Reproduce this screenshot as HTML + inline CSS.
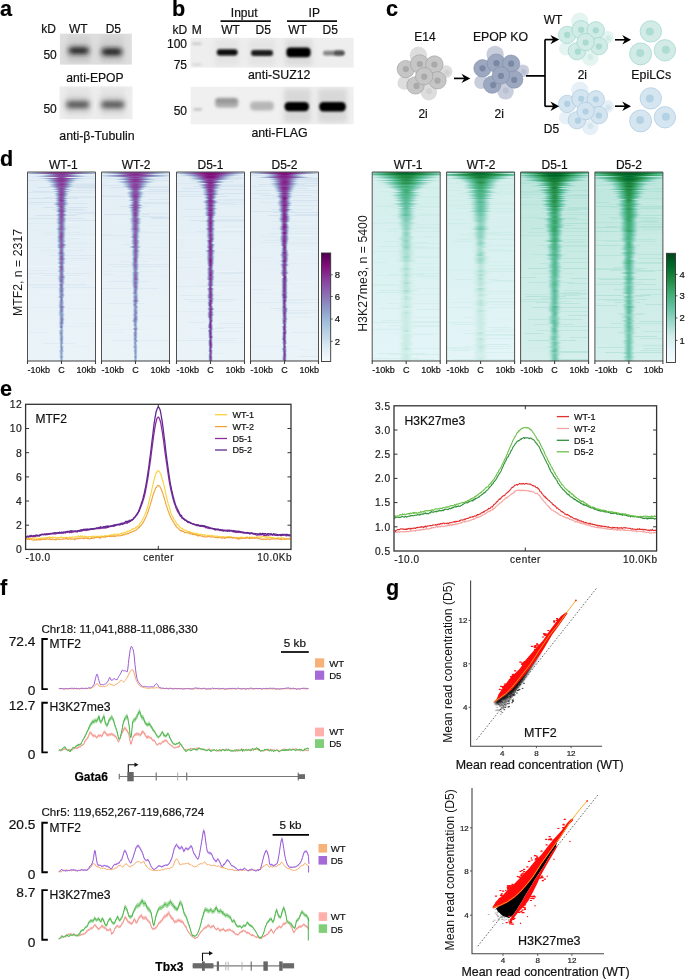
<!DOCTYPE html>
<html><head><meta charset="utf-8"><title>Figure</title><style>html,body{margin:0;padding:0;background:#fff}body{width:685px;height:979px;overflow:hidden;position:relative;font-family:"Liberation Sans",sans-serif}svg.main{position:absolute;left:0;top:0;font-family:"Liberation Sans",sans-serif;will-change:transform}</style></head><body><svg class="main" width="685" height="979" viewBox="0 0 685 979"><defs><linearGradient id="p0"><stop offset="0.000" stop-color="#e6f0f7" stop-opacity="0.00"/><stop offset="0.100" stop-color="#e6f0f6" stop-opacity="0.01"/><stop offset="0.200" stop-color="#e4eff6" stop-opacity="0.23"/><stop offset="0.275" stop-color="#dce9f2" stop-opacity="0.96"/><stop offset="0.350" stop-color="#c9daea"/><stop offset="0.410" stop-color="#bacfe4"/><stop offset="0.460" stop-color="#b3cbe2"/><stop offset="0.500" stop-color="#b2cae1"/><stop offset="0.540" stop-color="#b3cbe2"/><stop offset="0.590" stop-color="#bacfe4"/><stop offset="0.650" stop-color="#c9daea"/><stop offset="0.725" stop-color="#dce9f2" stop-opacity="0.96"/><stop offset="0.800" stop-color="#e4eff6" stop-opacity="0.23"/><stop offset="0.900" stop-color="#e6f0f6" stop-opacity="0.01"/><stop offset="1.000" stop-color="#e6f0f7" stop-opacity="0.00"/></linearGradient><linearGradient id="p1"><stop offset="0.000" stop-color="#e6f0f7" stop-opacity="0.00"/><stop offset="0.100" stop-color="#e6f0f6" stop-opacity="0.01"/><stop offset="0.200" stop-color="#e4eff6" stop-opacity="0.23"/><stop offset="0.275" stop-color="#dae7f1" stop-opacity="0.96"/><stop offset="0.350" stop-color="#c4d6e8"/><stop offset="0.410" stop-color="#b2cae1"/><stop offset="0.460" stop-color="#aac5de"/><stop offset="0.500" stop-color="#a9c4de"/><stop offset="0.540" stop-color="#aac5de"/><stop offset="0.590" stop-color="#b2cae1"/><stop offset="0.650" stop-color="#c4d6e8"/><stop offset="0.725" stop-color="#dae7f1" stop-opacity="0.96"/><stop offset="0.800" stop-color="#e4eff6" stop-opacity="0.23"/><stop offset="0.900" stop-color="#e6f0f6" stop-opacity="0.01"/><stop offset="1.000" stop-color="#e6f0f7" stop-opacity="0.00"/></linearGradient><linearGradient id="p2"><stop offset="0.000" stop-color="#e6f0f7" stop-opacity="0.00"/><stop offset="0.100" stop-color="#e6f0f6" stop-opacity="0.01"/><stop offset="0.200" stop-color="#e3eef5" stop-opacity="0.23"/><stop offset="0.275" stop-color="#d8e6f0" stop-opacity="0.96"/><stop offset="0.350" stop-color="#bed3e6"/><stop offset="0.410" stop-color="#aac5df"/><stop offset="0.460" stop-color="#a1bedb"/><stop offset="0.500" stop-color="#a0bddb"/><stop offset="0.540" stop-color="#a1bedb"/><stop offset="0.590" stop-color="#aac5df"/><stop offset="0.650" stop-color="#bed3e6"/><stop offset="0.725" stop-color="#d8e6f0" stop-opacity="0.96"/><stop offset="0.800" stop-color="#e3eef5" stop-opacity="0.23"/><stop offset="0.900" stop-color="#e6f0f6" stop-opacity="0.01"/><stop offset="1.000" stop-color="#e6f0f7" stop-opacity="0.00"/></linearGradient><linearGradient id="p3"><stop offset="0.000" stop-color="#e6f0f7" stop-opacity="0.00"/><stop offset="0.100" stop-color="#e6f0f6" stop-opacity="0.01"/><stop offset="0.200" stop-color="#e3eef5" stop-opacity="0.23"/><stop offset="0.275" stop-color="#d5e4f0" stop-opacity="0.96"/><stop offset="0.350" stop-color="#b9cfe4"/><stop offset="0.410" stop-color="#a3bfdc"/><stop offset="0.460" stop-color="#9bb6d7"/><stop offset="0.500" stop-color="#9ab4d6"/><stop offset="0.540" stop-color="#9bb6d7"/><stop offset="0.590" stop-color="#a3bfdc"/><stop offset="0.650" stop-color="#b9cfe4"/><stop offset="0.725" stop-color="#d5e4f0" stop-opacity="0.96"/><stop offset="0.800" stop-color="#e3eef5" stop-opacity="0.23"/><stop offset="0.900" stop-color="#e6f0f6" stop-opacity="0.01"/><stop offset="1.000" stop-color="#e6f0f7" stop-opacity="0.00"/></linearGradient><linearGradient id="p4"><stop offset="0.000" stop-color="#e6f0f7" stop-opacity="0.00"/><stop offset="0.100" stop-color="#e6f0f6" stop-opacity="0.01"/><stop offset="0.200" stop-color="#e3eef5" stop-opacity="0.23"/><stop offset="0.275" stop-color="#d3e2ef" stop-opacity="0.96"/><stop offset="0.350" stop-color="#b4cbe2"/><stop offset="0.410" stop-color="#9cb9d8"/><stop offset="0.460" stop-color="#96acd1"/><stop offset="0.500" stop-color="#95a9d0"/><stop offset="0.540" stop-color="#96acd1"/><stop offset="0.590" stop-color="#9cb9d8"/><stop offset="0.650" stop-color="#b4cbe2"/><stop offset="0.725" stop-color="#d3e2ef" stop-opacity="0.96"/><stop offset="0.800" stop-color="#e3eef5" stop-opacity="0.23"/><stop offset="0.900" stop-color="#e6f0f6" stop-opacity="0.01"/><stop offset="1.000" stop-color="#e6f0f7" stop-opacity="0.00"/></linearGradient><linearGradient id="p5"><stop offset="0.000" stop-color="#e6f0f7" stop-opacity="0.00"/><stop offset="0.100" stop-color="#e6f0f6" stop-opacity="0.01"/><stop offset="0.200" stop-color="#e2eef5" stop-opacity="0.23"/><stop offset="0.275" stop-color="#d1e1ee" stop-opacity="0.96"/><stop offset="0.350" stop-color="#afc8e0"/><stop offset="0.410" stop-color="#98b0d4"/><stop offset="0.460" stop-color="#91a1cc"/><stop offset="0.500" stop-color="#909fcb"/><stop offset="0.540" stop-color="#91a1cc"/><stop offset="0.590" stop-color="#98b0d4"/><stop offset="0.650" stop-color="#afc8e0"/><stop offset="0.725" stop-color="#d1e1ee" stop-opacity="0.96"/><stop offset="0.800" stop-color="#e2eef5" stop-opacity="0.23"/><stop offset="0.900" stop-color="#e6f0f6" stop-opacity="0.01"/><stop offset="1.000" stop-color="#e6f0f7" stop-opacity="0.00"/></linearGradient><linearGradient id="p6"><stop offset="0.000" stop-color="#e6f0f7" stop-opacity="0.00"/><stop offset="0.100" stop-color="#e6f0f6" stop-opacity="0.01"/><stop offset="0.200" stop-color="#e2edf5" stop-opacity="0.23"/><stop offset="0.275" stop-color="#cfdfed" stop-opacity="0.96"/><stop offset="0.350" stop-color="#a9c4de"/><stop offset="0.410" stop-color="#94a7cf"/><stop offset="0.460" stop-color="#8d97c7"/><stop offset="0.500" stop-color="#8c94c5"/><stop offset="0.540" stop-color="#8d97c7"/><stop offset="0.590" stop-color="#94a7cf"/><stop offset="0.650" stop-color="#a9c4de"/><stop offset="0.725" stop-color="#cfdfed" stop-opacity="0.96"/><stop offset="0.800" stop-color="#e2edf5" stop-opacity="0.23"/><stop offset="0.900" stop-color="#e6f0f6" stop-opacity="0.01"/><stop offset="1.000" stop-color="#e6f0f7" stop-opacity="0.00"/></linearGradient><linearGradient id="p7"><stop offset="0.000" stop-color="#e6f0f7" stop-opacity="0.00"/><stop offset="0.100" stop-color="#e6f0f6" stop-opacity="0.01"/><stop offset="0.200" stop-color="#e2edf5" stop-opacity="0.23"/><stop offset="0.275" stop-color="#cdddec" stop-opacity="0.96"/><stop offset="0.350" stop-color="#a4c0dc"/><stop offset="0.410" stop-color="#909eca"/><stop offset="0.460" stop-color="#8c8cc1"/><stop offset="0.500" stop-color="#8c88bf"/><stop offset="0.540" stop-color="#8c8cc1"/><stop offset="0.590" stop-color="#909eca"/><stop offset="0.650" stop-color="#a4c0dc"/><stop offset="0.725" stop-color="#cdddec" stop-opacity="0.96"/><stop offset="0.800" stop-color="#e2edf5" stop-opacity="0.23"/><stop offset="0.900" stop-color="#e6f0f6" stop-opacity="0.01"/><stop offset="1.000" stop-color="#e6f0f7" stop-opacity="0.00"/></linearGradient><linearGradient id="p8"><stop offset="0.000" stop-color="#e6f0f7" stop-opacity="0.00"/><stop offset="0.100" stop-color="#e6f0f6" stop-opacity="0.01"/><stop offset="0.200" stop-color="#e1edf4" stop-opacity="0.23"/><stop offset="0.275" stop-color="#cbdceb" stop-opacity="0.96"/><stop offset="0.350" stop-color="#9fbcda"/><stop offset="0.410" stop-color="#8c95c6"/><stop offset="0.460" stop-color="#8c80bb"/><stop offset="0.500" stop-color="#8c7dba"/><stop offset="0.540" stop-color="#8c80bb"/><stop offset="0.590" stop-color="#8c95c6"/><stop offset="0.650" stop-color="#9fbcda"/><stop offset="0.725" stop-color="#cbdceb" stop-opacity="0.96"/><stop offset="0.800" stop-color="#e1edf4" stop-opacity="0.23"/><stop offset="0.900" stop-color="#e6f0f6" stop-opacity="0.01"/><stop offset="1.000" stop-color="#e6f0f7" stop-opacity="0.00"/></linearGradient><linearGradient id="p9"><stop offset="0.000" stop-color="#e6f0f7" stop-opacity="0.00"/><stop offset="0.100" stop-color="#e6f0f6" stop-opacity="0.01"/><stop offset="0.200" stop-color="#e1edf4" stop-opacity="0.23"/><stop offset="0.275" stop-color="#c8daea" stop-opacity="0.96"/><stop offset="0.350" stop-color="#9cb7d7"/><stop offset="0.410" stop-color="#8c8bc1"/><stop offset="0.460" stop-color="#8c75b6"/><stop offset="0.500" stop-color="#8c71b4"/><stop offset="0.540" stop-color="#8c75b6"/><stop offset="0.590" stop-color="#8c8bc1"/><stop offset="0.650" stop-color="#9cb7d7"/><stop offset="0.725" stop-color="#c8daea" stop-opacity="0.96"/><stop offset="0.800" stop-color="#e1edf4" stop-opacity="0.23"/><stop offset="0.900" stop-color="#e6f0f6" stop-opacity="0.01"/><stop offset="1.000" stop-color="#e6f0f7" stop-opacity="0.00"/></linearGradient><linearGradient id="p10"><stop offset="0.000" stop-color="#e6f0f7" stop-opacity="0.00"/><stop offset="0.100" stop-color="#e6f0f6" stop-opacity="0.01"/><stop offset="0.200" stop-color="#e1ecf4" stop-opacity="0.23"/><stop offset="0.275" stop-color="#c6d8e9" stop-opacity="0.96"/><stop offset="0.350" stop-color="#99b1d4"/><stop offset="0.410" stop-color="#8c81bc"/><stop offset="0.460" stop-color="#8c69b0"/><stop offset="0.500" stop-color="#8b65ae"/><stop offset="0.540" stop-color="#8c69b0"/><stop offset="0.590" stop-color="#8c81bc"/><stop offset="0.650" stop-color="#99b1d4"/><stop offset="0.725" stop-color="#c6d8e9" stop-opacity="0.96"/><stop offset="0.800" stop-color="#e1ecf4" stop-opacity="0.23"/><stop offset="0.900" stop-color="#e6f0f6" stop-opacity="0.01"/><stop offset="1.000" stop-color="#e6f0f7" stop-opacity="0.00"/></linearGradient><linearGradient id="p11"><stop offset="0.000" stop-color="#e6f0f7" stop-opacity="0.00"/><stop offset="0.100" stop-color="#e6f0f6" stop-opacity="0.01"/><stop offset="0.200" stop-color="#e0ecf4" stop-opacity="0.23"/><stop offset="0.275" stop-color="#c4d7e8" stop-opacity="0.96"/><stop offset="0.350" stop-color="#96abd1"/><stop offset="0.410" stop-color="#8c77b7"/><stop offset="0.460" stop-color="#8b5eab"/><stop offset="0.500" stop-color="#8a5aa9"/><stop offset="0.540" stop-color="#8b5eab"/><stop offset="0.590" stop-color="#8c77b7"/><stop offset="0.650" stop-color="#96abd1"/><stop offset="0.725" stop-color="#c4d7e8" stop-opacity="0.96"/><stop offset="0.800" stop-color="#e0ecf4" stop-opacity="0.23"/><stop offset="0.900" stop-color="#e6f0f6" stop-opacity="0.01"/><stop offset="1.000" stop-color="#e6f0f7" stop-opacity="0.00"/></linearGradient><linearGradient id="p12"><stop offset="0.000" stop-color="#e6f0f7" stop-opacity="0.00"/><stop offset="0.100" stop-color="#e6f0f6" stop-opacity="0.01"/><stop offset="0.200" stop-color="#e0ecf4" stop-opacity="0.23"/><stop offset="0.275" stop-color="#c2d5e7" stop-opacity="0.96"/><stop offset="0.350" stop-color="#93a5ce"/><stop offset="0.410" stop-color="#8c6db2"/><stop offset="0.460" stop-color="#8a53a6"/><stop offset="0.500" stop-color="#894ea3"/><stop offset="0.540" stop-color="#8a53a6"/><stop offset="0.590" stop-color="#8c6db2"/><stop offset="0.650" stop-color="#93a5ce"/><stop offset="0.725" stop-color="#c2d5e7" stop-opacity="0.96"/><stop offset="0.800" stop-color="#e0ecf4" stop-opacity="0.23"/><stop offset="0.900" stop-color="#e6f0f6" stop-opacity="0.01"/><stop offset="1.000" stop-color="#e6f0f7" stop-opacity="0.00"/></linearGradient><linearGradient id="p13"><stop offset="0.000" stop-color="#e6f0f7" stop-opacity="0.00"/><stop offset="0.100" stop-color="#e6f0f6" stop-opacity="0.01"/><stop offset="0.200" stop-color="#dfebf4" stop-opacity="0.23"/><stop offset="0.275" stop-color="#c0d4e6" stop-opacity="0.96"/><stop offset="0.350" stop-color="#909eca"/><stop offset="0.410" stop-color="#8b63ad"/><stop offset="0.460" stop-color="#8948a0"/><stop offset="0.500" stop-color="#88439e"/><stop offset="0.540" stop-color="#8948a0"/><stop offset="0.590" stop-color="#8b63ad"/><stop offset="0.650" stop-color="#909eca"/><stop offset="0.725" stop-color="#c0d4e6" stop-opacity="0.96"/><stop offset="0.800" stop-color="#dfebf4" stop-opacity="0.23"/><stop offset="0.900" stop-color="#e6f0f6" stop-opacity="0.01"/><stop offset="1.000" stop-color="#e6f0f7" stop-opacity="0.00"/></linearGradient><linearGradient id="p14"><stop offset="0.000" stop-color="#e6f0f7" stop-opacity="0.00"/><stop offset="0.100" stop-color="#e6f0f6" stop-opacity="0.01"/><stop offset="0.200" stop-color="#dfebf3" stop-opacity="0.23"/><stop offset="0.275" stop-color="#bdd2e5" stop-opacity="0.96"/><stop offset="0.350" stop-color="#8d98c7"/><stop offset="0.410" stop-color="#8a59a8"/><stop offset="0.460" stop-color="#873c99"/><stop offset="0.500" stop-color="#863595"/><stop offset="0.540" stop-color="#873c99"/><stop offset="0.590" stop-color="#8a59a8"/><stop offset="0.650" stop-color="#8d98c7"/><stop offset="0.725" stop-color="#bdd2e5" stop-opacity="0.96"/><stop offset="0.800" stop-color="#dfebf3" stop-opacity="0.23"/><stop offset="0.900" stop-color="#e6f0f6" stop-opacity="0.01"/><stop offset="1.000" stop-color="#e6f0f7" stop-opacity="0.00"/></linearGradient><linearGradient id="p15"><stop offset="0.000" stop-color="#e6f0f7" stop-opacity="0.00"/><stop offset="0.100" stop-color="#e6f0f6" stop-opacity="0.01"/><stop offset="0.200" stop-color="#deebf3" stop-opacity="0.23"/><stop offset="0.275" stop-color="#bbd0e5" stop-opacity="0.96"/><stop offset="0.350" stop-color="#8c92c4"/><stop offset="0.410" stop-color="#894fa4"/><stop offset="0.460" stop-color="#852e91"/><stop offset="0.500" stop-color="#84288c"/><stop offset="0.540" stop-color="#852e91"/><stop offset="0.590" stop-color="#894fa4"/><stop offset="0.650" stop-color="#8c92c4"/><stop offset="0.725" stop-color="#bbd0e5" stop-opacity="0.96"/><stop offset="0.800" stop-color="#deebf3" stop-opacity="0.23"/><stop offset="0.900" stop-color="#e6f0f6" stop-opacity="0.01"/><stop offset="1.000" stop-color="#e6f0f7" stop-opacity="0.00"/></linearGradient><linearGradient id="p16"><stop offset="0.000" stop-color="#e6f0f7" stop-opacity="0.00"/><stop offset="0.100" stop-color="#e6f0f6" stop-opacity="0.01"/><stop offset="0.200" stop-color="#deeaf3" stop-opacity="0.23"/><stop offset="0.275" stop-color="#b9cfe4" stop-opacity="0.96"/><stop offset="0.350" stop-color="#8c8bc1"/><stop offset="0.410" stop-color="#88459f"/><stop offset="0.460" stop-color="#832188"/><stop offset="0.500" stop-color="#831a83"/><stop offset="0.540" stop-color="#832188"/><stop offset="0.590" stop-color="#88459f"/><stop offset="0.650" stop-color="#8c8bc1"/><stop offset="0.725" stop-color="#b9cfe4" stop-opacity="0.96"/><stop offset="0.800" stop-color="#deeaf3" stop-opacity="0.23"/><stop offset="0.900" stop-color="#e6f0f6" stop-opacity="0.01"/><stop offset="1.000" stop-color="#e6f0f7" stop-opacity="0.00"/></linearGradient><linearGradient id="p17"><stop offset="0.000" stop-color="#e6f0f7" stop-opacity="0.00"/><stop offset="0.100" stop-color="#e6f0f6" stop-opacity="0.01"/><stop offset="0.200" stop-color="#ddeaf3" stop-opacity="0.23"/><stop offset="0.275" stop-color="#b7cde3" stop-opacity="0.96"/><stop offset="0.350" stop-color="#8c84bd"/><stop offset="0.410" stop-color="#873b99"/><stop offset="0.460" stop-color="#82137f"/><stop offset="0.500" stop-color="#7e0e79"/><stop offset="0.540" stop-color="#82137f"/><stop offset="0.590" stop-color="#873b99"/><stop offset="0.650" stop-color="#8c84bd"/><stop offset="0.725" stop-color="#b7cde3" stop-opacity="0.96"/><stop offset="0.800" stop-color="#ddeaf3" stop-opacity="0.23"/><stop offset="0.900" stop-color="#e6f0f6" stop-opacity="0.01"/><stop offset="1.000" stop-color="#e6f0f7" stop-opacity="0.00"/></linearGradient><linearGradient id="p18"><stop offset="0.000" stop-color="#e6f0f7" stop-opacity="0.00"/><stop offset="0.100" stop-color="#e6f0f6" stop-opacity="0.01"/><stop offset="0.200" stop-color="#dde9f3" stop-opacity="0.23"/><stop offset="0.275" stop-color="#b5cce2" stop-opacity="0.96"/><stop offset="0.350" stop-color="#8c7dba"/><stop offset="0.410" stop-color="#852f91"/><stop offset="0.460" stop-color="#780c73"/><stop offset="0.500" stop-color="#700a6c"/><stop offset="0.540" stop-color="#780c73"/><stop offset="0.590" stop-color="#852f91"/><stop offset="0.650" stop-color="#8c7dba"/><stop offset="0.725" stop-color="#b5cce2" stop-opacity="0.96"/><stop offset="0.800" stop-color="#dde9f3" stop-opacity="0.23"/><stop offset="0.900" stop-color="#e6f0f6" stop-opacity="0.01"/><stop offset="1.000" stop-color="#e6f0f7" stop-opacity="0.00"/></linearGradient><linearGradient id="p19"><stop offset="0.000" stop-color="#e6f0f7" stop-opacity="0.00"/><stop offset="0.100" stop-color="#e6f0f6" stop-opacity="0.01"/><stop offset="0.200" stop-color="#dce9f2" stop-opacity="0.23"/><stop offset="0.275" stop-color="#b3cae1" stop-opacity="0.96"/><stop offset="0.350" stop-color="#8c76b7"/><stop offset="0.410" stop-color="#842389"/><stop offset="0.460" stop-color="#6a0866"/><stop offset="0.500" stop-color="#62065f"/><stop offset="0.540" stop-color="#6a0866"/><stop offset="0.590" stop-color="#842389"/><stop offset="0.650" stop-color="#8c76b7"/><stop offset="0.725" stop-color="#b3cae1" stop-opacity="0.96"/><stop offset="0.800" stop-color="#dce9f2" stop-opacity="0.23"/><stop offset="0.900" stop-color="#e6f0f6" stop-opacity="0.01"/><stop offset="1.000" stop-color="#e6f0f7" stop-opacity="0.00"/></linearGradient><linearGradient id="g0"><stop offset="0.000" stop-color="#ccece6" stop-opacity="0.00"/><stop offset="0.100" stop-color="#ccece6" stop-opacity="0.07"/><stop offset="0.200" stop-color="#cdece6" stop-opacity="0.42"/><stop offset="0.275" stop-color="#ceede7"/><stop offset="0.350" stop-color="#cfede9"/><stop offset="0.410" stop-color="#d1eeea"/><stop offset="0.460" stop-color="#d2eeea"/><stop offset="0.500" stop-color="#d2eeeb"/><stop offset="0.540" stop-color="#d2eeea"/><stop offset="0.590" stop-color="#d1eeea"/><stop offset="0.650" stop-color="#cfede9"/><stop offset="0.725" stop-color="#ceede7"/><stop offset="0.800" stop-color="#cdece6" stop-opacity="0.42"/><stop offset="0.900" stop-color="#ccece6" stop-opacity="0.07"/><stop offset="1.000" stop-color="#ccece6" stop-opacity="0.00"/></linearGradient><linearGradient id="g1"><stop offset="0.000" stop-color="#ccece6" stop-opacity="0.00"/><stop offset="0.100" stop-color="#ccece6" stop-opacity="0.07"/><stop offset="0.200" stop-color="#ccece6" stop-opacity="0.42"/><stop offset="0.275" stop-color="#cbece6"/><stop offset="0.350" stop-color="#caebe5"/><stop offset="0.410" stop-color="#caebe5"/><stop offset="0.460" stop-color="#c9ebe4"/><stop offset="0.500" stop-color="#c9ebe4"/><stop offset="0.540" stop-color="#c9ebe4"/><stop offset="0.590" stop-color="#caebe5"/><stop offset="0.650" stop-color="#caebe5"/><stop offset="0.725" stop-color="#cbece6"/><stop offset="0.800" stop-color="#ccece6" stop-opacity="0.42"/><stop offset="0.900" stop-color="#ccece6" stop-opacity="0.07"/><stop offset="1.000" stop-color="#ccece6" stop-opacity="0.00"/></linearGradient><linearGradient id="g2"><stop offset="0.000" stop-color="#ccece6" stop-opacity="0.00"/><stop offset="0.100" stop-color="#ccece6" stop-opacity="0.07"/><stop offset="0.200" stop-color="#caebe5" stop-opacity="0.42"/><stop offset="0.275" stop-color="#c7eae3"/><stop offset="0.350" stop-color="#c2e8e0"/><stop offset="0.410" stop-color="#bde6de"/><stop offset="0.460" stop-color="#bbe5dc"/><stop offset="0.500" stop-color="#bae5dc"/><stop offset="0.540" stop-color="#bbe5dc"/><stop offset="0.590" stop-color="#bde6de"/><stop offset="0.650" stop-color="#c2e8e0"/><stop offset="0.725" stop-color="#c7eae3"/><stop offset="0.800" stop-color="#caebe5" stop-opacity="0.42"/><stop offset="0.900" stop-color="#ccece6" stop-opacity="0.07"/><stop offset="1.000" stop-color="#ccece6" stop-opacity="0.00"/></linearGradient><linearGradient id="g3"><stop offset="0.000" stop-color="#ccece6" stop-opacity="0.00"/><stop offset="0.100" stop-color="#cbece6" stop-opacity="0.07"/><stop offset="0.200" stop-color="#c9ebe4" stop-opacity="0.42"/><stop offset="0.275" stop-color="#c3e8e1"/><stop offset="0.350" stop-color="#b9e5db"/><stop offset="0.410" stop-color="#b1e1d7"/><stop offset="0.460" stop-color="#ace0d4"/><stop offset="0.500" stop-color="#abdfd3"/><stop offset="0.540" stop-color="#ace0d4"/><stop offset="0.590" stop-color="#b1e1d7"/><stop offset="0.650" stop-color="#b9e5db"/><stop offset="0.725" stop-color="#c3e8e1"/><stop offset="0.800" stop-color="#c9ebe4" stop-opacity="0.42"/><stop offset="0.900" stop-color="#cbece6" stop-opacity="0.07"/><stop offset="1.000" stop-color="#ccece6" stop-opacity="0.00"/></linearGradient><linearGradient id="g4"><stop offset="0.000" stop-color="#ccece6" stop-opacity="0.00"/><stop offset="0.100" stop-color="#cbece6" stop-opacity="0.07"/><stop offset="0.200" stop-color="#c7eae3" stop-opacity="0.42"/><stop offset="0.275" stop-color="#bfe7de"/><stop offset="0.350" stop-color="#b1e1d6"/><stop offset="0.410" stop-color="#a5ddd0"/><stop offset="0.460" stop-color="#9edacc"/><stop offset="0.500" stop-color="#9cd9cb"/><stop offset="0.540" stop-color="#9edacc"/><stop offset="0.590" stop-color="#a5ddd0"/><stop offset="0.650" stop-color="#b1e1d6"/><stop offset="0.725" stop-color="#bfe7de"/><stop offset="0.800" stop-color="#c7eae3" stop-opacity="0.42"/><stop offset="0.900" stop-color="#cbece6" stop-opacity="0.07"/><stop offset="1.000" stop-color="#ccece6" stop-opacity="0.00"/></linearGradient><linearGradient id="g5"><stop offset="0.000" stop-color="#ccece6" stop-opacity="0.00"/><stop offset="0.100" stop-color="#cbece5" stop-opacity="0.07"/><stop offset="0.200" stop-color="#c5e9e2" stop-opacity="0.42"/><stop offset="0.275" stop-color="#bae5dc"/><stop offset="0.350" stop-color="#a8ded2"/><stop offset="0.410" stop-color="#99d8c9"/><stop offset="0.460" stop-color="#90d4c2"/><stop offset="0.500" stop-color="#8dd3c0"/><stop offset="0.540" stop-color="#90d4c2"/><stop offset="0.590" stop-color="#99d8c9"/><stop offset="0.650" stop-color="#a8ded2"/><stop offset="0.725" stop-color="#bae5dc"/><stop offset="0.800" stop-color="#c5e9e2" stop-opacity="0.42"/><stop offset="0.900" stop-color="#cbece5" stop-opacity="0.07"/><stop offset="1.000" stop-color="#ccece6" stop-opacity="0.00"/></linearGradient><linearGradient id="g6"><stop offset="0.000" stop-color="#ccece6" stop-opacity="0.00"/><stop offset="0.100" stop-color="#cbebe5" stop-opacity="0.07"/><stop offset="0.200" stop-color="#c4e9e1" stop-opacity="0.42"/><stop offset="0.275" stop-color="#b6e3da"/><stop offset="0.350" stop-color="#a0dbcd"/><stop offset="0.410" stop-color="#8cd3c0"/><stop offset="0.460" stop-color="#81ceb8"/><stop offset="0.500" stop-color="#7eccb5"/><stop offset="0.540" stop-color="#81ceb8"/><stop offset="0.590" stop-color="#8cd3c0"/><stop offset="0.650" stop-color="#a0dbcd"/><stop offset="0.725" stop-color="#b6e3da"/><stop offset="0.800" stop-color="#c4e9e1" stop-opacity="0.42"/><stop offset="0.900" stop-color="#cbebe5" stop-opacity="0.07"/><stop offset="1.000" stop-color="#ccece6" stop-opacity="0.00"/></linearGradient><linearGradient id="g7"><stop offset="0.000" stop-color="#ccece6" stop-opacity="0.00"/><stop offset="0.100" stop-color="#caebe5" stop-opacity="0.07"/><stop offset="0.200" stop-color="#c2e8e1" stop-opacity="0.42"/><stop offset="0.275" stop-color="#b2e2d7"/><stop offset="0.350" stop-color="#97d7c8"/><stop offset="0.410" stop-color="#80cdb7"/><stop offset="0.460" stop-color="#73c7ad"/><stop offset="0.500" stop-color="#6fc6ab"/><stop offset="0.540" stop-color="#73c7ad"/><stop offset="0.590" stop-color="#80cdb7"/><stop offset="0.650" stop-color="#97d7c8"/><stop offset="0.725" stop-color="#b2e2d7"/><stop offset="0.800" stop-color="#c2e8e1" stop-opacity="0.42"/><stop offset="0.900" stop-color="#caebe5" stop-opacity="0.07"/><stop offset="1.000" stop-color="#ccece6" stop-opacity="0.00"/></linearGradient><linearGradient id="g8"><stop offset="0.000" stop-color="#ccece6" stop-opacity="0.00"/><stop offset="0.100" stop-color="#caebe5" stop-opacity="0.07"/><stop offset="0.200" stop-color="#c1e8e0" stop-opacity="0.42"/><stop offset="0.275" stop-color="#aee0d5"/><stop offset="0.350" stop-color="#8ed3c1"/><stop offset="0.410" stop-color="#74c8ae"/><stop offset="0.460" stop-color="#65c1a2"/><stop offset="0.500" stop-color="#62c09f"/><stop offset="0.540" stop-color="#65c1a2"/><stop offset="0.590" stop-color="#74c8ae"/><stop offset="0.650" stop-color="#8ed3c1"/><stop offset="0.725" stop-color="#aee0d5"/><stop offset="0.800" stop-color="#c1e8e0" stop-opacity="0.42"/><stop offset="0.900" stop-color="#caebe5" stop-opacity="0.07"/><stop offset="1.000" stop-color="#ccece6" stop-opacity="0.00"/></linearGradient><linearGradient id="g9"><stop offset="0.000" stop-color="#ccece6" stop-opacity="0.00"/><stop offset="0.100" stop-color="#caebe5" stop-opacity="0.07"/><stop offset="0.200" stop-color="#bfe7df" stop-opacity="0.42"/><stop offset="0.275" stop-color="#a9ded2"/><stop offset="0.350" stop-color="#86d0bb"/><stop offset="0.410" stop-color="#68c3a5"/><stop offset="0.460" stop-color="#5abc95"/><stop offset="0.500" stop-color="#57ba91"/><stop offset="0.540" stop-color="#5abc95"/><stop offset="0.590" stop-color="#68c3a5"/><stop offset="0.650" stop-color="#86d0bb"/><stop offset="0.725" stop-color="#a9ded2"/><stop offset="0.800" stop-color="#bfe7df" stop-opacity="0.42"/><stop offset="0.900" stop-color="#caebe5" stop-opacity="0.07"/><stop offset="1.000" stop-color="#ccece6" stop-opacity="0.00"/></linearGradient><linearGradient id="g10"><stop offset="0.000" stop-color="#ccece6" stop-opacity="0.00"/><stop offset="0.100" stop-color="#caebe5" stop-opacity="0.07"/><stop offset="0.200" stop-color="#bee6de" stop-opacity="0.42"/><stop offset="0.275" stop-color="#a5ddd0"/><stop offset="0.350" stop-color="#7dccb5"/><stop offset="0.410" stop-color="#5ebe9a"/><stop offset="0.460" stop-color="#50b688"/><stop offset="0.500" stop-color="#4cb483"/><stop offset="0.540" stop-color="#50b688"/><stop offset="0.590" stop-color="#5ebe9a"/><stop offset="0.650" stop-color="#7dccb5"/><stop offset="0.725" stop-color="#a5ddd0"/><stop offset="0.800" stop-color="#bee6de" stop-opacity="0.42"/><stop offset="0.900" stop-color="#caebe5" stop-opacity="0.07"/><stop offset="1.000" stop-color="#ccece6" stop-opacity="0.00"/></linearGradient><linearGradient id="g11"><stop offset="0.000" stop-color="#ccece6" stop-opacity="0.00"/><stop offset="0.100" stop-color="#c9ebe5" stop-opacity="0.07"/><stop offset="0.200" stop-color="#bce6dd" stop-opacity="0.42"/><stop offset="0.275" stop-color="#a1dbcd"/><stop offset="0.350" stop-color="#75c8af"/><stop offset="0.410" stop-color="#55b98f"/><stop offset="0.460" stop-color="#45b07b"/><stop offset="0.500" stop-color="#41ae76"/><stop offset="0.540" stop-color="#45b07b"/><stop offset="0.590" stop-color="#55b98f"/><stop offset="0.650" stop-color="#75c8af"/><stop offset="0.725" stop-color="#a1dbcd"/><stop offset="0.800" stop-color="#bce6dd" stop-opacity="0.42"/><stop offset="0.900" stop-color="#c9ebe5" stop-opacity="0.07"/><stop offset="1.000" stop-color="#ccece6" stop-opacity="0.00"/></linearGradient><linearGradient id="g12"><stop offset="0.000" stop-color="#ccece6" stop-opacity="0.00"/><stop offset="0.100" stop-color="#c9ebe4" stop-opacity="0.07"/><stop offset="0.200" stop-color="#bae5dc" stop-opacity="0.42"/><stop offset="0.275" stop-color="#9dd9cb"/><stop offset="0.350" stop-color="#6cc5a9"/><stop offset="0.410" stop-color="#4cb484"/><stop offset="0.460" stop-color="#3ca86e"/><stop offset="0.500" stop-color="#38a467"/><stop offset="0.540" stop-color="#3ca86e"/><stop offset="0.590" stop-color="#4cb484"/><stop offset="0.650" stop-color="#6cc5a9"/><stop offset="0.725" stop-color="#9dd9cb"/><stop offset="0.800" stop-color="#bae5dc" stop-opacity="0.42"/><stop offset="0.900" stop-color="#c9ebe4" stop-opacity="0.07"/><stop offset="1.000" stop-color="#ccece6" stop-opacity="0.00"/></linearGradient><linearGradient id="g13"><stop offset="0.000" stop-color="#ccece6" stop-opacity="0.00"/><stop offset="0.100" stop-color="#c9ebe4" stop-opacity="0.07"/><stop offset="0.200" stop-color="#b9e5db" stop-opacity="0.42"/><stop offset="0.275" stop-color="#98d8c9"/><stop offset="0.350" stop-color="#64c1a2"/><stop offset="0.410" stop-color="#43af79"/><stop offset="0.460" stop-color="#339e60"/><stop offset="0.500" stop-color="#2f9959"/><stop offset="0.540" stop-color="#339e60"/><stop offset="0.590" stop-color="#43af79"/><stop offset="0.650" stop-color="#64c1a2"/><stop offset="0.725" stop-color="#98d8c9"/><stop offset="0.800" stop-color="#b9e5db" stop-opacity="0.42"/><stop offset="0.900" stop-color="#c9ebe4" stop-opacity="0.07"/><stop offset="1.000" stop-color="#ccece6" stop-opacity="0.00"/></linearGradient><linearGradient id="g14"><stop offset="0.000" stop-color="#ccece6" stop-opacity="0.00"/><stop offset="0.100" stop-color="#c9ebe4" stop-opacity="0.07"/><stop offset="0.200" stop-color="#b7e4da" stop-opacity="0.42"/><stop offset="0.275" stop-color="#94d6c6"/><stop offset="0.350" stop-color="#5ebe9a"/><stop offset="0.410" stop-color="#3ca86d"/><stop offset="0.460" stop-color="#2b9452"/><stop offset="0.500" stop-color="#268f4b"/><stop offset="0.540" stop-color="#2b9452"/><stop offset="0.590" stop-color="#3ca86d"/><stop offset="0.650" stop-color="#5ebe9a"/><stop offset="0.725" stop-color="#94d6c6"/><stop offset="0.800" stop-color="#b7e4da" stop-opacity="0.42"/><stop offset="0.900" stop-color="#c9ebe4" stop-opacity="0.07"/><stop offset="1.000" stop-color="#ccece6" stop-opacity="0.00"/></linearGradient><linearGradient id="g15"><stop offset="0.000" stop-color="#ccece6" stop-opacity="0.00"/><stop offset="0.100" stop-color="#c8ebe4" stop-opacity="0.07"/><stop offset="0.200" stop-color="#b6e3d9" stop-opacity="0.42"/><stop offset="0.275" stop-color="#90d4c2"/><stop offset="0.350" stop-color="#58ba92"/><stop offset="0.410" stop-color="#35a062"/><stop offset="0.460" stop-color="#228a45"/><stop offset="0.500" stop-color="#1d8640"/><stop offset="0.540" stop-color="#228a45"/><stop offset="0.590" stop-color="#35a062"/><stop offset="0.650" stop-color="#58ba92"/><stop offset="0.725" stop-color="#90d4c2"/><stop offset="0.800" stop-color="#b6e3d9" stop-opacity="0.42"/><stop offset="0.900" stop-color="#c8ebe4" stop-opacity="0.07"/><stop offset="1.000" stop-color="#ccece6" stop-opacity="0.00"/></linearGradient><linearGradient id="g16"><stop offset="0.000" stop-color="#ccece6" stop-opacity="0.00"/><stop offset="0.100" stop-color="#c8ebe4" stop-opacity="0.07"/><stop offset="0.200" stop-color="#b4e3d8" stop-opacity="0.42"/><stop offset="0.275" stop-color="#8cd2bf"/><stop offset="0.350" stop-color="#52b78b"/><stop offset="0.410" stop-color="#2d9756"/><stop offset="0.460" stop-color="#18823d"/><stop offset="0.500" stop-color="#127d39"/><stop offset="0.540" stop-color="#18823d"/><stop offset="0.590" stop-color="#2d9756"/><stop offset="0.650" stop-color="#52b78b"/><stop offset="0.725" stop-color="#8cd2bf"/><stop offset="0.800" stop-color="#b4e3d8" stop-opacity="0.42"/><stop offset="0.900" stop-color="#c8ebe4" stop-opacity="0.07"/><stop offset="1.000" stop-color="#ccece6" stop-opacity="0.00"/></linearGradient><linearGradient id="g17"><stop offset="0.000" stop-color="#ccece6" stop-opacity="0.00"/><stop offset="0.100" stop-color="#c8eae4" stop-opacity="0.07"/><stop offset="0.200" stop-color="#b3e2d8" stop-opacity="0.42"/><stop offset="0.275" stop-color="#88d0bc"/><stop offset="0.350" stop-color="#4bb483"/><stop offset="0.410" stop-color="#268f4a"/><stop offset="0.460" stop-color="#0f7a36"/><stop offset="0.500" stop-color="#087432"/><stop offset="0.540" stop-color="#0f7a36"/><stop offset="0.590" stop-color="#268f4a"/><stop offset="0.650" stop-color="#4bb483"/><stop offset="0.725" stop-color="#88d0bc"/><stop offset="0.800" stop-color="#b3e2d8" stop-opacity="0.42"/><stop offset="0.900" stop-color="#c8eae4" stop-opacity="0.07"/><stop offset="1.000" stop-color="#ccece6" stop-opacity="0.00"/></linearGradient><linearGradient id="g18"><stop offset="0.000" stop-color="#ccece6" stop-opacity="0.00"/><stop offset="0.100" stop-color="#c8eae4" stop-opacity="0.07"/><stop offset="0.200" stop-color="#b1e1d7" stop-opacity="0.42"/><stop offset="0.275" stop-color="#83cfb9"/><stop offset="0.350" stop-color="#45b07b"/><stop offset="0.410" stop-color="#1e8742"/><stop offset="0.460" stop-color="#05712f"/><stop offset="0.500" stop-color="#006a2b"/><stop offset="0.540" stop-color="#05712f"/><stop offset="0.590" stop-color="#1e8742"/><stop offset="0.650" stop-color="#45b07b"/><stop offset="0.725" stop-color="#83cfb9"/><stop offset="0.800" stop-color="#b1e1d7" stop-opacity="0.42"/><stop offset="0.900" stop-color="#c8eae4" stop-opacity="0.07"/><stop offset="1.000" stop-color="#ccece6" stop-opacity="0.00"/></linearGradient><linearGradient id="g19"><stop offset="0.000" stop-color="#ccece6" stop-opacity="0.00"/><stop offset="0.100" stop-color="#c7eae3" stop-opacity="0.07"/><stop offset="0.200" stop-color="#b0e1d6" stop-opacity="0.42"/><stop offset="0.275" stop-color="#7fcdb6"/><stop offset="0.350" stop-color="#3fac73"/><stop offset="0.410" stop-color="#16803c"/><stop offset="0.460" stop-color="#006729"/><stop offset="0.500" stop-color="#005e26"/><stop offset="0.540" stop-color="#006729"/><stop offset="0.590" stop-color="#16803c"/><stop offset="0.650" stop-color="#3fac73"/><stop offset="0.725" stop-color="#7fcdb6"/><stop offset="0.800" stop-color="#b0e1d6" stop-opacity="0.42"/><stop offset="0.900" stop-color="#c7eae3" stop-opacity="0.07"/><stop offset="1.000" stop-color="#ccece6" stop-opacity="0.00"/></linearGradient><linearGradient id="w0"><stop offset="0.000" stop-color="#d8f0ef" stop-opacity="0.00"/><stop offset="0.100" stop-color="#d8f0ef" stop-opacity="0.07"/><stop offset="0.200" stop-color="#d7f0ef" stop-opacity="0.42"/><stop offset="0.275" stop-color="#d6f0ee"/><stop offset="0.350" stop-color="#d5efed"/><stop offset="0.410" stop-color="#d3efeb"/><stop offset="0.460" stop-color="#d2eeeb"/><stop offset="0.500" stop-color="#d2eeeb"/><stop offset="0.540" stop-color="#d2eeeb"/><stop offset="0.590" stop-color="#d3efeb"/><stop offset="0.650" stop-color="#d5efed"/><stop offset="0.725" stop-color="#d6f0ee"/><stop offset="0.800" stop-color="#d7f0ef" stop-opacity="0.42"/><stop offset="0.900" stop-color="#d8f0ef" stop-opacity="0.07"/><stop offset="1.000" stop-color="#d8f0ef" stop-opacity="0.00"/></linearGradient><linearGradient id="w1"><stop offset="0.000" stop-color="#d8f0ef" stop-opacity="0.00"/><stop offset="0.100" stop-color="#d8f0ef" stop-opacity="0.07"/><stop offset="0.200" stop-color="#d7f0ee" stop-opacity="0.42"/><stop offset="0.275" stop-color="#d4efec"/><stop offset="0.350" stop-color="#d0eee9"/><stop offset="0.410" stop-color="#cdece7"/><stop offset="0.460" stop-color="#caebe5"/><stop offset="0.500" stop-color="#c9ebe4"/><stop offset="0.540" stop-color="#caebe5"/><stop offset="0.590" stop-color="#cdece7"/><stop offset="0.650" stop-color="#d0eee9"/><stop offset="0.725" stop-color="#d4efec"/><stop offset="0.800" stop-color="#d7f0ee" stop-opacity="0.42"/><stop offset="0.900" stop-color="#d8f0ef" stop-opacity="0.07"/><stop offset="1.000" stop-color="#d8f0ef" stop-opacity="0.00"/></linearGradient><linearGradient id="w2"><stop offset="0.000" stop-color="#d8f0ef" stop-opacity="0.00"/><stop offset="0.100" stop-color="#d8f0ef" stop-opacity="0.07"/><stop offset="0.200" stop-color="#d6f0ed" stop-opacity="0.42"/><stop offset="0.275" stop-color="#d2eeeb"/><stop offset="0.350" stop-color="#ccece6"/><stop offset="0.410" stop-color="#c2e8e0"/><stop offset="0.460" stop-color="#bce6dd"/><stop offset="0.500" stop-color="#bae5dc"/><stop offset="0.540" stop-color="#bce6dd"/><stop offset="0.590" stop-color="#c2e8e0"/><stop offset="0.650" stop-color="#ccece6"/><stop offset="0.725" stop-color="#d2eeeb"/><stop offset="0.800" stop-color="#d6f0ed" stop-opacity="0.42"/><stop offset="0.900" stop-color="#d8f0ef" stop-opacity="0.07"/><stop offset="1.000" stop-color="#d8f0ef" stop-opacity="0.00"/></linearGradient><linearGradient id="w3"><stop offset="0.000" stop-color="#d8f0ef" stop-opacity="0.00"/><stop offset="0.100" stop-color="#d8f0ef" stop-opacity="0.07"/><stop offset="0.200" stop-color="#d5efed" stop-opacity="0.42"/><stop offset="0.275" stop-color="#d0ede9"/><stop offset="0.350" stop-color="#c4e9e1"/><stop offset="0.410" stop-color="#b6e3d9"/><stop offset="0.460" stop-color="#ade0d5"/><stop offset="0.500" stop-color="#abdfd3"/><stop offset="0.540" stop-color="#ade0d5"/><stop offset="0.590" stop-color="#b6e3d9"/><stop offset="0.650" stop-color="#c4e9e1"/><stop offset="0.725" stop-color="#d0ede9"/><stop offset="0.800" stop-color="#d5efed" stop-opacity="0.42"/><stop offset="0.900" stop-color="#d8f0ef" stop-opacity="0.07"/><stop offset="1.000" stop-color="#d8f0ef" stop-opacity="0.00"/></linearGradient><linearGradient id="w4"><stop offset="0.000" stop-color="#d8f0ef" stop-opacity="0.00"/><stop offset="0.100" stop-color="#d7f0ef" stop-opacity="0.07"/><stop offset="0.200" stop-color="#d4efec" stop-opacity="0.42"/><stop offset="0.275" stop-color="#ceede8"/><stop offset="0.350" stop-color="#bbe5dc"/><stop offset="0.410" stop-color="#a9ded2"/><stop offset="0.460" stop-color="#9fdacc"/><stop offset="0.500" stop-color="#9cd9cb"/><stop offset="0.540" stop-color="#9fdacc"/><stop offset="0.590" stop-color="#a9ded2"/><stop offset="0.650" stop-color="#bbe5dc"/><stop offset="0.725" stop-color="#ceede8"/><stop offset="0.800" stop-color="#d4efec" stop-opacity="0.42"/><stop offset="0.900" stop-color="#d7f0ef" stop-opacity="0.07"/><stop offset="1.000" stop-color="#d8f0ef" stop-opacity="0.00"/></linearGradient><linearGradient id="w5"><stop offset="0.000" stop-color="#d8f0ef" stop-opacity="0.00"/><stop offset="0.100" stop-color="#d7f0ef" stop-opacity="0.07"/><stop offset="0.200" stop-color="#d4efec" stop-opacity="0.42"/><stop offset="0.275" stop-color="#ccece6"/><stop offset="0.350" stop-color="#b3e2d8"/><stop offset="0.410" stop-color="#9ddacb"/><stop offset="0.460" stop-color="#91d4c3"/><stop offset="0.500" stop-color="#8dd3c0"/><stop offset="0.540" stop-color="#91d4c3"/><stop offset="0.590" stop-color="#9ddacb"/><stop offset="0.650" stop-color="#b3e2d8"/><stop offset="0.725" stop-color="#ccece6"/><stop offset="0.800" stop-color="#d4efec" stop-opacity="0.42"/><stop offset="0.900" stop-color="#d7f0ef" stop-opacity="0.07"/><stop offset="1.000" stop-color="#d8f0ef" stop-opacity="0.00"/></linearGradient><linearGradient id="w6"><stop offset="0.000" stop-color="#d8f0ef" stop-opacity="0.00"/><stop offset="0.100" stop-color="#d7f0ee" stop-opacity="0.07"/><stop offset="0.200" stop-color="#d3eeeb" stop-opacity="0.42"/><stop offset="0.275" stop-color="#c8eae4"/><stop offset="0.350" stop-color="#aadfd3"/><stop offset="0.410" stop-color="#91d4c3"/><stop offset="0.460" stop-color="#82ceb8"/><stop offset="0.500" stop-color="#7eccb5"/><stop offset="0.540" stop-color="#82ceb8"/><stop offset="0.590" stop-color="#91d4c3"/><stop offset="0.650" stop-color="#aadfd3"/><stop offset="0.725" stop-color="#c8eae4"/><stop offset="0.800" stop-color="#d3eeeb" stop-opacity="0.42"/><stop offset="0.900" stop-color="#d7f0ee" stop-opacity="0.07"/><stop offset="1.000" stop-color="#d8f0ef" stop-opacity="0.00"/></linearGradient><linearGradient id="w7"><stop offset="0.000" stop-color="#d8f0ef" stop-opacity="0.00"/><stop offset="0.100" stop-color="#d7f0ee" stop-opacity="0.07"/><stop offset="0.200" stop-color="#d2eeeb" stop-opacity="0.42"/><stop offset="0.275" stop-color="#c3e9e1"/><stop offset="0.350" stop-color="#a2dbce"/><stop offset="0.410" stop-color="#85cfba"/><stop offset="0.460" stop-color="#74c8ae"/><stop offset="0.500" stop-color="#6fc6ab"/><stop offset="0.540" stop-color="#74c8ae"/><stop offset="0.590" stop-color="#85cfba"/><stop offset="0.650" stop-color="#a2dbce"/><stop offset="0.725" stop-color="#c3e9e1"/><stop offset="0.800" stop-color="#d2eeeb" stop-opacity="0.42"/><stop offset="0.900" stop-color="#d7f0ee" stop-opacity="0.07"/><stop offset="1.000" stop-color="#d8f0ef" stop-opacity="0.00"/></linearGradient><linearGradient id="w8"><stop offset="0.000" stop-color="#d8f0ef" stop-opacity="0.00"/><stop offset="0.100" stop-color="#d7f0ee" stop-opacity="0.07"/><stop offset="0.200" stop-color="#d1eeea" stop-opacity="0.42"/><stop offset="0.275" stop-color="#bfe7df"/><stop offset="0.350" stop-color="#99d8c9"/><stop offset="0.410" stop-color="#78cab1"/><stop offset="0.460" stop-color="#65c2a3"/><stop offset="0.500" stop-color="#62c09f"/><stop offset="0.540" stop-color="#65c2a3"/><stop offset="0.590" stop-color="#78cab1"/><stop offset="0.650" stop-color="#99d8c9"/><stop offset="0.725" stop-color="#bfe7df"/><stop offset="0.800" stop-color="#d1eeea" stop-opacity="0.42"/><stop offset="0.900" stop-color="#d7f0ee" stop-opacity="0.07"/><stop offset="1.000" stop-color="#d8f0ef" stop-opacity="0.00"/></linearGradient><linearGradient id="w9"><stop offset="0.000" stop-color="#d8f0ef" stop-opacity="0.00"/><stop offset="0.100" stop-color="#d7f0ee" stop-opacity="0.07"/><stop offset="0.200" stop-color="#d0eee9" stop-opacity="0.42"/><stop offset="0.275" stop-color="#bbe5dc"/><stop offset="0.350" stop-color="#90d4c3"/><stop offset="0.410" stop-color="#6cc5a8"/><stop offset="0.460" stop-color="#5bbc96"/><stop offset="0.500" stop-color="#57ba91"/><stop offset="0.540" stop-color="#5bbc96"/><stop offset="0.590" stop-color="#6cc5a8"/><stop offset="0.650" stop-color="#90d4c3"/><stop offset="0.725" stop-color="#bbe5dc"/><stop offset="0.800" stop-color="#d0eee9" stop-opacity="0.42"/><stop offset="0.900" stop-color="#d7f0ee" stop-opacity="0.07"/><stop offset="1.000" stop-color="#d8f0ef" stop-opacity="0.00"/></linearGradient><linearGradient id="w10"><stop offset="0.000" stop-color="#d8f0ef" stop-opacity="0.00"/><stop offset="0.100" stop-color="#d7f0ee" stop-opacity="0.07"/><stop offset="0.200" stop-color="#d0ede9" stop-opacity="0.42"/><stop offset="0.275" stop-color="#b7e4da"/><stop offset="0.350" stop-color="#88d1bd"/><stop offset="0.410" stop-color="#61c09e"/><stop offset="0.460" stop-color="#50b689"/><stop offset="0.500" stop-color="#4cb483"/><stop offset="0.540" stop-color="#50b689"/><stop offset="0.590" stop-color="#61c09e"/><stop offset="0.650" stop-color="#88d1bd"/><stop offset="0.725" stop-color="#b7e4da"/><stop offset="0.800" stop-color="#d0ede9" stop-opacity="0.42"/><stop offset="0.900" stop-color="#d7f0ee" stop-opacity="0.07"/><stop offset="1.000" stop-color="#d8f0ef" stop-opacity="0.00"/></linearGradient><linearGradient id="w11"><stop offset="0.000" stop-color="#d8f0ef" stop-opacity="0.00"/><stop offset="0.100" stop-color="#d7f0ee" stop-opacity="0.07"/><stop offset="0.200" stop-color="#cfede8" stop-opacity="0.42"/><stop offset="0.275" stop-color="#b3e2d8"/><stop offset="0.350" stop-color="#7fcdb6"/><stop offset="0.410" stop-color="#59bb93"/><stop offset="0.460" stop-color="#46b17c"/><stop offset="0.500" stop-color="#41ae76"/><stop offset="0.540" stop-color="#46b17c"/><stop offset="0.590" stop-color="#59bb93"/><stop offset="0.650" stop-color="#7fcdb6"/><stop offset="0.725" stop-color="#b3e2d8"/><stop offset="0.800" stop-color="#cfede8" stop-opacity="0.42"/><stop offset="0.900" stop-color="#d7f0ee" stop-opacity="0.07"/><stop offset="1.000" stop-color="#d8f0ef" stop-opacity="0.00"/></linearGradient><linearGradient id="w12"><stop offset="0.000" stop-color="#d8f0ef" stop-opacity="0.00"/><stop offset="0.100" stop-color="#d6f0ee" stop-opacity="0.07"/><stop offset="0.200" stop-color="#ceede8" stop-opacity="0.42"/><stop offset="0.275" stop-color="#aee0d5"/><stop offset="0.350" stop-color="#77c9b0"/><stop offset="0.410" stop-color="#50b688"/><stop offset="0.460" stop-color="#3da96f"/><stop offset="0.500" stop-color="#38a467"/><stop offset="0.540" stop-color="#3da96f"/><stop offset="0.590" stop-color="#50b688"/><stop offset="0.650" stop-color="#77c9b0"/><stop offset="0.725" stop-color="#aee0d5"/><stop offset="0.800" stop-color="#ceede8" stop-opacity="0.42"/><stop offset="0.900" stop-color="#d6f0ee" stop-opacity="0.07"/><stop offset="1.000" stop-color="#d8f0ef" stop-opacity="0.00"/></linearGradient><linearGradient id="w13"><stop offset="0.000" stop-color="#d8f0ef" stop-opacity="0.00"/><stop offset="0.100" stop-color="#d6f0ee" stop-opacity="0.07"/><stop offset="0.200" stop-color="#cdede7" stop-opacity="0.42"/><stop offset="0.275" stop-color="#aadfd3"/><stop offset="0.350" stop-color="#6ec6aa"/><stop offset="0.410" stop-color="#47b17d"/><stop offset="0.460" stop-color="#349f61"/><stop offset="0.500" stop-color="#2f9959"/><stop offset="0.540" stop-color="#349f61"/><stop offset="0.590" stop-color="#47b17d"/><stop offset="0.650" stop-color="#6ec6aa"/><stop offset="0.725" stop-color="#aadfd3"/><stop offset="0.800" stop-color="#cdede7" stop-opacity="0.42"/><stop offset="0.900" stop-color="#d6f0ee" stop-opacity="0.07"/><stop offset="1.000" stop-color="#d8f0ef" stop-opacity="0.00"/></linearGradient><linearGradient id="w14"><stop offset="0.000" stop-color="#d8f0ef" stop-opacity="0.00"/><stop offset="0.100" stop-color="#d6f0ee" stop-opacity="0.07"/><stop offset="0.200" stop-color="#cdece6" stop-opacity="0.42"/><stop offset="0.275" stop-color="#a6ddd0"/><stop offset="0.350" stop-color="#66c2a4"/><stop offset="0.410" stop-color="#3eab72"/><stop offset="0.460" stop-color="#2c9553"/><stop offset="0.500" stop-color="#268f4b"/><stop offset="0.540" stop-color="#2c9553"/><stop offset="0.590" stop-color="#3eab72"/><stop offset="0.650" stop-color="#66c2a4"/><stop offset="0.725" stop-color="#a6ddd0"/><stop offset="0.800" stop-color="#cdece6" stop-opacity="0.42"/><stop offset="0.900" stop-color="#d6f0ee" stop-opacity="0.07"/><stop offset="1.000" stop-color="#d8f0ef" stop-opacity="0.00"/></linearGradient><linearGradient id="w15"><stop offset="0.000" stop-color="#d8f0ef" stop-opacity="0.00"/><stop offset="0.100" stop-color="#d6f0ee" stop-opacity="0.07"/><stop offset="0.200" stop-color="#ccece6" stop-opacity="0.42"/><stop offset="0.275" stop-color="#a2dbce"/><stop offset="0.350" stop-color="#60bf9c"/><stop offset="0.410" stop-color="#37a366"/><stop offset="0.460" stop-color="#238b45"/><stop offset="0.500" stop-color="#1d8640"/><stop offset="0.540" stop-color="#238b45"/><stop offset="0.590" stop-color="#37a366"/><stop offset="0.650" stop-color="#60bf9c"/><stop offset="0.725" stop-color="#a2dbce"/><stop offset="0.800" stop-color="#ccece6" stop-opacity="0.42"/><stop offset="0.900" stop-color="#d6f0ee" stop-opacity="0.07"/><stop offset="1.000" stop-color="#d8f0ef" stop-opacity="0.00"/></linearGradient><linearGradient id="w16"><stop offset="0.000" stop-color="#d8f0ef" stop-opacity="0.00"/><stop offset="0.100" stop-color="#d6f0ee" stop-opacity="0.07"/><stop offset="0.200" stop-color="#caebe5" stop-opacity="0.42"/><stop offset="0.275" stop-color="#9ddacb"/><stop offset="0.350" stop-color="#59bb94"/><stop offset="0.410" stop-color="#309a5a"/><stop offset="0.460" stop-color="#19833e"/><stop offset="0.500" stop-color="#127d39"/><stop offset="0.540" stop-color="#19833e"/><stop offset="0.590" stop-color="#309a5a"/><stop offset="0.650" stop-color="#59bb94"/><stop offset="0.725" stop-color="#9ddacb"/><stop offset="0.800" stop-color="#caebe5" stop-opacity="0.42"/><stop offset="0.900" stop-color="#d6f0ee" stop-opacity="0.07"/><stop offset="1.000" stop-color="#d8f0ef" stop-opacity="0.00"/></linearGradient><linearGradient id="w17"><stop offset="0.000" stop-color="#d8f0ef" stop-opacity="0.00"/><stop offset="0.100" stop-color="#d6f0ed" stop-opacity="0.07"/><stop offset="0.200" stop-color="#c9ebe4" stop-opacity="0.42"/><stop offset="0.275" stop-color="#99d8c9"/><stop offset="0.350" stop-color="#53b88d"/><stop offset="0.410" stop-color="#29924e"/><stop offset="0.460" stop-color="#0f7a37"/><stop offset="0.500" stop-color="#087432"/><stop offset="0.540" stop-color="#0f7a37"/><stop offset="0.590" stop-color="#29924e"/><stop offset="0.650" stop-color="#53b88d"/><stop offset="0.725" stop-color="#99d8c9"/><stop offset="0.800" stop-color="#c9ebe4" stop-opacity="0.42"/><stop offset="0.900" stop-color="#d6f0ed" stop-opacity="0.07"/><stop offset="1.000" stop-color="#d8f0ef" stop-opacity="0.00"/></linearGradient><linearGradient id="w18"><stop offset="0.000" stop-color="#d8f0ef" stop-opacity="0.00"/><stop offset="0.100" stop-color="#d6efed" stop-opacity="0.07"/><stop offset="0.200" stop-color="#c7eae3" stop-opacity="0.42"/><stop offset="0.275" stop-color="#95d6c6"/><stop offset="0.350" stop-color="#4db485"/><stop offset="0.410" stop-color="#218a44"/><stop offset="0.460" stop-color="#057230"/><stop offset="0.500" stop-color="#006a2b"/><stop offset="0.540" stop-color="#057230"/><stop offset="0.590" stop-color="#218a44"/><stop offset="0.650" stop-color="#4db485"/><stop offset="0.725" stop-color="#95d6c6"/><stop offset="0.800" stop-color="#c7eae3" stop-opacity="0.42"/><stop offset="0.900" stop-color="#d6efed" stop-opacity="0.07"/><stop offset="1.000" stop-color="#d8f0ef" stop-opacity="0.00"/></linearGradient><linearGradient id="w19"><stop offset="0.000" stop-color="#d8f0ef" stop-opacity="0.00"/><stop offset="0.100" stop-color="#d6efed" stop-opacity="0.07"/><stop offset="0.200" stop-color="#c5e9e2" stop-opacity="0.42"/><stop offset="0.275" stop-color="#91d4c3"/><stop offset="0.350" stop-color="#47b17d"/><stop offset="0.410" stop-color="#19823e"/><stop offset="0.460" stop-color="#00682a"/><stop offset="0.500" stop-color="#005e26"/><stop offset="0.540" stop-color="#00682a"/><stop offset="0.590" stop-color="#19823e"/><stop offset="0.650" stop-color="#47b17d"/><stop offset="0.725" stop-color="#91d4c3"/><stop offset="0.800" stop-color="#c5e9e2" stop-opacity="0.42"/><stop offset="0.900" stop-color="#d6efed" stop-opacity="0.07"/><stop offset="1.000" stop-color="#d8f0ef" stop-opacity="0.00"/></linearGradient><linearGradient id="bgp" x1="0" y1="0" x2="0" y2="1"><stop offset="0.00" stop-color="#e2edf5"/><stop offset="0.25" stop-color="#e4eff6"/><stop offset="0.50" stop-color="#e6f0f6"/><stop offset="0.75" stop-color="#e8f2f7"/><stop offset="1.00" stop-color="#eaf3f8"/></linearGradient><linearGradient id="bgg" x1="0" y1="0" x2="0" y2="1"><stop offset="0.00" stop-color="#bce6dd"/><stop offset="0.25" stop-color="#c4e9e1"/><stop offset="0.50" stop-color="#ccece6"/><stop offset="0.75" stop-color="#d0ede9"/><stop offset="1.00" stop-color="#d4efec"/></linearGradient><linearGradient id="bgw" x1="0" y1="0" x2="0" y2="1"><stop offset="0.00" stop-color="#d3efeb"/><stop offset="0.25" stop-color="#d7f0ef"/><stop offset="0.50" stop-color="#dbf2f2"/><stop offset="0.75" stop-color="#e0f3f5"/><stop offset="1.00" stop-color="#e4f5f8"/></linearGradient><linearGradient id="cbp" x1="0" y1="0" x2="0" y2="1"><stop offset="0.000" stop-color="#4d004b"/><stop offset="0.062" stop-color="#670764"/><stop offset="0.125" stop-color="#810f7c"/><stop offset="0.188" stop-color="#84288d"/><stop offset="0.250" stop-color="#88419d"/><stop offset="0.312" stop-color="#8a56a7"/><stop offset="0.375" stop-color="#8c6bb1"/><stop offset="0.438" stop-color="#8c80bc"/><stop offset="0.500" stop-color="#8c96c6"/><stop offset="0.562" stop-color="#95a9d0"/><stop offset="0.625" stop-color="#9ebcda"/><stop offset="0.688" stop-color="#aec8e0"/><stop offset="0.750" stop-color="#bfd3e6"/><stop offset="0.812" stop-color="#cfe0ed"/><stop offset="0.875" stop-color="#e0ecf4"/><stop offset="0.938" stop-color="#ebf4f9"/><stop offset="1.000" stop-color="#f7fcfd"/></linearGradient><linearGradient id="cbg" x1="0" y1="0" x2="0" y2="1"><stop offset="0.000" stop-color="#00441b"/><stop offset="0.062" stop-color="#005923"/><stop offset="0.125" stop-color="#006d2c"/><stop offset="0.188" stop-color="#127c38"/><stop offset="0.250" stop-color="#238b45"/><stop offset="0.312" stop-color="#329d5d"/><stop offset="0.375" stop-color="#41ae76"/><stop offset="0.438" stop-color="#53b88d"/><stop offset="0.500" stop-color="#66c2a4"/><stop offset="0.562" stop-color="#80cdb6"/><stop offset="0.625" stop-color="#99d8c9"/><stop offset="0.688" stop-color="#b2e2d8"/><stop offset="0.750" stop-color="#ccece6"/><stop offset="0.812" stop-color="#d8f1f0"/><stop offset="0.875" stop-color="#e5f5f9"/><stop offset="0.938" stop-color="#eef8fb"/><stop offset="1.000" stop-color="#f7fcfd"/></linearGradient><clipPath id="cpE1"><rect x="25.6" y="404.3" width="265.4" height="145.1"/></clipPath><clipPath id="cpE2"><rect x="394.0" y="405.8" width="262.6" height="145.2"/></clipPath><filter id="bl08" x="-20%" y="-20%" width="140%" height="140%"><feGaussianBlur stdDeviation="0.9"/></filter><filter id="bl05" x="-20%" y="-20%" width="140%" height="140%"><feGaussianBlur stdDeviation="0.5"/></filter><filter id="bl1" x="-50%" y="-80%" width="200%" height="260%"><feGaussianBlur stdDeviation="1.1 0.9"/></filter><filter id="bl2" x="-50%" y="-80%" width="200%" height="260%"><feGaussianBlur stdDeviation="1.6 1.4"/></filter><filter id="bl25" x="-50%" y="-80%" width="200%" height="260%"><feGaussianBlur stdDeviation="2.0 1.7"/></filter><filter id="bl3b" x="-50%" y="-100%" width="200%" height="300%"><feGaussianBlur stdDeviation="2.4 2.0"/></filter><filter id="bl3" x="-50%" y="-20%" width="200%" height="140%"><feGaussianBlur stdDeviation="2.5"/></filter><clipPath id="cpA1"><rect x="59.7" y="33.4" width="72.2" height="31.4"/></clipPath><clipPath id="cpA2"><rect x="59.3" y="86.2" width="73.4" height="33.2"/></clipPath><clipPath id="cpB1"><rect x="190.2" y="37.6" width="163.6" height="30.2"/></clipPath><clipPath id="cpB2"><rect x="190.4" y="86.6" width="163.4" height="38.0"/></clipPath></defs><text x="0.0" y="15.8" font-size="21.60" font-weight="bold" fill="#000" stroke="#000" stroke-width="0.2">a</text>
<text x="172.0" y="15.8" font-size="21.60" font-weight="bold" fill="#000" stroke="#000" stroke-width="0.2">b</text>
<text x="386.0" y="15.8" font-size="21.60" font-weight="bold" fill="#000" stroke="#000" stroke-width="0.2">c</text>
<text x="0.0" y="166.3" font-size="21.60" font-weight="bold" fill="#000" stroke="#000" stroke-width="0.2">d</text>
<text x="0.0" y="395.8" font-size="21.60" font-weight="bold" fill="#000" stroke="#000" stroke-width="0.2">e</text>
<text x="0.0" y="595.0" font-size="21.60" font-weight="bold" fill="#000" stroke="#000" stroke-width="0.2">f</text>
<text x="386.0" y="594.5" font-size="21.60" font-weight="bold" fill="#000" stroke="#000" stroke-width="0.2">g</text>
<text x="41.3" y="32.8" font-size="12.00" fill="#111" stroke="#111" stroke-width="0.2">kD</text>
<text x="68.9" y="32.8" font-size="12.00" fill="#111" stroke="#111" stroke-width="0.2">WT</text>
<text x="105.7" y="32.8" font-size="12.00" fill="#111" stroke="#111" stroke-width="0.2">D5</text>
<text x="43.4" y="58.9" font-size="12.00" fill="#111" stroke="#111" stroke-width="0.2">50</text>
<text x="66.3" y="81.5" font-size="12.15" fill="#111" stroke="#111" stroke-width="0.2">anti-EPOP</text>
<text x="43.4" y="113.1" font-size="12.00" fill="#111" stroke="#111" stroke-width="0.2">50</text>
<text x="59.3" y="140.0" font-size="12.35" fill="#111" stroke="#111" stroke-width="0.2">anti-&#946;-Tubulin</text>
<g clip-path="url(#cpA1)">
<rect x="59.7" y="33.4" width="72.2" height="31.4" fill="#dedede"/>
<rect x="68.0" y="35.4" width="22.0" height="27.4" fill="#c4c4c4" opacity="0.50" filter="url(#bl3)"/>
<rect x="101.0" y="35.4" width="22.0" height="27.4" fill="#c4c4c4" opacity="0.50" filter="url(#bl3)"/>
<rect x="66.5" y="44.5" width="24.0" height="14.0" rx="4.0" fill="#a8a8a8" opacity="0.55" filter="url(#bl3)"/>
<rect x="99.5" y="45.5" width="24.0" height="14.0" rx="4.0" fill="#a8a8a8" opacity="0.55" filter="url(#bl3)"/>
<rect x="69.0" y="47.2" width="19.5" height="6.8" rx="3.5" fill="#222" opacity="0.95" filter="url(#bl3b)"/>
<rect x="102.0" y="48.4" width="19.5" height="6.8" rx="3.5" fill="#1c1c1c" opacity="0.97" filter="url(#bl3b)"/>
</g><g clip-path="url(#cpA2)">
<rect x="59.3" y="86.2" width="73.4" height="33.2" fill="#ededed"/>
<rect x="66.0" y="88.2" width="24.0" height="29.2" fill="#d6d6d6" opacity="0.45" filter="url(#bl3)"/>
<rect x="101.0" y="88.2" width="24.0" height="29.2" fill="#d6d6d6" opacity="0.45" filter="url(#bl3)"/>
<rect x="65.0" y="97.0" width="25.5" height="15.0" rx="4.0" fill="#bcbcbc" opacity="0.50" filter="url(#bl3)"/>
<rect x="100.0" y="97.0" width="25.5" height="15.0" rx="4.0" fill="#bcbcbc" opacity="0.50" filter="url(#bl3)"/>
<rect x="66.5" y="101.0" width="22.5" height="7.2" rx="3.5" fill="#555" opacity="0.92" filter="url(#bl3b)"/>
<rect x="101.5" y="101.0" width="22.5" height="7.2" rx="3.5" fill="#575757" opacity="0.92" filter="url(#bl3b)"/>
</g>
<text x="230.8" y="17.0" font-size="12.00" fill="#111" stroke="#111" stroke-width="0.2">Input</text>
<text x="308.6" y="17.0" font-size="12.00" fill="#111" stroke="#111" stroke-width="0.2">IP</text>
<path d="M220.5 21.1H270.8M287 21.1H337" stroke="#111" stroke-width="1.6"/>
<text x="172.4" y="34.4" font-size="12.00" fill="#111" stroke="#111" stroke-width="0.2">kD</text>
<text x="191.8" y="34.4" font-size="12.00" fill="#111" stroke="#111" stroke-width="0.2">M</text>
<text x="221.3" y="34.4" font-size="12.00" fill="#111" stroke="#111" stroke-width="0.2">WT</text>
<text x="255.6" y="34.4" font-size="12.00" fill="#111" stroke="#111" stroke-width="0.2">D5</text>
<text x="288.2" y="34.4" font-size="12.00" fill="#111" stroke="#111" stroke-width="0.2">WT</text>
<text x="322.6" y="34.4" font-size="12.00" fill="#111" stroke="#111" stroke-width="0.2">D5</text>
<text x="187.0" y="47.9" font-size="12.00" text-anchor="end" fill="#111" stroke="#111" stroke-width="0.2">100</text>
<text x="187.0" y="69.3" font-size="12.00" text-anchor="end" fill="#111" stroke="#111" stroke-width="0.2">75</text>
<text x="248.0" y="79.4" font-size="12.35" fill="#111" stroke="#111" stroke-width="0.2">anti-SUZ12</text>
<text x="187.0" y="115.4" font-size="12.00" text-anchor="end" fill="#111" stroke="#111" stroke-width="0.2">50</text>
<text x="251.4" y="137.2" font-size="12.35" fill="#111" stroke="#111" stroke-width="0.2">anti-FLAG</text>
<g clip-path="url(#cpB1)">
<rect x="190.2" y="37.6" width="163.6" height="30.2" fill="#eeeeee"/>
<rect x="285.0" y="39.6" width="27.0" height="26.2" fill="#cfcfcf" opacity="0.60" filter="url(#bl3)"/>
<rect x="215.0" y="39.6" width="24.0" height="26.2" fill="#dadada" opacity="0.50" filter="url(#bl3)"/>
<rect x="249.0" y="39.6" width="26.0" height="26.2" fill="#dadada" opacity="0.50" filter="url(#bl3)"/>
<rect x="192.0" y="42.6" width="9.5" height="2.4" rx="1.0" fill="#b4b4b4" opacity="0.60" filter="url(#bl1)"/>
<rect x="192.0" y="63.4" width="9.5" height="2.2" rx="1.0" fill="#bababa" opacity="0.50" filter="url(#bl1)"/>
<rect x="216.8" y="49.3" width="20.8" height="6.3" rx="3.0" fill="#0c0c0c" opacity="1.00" filter="url(#bl1)"/>
<rect x="251.0" y="49.9" width="22.0" height="6.2" rx="3.0" fill="#141414" opacity="0.97" filter="url(#bl1)"/>
<rect x="286.4" y="47.6" width="24.2" height="9.6" rx="4.0" fill="#030303" opacity="1.00" filter="url(#bl1)"/>
<rect x="323.0" y="50.8" width="21.5" height="4.8" rx="2.4" fill="#7a7a7a" opacity="0.90" filter="url(#bl1)"/>
<rect x="334.0" y="50.6" width="10.5" height="5.0" rx="2.4" fill="#3a3a3a" opacity="0.70" filter="url(#bl1)"/>
</g><g clip-path="url(#cpB2)">
<rect x="190.4" y="86.6" width="163.4" height="38.0" fill="#f0f0f0"/>
<rect x="284.0" y="88.6" width="27.0" height="34.0" fill="#c8c8c8" opacity="0.60" filter="url(#bl3)"/>
<rect x="318.0" y="88.6" width="29.0" height="34.0" fill="#c8c8c8" opacity="0.60" filter="url(#bl3)"/>
<rect x="193.5" y="108.0" width="8.5" height="2.8" rx="1.2" fill="#aaaaaa" opacity="0.60" filter="url(#bl1)"/>
<rect x="215.0" y="97.8" width="23.4" height="9.8" rx="4.0" fill="#a4a4a4" opacity="0.92" filter="url(#bl2)"/>
<rect x="216.0" y="99.0" width="21.0" height="3.5" rx="2.0" fill="#8a8a8a" opacity="0.60" filter="url(#bl1)"/>
<rect x="250.2" y="101.4" width="23.6" height="9.2" rx="4.0" fill="#b0b0b0" opacity="0.90" filter="url(#bl2)"/>
<rect x="284.5" y="102.0" width="24.5" height="9.2" rx="4.2" fill="#050505" opacity="1.00" filter="url(#bl1)"/>
<rect x="319.2" y="102.0" width="26.6" height="9.4" rx="4.2" fill="#050505" opacity="1.00" filter="url(#bl1)"/>
</g>
<text x="414.3" y="40.5" font-size="12.00" fill="#111" stroke="#111" stroke-width="0.2">E14</text>
<text x="472.9" y="40.8" font-size="12.30" fill="#111" stroke="#111" stroke-width="0.2">EPOP KO</text>
<text x="543.7" y="24.4" font-size="12.00" fill="#111" stroke="#111" stroke-width="0.2">WT</text>
<text x="543.8" y="133.4" font-size="12.00" fill="#111" stroke="#111" stroke-width="0.2">D5</text>
<text x="418.4" y="117.5" font-size="12.00" fill="#111" stroke="#111" stroke-width="0.2">2i</text>
<text x="494.6" y="117.5" font-size="12.00" fill="#111" stroke="#111" stroke-width="0.2">2i</text>
<text x="577.7" y="79.4" font-size="12.00" fill="#111" stroke="#111" stroke-width="0.2">2i</text>
<text x="631.3" y="79.4" font-size="12.35" fill="#111" stroke="#111" stroke-width="0.2">EpiLCs</text>
<g transform="translate(0.0 0.0)"><circle cx="418.4" cy="55.3" r="8.7" fill="#dddddd"/><circle cx="446.2" cy="71.6" r="6.3" fill="#dddddd"/><circle cx="404.3" cy="82.9" r="6.8" fill="#dddddd"/><circle cx="428.8" cy="92.1" r="8.3" fill="#dddddd"/><circle cx="447.0" cy="72.5" r="2.8" fill="#cccccc" opacity="0.6"/><circle cx="429.0" cy="91.2" r="3.0" fill="#cccccc" opacity="0.6"/><circle cx="405.8" cy="69.1" r="8.7" fill="#c6c6c6" stroke="#9c9c9c" stroke-width="0.6"/><circle cx="405.8" cy="69.1" r="3.1" fill="#a9a9a9"/><circle cx="419.6" cy="64.0" r="9.2" fill="#c6c6c6" stroke="#9c9c9c" stroke-width="0.6"/><circle cx="419.8" cy="64.0" r="3.1" fill="#a9a9a9"/><circle cx="434.4" cy="64.5" r="8.7" fill="#c6c6c6" stroke="#9c9c9c" stroke-width="0.6"/><circle cx="434.4" cy="64.5" r="3.1" fill="#a9a9a9"/><circle cx="415.5" cy="85.4" r="8.7" fill="#c6c6c6" stroke="#9c9c9c" stroke-width="0.6"/><circle cx="416.5" cy="85.9" r="3.1" fill="#a9a9a9"/><circle cx="437.5" cy="80.3" r="8.7" fill="#c6c6c6" stroke="#9c9c9c" stroke-width="0.6"/><circle cx="437.5" cy="80.7" r="3.1" fill="#a9a9a9"/><circle cx="424.2" cy="76.2" r="8.7" fill="#c6c6c6" stroke="#9c9c9c" stroke-width="0.6"/><circle cx="424.2" cy="76.7" r="3.1" fill="#a9a9a9"/></g>
<g transform="translate(76.7 -0.8)"><circle cx="418.4" cy="55.3" r="8.7" fill="#c8cedc"/><circle cx="446.2" cy="71.6" r="6.3" fill="#c8cedc"/><circle cx="404.3" cy="82.9" r="6.8" fill="#c8cedc"/><circle cx="428.8" cy="92.1" r="8.3" fill="#c8cedc"/><circle cx="447.0" cy="72.5" r="2.8" fill="#b0b8cc" opacity="0.6"/><circle cx="429.0" cy="91.2" r="3.0" fill="#b0b8cc" opacity="0.6"/><circle cx="405.8" cy="69.1" r="8.7" fill="#9ca7c0" stroke="#7f8ba7" stroke-width="0.6"/><circle cx="405.8" cy="69.1" r="3.1" fill="#7b88a4"/><circle cx="419.6" cy="64.0" r="9.2" fill="#9ca7c0" stroke="#7f8ba7" stroke-width="0.6"/><circle cx="419.8" cy="64.0" r="3.1" fill="#7b88a4"/><circle cx="434.4" cy="64.5" r="8.7" fill="#9ca7c0" stroke="#7f8ba7" stroke-width="0.6"/><circle cx="434.4" cy="64.5" r="3.1" fill="#7b88a4"/><circle cx="415.5" cy="85.4" r="8.7" fill="#9ca7c0" stroke="#7f8ba7" stroke-width="0.6"/><circle cx="416.5" cy="85.9" r="3.1" fill="#7b88a4"/><circle cx="437.5" cy="80.3" r="8.7" fill="#9ca7c0" stroke="#7f8ba7" stroke-width="0.6"/><circle cx="437.5" cy="80.7" r="3.1" fill="#7b88a4"/><circle cx="424.2" cy="76.2" r="8.7" fill="#9ca7c0" stroke="#7f8ba7" stroke-width="0.6"/><circle cx="424.2" cy="76.7" r="3.1" fill="#7b88a4"/></g>
<g transform="translate(161.4 -34.2)"><circle cx="418.4" cy="55.3" r="8.7" fill="#e4f4f1"/><circle cx="446.2" cy="71.6" r="6.3" fill="#e4f4f1"/><circle cx="404.3" cy="82.9" r="6.8" fill="#e4f4f1"/><circle cx="428.8" cy="92.1" r="8.3" fill="#e4f4f1"/><circle cx="447.0" cy="72.5" r="2.8" fill="#c8e6e0" opacity="0.6"/><circle cx="429.0" cy="91.2" r="3.0" fill="#c8e6e0" opacity="0.6"/><circle cx="405.8" cy="69.1" r="8.7" fill="#d1ebe6" stroke="#94d2c5" stroke-width="0.6"/><circle cx="405.8" cy="69.1" r="3.1" fill="#a9dbd2"/><circle cx="419.6" cy="64.0" r="9.2" fill="#d1ebe6" stroke="#94d2c5" stroke-width="0.6"/><circle cx="419.8" cy="64.0" r="3.1" fill="#a9dbd2"/><circle cx="434.4" cy="64.5" r="8.7" fill="#d1ebe6" stroke="#94d2c5" stroke-width="0.6"/><circle cx="434.4" cy="64.5" r="3.1" fill="#a9dbd2"/><circle cx="415.5" cy="85.4" r="8.7" fill="#d1ebe6" stroke="#94d2c5" stroke-width="0.6"/><circle cx="416.5" cy="85.9" r="3.1" fill="#a9dbd2"/><circle cx="437.5" cy="80.3" r="8.7" fill="#d1ebe6" stroke="#94d2c5" stroke-width="0.6"/><circle cx="437.5" cy="80.7" r="3.1" fill="#a9dbd2"/><circle cx="424.2" cy="76.2" r="8.7" fill="#d1ebe6" stroke="#94d2c5" stroke-width="0.6"/><circle cx="424.2" cy="76.7" r="3.1" fill="#a9dbd2"/></g>
<g transform="translate(161.4 34.8)"><circle cx="418.4" cy="55.3" r="8.7" fill="#e6f0f6"/><circle cx="446.2" cy="71.6" r="6.3" fill="#e6f0f6"/><circle cx="404.3" cy="82.9" r="6.8" fill="#e6f0f6"/><circle cx="428.8" cy="92.1" r="8.3" fill="#e6f0f6"/><circle cx="447.0" cy="72.5" r="2.8" fill="#cadde9" opacity="0.6"/><circle cx="429.0" cy="91.2" r="3.0" fill="#cadde9" opacity="0.6"/><circle cx="405.8" cy="69.1" r="8.7" fill="#d4e5f0" stroke="#9fc3dc" stroke-width="0.6"/><circle cx="405.8" cy="69.1" r="3.1" fill="#b1d0e3"/><circle cx="419.6" cy="64.0" r="9.2" fill="#d4e5f0" stroke="#9fc3dc" stroke-width="0.6"/><circle cx="419.8" cy="64.0" r="3.1" fill="#b1d0e3"/><circle cx="434.4" cy="64.5" r="8.7" fill="#d4e5f0" stroke="#9fc3dc" stroke-width="0.6"/><circle cx="434.4" cy="64.5" r="3.1" fill="#b1d0e3"/><circle cx="415.5" cy="85.4" r="8.7" fill="#d4e5f0" stroke="#9fc3dc" stroke-width="0.6"/><circle cx="416.5" cy="85.9" r="3.1" fill="#b1d0e3"/><circle cx="437.5" cy="80.3" r="8.7" fill="#d4e5f0" stroke="#9fc3dc" stroke-width="0.6"/><circle cx="437.5" cy="80.7" r="3.1" fill="#b1d0e3"/><circle cx="424.2" cy="76.2" r="8.7" fill="#d4e5f0" stroke="#9fc3dc" stroke-width="0.6"/><circle cx="424.2" cy="76.7" r="3.1" fill="#b1d0e3"/></g>
<circle cx="650.8" cy="31.4" r="10.7" fill="#d3ebe7" stroke="#94d2c5" stroke-width="0.6"/>
<circle cx="649.8" cy="31.6" r="4.0" fill="#aedcd4"/>
<circle cx="640.6" cy="53.9" r="11.0" fill="#d3ebe7" stroke="#94d2c5" stroke-width="0.6"/>
<circle cx="640.1" cy="52.9" r="4.0" fill="#aedcd4"/>
<circle cx="664.9" cy="50.3" r="10.7" fill="#d3ebe7" stroke="#94d2c5" stroke-width="0.6"/>
<circle cx="665.9" cy="49.8" r="4.0" fill="#aedcd4"/>
<circle cx="650.8" cy="98.4" r="10.7" fill="#d6e6f1" stroke="#9fc3dc" stroke-width="0.6"/>
<circle cx="649.8" cy="98.6" r="4.0" fill="#b4d2e4"/>
<circle cx="640.6" cy="120.9" r="11.0" fill="#d6e6f1" stroke="#9fc3dc" stroke-width="0.6"/>
<circle cx="640.1" cy="119.9" r="4.0" fill="#b4d2e4"/>
<circle cx="664.9" cy="117.3" r="10.7" fill="#d6e6f1" stroke="#9fc3dc" stroke-width="0.6"/>
<circle cx="665.9" cy="116.8" r="4.0" fill="#b4d2e4"/>
<path d="M454.0 78.4H467.3" stroke="#000" stroke-width="1.65"/>
<path d="M461.5 73.7L470.3 78.4L461.5 83.1L464.3 78.4Z" fill="#000"/>
<path d="M526 75.8H545M545 39.6V106.4" stroke="#000" stroke-width="1.65" fill="none"/>
<path d="M545.0 39.6H556.2" stroke="#000" stroke-width="1.65"/>
<path d="M550.4 34.9L559.2 39.6L550.4 44.3L553.2 39.6Z" fill="#000"/>
<path d="M545.0 106.3H556.2" stroke="#000" stroke-width="1.65"/>
<path d="M550.4 101.6L559.2 106.3L550.4 111.0L553.2 106.3Z" fill="#000"/>
<path d="M615.0 39.8H628.0" stroke="#000" stroke-width="1.65"/>
<path d="M622.2 35.1L631.0 39.8L622.2 44.5L625.0 39.8Z" fill="#000"/>
<path d="M615.0 106.2H628.0" stroke="#000" stroke-width="1.65"/>
<path d="M622.2 101.5L631.0 106.2L622.2 110.9L625.0 106.2Z" fill="#000"/>
<svg x="27.5" y="172.0" width="68.0" height="189.0"><rect width="68.0" height="189.0" fill="url(#bgp)"/><path d="M47 0h26v1h-26zM48 6h29v1h-29zM-0 8h57v1h-57zM38 12h75v1h-75zM36 18h48v1h-48zM42 31h18v1h-18zM41 40h70v1h-70zM-8 46h65v1h-65zM41 48h70v1h-70z" fill="#d7e5f0"/><path d="M16 1h67v1h-67zM50 16h41v1h-41zM-0 20h64v1h-64zM17 25h60v1h-60zM38 42h17v1h-17z" fill="#d9e7f1"/><path d="M34 2h32v1h-32zM26 9h25v1h-25zM43 17h57v1h-57zM37 22h73v1h-73zM14 27h61v1h-61zM-3 33h19v1h-19zM41 45h68v1h-68z" fill="#e6f0f7"/><path d="M10 3h35v1h-35zM48 4h24v1h-24zM40 11h74v1h-74zM29 24h64v1h-64zM-1 32h18v1h-18zM40 38h20v1h-20zM50 41h40v1h-40zM25 66h26v1h-26zM22 83h78v1h-78zM32 86h45v1h-45zM-0 101h63v1h-63zM16 103h38v1h-38zM1 112h58v1h-58zM4 115h77v1h-77z" fill="#dce9f2"/><path d="M23 13h78v1h-78zM36 14h48v1h-48zM10 15h59v1h-59zM5 19h19v1h-19zM-3 26h54v1h-54zM-8 30h44v1h-44zM16 35h44v1h-44zM25 37h31v1h-31zM8 43h41v1h-41z" fill="#d4e3ef"/><path d="M31 50h16v1h-16zM23 65h69v1h-69zM23 76h23v1h-23zM-1 94h54v1h-54z" fill="#eaf3f8"/><path d="M0 51h40v1h-40zM28 55h24v1h-24zM16 60h38v1h-38zM15 62h52v1h-52zM41 71h23v1h-23zM11 78h46v1h-46zM16 171h31v1h-31z" fill="#dfebf3"/><path d="M26 53h52v1h-52zM33 96h20v1h-20zM2 105h31v1h-31zM1 135h31v1h-31zM47 151h50v1h-50zM28 154h78v1h-78zM1 160h21v1h-21zM48 174h15v1h-15z" fill="#e3eef5"/><path d="M-2 58h22v1h-22zM4 75h74v1h-74zM43 88h23v1h-23zM-1 98h22v1h-22zM-3 113h66v1h-66zM40 136h29v1h-29zM43 188h65v1h-65z" fill="#e1edf4"/><path d="M16 104h40v1h-40zM11 120h75v1h-75z" fill="#ecf4f9"/><rect x="-29.6" y="0" width="127.0" height="1" fill="url(#p16)"/><rect x="-52.1" y="1" width="172.0" height="1" fill="url(#p14)"/><rect x="2.3" y="2" width="63.5" height="1" fill="url(#p14)"/><rect x="-7.2" y="3" width="83.0" height="1" fill="url(#p13)"/><rect x="-15.8" y="4" width="99.6" height="1" fill="url(#p13)"/><rect x="19.7" y="5" width="28.2" height="1" fill="url(#p13)"/><rect x="-6.8" y="6" width="81.8" height="1" fill="url(#p14)"/><rect x="6.0" y="7" width="56.2" height="1" fill="url(#p14)"/><rect x="2.4" y="8" width="63.0" height="1" fill="url(#p14)"/><rect x="7.7" y="9" width="52.1" height="1" fill="url(#p14)"/><rect x="8.2" y="10" width="51.3" height="1" fill="url(#p12)"/><rect x="13.7" y="11" width="40.9" height="1" fill="url(#p13)"/><rect x="11.1" y="12" width="45.9" height="1" fill="url(#p14)"/><rect x="12.6" y="13" width="42.7" height="1" fill="url(#p13)"/><rect x="9.8" y="14" width="48.2" height="1" fill="url(#p12)"/><rect x="15.8" y="15" width="36.5" height="1" fill="url(#p12)"/><rect x="20.6" y="16" width="26.6" height="1" fill="url(#p13)"/><rect x="16.0" y="17" width="36.2" height="1" fill="url(#p12)"/><rect x="23.5" y="18" width="20.9" height="1" fill="url(#p13)"/><rect x="17.4" y="19" width="33.3" height="1" fill="url(#p12)"/><rect x="22.9" y="20" width="22.6" height="1" fill="url(#p13)"/><rect x="19.9" y="21" width="28.4" height="1" fill="url(#p12)"/><rect x="21.4" y="22" width="25.4" height="1" fill="url(#p14)"/><rect x="20.9" y="23" width="26.0" height="1" fill="url(#p12)"/><rect x="22.3" y="24" width="23.4" height="1" fill="url(#p12)"/><rect x="23.6" y="25" width="20.4" height="1" fill="url(#p13)"/><rect x="19.6" y="26" width="28.7" height="1" fill="url(#p12)"/><rect x="23.7" y="27" width="20.0" height="1" fill="url(#p13)"/><rect x="22.2" y="28" width="23.6" height="1" fill="url(#p14)"/><rect x="23.8" y="29" width="20.5" height="1" fill="url(#p13)"/><rect x="20.7" y="30" width="26.5" height="1" fill="url(#p11)"/><rect x="20.2" y="31" width="27.3" height="1" fill="url(#p12)"/><rect x="19.0" y="32" width="29.1" height="1" fill="url(#p12)"/><rect x="23.7" y="33" width="20.5" height="1" fill="url(#p12)"/><rect x="22.9" y="34" width="21.9" height="1" fill="url(#p12)"/><rect x="26.1" y="35" width="16.1" height="1" fill="url(#p13)"/><rect x="23.8" y="36" width="20.8" height="1" fill="url(#p11)"/><rect x="24.2" y="37" width="19.6" height="1" fill="url(#p12)"/><rect x="23.7" y="38" width="20.4" height="1" fill="url(#p13)"/><rect x="23.2" y="39" width="21.8" height="1" fill="url(#p13)"/><rect x="26.3" y="40" width="15.6" height="2" fill="url(#p12)"/><rect x="23.5" y="42" width="21.3" height="2" fill="url(#p12)"/><rect x="25.9" y="44" width="16.1" height="2" fill="url(#p12)"/><rect x="24.1" y="46" width="19.8" height="2" fill="url(#p11)"/><rect x="24.8" y="48" width="18.4" height="2" fill="url(#p11)"/><rect x="25.0" y="50" width="17.3" height="2" fill="url(#p11)"/><rect x="26.0" y="52" width="16.0" height="2" fill="url(#p10)"/><rect x="25.8" y="54" width="16.4" height="2" fill="url(#p11)"/><rect x="24.0" y="56" width="19.6" height="2" fill="url(#p11)"/><rect x="25.5" y="58" width="16.7" height="2" fill="url(#p9)"/><rect x="25.9" y="60" width="16.0" height="2" fill="url(#p11)"/><rect x="26.3" y="62" width="15.3" height="2" fill="url(#p12)"/><rect x="25.7" y="64" width="16.0" height="2" fill="url(#p12)"/><rect x="26.1" y="66" width="15.3" height="2" fill="url(#p11)"/><rect x="25.4" y="68" width="16.9" height="2" fill="url(#p10)"/><rect x="26.9" y="70" width="14.1" height="2" fill="url(#p10)"/><rect x="25.3" y="72" width="18.0" height="2" fill="url(#p11)"/><rect x="25.8" y="74" width="16.1" height="2" fill="url(#p11)"/><rect x="27.7" y="76" width="12.5" height="2" fill="url(#p9)"/><rect x="28.0" y="78" width="11.8" height="2" fill="url(#p10)"/><rect x="26.7" y="80" width="14.3" height="2" fill="url(#p11)"/><rect x="26.8" y="82" width="14.7" height="2" fill="url(#p9)"/><rect x="27.8" y="84" width="12.5" height="2" fill="url(#p11)"/><rect x="26.7" y="86" width="14.9" height="2" fill="url(#p11)"/><rect x="27.8" y="88" width="12.7" height="2" fill="url(#p9)"/><rect x="26.7" y="90" width="14.4" height="2" fill="url(#p10)"/><rect x="28.9" y="92" width="10.4" height="2" fill="url(#p9)"/><rect x="27.6" y="94" width="12.5" height="2" fill="url(#p11)"/><rect x="28.4" y="96" width="11.4" height="2" fill="url(#p11)"/><rect x="26.9" y="98" width="13.9" height="2" fill="url(#p9)"/><rect x="28.8" y="100" width="10.4" height="2" fill="url(#p9)"/><rect x="28.2" y="102" width="11.8" height="2" fill="url(#p9)"/><rect x="27.0" y="104" width="14.4" height="2" fill="url(#p10)"/><rect x="27.3" y="106" width="13.3" height="2" fill="url(#p9)"/><rect x="27.9" y="108" width="12.1" height="2" fill="url(#p10)"/><rect x="28.5" y="110" width="11.6" height="2" fill="url(#p7)"/><rect x="28.7" y="112" width="10.2" height="2" fill="url(#p10)"/><rect x="29.2" y="114" width="9.5" height="2" fill="url(#p9)"/><rect x="28.0" y="116" width="12.0" height="2" fill="url(#p8)"/><rect x="28.4" y="118" width="11.1" height="2" fill="url(#p9)"/><rect x="28.5" y="120" width="10.9" height="2" fill="url(#p7)"/><rect x="28.5" y="122" width="11.5" height="2" fill="url(#p8)"/><rect x="28.0" y="124" width="11.5" height="2" fill="url(#p8)"/><rect x="30.2" y="126" width="7.6" height="2" fill="url(#p9)"/><rect x="29.2" y="128" width="9.5" height="2" fill="url(#p8)"/><rect x="28.6" y="130" width="10.6" height="2" fill="url(#p7)"/><rect x="28.5" y="132" width="10.5" height="2" fill="url(#p7)"/><rect x="28.0" y="134" width="12.4" height="2" fill="url(#p9)"/><rect x="29.1" y="136" width="9.9" height="2" fill="url(#p8)"/><rect x="28.8" y="138" width="10.3" height="2" fill="url(#p8)"/><rect x="28.2" y="140" width="11.2" height="2" fill="url(#p6)"/><rect x="28.3" y="142" width="11.5" height="2" fill="url(#p6)"/><rect x="29.5" y="144" width="9.2" height="2" fill="url(#p7)"/><rect x="29.0" y="146" width="10.6" height="2" fill="url(#p8)"/><rect x="29.4" y="148" width="9.6" height="2" fill="url(#p8)"/><rect x="28.9" y="150" width="10.3" height="2" fill="url(#p8)"/><rect x="29.4" y="152" width="9.0" height="2" fill="url(#p6)"/><rect x="29.9" y="154" width="7.9" height="2" fill="url(#p9)"/><rect x="30.7" y="156" width="6.9" height="2" fill="url(#p4)"/><rect x="29.0" y="158" width="9.7" height="2" fill="url(#p5)"/><rect x="29.4" y="160" width="8.7" height="2" fill="url(#p7)"/><rect x="29.9" y="162" width="8.0" height="2" fill="url(#p6)"/><rect x="29.9" y="164" width="8.4" height="2" fill="url(#p6)"/><rect x="29.7" y="166" width="8.5" height="2" fill="url(#p7)"/><rect x="30.0" y="168" width="8.0" height="2" fill="url(#p6)"/><rect x="30.1" y="170" width="8.0" height="2" fill="url(#p6)"/><rect x="30.6" y="172" width="6.4" height="2" fill="url(#p5)"/><rect x="30.0" y="174" width="8.2" height="2" fill="url(#p6)"/><rect x="30.6" y="176" width="7.1" height="2" fill="url(#p7)"/><rect x="29.2" y="178" width="9.6" height="2" fill="url(#p5)"/><rect x="30.1" y="180" width="7.6" height="2" fill="url(#p5)"/><rect x="30.1" y="182" width="7.6" height="2" fill="url(#p4)"/><rect x="30.0" y="184" width="8.0" height="2" fill="url(#p6)"/><rect x="30.9" y="186" width="6.3" height="2" fill="url(#p4)"/><rect x="30.4" y="188" width="6.8" height="2" fill="url(#p3)"/></svg>
<svg x="101.5" y="172.0" width="68.0" height="189.0"><rect width="68.0" height="189.0" fill="url(#bgp)"/><path d="M45 0h50v1h-50zM-3 6h69v1h-69zM45 21h28v1h-28zM-5 23h25v1h-25zM31 41h60v1h-60zM38 60h37v1h-37zM-4 63h30v1h-30zM22 72h16v1h-16zM6 92h64v1h-64zM12 94h66v1h-66zM7 109h41v1h-41zM-4 116h61v1h-61z" fill="#dce9f2"/><path d="M30 1h29v1h-29zM11 10h16v1h-16zM6 11h68v1h-68zM47 16h19v1h-19zM2 26h59v1h-59zM21 28h67v1h-67zM46 36h34v1h-34zM35 39h49v1h-49zM-1 40h23v1h-23zM6 47h61v1h-61z" fill="#e6f0f7"/><path d="M19 2h66v1h-66zM14 7h40v1h-40zM-6 13h25v1h-25zM44 14h52v1h-52zM46 27h31v1h-31zM29 30h73v1h-73zM18 34h28v1h-28zM34 44h31v1h-31z" fill="#d9e7f1"/><path d="M-6 3h28v1h-28zM15 5h19v1h-19zM35 8h42v1h-42zM-6 24h51v1h-51zM41 31h45v1h-45zM48 45h64v1h-64z" fill="#d7e5f0"/><path d="M12 4h46v1h-46zM9 15h72v1h-72zM47 17h72v1h-72zM36 19h68v1h-68zM3 42h45v1h-45zM50 46h63v1h-63z" fill="#d4e3ef"/><path d="M46 53h58v1h-58zM-3 62h15v1h-15zM44 75h22v1h-22zM19 89h28v1h-28zM-7 102h19v1h-19zM6 131h37v1h-37zM10 168h76v1h-76z" fill="#dfebf3"/><path d="M26 59h23v1h-23zM14 81h24v1h-24zM31 82h19v1h-19zM4 83h62v1h-62zM32 86h31v1h-31zM-5 99h58v1h-58z" fill="#e1edf4"/><path d="M0 64h75v1h-75zM-8 67h27v1h-27zM2 88h25v1h-25zM19 103h40v1h-40zM15 104h58v1h-58zM-8 160h32v1h-32z" fill="#e3eef5"/><path d="M35 90h27v1h-27z" fill="#eaf3f8"/><path d="M12 142h69v1h-69zM24 159h27v1h-27zM13 178h49v1h-49zM15 185h59v1h-59z" fill="#ecf4f9"/><path d="M5 143h62v1h-62zM-7 152h27v1h-27zM-0 157h43v1h-43zM27 188h48v1h-48z" fill="#e5eff6"/><rect x="-28.4" y="0" width="124.8" height="1" fill="url(#p15)"/><rect x="-32.6" y="1" width="133.2" height="1" fill="url(#p14)"/><rect x="-5.0" y="2" width="77.9" height="1" fill="url(#p15)"/><rect x="-34.8" y="3" width="137.7" height="1" fill="url(#p14)"/><rect x="-30.0" y="4" width="127.4" height="1" fill="url(#p12)"/><rect x="5.0" y="5" width="57.5" height="1" fill="url(#p14)"/><rect x="1.4" y="6" width="65.2" height="1" fill="url(#p12)"/><rect x="-4.5" y="7" width="77.0" height="1" fill="url(#p14)"/><rect x="10.4" y="8" width="47.0" height="1" fill="url(#p14)"/><rect x="0.5" y="9" width="67.3" height="1" fill="url(#p14)"/><rect x="0.9" y="10" width="66.2" height="1" fill="url(#p12)"/><rect x="9.3" y="11" width="49.4" height="1" fill="url(#p12)"/><rect x="9.5" y="12" width="49.1" height="1" fill="url(#p13)"/><rect x="12.0" y="13" width="43.8" height="1" fill="url(#p13)"/><rect x="8.6" y="14" width="51.0" height="1" fill="url(#p13)"/><rect x="14.2" y="15" width="39.6" height="1" fill="url(#p14)"/><rect x="16.8" y="16" width="34.5" height="1" fill="url(#p12)"/><rect x="17.8" y="17" width="32.1" height="1" fill="url(#p13)"/><rect x="22.2" y="18" width="23.4" height="1" fill="url(#p11)"/><rect x="20.6" y="19" width="26.7" height="1" fill="url(#p12)"/><rect x="17.7" y="20" width="32.4" height="1" fill="url(#p12)"/><rect x="17.4" y="21" width="33.1" height="1" fill="url(#p12)"/><rect x="19.3" y="22" width="29.7" height="1" fill="url(#p13)"/><rect x="19.8" y="23" width="27.9" height="1" fill="url(#p13)"/><rect x="19.1" y="24" width="29.7" height="1" fill="url(#p14)"/><rect x="21.4" y="25" width="25.4" height="1" fill="url(#p13)"/><rect x="22.8" y="26" width="22.4" height="1" fill="url(#p12)"/><rect x="22.8" y="27" width="22.2" height="1" fill="url(#p12)"/><rect x="20.7" y="28" width="26.0" height="1" fill="url(#p11)"/><rect x="25.8" y="29" width="16.9" height="1" fill="url(#p13)"/><rect x="23.1" y="30" width="22.1" height="1" fill="url(#p12)"/><rect x="25.3" y="31" width="17.4" height="1" fill="url(#p13)"/><rect x="22.2" y="32" width="23.6" height="1" fill="url(#p12)"/><rect x="20.4" y="33" width="27.4" height="1" fill="url(#p13)"/><rect x="24.2" y="34" width="19.6" height="1" fill="url(#p13)"/><rect x="20.4" y="35" width="26.9" height="1" fill="url(#p13)"/><rect x="22.9" y="36" width="22.2" height="1" fill="url(#p12)"/><rect x="24.6" y="37" width="18.2" height="1" fill="url(#p14)"/><rect x="23.0" y="38" width="21.8" height="1" fill="url(#p12)"/><rect x="23.5" y="39" width="21.0" height="1" fill="url(#p11)"/><rect x="24.7" y="40" width="18.3" height="2" fill="url(#p13)"/><rect x="24.9" y="42" width="17.9" height="2" fill="url(#p13)"/><rect x="25.4" y="44" width="16.7" height="2" fill="url(#p11)"/><rect x="23.1" y="46" width="21.8" height="2" fill="url(#p11)"/><rect x="23.8" y="48" width="20.4" height="2" fill="url(#p12)"/><rect x="24.2" y="50" width="20.0" height="2" fill="url(#p11)"/><rect x="25.3" y="52" width="17.3" height="2" fill="url(#p11)"/><rect x="25.1" y="54" width="17.7" height="2" fill="url(#p11)"/><rect x="24.1" y="56" width="19.6" height="2" fill="url(#p12)"/><rect x="24.9" y="58" width="18.6" height="2" fill="url(#p10)"/><rect x="26.0" y="60" width="16.0" height="2" fill="url(#p10)"/><rect x="26.1" y="62" width="15.5" height="2" fill="url(#p11)"/><rect x="25.1" y="64" width="17.2" height="2" fill="url(#p11)"/><rect x="27.0" y="66" width="13.7" height="2" fill="url(#p11)"/><rect x="25.8" y="68" width="16.4" height="2" fill="url(#p11)"/><rect x="25.8" y="70" width="16.4" height="2" fill="url(#p11)"/><rect x="27.3" y="72" width="13.6" height="2" fill="url(#p11)"/><rect x="23.7" y="74" width="20.2" height="2" fill="url(#p10)"/><rect x="27.6" y="76" width="13.1" height="2" fill="url(#p10)"/><rect x="26.5" y="78" width="15.4" height="2" fill="url(#p11)"/><rect x="26.7" y="80" width="14.6" height="2" fill="url(#p10)"/><rect x="26.8" y="82" width="14.5" height="2" fill="url(#p10)"/><rect x="27.5" y="84" width="13.3" height="2" fill="url(#p10)"/><rect x="27.3" y="86" width="13.0" height="2" fill="url(#p11)"/><rect x="27.9" y="88" width="12.0" height="2" fill="url(#p11)"/><rect x="26.8" y="90" width="13.8" height="2" fill="url(#p9)"/><rect x="26.5" y="92" width="14.6" height="2" fill="url(#p10)"/><rect x="27.4" y="94" width="13.1" height="2" fill="url(#p10)"/><rect x="27.4" y="96" width="13.1" height="2" fill="url(#p8)"/><rect x="28.5" y="98" width="10.8" height="2" fill="url(#p8)"/><rect x="26.9" y="100" width="14.4" height="2" fill="url(#p9)"/><rect x="27.3" y="102" width="13.4" height="2" fill="url(#p10)"/><rect x="27.7" y="104" width="12.7" height="2" fill="url(#p10)"/><rect x="27.3" y="106" width="13.6" height="2" fill="url(#p11)"/><rect x="26.7" y="108" width="14.4" height="2" fill="url(#p8)"/><rect x="27.4" y="110" width="13.1" height="2" fill="url(#p10)"/><rect x="27.5" y="112" width="12.7" height="2" fill="url(#p9)"/><rect x="28.3" y="114" width="11.5" height="2" fill="url(#p10)"/><rect x="28.5" y="116" width="11.3" height="2" fill="url(#p8)"/><rect x="29.3" y="118" width="9.3" height="2" fill="url(#p9)"/><rect x="28.1" y="120" width="11.2" height="2" fill="url(#p8)"/><rect x="28.8" y="122" width="10.7" height="2" fill="url(#p6)"/><rect x="28.6" y="124" width="10.9" height="2" fill="url(#p8)"/><rect x="28.6" y="126" width="11.1" height="2" fill="url(#p8)"/><rect x="27.8" y="128" width="12.7" height="2" fill="url(#p10)"/><rect x="28.7" y="130" width="10.5" height="2" fill="url(#p7)"/><rect x="28.9" y="132" width="9.4" height="2" fill="url(#p8)"/><rect x="29.2" y="134" width="10.1" height="2" fill="url(#p7)"/><rect x="29.1" y="136" width="9.6" height="2" fill="url(#p6)"/><rect x="28.9" y="138" width="10.2" height="2" fill="url(#p7)"/><rect x="29.3" y="140" width="9.7" height="2" fill="url(#p8)"/><rect x="28.7" y="142" width="10.1" height="2" fill="url(#p7)"/><rect x="29.3" y="144" width="9.6" height="2" fill="url(#p8)"/><rect x="28.7" y="146" width="10.5" height="2" fill="url(#p9)"/><rect x="27.9" y="148" width="11.4" height="2" fill="url(#p8)"/><rect x="29.6" y="150" width="8.5" height="2" fill="url(#p6)"/><rect x="29.8" y="152" width="8.0" height="2" fill="url(#p7)"/><rect x="30.0" y="154" width="8.2" height="2" fill="url(#p5)"/><rect x="28.8" y="156" width="10.3" height="2" fill="url(#p8)"/><rect x="30.5" y="158" width="7.1" height="2" fill="url(#p7)"/><rect x="29.4" y="160" width="8.9" height="2" fill="url(#p7)"/><rect x="29.7" y="162" width="8.3" height="2" fill="url(#p8)"/><rect x="29.6" y="164" width="8.6" height="2" fill="url(#p6)"/><rect x="29.9" y="166" width="7.7" height="2" fill="url(#p7)"/><rect x="29.5" y="168" width="9.4" height="2" fill="url(#p6)"/><rect x="30.3" y="170" width="6.7" height="2" fill="url(#p6)"/><rect x="30.0" y="172" width="7.7" height="2" fill="url(#p5)"/><rect x="29.2" y="174" width="9.1" height="2" fill="url(#p6)"/><rect x="30.2" y="176" width="7.6" height="2" fill="url(#p5)"/><rect x="30.1" y="178" width="7.7" height="2" fill="url(#p6)"/><rect x="30.6" y="180" width="6.9" height="2" fill="url(#p6)"/><rect x="30.9" y="182" width="6.4" height="2" fill="url(#p5)"/><rect x="30.5" y="184" width="7.1" height="2" fill="url(#p7)"/><rect x="30.7" y="186" width="6.6" height="2" fill="url(#p4)"/><rect x="30.4" y="188" width="7.0" height="2" fill="url(#p5)"/></svg>
<svg x="176.5" y="172.0" width="68.0" height="189.0"><rect width="68.0" height="189.0" fill="url(#bgp)"/><path d="M11 0h51v1h-51zM17 5h48v1h-48zM22 6h47v1h-47zM16 9h41v1h-41zM17 14h56v1h-56zM27 17h50v1h-50zM43 21h40v1h-40z" fill="#d4e3ef"/><path d="M13 1h55v1h-55zM34 3h40v1h-40zM-5 4h18v1h-18zM-6 11h30v1h-30zM23 12h44v1h-44zM3 22h44v1h-44zM31 28h69v1h-69zM38 30h69v1h-69zM29 31h30v1h-30zM44 32h61v1h-61zM6 44h66v1h-66zM30 47h75v1h-75zM23 49h45v1h-45zM19 59h53v1h-53zM41 100h73v1h-73zM46 101h28v1h-28zM32 109h62v1h-62zM7 127h54v1h-54z" fill="#dce9f2"/><path d="M33 2h50v1h-50zM-5 25h40v1h-40zM37 26h15v1h-15z" fill="#e6f0f7"/><path d="M30 7h31v1h-31zM5 16h28v1h-28zM-3 19h46v1h-46zM-2 24h54v1h-54zM14 48h63v1h-63z" fill="#d7e5f0"/><path d="M13 8h28v1h-28zM40 13h57v1h-57zM34 27h42v1h-42zM7 37h29v1h-29z" fill="#d9e7f1"/><path d="M44 54h25v1h-25zM6 60h74v1h-74zM48 76h31v1h-31zM1 95h33v1h-33zM20 113h76v1h-76zM-2 139h76v1h-76zM40 155h49v1h-49z" fill="#e1edf4"/><path d="M35 57h64v1h-64zM-3 65h68v1h-68zM-8 78h58v1h-58zM-7 87h46v1h-46z" fill="#eaf3f8"/><path d="M-8 85h22v1h-22zM-4 114h41v1h-41zM4 123h40v1h-40zM13 129h42v1h-42zM12 150h17v1h-17zM42 151h66v1h-66zM23 156h24v1h-24zM35 159h28v1h-28zM-6 168h64v1h-64z" fill="#dfebf3"/><path d="M28 99h33v1h-33zM20 116h30v1h-30zM8 118h36v1h-36zM34 130h38v1h-38z" fill="#ecf4f9"/><path d="M23 102h30v1h-30zM48 106h44v1h-44zM12 166h64v1h-64zM31 170h52v1h-52zM27 181h21v1h-21z" fill="#e3eef5"/><path d="M15 142h38v1h-38z" fill="#e5eff6"/><rect x="-29.7" y="0" width="127.1" height="1" fill="url(#p17)"/><rect x="-42.3" y="1" width="152.7" height="1" fill="url(#p17)"/><rect x="-18.3" y="2" width="104.9" height="1" fill="url(#p17)"/><rect x="-20.3" y="3" width="108.0" height="1" fill="url(#p16)"/><rect x="-7.6" y="4" width="83.4" height="1" fill="url(#p17)"/><rect x="-3.5" y="5" width="75.3" height="1" fill="url(#p17)"/><rect x="-5.4" y="6" width="78.3" height="1" fill="url(#p15)"/><rect x="-1.0" y="7" width="70.5" height="1" fill="url(#p14)"/><rect x="12.2" y="8" width="43.0" height="1" fill="url(#p15)"/><rect x="6.0" y="9" width="55.6" height="1" fill="url(#p14)"/><rect x="7.5" y="10" width="52.8" height="1" fill="url(#p16)"/><rect x="21.0" y="11" width="26.2" height="1" fill="url(#p15)"/><rect x="12.1" y="12" width="43.7" height="1" fill="url(#p14)"/><rect x="12.3" y="13" width="43.5" height="1" fill="url(#p15)"/><rect x="15.8" y="14" width="36.1" height="1" fill="url(#p14)"/><rect x="14.2" y="15" width="39.1" height="1" fill="url(#p15)"/><rect x="16.5" y="16" width="35.0" height="1" fill="url(#p13)"/><rect x="21.3" y="17" width="25.0" height="1" fill="url(#p15)"/><rect x="18.6" y="18" width="30.9" height="1" fill="url(#p14)"/><rect x="20.0" y="19" width="28.4" height="1" fill="url(#p15)"/><rect x="19.3" y="20" width="29.3" height="1" fill="url(#p13)"/><rect x="19.7" y="21" width="29.4" height="1" fill="url(#p13)"/><rect x="17.7" y="22" width="32.8" height="1" fill="url(#p15)"/><rect x="22.9" y="23" width="22.1" height="1" fill="url(#p14)"/><rect x="22.6" y="24" width="23.4" height="1" fill="url(#p14)"/><rect x="21.6" y="25" width="24.9" height="1" fill="url(#p14)"/><rect x="23.0" y="26" width="21.8" height="1" fill="url(#p14)"/><rect x="25.8" y="27" width="16.4" height="1" fill="url(#p14)"/><rect x="21.9" y="28" width="24.0" height="1" fill="url(#p15)"/><rect x="20.1" y="29" width="27.9" height="1" fill="url(#p15)"/><rect x="19.3" y="30" width="29.6" height="1" fill="url(#p14)"/><rect x="22.6" y="31" width="22.8" height="1" fill="url(#p14)"/><rect x="23.7" y="32" width="20.5" height="1" fill="url(#p14)"/><rect x="22.2" y="33" width="23.5" height="1" fill="url(#p15)"/><rect x="24.4" y="34" width="19.5" height="1" fill="url(#p14)"/><rect x="23.2" y="35" width="21.0" height="1" fill="url(#p13)"/><rect x="21.4" y="36" width="25.2" height="1" fill="url(#p14)"/><rect x="23.1" y="37" width="21.9" height="1" fill="url(#p14)"/><rect x="24.6" y="38" width="18.9" height="1" fill="url(#p16)"/><rect x="24.2" y="39" width="19.9" height="1" fill="url(#p13)"/><rect x="23.0" y="40" width="22.1" height="2" fill="url(#p14)"/><rect x="23.7" y="42" width="20.4" height="2" fill="url(#p15)"/><rect x="26.9" y="44" width="14.5" height="2" fill="url(#p14)"/><rect x="26.8" y="46" width="14.1" height="2" fill="url(#p14)"/><rect x="24.3" y="48" width="19.3" height="2" fill="url(#p14)"/><rect x="26.4" y="50" width="15.2" height="2" fill="url(#p15)"/><rect x="26.0" y="52" width="15.9" height="2" fill="url(#p14)"/><rect x="26.8" y="54" width="14.4" height="2" fill="url(#p14)"/><rect x="24.7" y="56" width="18.3" height="2" fill="url(#p14)"/><rect x="26.7" y="58" width="14.6" height="2" fill="url(#p14)"/><rect x="26.5" y="60" width="15.0" height="2" fill="url(#p12)"/><rect x="26.4" y="62" width="15.3" height="2" fill="url(#p14)"/><rect x="26.6" y="64" width="15.0" height="2" fill="url(#p13)"/><rect x="27.5" y="66" width="13.9" height="2" fill="url(#p14)"/><rect x="26.6" y="68" width="14.4" height="2" fill="url(#p15)"/><rect x="27.9" y="70" width="11.5" height="2" fill="url(#p14)"/><rect x="26.8" y="72" width="15.0" height="2" fill="url(#p14)"/><rect x="26.6" y="74" width="14.6" height="2" fill="url(#p15)"/><rect x="28.0" y="76" width="12.1" height="2" fill="url(#p15)"/><rect x="24.9" y="78" width="18.1" height="2" fill="url(#p14)"/><rect x="26.8" y="80" width="14.6" height="2" fill="url(#p14)"/><rect x="27.0" y="82" width="13.9" height="2" fill="url(#p14)"/><rect x="26.5" y="84" width="15.0" height="2" fill="url(#p13)"/><rect x="26.7" y="86" width="14.5" height="2" fill="url(#p15)"/><rect x="27.3" y="88" width="13.4" height="2" fill="url(#p16)"/><rect x="27.3" y="90" width="13.5" height="2" fill="url(#p15)"/><rect x="28.0" y="92" width="12.0" height="2" fill="url(#p15)"/><rect x="28.7" y="94" width="10.8" height="2" fill="url(#p13)"/><rect x="27.6" y="96" width="12.2" height="2" fill="url(#p13)"/><rect x="27.2" y="98" width="14.0" height="2" fill="url(#p13)"/><rect x="27.2" y="100" width="13.9" height="2" fill="url(#p14)"/><rect x="27.9" y="102" width="12.4" height="2" fill="url(#p15)"/><rect x="27.0" y="104" width="14.3" height="2" fill="url(#p13)"/><rect x="27.1" y="106" width="13.8" height="2" fill="url(#p14)"/><rect x="28.7" y="108" width="11.0" height="2" fill="url(#p13)"/><rect x="28.2" y="110" width="11.7" height="2" fill="url(#p13)"/><rect x="27.6" y="112" width="12.8" height="2" fill="url(#p13)"/><rect x="29.7" y="114" width="8.4" height="2" fill="url(#p13)"/><rect x="27.4" y="116" width="13.1" height="2" fill="url(#p14)"/><rect x="28.4" y="118" width="11.2" height="2" fill="url(#p13)"/><rect x="28.9" y="120" width="10.4" height="2" fill="url(#p14)"/><rect x="27.6" y="122" width="12.9" height="2" fill="url(#p14)"/><rect x="27.9" y="124" width="12.0" height="2" fill="url(#p14)"/><rect x="28.2" y="126" width="12.2" height="2" fill="url(#p12)"/><rect x="28.9" y="128" width="10.6" height="2" fill="url(#p15)"/><rect x="28.3" y="130" width="11.1" height="2" fill="url(#p14)"/><rect x="29.1" y="132" width="9.2" height="2" fill="url(#p15)"/><rect x="29.4" y="134" width="9.4" height="2" fill="url(#p13)"/><rect x="27.9" y="136" width="12.7" height="2" fill="url(#p14)"/><rect x="29.2" y="138" width="9.8" height="2" fill="url(#p14)"/><rect x="28.3" y="140" width="11.5" height="2" fill="url(#p14)"/><rect x="27.9" y="142" width="12.2" height="2" fill="url(#p14)"/><rect x="28.7" y="144" width="10.3" height="2" fill="url(#p14)"/><rect x="29.7" y="146" width="8.9" height="2" fill="url(#p13)"/><rect x="30.0" y="148" width="8.7" height="2" fill="url(#p14)"/><rect x="30.2" y="150" width="7.5" height="2" fill="url(#p15)"/><rect x="29.3" y="152" width="9.1" height="2" fill="url(#p15)"/><rect x="28.8" y="154" width="10.1" height="2" fill="url(#p15)"/><rect x="29.8" y="156" width="8.8" height="2" fill="url(#p13)"/><rect x="29.1" y="158" width="9.3" height="2" fill="url(#p14)"/><rect x="29.8" y="160" width="8.3" height="2" fill="url(#p15)"/><rect x="29.7" y="162" width="8.5" height="2" fill="url(#p14)"/><rect x="29.6" y="164" width="9.2" height="2" fill="url(#p15)"/><rect x="30.6" y="166" width="7.2" height="2" fill="url(#p13)"/><rect x="29.7" y="168" width="8.4" height="2" fill="url(#p14)"/><rect x="29.7" y="170" width="8.6" height="2" fill="url(#p15)"/><rect x="29.7" y="172" width="8.8" height="2" fill="url(#p15)"/><rect x="30.3" y="174" width="7.8" height="2" fill="url(#p14)"/><rect x="30.3" y="176" width="7.2" height="2" fill="url(#p13)"/><rect x="29.9" y="178" width="8.3" height="2" fill="url(#p14)"/><rect x="30.5" y="180" width="7.4" height="2" fill="url(#p13)"/><rect x="30.1" y="182" width="7.7" height="2" fill="url(#p13)"/><rect x="29.9" y="184" width="8.2" height="2" fill="url(#p14)"/><rect x="30.0" y="186" width="8.1" height="2" fill="url(#p13)"/><rect x="30.6" y="188" width="7.2" height="2" fill="url(#p13)"/></svg>
<svg x="250.5" y="172.0" width="68.0" height="189.0"><rect width="68.0" height="189.0" fill="url(#bgp)"/><path d="M31 1h74v1h-74zM25 8h76v1h-76zM24 20h55v1h-55zM22 25h79v1h-79zM1 26h39v1h-39zM10 30h56v1h-56zM21 56h62v1h-62zM14 68h22v1h-22zM20 136h17v1h-17z" fill="#dce9f2"/><path d="M18 2h37v1h-37zM-5 3h29v1h-29zM40 9h61v1h-61zM21 13h75v1h-75zM6 18h73v1h-73zM-1 21h20v1h-20zM10 23h51v1h-51zM-2 39h45v1h-45zM45 42h69v1h-69z" fill="#d7e5f0"/><path d="M-7 4h78v1h-78zM8 15h58v1h-58zM23 17h54v1h-54zM9 19h34v1h-34zM27 31h40v1h-40zM29 45h54v1h-54z" fill="#e6f0f7"/><path d="M21 5h27v1h-27zM33 6h42v1h-42zM36 7h55v1h-55zM43 11h73v1h-73zM8 12h46v1h-46zM36 16h21v1h-21zM28 28h58v1h-58zM23 40h72v1h-72zM18 43h59v1h-59z" fill="#d4e3ef"/><path d="M-4 14h68v1h-68zM36 33h68v1h-68zM21 37h41v1h-41z" fill="#d9e7f1"/><path d="M22 49h71v1h-71zM18 61h65v1h-65zM10 64h23v1h-23zM10 70h63v1h-63zM32 71h57v1h-57zM-9 117h30v1h-30zM29 127h52v1h-52zM29 128h23v1h-23zM6 130h62v1h-62zM26 138h66v1h-66zM33 141h27v1h-27zM42 160h59v1h-59zM48 184h48v1h-48z" fill="#dfebf3"/><path d="M5 53h79v1h-79zM19 72h25v1h-25zM2 89h35v1h-35zM8 97h30v1h-30zM-4 121h61v1h-61zM32 131h22v1h-22zM44 145h17v1h-17zM-6 174h54v1h-54z" fill="#e3eef5"/><path d="M35 54h53v1h-53zM30 59h80v1h-80zM19 62h24v1h-24zM36 65h69v1h-69zM43 67h62v1h-62zM28 73h69v1h-69zM-9 85h32v1h-32zM25 91h64v1h-64zM35 140h76v1h-76z" fill="#e1edf4"/><path d="M26 63h36v1h-36zM33 79h60v1h-60z" fill="#eaf3f8"/><path d="M28 109h55v1h-55zM-9 114h50v1h-50z" fill="#ecf4f9"/><path d="M35 144h41v1h-41zM47 177h75v1h-75zM26 188h26v1h-26z" fill="#e5eff6"/><rect x="-26.9" y="0" width="121.7" height="1" fill="url(#p17)"/><rect x="-34.7" y="1" width="137.4" height="1" fill="url(#p17)"/><rect x="-0.4" y="2" width="69.3" height="1" fill="url(#p17)"/><rect x="-1.2" y="3" width="70.2" height="1" fill="url(#p15)"/><rect x="-5.0" y="4" width="77.6" height="1" fill="url(#p16)"/><rect x="-17.0" y="5" width="102.0" height="1" fill="url(#p15)"/><rect x="6.8" y="6" width="54.5" height="1" fill="url(#p15)"/><rect x="5.0" y="7" width="57.6" height="1" fill="url(#p14)"/><rect x="11.7" y="8" width="45.0" height="1" fill="url(#p15)"/><rect x="8.0" y="9" width="52.3" height="1" fill="url(#p15)"/><rect x="13.7" y="10" width="41.2" height="1" fill="url(#p16)"/><rect x="7.4" y="11" width="53.2" height="1" fill="url(#p15)"/><rect x="9.0" y="12" width="50.0" height="1" fill="url(#p15)"/><rect x="11.4" y="13" width="44.9" height="1" fill="url(#p14)"/><rect x="12.0" y="14" width="44.2" height="1" fill="url(#p13)"/><rect x="14.0" y="15" width="39.7" height="1" fill="url(#p16)"/><rect x="15.2" y="16" width="37.8" height="1" fill="url(#p15)"/><rect x="15.9" y="17" width="36.5" height="1" fill="url(#p15)"/><rect x="17.1" y="18" width="33.5" height="1" fill="url(#p14)"/><rect x="16.9" y="19" width="34.0" height="1" fill="url(#p14)"/><rect x="21.5" y="20" width="25.3" height="1" fill="url(#p13)"/><rect x="19.0" y="21" width="30.4" height="1" fill="url(#p15)"/><rect x="20.8" y="22" width="26.6" height="1" fill="url(#p13)"/><rect x="19.4" y="23" width="29.1" height="1" fill="url(#p14)"/><rect x="18.1" y="24" width="31.6" height="1" fill="url(#p14)"/><rect x="20.9" y="25" width="26.1" height="1" fill="url(#p16)"/><rect x="22.2" y="26" width="23.9" height="1" fill="url(#p16)"/><rect x="23.0" y="27" width="22.0" height="1" fill="url(#p15)"/><rect x="22.3" y="28" width="23.2" height="1" fill="url(#p14)"/><rect x="21.6" y="29" width="24.5" height="1" fill="url(#p15)"/><rect x="20.5" y="30" width="26.7" height="1" fill="url(#p14)"/><rect x="20.2" y="31" width="27.9" height="1" fill="url(#p14)"/><rect x="22.0" y="32" width="24.2" height="1" fill="url(#p14)"/><rect x="21.2" y="33" width="25.8" height="1" fill="url(#p16)"/><rect x="23.8" y="34" width="20.4" height="1" fill="url(#p14)"/><rect x="23.2" y="35" width="21.7" height="1" fill="url(#p14)"/><rect x="23.8" y="36" width="20.0" height="1" fill="url(#p14)"/><rect x="20.8" y="37" width="26.9" height="1" fill="url(#p14)"/><rect x="22.9" y="38" width="22.3" height="1" fill="url(#p15)"/><rect x="23.3" y="39" width="20.9" height="1" fill="url(#p14)"/><rect x="25.5" y="40" width="17.0" height="2" fill="url(#p14)"/><rect x="24.6" y="42" width="18.8" height="2" fill="url(#p15)"/><rect x="24.3" y="44" width="20.0" height="2" fill="url(#p15)"/><rect x="23.3" y="46" width="21.4" height="2" fill="url(#p15)"/><rect x="24.0" y="48" width="20.3" height="2" fill="url(#p14)"/><rect x="26.6" y="50" width="14.6" height="2" fill="url(#p13)"/><rect x="26.2" y="52" width="15.8" height="2" fill="url(#p15)"/><rect x="24.9" y="54" width="18.3" height="2" fill="url(#p16)"/><rect x="24.4" y="56" width="18.8" height="2" fill="url(#p14)"/><rect x="26.1" y="58" width="16.4" height="2" fill="url(#p13)"/><rect x="26.0" y="60" width="16.1" height="2" fill="url(#p16)"/><rect x="26.6" y="62" width="14.9" height="2" fill="url(#p13)"/><rect x="25.6" y="64" width="16.7" height="2" fill="url(#p14)"/><rect x="25.2" y="66" width="17.5" height="2" fill="url(#p14)"/><rect x="26.0" y="68" width="15.8" height="2" fill="url(#p15)"/><rect x="26.7" y="70" width="14.4" height="2" fill="url(#p14)"/><rect x="26.9" y="72" width="13.6" height="2" fill="url(#p14)"/><rect x="28.6" y="74" width="11.0" height="2" fill="url(#p15)"/><rect x="28.0" y="76" width="12.0" height="2" fill="url(#p14)"/><rect x="27.5" y="78" width="13.3" height="2" fill="url(#p13)"/><rect x="26.9" y="80" width="14.4" height="2" fill="url(#p15)"/><rect x="25.7" y="82" width="16.7" height="2" fill="url(#p13)"/><rect x="27.1" y="84" width="14.1" height="2" fill="url(#p14)"/><rect x="27.5" y="86" width="13.7" height="2" fill="url(#p14)"/><rect x="26.8" y="88" width="14.4" height="2" fill="url(#p15)"/><rect x="28.0" y="90" width="12.1" height="2" fill="url(#p13)"/><rect x="26.2" y="92" width="15.6" height="2" fill="url(#p14)"/><rect x="27.7" y="94" width="12.2" height="2" fill="url(#p14)"/><rect x="28.3" y="96" width="11.3" height="2" fill="url(#p14)"/><rect x="27.4" y="98" width="13.0" height="2" fill="url(#p13)"/><rect x="26.4" y="100" width="15.1" height="2" fill="url(#p14)"/><rect x="28.1" y="102" width="11.4" height="2" fill="url(#p14)"/><rect x="29.6" y="104" width="9.4" height="2" fill="url(#p16)"/><rect x="28.1" y="106" width="12.0" height="2" fill="url(#p15)"/><rect x="27.8" y="108" width="12.6" height="2" fill="url(#p14)"/><rect x="28.3" y="110" width="11.4" height="2" fill="url(#p14)"/><rect x="28.2" y="112" width="11.6" height="2" fill="url(#p14)"/><rect x="28.2" y="114" width="11.6" height="2" fill="url(#p14)"/><rect x="28.3" y="116" width="11.4" height="2" fill="url(#p14)"/><rect x="28.1" y="118" width="11.7" height="2" fill="url(#p14)"/><rect x="27.9" y="120" width="12.3" height="2" fill="url(#p13)"/><rect x="27.9" y="122" width="11.9" height="2" fill="url(#p15)"/><rect x="28.1" y="124" width="12.0" height="2" fill="url(#p15)"/><rect x="28.7" y="126" width="10.7" height="2" fill="url(#p13)"/><rect x="29.0" y="128" width="10.1" height="2" fill="url(#p15)"/><rect x="29.4" y="130" width="8.8" height="2" fill="url(#p14)"/><rect x="29.3" y="132" width="9.2" height="2" fill="url(#p13)"/><rect x="28.9" y="134" width="9.9" height="2" fill="url(#p14)"/><rect x="28.3" y="136" width="11.9" height="2" fill="url(#p13)"/><rect x="28.5" y="138" width="11.4" height="2" fill="url(#p13)"/><rect x="29.1" y="140" width="9.9" height="2" fill="url(#p14)"/><rect x="29.3" y="142" width="9.5" height="2" fill="url(#p13)"/><rect x="29.5" y="144" width="9.3" height="2" fill="url(#p13)"/><rect x="28.7" y="146" width="11.1" height="2" fill="url(#p12)"/><rect x="29.2" y="148" width="9.6" height="2" fill="url(#p14)"/><rect x="29.2" y="150" width="9.5" height="2" fill="url(#p12)"/><rect x="30.6" y="152" width="7.1" height="2" fill="url(#p14)"/><rect x="29.2" y="154" width="9.4" height="2" fill="url(#p14)"/><rect x="29.8" y="156" width="8.2" height="2" fill="url(#p15)"/><rect x="29.7" y="158" width="8.9" height="2" fill="url(#p13)"/><rect x="29.4" y="160" width="9.3" height="2" fill="url(#p15)"/><rect x="29.8" y="162" width="8.1" height="2" fill="url(#p14)"/><rect x="29.6" y="164" width="8.5" height="2" fill="url(#p14)"/><rect x="29.1" y="166" width="9.1" height="2" fill="url(#p14)"/><rect x="29.9" y="168" width="8.2" height="2" fill="url(#p14)"/><rect x="29.6" y="170" width="8.9" height="2" fill="url(#p13)"/><rect x="30.5" y="172" width="6.8" height="2" fill="url(#p13)"/><rect x="30.4" y="174" width="7.4" height="2" fill="url(#p14)"/><rect x="29.1" y="176" width="9.4" height="2" fill="url(#p12)"/><rect x="29.8" y="178" width="8.5" height="2" fill="url(#p13)"/><rect x="30.5" y="180" width="7.2" height="2" fill="url(#p14)"/><rect x="30.1" y="182" width="8.1" height="2" fill="url(#p14)"/><rect x="29.7" y="184" width="8.6" height="2" fill="url(#p13)"/><rect x="29.6" y="186" width="8.6" height="2" fill="url(#p13)"/><rect x="31.0" y="188" width="6.5" height="2" fill="url(#p16)"/></svg>
<svg x="372.2" y="172.0" width="68.0" height="189.0"><rect width="68.0" height="189.0" fill="url(#bgw)"/><path d="M34 0h17v1h-17zM42 7h40v1h-40zM23 9h57v1h-57zM27 30h18v1h-18zM17 31h75v1h-75zM15 57h30v1h-30zM47 64h73v1h-73zM26 76h43v1h-43zM-6 79h48v1h-48zM36 85h35v1h-35zM-2 90h17v1h-17zM17 102h36v1h-36zM45 104h57v1h-57zM-3 113h47v1h-47zM44 137h44v1h-44zM1 150h72v1h-72z" fill="#d2eeeb"/><path d="M45 1h60v1h-60zM7 14h29v1h-29zM44 15h51v1h-51zM33 16h37v1h-37zM9 19h35v1h-35zM29 21h39v1h-39zM48 24h30v1h-30zM6 33h45v1h-45zM17 35h62v1h-62zM28 42h48v1h-48zM11 50h21v1h-21zM-3 51h49v1h-49zM32 54h25v1h-25zM40 55h49v1h-49zM19 56h66v1h-66zM12 69h16v1h-16zM38 70h18v1h-18zM39 71h58v1h-58zM6 74h48v1h-48zM42 75h56v1h-56zM34 101h51v1h-51zM7 118h40v1h-40zM4 120h31v1h-31z" fill="#d0ede9"/><path d="M16 2h44v1h-44zM8 3h61v1h-61zM18 4h30v1h-30zM34 6h71v1h-71zM-1 10h50v1h-50zM25 11h60v1h-60zM-2 17h28v1h-28zM21 22h73v1h-73zM40 36h61v1h-61zM28 39h79v1h-79zM4 45h24v1h-24zM-9 62h33v1h-33z" fill="#daf1f1"/><path d="M44 25h71v1h-71zM3 34h76v1h-76zM30 37h22v1h-22zM17 43h67v1h-67zM32 52h40v1h-40zM14 59h54v1h-54z" fill="#ceede8"/><path d="M33 40h27v1h-27zM34 41h63v1h-63zM13 47h67v1h-67zM38 65h33v1h-33zM43 84h54v1h-54zM35 91h30v1h-30zM44 95h55v1h-55zM43 98h31v1h-31zM3 103h62v1h-62zM42 116h53v1h-53zM15 131h71v1h-71zM7 136h33v1h-33zM10 148h19v1h-19zM39 149h45v1h-45zM17 153h71v1h-71zM41 162h20v1h-20zM6 181h47v1h-47zM17 182h67v1h-67zM-9 186h55v1h-55z" fill="#d4efec"/><path d="M35 88h58v1h-58zM40 94h71v1h-71z" fill="#dcf2f2"/><path d="M50 106h35v1h-35zM2 112h27v1h-27zM26 122h54v1h-54zM32 145h76v1h-76zM29 154h74v1h-74zM-2 157h40v1h-40zM41 187h21v1h-21z" fill="#d6f0ee"/><path d="M44 129h59v1h-59zM33 155h22v1h-22zM7 156h37v1h-37zM10 161h63v1h-63z" fill="#def2f4"/><path d="M34 176h78v1h-78z" fill="#d8f0ef"/><rect x="-46.3" y="0" width="161.2" height="1" fill="url(#w19)"/><rect x="-45.8" y="1" width="160.3" height="1" fill="url(#w18)"/><rect x="-65.0" y="2" width="198.1" height="1" fill="url(#w17)"/><rect x="-34.6" y="3" width="137.4" height="1" fill="url(#w15)"/><rect x="-21.6" y="4" width="111.1" height="1" fill="url(#w15)"/><rect x="-27.0" y="5" width="121.7" height="1" fill="url(#w15)"/><rect x="-16.6" y="6" width="101.3" height="1" fill="url(#w14)"/><rect x="-3.1" y="7" width="74.4" height="1" fill="url(#w14)"/><rect x="-22.3" y="8" width="112.7" height="1" fill="url(#w14)"/><rect x="-0.1" y="9" width="68.6" height="1" fill="url(#w13)"/><rect x="-14.0" y="10" width="95.9" height="1" fill="url(#w13)"/><rect x="-6.5" y="11" width="81.5" height="1" fill="url(#w14)"/><rect x="-6.0" y="12" width="79.9" height="1" fill="url(#w12)"/><rect x="-1.2" y="13" width="70.6" height="1" fill="url(#w10)"/><rect x="0.3" y="14" width="66.7" height="1" fill="url(#w12)"/><rect x="-1.9" y="15" width="71.3" height="1" fill="url(#w11)"/><rect x="4.2" y="16" width="60.7" height="1" fill="url(#w10)"/><rect x="9.7" y="17" width="48.6" height="1" fill="url(#w11)"/><rect x="11.1" y="18" width="46.0" height="1" fill="url(#w11)"/><rect x="17.2" y="19" width="33.8" height="1" fill="url(#w11)"/><rect x="6.9" y="20" width="54.2" height="1" fill="url(#w11)"/><rect x="13.2" y="21" width="41.8" height="1" fill="url(#w10)"/><rect x="9.1" y="22" width="49.5" height="1" fill="url(#w10)"/><rect x="5.7" y="23" width="56.3" height="1" fill="url(#w10)"/><rect x="9.8" y="24" width="47.9" height="1" fill="url(#w9)"/><rect x="13.3" y="25" width="41.2" height="1" fill="url(#w10)"/><rect x="9.9" y="26" width="47.6" height="1" fill="url(#w9)"/><rect x="16.2" y="27" width="35.6" height="1" fill="url(#w9)"/><rect x="10.6" y="28" width="46.4" height="1" fill="url(#w9)"/><rect x="14.8" y="29" width="38.2" height="1" fill="url(#w8)"/><rect x="20.3" y="30" width="27.4" height="1" fill="url(#w9)"/><rect x="10.7" y="31" width="46.2" height="1" fill="url(#w9)"/><rect x="10.1" y="32" width="47.8" height="1" fill="url(#w8)"/><rect x="15.9" y="33" width="35.7" height="1" fill="url(#w8)"/><rect x="15.0" y="34" width="37.7" height="1" fill="url(#w8)"/><rect x="22.2" y="35" width="23.8" height="1" fill="url(#w8)"/><rect x="15.3" y="36" width="37.6" height="1" fill="url(#w8)"/><rect x="20.2" y="37" width="27.1" height="1" fill="url(#w8)"/><rect x="16.7" y="38" width="34.4" height="1" fill="url(#w7)"/><rect x="17.9" y="39" width="32.5" height="1" fill="url(#w7)"/><rect x="17.7" y="40" width="32.4" height="2" fill="url(#w7)"/><rect x="16.7" y="42" width="34.2" height="2" fill="url(#w8)"/><rect x="15.0" y="44" width="38.0" height="2" fill="url(#w6)"/><rect x="17.9" y="46" width="32.9" height="2" fill="url(#w6)"/><rect x="20.5" y="48" width="27.0" height="2" fill="url(#w6)"/><rect x="15.4" y="50" width="37.7" height="2" fill="url(#w5)"/><rect x="18.7" y="52" width="30.5" height="2" fill="url(#w5)"/><rect x="20.6" y="54" width="26.8" height="2" fill="url(#w5)"/><rect x="20.0" y="56" width="28.5" height="2" fill="url(#w5)"/><rect x="22.7" y="58" width="22.4" height="2" fill="url(#w4)"/><rect x="22.2" y="60" width="23.7" height="2" fill="url(#w5)"/><rect x="22.6" y="62" width="22.7" height="2" fill="url(#w5)"/><rect x="19.5" y="64" width="29.5" height="2" fill="url(#w4)"/><rect x="18.4" y="66" width="30.3" height="2" fill="url(#w4)"/><rect x="22.0" y="68" width="23.7" height="2" fill="url(#w5)"/><rect x="21.0" y="70" width="26.4" height="2" fill="url(#w4)"/><rect x="19.6" y="72" width="29.0" height="2" fill="url(#w4)"/><rect x="21.6" y="74" width="25.1" height="2" fill="url(#w5)"/><rect x="21.5" y="76" width="25.4" height="2" fill="url(#w4)"/><rect x="18.5" y="78" width="30.6" height="2" fill="url(#w3)"/><rect x="19.6" y="80" width="28.7" height="2" fill="url(#w3)"/><rect x="19.7" y="82" width="29.2" height="2" fill="url(#w3)"/><rect x="20.9" y="84" width="25.9" height="2" fill="url(#w4)"/><rect x="20.1" y="86" width="28.0" height="2" fill="url(#w3)"/><rect x="18.5" y="88" width="31.4" height="2" fill="url(#w3)"/><rect x="24.8" y="90" width="18.7" height="2" fill="url(#w2)"/><rect x="24.5" y="92" width="19.5" height="2" fill="url(#w2)"/><rect x="23.1" y="94" width="21.5" height="2" fill="url(#w2)"/><rect x="21.0" y="96" width="26.3" height="2" fill="url(#w3)"/><rect x="21.1" y="98" width="25.4" height="2" fill="url(#w2)"/><rect x="23.2" y="100" width="21.7" height="2" fill="url(#w2)"/><rect x="22.8" y="102" width="22.5" height="2" fill="url(#w3)"/><rect x="22.4" y="104" width="23.5" height="2" fill="url(#w2)"/><rect x="24.0" y="106" width="19.4" height="2" fill="url(#w2)"/><rect x="21.8" y="108" width="24.0" height="2" fill="url(#w2)"/><rect x="23.0" y="110" width="22.8" height="2" fill="url(#w3)"/><rect x="22.7" y="112" width="22.2" height="2" fill="url(#w2)"/><rect x="22.4" y="114" width="22.8" height="2" fill="url(#w2)"/><rect x="22.5" y="116" width="23.6" height="2" fill="url(#w2)"/><rect x="21.7" y="118" width="24.7" height="2" fill="url(#w3)"/><rect x="22.3" y="120" width="23.2" height="2" fill="url(#w2)"/><rect x="24.5" y="122" width="18.8" height="2" fill="url(#w1)"/><rect x="24.8" y="124" width="18.8" height="2" fill="url(#w2)"/><rect x="22.6" y="126" width="23.2" height="2" fill="url(#w2)"/><rect x="25.0" y="128" width="17.8" height="2" fill="url(#w1)"/><rect x="23.3" y="130" width="21.7" height="2" fill="url(#w1)"/><rect x="22.9" y="132" width="22.2" height="2" fill="url(#w1)"/><rect x="23.0" y="134" width="22.2" height="2" fill="url(#w2)"/><rect x="25.5" y="136" width="17.2" height="2" fill="url(#w0)"/><rect x="24.3" y="138" width="19.6" height="2" fill="url(#w1)"/><rect x="24.2" y="140" width="19.6" height="2" fill="url(#w2)"/><rect x="22.8" y="142" width="21.9" height="2" fill="url(#w1)"/><rect x="23.8" y="144" width="20.4" height="2" fill="url(#w1)"/><rect x="23.9" y="146" width="19.7" height="2" fill="url(#w1)"/><rect x="24.6" y="148" width="18.6" height="2" fill="url(#w1)"/><rect x="25.0" y="150" width="17.8" height="2" fill="url(#w1)"/><rect x="25.8" y="152" width="17.0" height="2" fill="url(#w1)"/><rect x="23.6" y="154" width="20.2" height="2" fill="url(#w1)"/><rect x="24.2" y="156" width="18.9" height="2" fill="url(#w1)"/><rect x="24.5" y="158" width="19.2" height="2" fill="url(#w2)"/><rect x="24.5" y="160" width="19.0" height="2" fill="url(#w0)"/><rect x="24.5" y="162" width="19.7" height="2" fill="url(#w1)"/><rect x="23.9" y="164" width="20.2" height="2" fill="url(#w1)"/><rect x="24.1" y="166" width="19.3" height="2" fill="url(#w1)"/><rect x="26.4" y="168" width="15.7" height="2" fill="url(#w1)"/><rect x="22.9" y="170" width="22.3" height="2" fill="url(#w1)"/><rect x="24.1" y="172" width="19.8" height="2" fill="url(#w1)"/><rect x="25.3" y="174" width="17.2" height="2" fill="url(#w1)"/><rect x="24.8" y="176" width="19.0" height="2" fill="url(#w2)"/><rect x="23.3" y="178" width="20.7" height="2" fill="url(#w0)"/><rect x="25.7" y="180" width="16.2" height="2" fill="url(#w0)"/><rect x="24.8" y="182" width="18.4" height="2" fill="url(#w1)"/><rect x="24.6" y="184" width="18.4" height="2" fill="url(#w1)"/><rect x="24.5" y="186" width="19.5" height="2" fill="url(#w1)"/><rect x="22.8" y="188" width="21.8" height="2" fill="url(#w0)"/></svg>
<svg x="446.6" y="172.0" width="68.0" height="189.0"><rect width="68.0" height="189.0" fill="url(#bgw)"/><path d="M15 0h66v1h-66zM30 14h56v1h-56zM11 15h27v1h-27zM-10 24h38v1h-38zM49 31h58v1h-58zM9 67h71v1h-71zM7 69h23v1h-23zM32 73h40v1h-40zM26 99h56v1h-56zM46 108h65v1h-65z" fill="#d0ede9"/><path d="M27 1h33v1h-33zM27 2h24v1h-24zM-6 3h30v1h-30zM30 7h17v1h-17zM31 9h34v1h-34zM9 10h38v1h-38zM1 11h42v1h-42zM43 12h33v1h-33zM40 17h20v1h-20zM1 18h20v1h-20zM34 19h47v1h-47zM11 21h66v1h-66zM-6 33h24v1h-24zM9 36h67v1h-67zM50 39h58v1h-58zM1 51h32v1h-32zM23 60h42v1h-42zM26 61h25v1h-25zM12 62h79v1h-79z" fill="#ceede8"/><path d="M4 6h32v1h-32zM36 8h62v1h-62zM2 38h34v1h-34zM32 43h75v1h-75zM6 45h46v1h-46zM28 48h71v1h-71zM36 53h60v1h-60zM-6 59h37v1h-37z" fill="#daf1f1"/><path d="M41 13h77v1h-77zM19 16h54v1h-54zM34 20h65v1h-65zM49 22h26v1h-26zM2 28h48v1h-48zM39 30h41v1h-41zM4 32h77v1h-77zM-8 47h30v1h-30zM24 54h65v1h-65zM34 77h24v1h-24zM25 78h75v1h-75zM26 93h71v1h-71zM8 107h43v1h-43zM29 129h78v1h-78zM29 162h60v1h-60zM35 172h28v1h-28z" fill="#d2eeeb"/><path d="M46 40h16v1h-16zM45 63h16v1h-16zM8 66h77v1h-77zM41 79h49v1h-49zM35 89h65v1h-65zM27 96h65v1h-65zM-9 97h80v1h-80zM40 109h27v1h-27zM32 119h41v1h-41zM3 135h68v1h-68zM-2 150h39v1h-39zM6 152h34v1h-34zM40 155h24v1h-24zM31 163h64v1h-64zM5 178h19v1h-19zM6 187h80v1h-80z" fill="#d4efec"/><path d="M12 83h61v1h-61zM-1 85h57v1h-57zM21 88h71v1h-71zM41 95h77v1h-77zM-3 104h71v1h-71zM-6 106h40v1h-40z" fill="#dcf2f2"/><path d="M31 121h47v1h-47zM36 126h33v1h-33zM4 130h76v1h-76zM45 132h52v1h-52zM16 145h21v1h-21zM45 157h27v1h-27zM29 159h42v1h-42zM17 161h20v1h-20zM37 166h59v1h-59z" fill="#d6f0ee"/><path d="M45 147h74v1h-74zM10 158h47v1h-47zM-3 177h37v1h-37z" fill="#def2f4"/><path d="M18 174h49v1h-49zM-10 175h32v1h-32zM0 176h64v1h-64zM28 180h46v1h-46z" fill="#d8f0ef"/><rect x="-70.1" y="0" width="208.5" height="1" fill="url(#w18)"/><rect x="-18.0" y="1" width="103.9" height="1" fill="url(#w18)"/><rect x="-63.0" y="2" width="193.9" height="1" fill="url(#w17)"/><rect x="-56.7" y="3" width="181.6" height="1" fill="url(#w16)"/><rect x="-18.4" y="4" width="105.6" height="1" fill="url(#w16)"/><rect x="-15.7" y="5" width="99.8" height="1" fill="url(#w16)"/><rect x="-25.3" y="6" width="118.3" height="1" fill="url(#w14)"/><rect x="-5.2" y="7" width="78.0" height="1" fill="url(#w13)"/><rect x="-2.0" y="8" width="72.1" height="1" fill="url(#w13)"/><rect x="-1.0" y="9" width="70.5" height="1" fill="url(#w13)"/><rect x="3.7" y="10" width="60.8" height="1" fill="url(#w14)"/><rect x="6.6" y="11" width="55.5" height="1" fill="url(#w13)"/><rect x="4.6" y="12" width="59.4" height="1" fill="url(#w12)"/><rect x="2.3" y="13" width="63.6" height="1" fill="url(#w12)"/><rect x="6.3" y="14" width="55.0" height="1" fill="url(#w11)"/><rect x="5.0" y="15" width="58.0" height="1" fill="url(#w12)"/><rect x="4.4" y="16" width="58.9" height="1" fill="url(#w11)"/><rect x="16.2" y="17" width="35.9" height="1" fill="url(#w10)"/><rect x="9.1" y="18" width="49.6" height="1" fill="url(#w11)"/><rect x="9.1" y="19" width="50.2" height="1" fill="url(#w11)"/><rect x="3.7" y="20" width="61.0" height="1" fill="url(#w10)"/><rect x="15.0" y="21" width="37.8" height="1" fill="url(#w10)"/><rect x="10.0" y="22" width="47.6" height="1" fill="url(#w10)"/><rect x="10.3" y="23" width="47.2" height="1" fill="url(#w10)"/><rect x="11.5" y="24" width="44.8" height="1" fill="url(#w10)"/><rect x="15.9" y="25" width="36.1" height="1" fill="url(#w9)"/><rect x="8.4" y="26" width="51.5" height="1" fill="url(#w10)"/><rect x="17.6" y="27" width="32.6" height="1" fill="url(#w8)"/><rect x="14.7" y="28" width="38.3" height="1" fill="url(#w8)"/><rect x="17.8" y="29" width="32.3" height="1" fill="url(#w9)"/><rect x="13.2" y="30" width="41.4" height="1" fill="url(#w9)"/><rect x="16.3" y="31" width="35.5" height="1" fill="url(#w8)"/><rect x="11.3" y="32" width="45.2" height="1" fill="url(#w8)"/><rect x="17.0" y="33" width="34.5" height="1" fill="url(#w8)"/><rect x="15.2" y="34" width="37.8" height="1" fill="url(#w8)"/><rect x="15.9" y="35" width="35.9" height="1" fill="url(#w8)"/><rect x="13.9" y="36" width="40.5" height="1" fill="url(#w8)"/><rect x="17.0" y="37" width="34.1" height="1" fill="url(#w8)"/><rect x="16.0" y="38" width="35.7" height="1" fill="url(#w8)"/><rect x="12.3" y="39" width="43.5" height="1" fill="url(#w8)"/><rect x="18.2" y="40" width="31.3" height="2" fill="url(#w7)"/><rect x="17.1" y="42" width="33.8" height="2" fill="url(#w7)"/><rect x="17.5" y="44" width="33.0" height="2" fill="url(#w6)"/><rect x="17.0" y="46" width="34.1" height="2" fill="url(#w6)"/><rect x="18.2" y="48" width="31.2" height="2" fill="url(#w6)"/><rect x="20.2" y="50" width="28.4" height="2" fill="url(#w5)"/><rect x="20.5" y="52" width="27.6" height="2" fill="url(#w5)"/><rect x="18.8" y="54" width="30.9" height="2" fill="url(#w6)"/><rect x="17.5" y="56" width="33.1" height="2" fill="url(#w7)"/><rect x="20.8" y="58" width="26.6" height="2" fill="url(#w5)"/><rect x="18.6" y="60" width="30.5" height="2" fill="url(#w5)"/><rect x="19.3" y="62" width="28.8" height="2" fill="url(#w5)"/><rect x="20.9" y="64" width="25.9" height="2" fill="url(#w5)"/><rect x="20.0" y="66" width="27.5" height="2" fill="url(#w4)"/><rect x="23.3" y="68" width="20.9" height="2" fill="url(#w4)"/><rect x="21.7" y="70" width="24.9" height="2" fill="url(#w5)"/><rect x="22.1" y="72" width="23.2" height="2" fill="url(#w4)"/><rect x="22.0" y="74" width="24.8" height="2" fill="url(#w3)"/><rect x="23.8" y="76" width="19.3" height="2" fill="url(#w3)"/><rect x="21.2" y="78" width="24.7" height="2" fill="url(#w3)"/><rect x="22.2" y="80" width="23.9" height="2" fill="url(#w4)"/><rect x="22.6" y="82" width="22.1" height="2" fill="url(#w5)"/><rect x="20.0" y="84" width="28.6" height="2" fill="url(#w3)"/><rect x="20.3" y="86" width="27.6" height="2" fill="url(#w4)"/><rect x="21.5" y="88" width="24.9" height="2" fill="url(#w4)"/><rect x="21.0" y="90" width="26.0" height="2" fill="url(#w3)"/><rect x="23.8" y="92" width="21.0" height="2" fill="url(#w2)"/><rect x="24.1" y="94" width="20.1" height="2" fill="url(#w2)"/><rect x="23.9" y="96" width="20.8" height="2" fill="url(#w2)"/><rect x="21.0" y="98" width="26.5" height="2" fill="url(#w3)"/><rect x="19.8" y="100" width="28.8" height="2" fill="url(#w2)"/><rect x="22.6" y="102" width="23.0" height="2" fill="url(#w3)"/><rect x="21.4" y="104" width="24.9" height="2" fill="url(#w2)"/><rect x="24.3" y="106" width="19.4" height="2" fill="url(#w3)"/><rect x="22.6" y="108" width="22.3" height="2" fill="url(#w2)"/><rect x="20.9" y="110" width="26.5" height="2" fill="url(#w2)"/><rect x="23.7" y="112" width="20.6" height="2" fill="url(#w2)"/><rect x="24.4" y="114" width="19.2" height="2" fill="url(#w1)"/><rect x="22.4" y="116" width="23.0" height="2" fill="url(#w3)"/><rect x="22.4" y="118" width="22.6" height="2" fill="url(#w2)"/><rect x="23.9" y="120" width="19.4" height="2" fill="url(#w1)"/><rect x="22.7" y="122" width="23.7" height="2" fill="url(#w2)"/><rect x="23.6" y="124" width="20.4" height="2" fill="url(#w1)"/><rect x="25.5" y="126" width="16.7" height="2" fill="url(#w1)"/><rect x="24.5" y="128" width="19.0" height="2" fill="url(#w2)"/><rect x="22.6" y="130" width="22.9" height="2" fill="url(#w2)"/><rect x="22.4" y="132" width="23.1" height="2" fill="url(#w2)"/><rect x="26.6" y="134" width="15.0" height="2" fill="url(#w1)"/><rect x="24.8" y="136" width="17.5" height="2" fill="url(#w1)"/><rect x="22.9" y="138" width="22.3" height="2" fill="url(#w2)"/><rect x="25.4" y="140" width="16.5" height="2" fill="url(#w1)"/><rect x="23.8" y="142" width="20.8" height="2" fill="url(#w1)"/><rect x="24.7" y="144" width="18.6" height="2" fill="url(#w1)"/><rect x="24.3" y="146" width="19.9" height="2" fill="url(#w1)"/><rect x="24.7" y="148" width="18.1" height="2" fill="url(#w1)"/><rect x="24.7" y="150" width="19.4" height="2" fill="url(#w1)"/><rect x="24.8" y="152" width="18.8" height="2" fill="url(#w1)"/><rect x="25.5" y="154" width="17.1" height="2" fill="url(#w1)"/><rect x="25.4" y="156" width="17.2" height="2" fill="url(#w1)"/><rect x="25.8" y="158" width="17.1" height="2" fill="url(#w0)"/><rect x="24.1" y="160" width="19.1" height="2" fill="url(#w2)"/><rect x="23.2" y="162" width="21.9" height="2" fill="url(#w1)"/><rect x="24.4" y="164" width="19.5" height="2" fill="url(#w0)"/><rect x="24.2" y="166" width="19.5" height="2" fill="url(#w2)"/><rect x="23.9" y="168" width="19.7" height="2" fill="url(#w1)"/><rect x="25.5" y="170" width="16.8" height="2" fill="url(#w1)"/><rect x="22.7" y="172" width="22.7" height="2" fill="url(#w1)"/><rect x="25.5" y="174" width="17.9" height="2" fill="url(#w2)"/><rect x="25.1" y="176" width="18.2" height="2" fill="url(#w1)"/><rect x="25.2" y="178" width="17.7" height="2" fill="url(#w1)"/><rect x="24.0" y="180" width="19.0" height="2" fill="url(#w0)"/><rect x="25.1" y="182" width="17.9" height="2" fill="url(#w0)"/><rect x="23.9" y="184" width="20.3" height="2" fill="url(#w0)"/><rect x="24.3" y="186" width="19.3" height="2" fill="url(#w1)"/><rect x="24.7" y="188" width="18.9" height="2" fill="url(#w0)"/></svg>
<svg x="520.6" y="172.0" width="68.0" height="189.0"><rect width="68.0" height="189.0" fill="url(#bgg)"/><path d="M15 0h28v1h-28zM10 2h30v1h-30zM2 3h41v1h-41zM18 4h61v1h-61zM6 6h18v1h-18zM31 23h77v1h-77zM17 46h40v1h-40zM32 51h72v1h-72z" fill="#afe1d6"/><path d="M16 1h70v1h-70zM21 5h64v1h-64zM47 21h78v1h-78zM1 27h67v1h-67zM-7 39h78v1h-78zM32 62h68v1h-68z" fill="#c8eae4"/><path d="M-9 10h29v1h-29zM-2 11h29v1h-29zM10 14h45v1h-45zM13 18h65v1h-65zM-1 19h51v1h-51zM-3 20h28v1h-28zM-4 22h75v1h-75zM-7 25h16v1h-16zM18 26h54v1h-54zM-10 32h28v1h-28zM48 35h75v1h-75zM20 36h66v1h-66zM46 37h26v1h-26zM27 38h30v1h-30zM44 42h41v1h-41zM27 53h25v1h-25zM10 56h79v1h-79zM7 96h73v1h-73zM50 106h30v1h-30zM5 124h40v1h-40z" fill="#b4e2d8"/><path d="M8 13h57v1h-57zM24 24h58v1h-58zM20 40h72v1h-72zM39 47h31v1h-31zM31 59h56v1h-56zM17 73h56v1h-56zM25 86h50v1h-50zM-9 105h25v1h-25zM30 121h77v1h-77zM21 126h80v1h-80zM28 131h31v1h-31zM11 135h79v1h-79zM47 143h63v1h-63zM8 168h48v1h-48zM31 179h40v1h-40zM35 187h44v1h-44z" fill="#b8e4da"/><path d="M1 45h54v1h-54zM8 60h25v1h-25zM-2 63h76v1h-76zM25 67h40v1h-40zM47 69h32v1h-32zM32 70h32v1h-32zM41 74h56v1h-56zM46 79h49v1h-49zM12 82h34v1h-34zM32 90h64v1h-64zM19 91h15v1h-15zM8 110h46v1h-46zM47 111h73v1h-73zM42 120h18v1h-18zM42 123h17v1h-17zM-10 127h51v1h-51zM15 130h26v1h-26zM8 147h54v1h-54zM4 161h19v1h-19zM49 165h57v1h-57zM40 180h60v1h-60z" fill="#bce6dd"/><path d="M8 66h65v1h-65zM12 87h62v1h-62zM20 93h67v1h-67zM17 113h77v1h-77z" fill="#ccece6"/><path d="M11 101h43v1h-43zM43 118h23v1h-23zM4 122h62v1h-62zM-5 129h54v1h-54zM39 139h76v1h-76zM13 152h40v1h-40zM36 154h62v1h-62zM16 158h53v1h-53z" fill="#c0e7df"/><path d="M-2 134h32v1h-32zM-8 145h55v1h-55zM45 151h76v1h-76zM5 176h46v1h-46zM29 188h22v1h-22z" fill="#ceede8"/><rect x="-63.1" y="0" width="194.9" height="1" fill="url(#g19)"/><rect x="-46.8" y="1" width="162.1" height="1" fill="url(#g19)"/><rect x="-22.6" y="2" width="113.2" height="1" fill="url(#g18)"/><rect x="-39.0" y="3" width="146.3" height="1" fill="url(#g19)"/><rect x="-24.8" y="4" width="116.9" height="1" fill="url(#g18)"/><rect x="-27.6" y="5" width="123.6" height="1" fill="url(#g16)"/><rect x="-13.2" y="6" width="94.6" height="1" fill="url(#g17)"/><rect x="-16.3" y="7" width="100.5" height="1" fill="url(#g16)"/><rect x="-21.9" y="8" width="111.6" height="1" fill="url(#g16)"/><rect x="-6.4" y="9" width="80.5" height="1" fill="url(#g16)"/><rect x="8.2" y="10" width="51.6" height="1" fill="url(#g15)"/><rect x="1.6" y="11" width="65.3" height="1" fill="url(#g15)"/><rect x="4.1" y="12" width="60.0" height="1" fill="url(#g15)"/><rect x="-3.5" y="13" width="74.8" height="1" fill="url(#g14)"/><rect x="17.5" y="14" width="32.6" height="1" fill="url(#g15)"/><rect x="6.2" y="15" width="55.7" height="1" fill="url(#g15)"/><rect x="19.1" y="16" width="29.2" height="1" fill="url(#g16)"/><rect x="6.2" y="17" width="55.5" height="1" fill="url(#g14)"/><rect x="4.3" y="18" width="59.3" height="1" fill="url(#g14)"/><rect x="12.9" y="19" width="42.3" height="1" fill="url(#g14)"/><rect x="7.5" y="20" width="53.2" height="1" fill="url(#g15)"/><rect x="13.5" y="21" width="40.4" height="1" fill="url(#g13)"/><rect x="13.2" y="22" width="41.6" height="1" fill="url(#g14)"/><rect x="18.1" y="23" width="31.6" height="1" fill="url(#g14)"/><rect x="12.5" y="24" width="43.6" height="1" fill="url(#g14)"/><rect x="15.8" y="25" width="36.1" height="1" fill="url(#g14)"/><rect x="10.4" y="26" width="47.1" height="1" fill="url(#g14)"/><rect x="18.2" y="27" width="31.8" height="1" fill="url(#g13)"/><rect x="10.3" y="28" width="47.5" height="1" fill="url(#g14)"/><rect x="12.4" y="29" width="42.6" height="1" fill="url(#g14)"/><rect x="17.9" y="30" width="32.3" height="1" fill="url(#g14)"/><rect x="13.8" y="31" width="40.2" height="1" fill="url(#g13)"/><rect x="9.2" y="32" width="49.1" height="1" fill="url(#g13)"/><rect x="15.0" y="33" width="38.2" height="1" fill="url(#g13)"/><rect x="14.0" y="34" width="40.7" height="1" fill="url(#g14)"/><rect x="20.3" y="35" width="27.4" height="1" fill="url(#g12)"/><rect x="14.8" y="36" width="38.3" height="1" fill="url(#g12)"/><rect x="17.0" y="37" width="33.9" height="1" fill="url(#g13)"/><rect x="16.4" y="38" width="35.4" height="1" fill="url(#g12)"/><rect x="21.8" y="39" width="25.2" height="1" fill="url(#g12)"/><rect x="18.6" y="40" width="30.0" height="2" fill="url(#g12)"/><rect x="18.1" y="42" width="31.8" height="2" fill="url(#g11)"/><rect x="21.0" y="44" width="26.4" height="2" fill="url(#g12)"/><rect x="14.3" y="46" width="39.3" height="2" fill="url(#g11)"/><rect x="17.9" y="48" width="32.3" height="2" fill="url(#g12)"/><rect x="19.4" y="50" width="29.6" height="2" fill="url(#g12)"/><rect x="16.1" y="52" width="35.7" height="2" fill="url(#g11)"/><rect x="17.3" y="54" width="33.6" height="2" fill="url(#g12)"/><rect x="20.4" y="56" width="26.7" height="2" fill="url(#g12)"/><rect x="18.7" y="58" width="30.3" height="2" fill="url(#g12)"/><rect x="20.9" y="60" width="26.8" height="2" fill="url(#g11)"/><rect x="20.9" y="62" width="26.5" height="2" fill="url(#g11)"/><rect x="22.1" y="64" width="24.1" height="2" fill="url(#g10)"/><rect x="22.0" y="66" width="24.5" height="2" fill="url(#g11)"/><rect x="17.6" y="68" width="32.5" height="2" fill="url(#g11)"/><rect x="24.4" y="70" width="19.5" height="2" fill="url(#g10)"/><rect x="20.9" y="72" width="26.2" height="2" fill="url(#g10)"/><rect x="19.5" y="74" width="28.9" height="2" fill="url(#g10)"/><rect x="21.6" y="76" width="24.7" height="2" fill="url(#g10)"/><rect x="21.3" y="78" width="26.0" height="2" fill="url(#g9)"/><rect x="22.1" y="80" width="23.9" height="2" fill="url(#g9)"/><rect x="18.3" y="82" width="31.0" height="2" fill="url(#g10)"/><rect x="21.7" y="84" width="25.5" height="2" fill="url(#g9)"/><rect x="21.3" y="86" width="25.4" height="2" fill="url(#g9)"/><rect x="24.8" y="88" width="18.4" height="2" fill="url(#g9)"/><rect x="23.4" y="90" width="21.7" height="2" fill="url(#g9)"/><rect x="22.6" y="92" width="22.6" height="2" fill="url(#g9)"/><rect x="22.0" y="94" width="24.3" height="2" fill="url(#g9)"/><rect x="24.1" y="96" width="20.5" height="2" fill="url(#g9)"/><rect x="21.8" y="98" width="24.5" height="2" fill="url(#g9)"/><rect x="23.2" y="100" width="21.8" height="2" fill="url(#g9)"/><rect x="24.1" y="102" width="20.2" height="2" fill="url(#g9)"/><rect x="21.9" y="104" width="24.2" height="2" fill="url(#g8)"/><rect x="24.1" y="106" width="19.4" height="2" fill="url(#g8)"/><rect x="22.5" y="108" width="23.3" height="2" fill="url(#g8)"/><rect x="23.7" y="110" width="20.5" height="2" fill="url(#g9)"/><rect x="22.8" y="112" width="22.1" height="2" fill="url(#g9)"/><rect x="23.1" y="114" width="21.5" height="2" fill="url(#g8)"/><rect x="24.5" y="116" width="18.8" height="2" fill="url(#g8)"/><rect x="24.7" y="118" width="18.9" height="2" fill="url(#g9)"/><rect x="24.1" y="120" width="19.8" height="2" fill="url(#g8)"/><rect x="24.4" y="122" width="19.6" height="2" fill="url(#g8)"/><rect x="23.5" y="124" width="21.2" height="2" fill="url(#g8)"/><rect x="23.8" y="126" width="20.3" height="2" fill="url(#g8)"/><rect x="25.1" y="128" width="17.8" height="2" fill="url(#g8)"/><rect x="23.9" y="130" width="20.2" height="2" fill="url(#g8)"/><rect x="23.4" y="132" width="20.6" height="2" fill="url(#g7)"/><rect x="23.1" y="134" width="22.0" height="2" fill="url(#g9)"/><rect x="22.6" y="136" width="22.3" height="2" fill="url(#g8)"/><rect x="23.5" y="138" width="20.2" height="2" fill="url(#g8)"/><rect x="25.1" y="140" width="18.2" height="2" fill="url(#g8)"/><rect x="25.6" y="142" width="16.7" height="2" fill="url(#g8)"/><rect x="23.2" y="144" width="20.9" height="2" fill="url(#g7)"/><rect x="22.6" y="146" width="22.7" height="2" fill="url(#g7)"/><rect x="23.7" y="148" width="20.0" height="2" fill="url(#g8)"/><rect x="23.1" y="150" width="21.6" height="2" fill="url(#g8)"/><rect x="26.5" y="152" width="16.1" height="2" fill="url(#g8)"/><rect x="25.1" y="154" width="18.1" height="2" fill="url(#g7)"/><rect x="25.8" y="156" width="16.0" height="2" fill="url(#g8)"/><rect x="24.8" y="158" width="18.4" height="2" fill="url(#g8)"/><rect x="25.9" y="160" width="16.2" height="2" fill="url(#g7)"/><rect x="24.7" y="162" width="18.8" height="2" fill="url(#g6)"/><rect x="23.9" y="164" width="20.0" height="2" fill="url(#g7)"/><rect x="24.7" y="166" width="17.8" height="2" fill="url(#g7)"/><rect x="25.1" y="168" width="17.8" height="2" fill="url(#g6)"/><rect x="24.2" y="170" width="20.3" height="2" fill="url(#g7)"/><rect x="25.6" y="172" width="17.1" height="2" fill="url(#g7)"/><rect x="23.2" y="174" width="21.4" height="2" fill="url(#g6)"/><rect x="25.8" y="176" width="17.2" height="2" fill="url(#g7)"/><rect x="24.7" y="178" width="18.5" height="2" fill="url(#g8)"/><rect x="24.2" y="180" width="20.0" height="2" fill="url(#g6)"/><rect x="25.0" y="182" width="18.3" height="2" fill="url(#g7)"/><rect x="25.9" y="184" width="16.3" height="2" fill="url(#g7)"/><rect x="25.7" y="186" width="17.4" height="2" fill="url(#g7)"/><rect x="25.4" y="188" width="16.8" height="2" fill="url(#g8)"/></svg>
<svg x="594.9" y="172.0" width="68.0" height="189.0"><rect width="68.0" height="189.0" fill="url(#bgg)"/><path d="M26 0h29v1h-29zM49 1h32v1h-32zM42 11h19v1h-19zM7 12h43v1h-43zM38 19h77v1h-77zM1 34h72v1h-72zM37 36h71v1h-71zM28 43h57v1h-57zM31 49h32v1h-32zM-0 55h71v1h-71zM-7 59h47v1h-47z" fill="#afe1d6"/><path d="M37 2h37v1h-37zM8 6h20v1h-20zM28 14h23v1h-23zM-6 15h29v1h-29zM28 29h67v1h-67zM30 31h51v1h-51zM-5 41h68v1h-68zM35 44h56v1h-56zM6 62h33v1h-33z" fill="#c8eae4"/><path d="M-3 3h51v1h-51zM44 17h58v1h-58zM16 27h16v1h-16zM13 32h20v1h-20zM21 33h20v1h-20zM16 35h65v1h-65zM13 45h47v1h-47zM48 48h61v1h-61zM-4 50h77v1h-77zM46 52h44v1h-44zM47 57h48v1h-48zM26 67h34v1h-34zM26 82h60v1h-60zM-8 83h44v1h-44zM44 86h69v1h-69zM39 90h42v1h-42zM-5 97h52v1h-52zM15 98h64v1h-64zM33 99h27v1h-27zM-5 112h66v1h-66zM19 117h72v1h-72zM3 127h49v1h-49zM20 130h25v1h-25zM50 132h24v1h-24zM-6 133h29v1h-29zM44 149h77v1h-77zM23 160h18v1h-18zM33 164h29v1h-29zM10 180h65v1h-65z" fill="#b8e4da"/><path d="M25 5h44v1h-44zM27 7h23v1h-23zM-7 13h68v1h-68zM19 16h63v1h-63zM33 26h74v1h-74zM-6 30h20v1h-20zM16 46h53v1h-53zM11 54h72v1h-72zM-1 73h46v1h-46zM4 107h57v1h-57zM-3 123h59v1h-59z" fill="#b4e2d8"/><path d="M1 42h35v1h-35zM-2 68h29v1h-29zM11 69h50v1h-50zM34 91h46v1h-46zM19 95h22v1h-22zM-1 96h53v1h-53zM-7 106h39v1h-39zM46 122h42v1h-42zM30 124h19v1h-19zM25 142h23v1h-23zM16 151h66v1h-66zM3 175h37v1h-37z" fill="#bce6dd"/><path d="M38 63h40v1h-40zM19 65h53v1h-53zM-2 70h73v1h-73zM46 75h28v1h-28zM46 78h74v1h-74zM4 87h62v1h-62zM-5 93h21v1h-21zM49 101h57v1h-57zM40 111h80v1h-80zM19 113h60v1h-60zM17 125h61v1h-61z" fill="#ccece6"/><path d="M4 110h43v1h-43zM11 128h27v1h-27zM23 141h28v1h-28zM26 146h17v1h-17zM-2 155h47v1h-47zM48 159h39v1h-39zM46 166h68v1h-68zM49 176h43v1h-43zM46 178h25v1h-25z" fill="#c0e7df"/><path d="M33 153h50v1h-50zM15 172h52v1h-52zM16 174h76v1h-76z" fill="#ceede8"/><path d="M49 173h68v1h-68z" fill="#c4e9e1"/><rect x="-64.6" y="0" width="197.1" height="1" fill="url(#g19)"/><rect x="-71.5" y="1" width="211.7" height="1" fill="url(#g19)"/><rect x="-43.3" y="2" width="155.3" height="1" fill="url(#g19)"/><rect x="-62.3" y="3" width="193.1" height="1" fill="url(#g17)"/><rect x="-4.8" y="4" width="77.5" height="1" fill="url(#g18)"/><rect x="-33.7" y="5" width="134.9" height="1" fill="url(#g17)"/><rect x="-33.4" y="6" width="134.9" height="1" fill="url(#g17)"/><rect x="-15.4" y="7" width="99.0" height="1" fill="url(#g18)"/><rect x="-13.4" y="8" width="94.2" height="1" fill="url(#g17)"/><rect x="-12.9" y="9" width="94.0" height="1" fill="url(#g16)"/><rect x="4.8" y="10" width="57.6" height="1" fill="url(#g15)"/><rect x="0.5" y="11" width="67.3" height="1" fill="url(#g16)"/><rect x="-2.0" y="12" width="72.9" height="1" fill="url(#g15)"/><rect x="3.0" y="13" width="62.0" height="1" fill="url(#g15)"/><rect x="4.9" y="14" width="58.4" height="1" fill="url(#g16)"/><rect x="4.9" y="15" width="58.1" height="1" fill="url(#g14)"/><rect x="5.5" y="16" width="56.8" height="1" fill="url(#g14)"/><rect x="-1.1" y="17" width="70.2" height="1" fill="url(#g15)"/><rect x="15.1" y="18" width="38.0" height="1" fill="url(#g15)"/><rect x="4.4" y="19" width="58.9" height="1" fill="url(#g14)"/><rect x="10.2" y="20" width="48.2" height="1" fill="url(#g14)"/><rect x="6.2" y="21" width="56.4" height="1" fill="url(#g14)"/><rect x="13.1" y="22" width="42.2" height="1" fill="url(#g14)"/><rect x="11.0" y="23" width="45.8" height="1" fill="url(#g14)"/><rect x="8.8" y="24" width="50.6" height="1" fill="url(#g13)"/><rect x="11.6" y="25" width="44.9" height="1" fill="url(#g14)"/><rect x="12.2" y="26" width="43.1" height="1" fill="url(#g13)"/><rect x="21.9" y="27" width="24.2" height="1" fill="url(#g14)"/><rect x="15.6" y="28" width="36.9" height="1" fill="url(#g14)"/><rect x="15.7" y="29" width="36.6" height="1" fill="url(#g13)"/><rect x="17.1" y="30" width="32.9" height="1" fill="url(#g13)"/><rect x="14.2" y="31" width="39.8" height="1" fill="url(#g12)"/><rect x="11.1" y="32" width="46.3" height="1" fill="url(#g12)"/><rect x="15.5" y="33" width="36.2" height="1" fill="url(#g13)"/><rect x="14.1" y="34" width="39.8" height="1" fill="url(#g12)"/><rect x="18.4" y="35" width="30.7" height="1" fill="url(#g12)"/><rect x="16.3" y="36" width="35.0" height="1" fill="url(#g13)"/><rect x="14.3" y="37" width="39.4" height="1" fill="url(#g13)"/><rect x="18.1" y="38" width="31.8" height="1" fill="url(#g12)"/><rect x="16.0" y="39" width="36.0" height="1" fill="url(#g12)"/><rect x="15.5" y="40" width="36.5" height="2" fill="url(#g12)"/><rect x="15.1" y="42" width="38.5" height="2" fill="url(#g12)"/><rect x="17.2" y="44" width="34.0" height="2" fill="url(#g12)"/><rect x="18.2" y="46" width="31.1" height="2" fill="url(#g12)"/><rect x="20.1" y="48" width="28.0" height="2" fill="url(#g12)"/><rect x="17.5" y="50" width="32.9" height="2" fill="url(#g11)"/><rect x="18.5" y="52" width="31.3" height="2" fill="url(#g11)"/><rect x="17.8" y="54" width="32.3" height="2" fill="url(#g11)"/><rect x="17.8" y="56" width="32.0" height="2" fill="url(#g11)"/><rect x="18.3" y="58" width="31.7" height="2" fill="url(#g12)"/><rect x="20.1" y="60" width="28.2" height="2" fill="url(#g10)"/><rect x="19.4" y="62" width="29.6" height="2" fill="url(#g10)"/><rect x="20.8" y="64" width="26.1" height="2" fill="url(#g10)"/><rect x="19.4" y="66" width="28.6" height="2" fill="url(#g10)"/><rect x="19.6" y="68" width="28.5" height="2" fill="url(#g9)"/><rect x="24.1" y="70" width="19.6" height="2" fill="url(#g10)"/><rect x="22.3" y="72" width="23.3" height="2" fill="url(#g10)"/><rect x="21.4" y="74" width="25.4" height="2" fill="url(#g10)"/><rect x="20.4" y="76" width="26.8" height="2" fill="url(#g9)"/><rect x="23.2" y="78" width="22.2" height="2" fill="url(#g9)"/><rect x="20.2" y="80" width="27.6" height="2" fill="url(#g10)"/><rect x="21.8" y="82" width="23.9" height="2" fill="url(#g9)"/><rect x="23.8" y="84" width="20.7" height="2" fill="url(#g9)"/><rect x="23.8" y="86" width="19.5" height="2" fill="url(#g9)"/><rect x="22.1" y="88" width="23.9" height="2" fill="url(#g10)"/><rect x="21.1" y="90" width="25.0" height="2" fill="url(#g10)"/><rect x="22.7" y="92" width="22.3" height="2" fill="url(#g9)"/><rect x="22.3" y="94" width="23.0" height="2" fill="url(#g9)"/><rect x="22.6" y="96" width="22.6" height="2" fill="url(#g9)"/><rect x="24.3" y="98" width="19.9" height="2" fill="url(#g8)"/><rect x="20.8" y="100" width="26.1" height="2" fill="url(#g9)"/><rect x="25.8" y="102" width="16.7" height="2" fill="url(#g8)"/><rect x="22.5" y="104" width="23.0" height="2" fill="url(#g8)"/><rect x="22.0" y="106" width="24.3" height="2" fill="url(#g9)"/><rect x="25.0" y="108" width="18.4" height="2" fill="url(#g8)"/><rect x="22.0" y="110" width="23.6" height="2" fill="url(#g8)"/><rect x="23.0" y="112" width="22.3" height="2" fill="url(#g7)"/><rect x="23.3" y="114" width="21.5" height="2" fill="url(#g8)"/><rect x="22.5" y="116" width="22.7" height="2" fill="url(#g8)"/><rect x="23.5" y="118" width="20.9" height="2" fill="url(#g8)"/><rect x="22.1" y="120" width="23.1" height="2" fill="url(#g8)"/><rect x="26.5" y="122" width="15.7" height="2" fill="url(#g7)"/><rect x="23.2" y="124" width="21.1" height="2" fill="url(#g8)"/><rect x="24.4" y="126" width="19.1" height="2" fill="url(#g7)"/><rect x="23.4" y="128" width="21.2" height="2" fill="url(#g8)"/><rect x="25.3" y="130" width="17.6" height="2" fill="url(#g8)"/><rect x="22.7" y="132" width="22.2" height="2" fill="url(#g7)"/><rect x="23.2" y="134" width="22.2" height="2" fill="url(#g9)"/><rect x="24.4" y="136" width="19.2" height="2" fill="url(#g8)"/><rect x="24.7" y="138" width="19.1" height="2" fill="url(#g8)"/><rect x="25.3" y="140" width="17.5" height="2" fill="url(#g8)"/><rect x="23.1" y="142" width="21.9" height="2" fill="url(#g6)"/><rect x="23.1" y="144" width="21.0" height="2" fill="url(#g7)"/><rect x="25.7" y="146" width="17.0" height="2" fill="url(#g8)"/><rect x="22.1" y="148" width="23.2" height="2" fill="url(#g7)"/><rect x="25.3" y="150" width="17.7" height="2" fill="url(#g8)"/><rect x="23.6" y="152" width="20.5" height="2" fill="url(#g7)"/><rect x="24.2" y="154" width="19.7" height="2" fill="url(#g8)"/><rect x="23.8" y="156" width="21.0" height="2" fill="url(#g7)"/><rect x="24.0" y="158" width="20.0" height="2" fill="url(#g7)"/><rect x="23.1" y="160" width="22.0" height="2" fill="url(#g6)"/><rect x="25.2" y="162" width="17.6" height="2" fill="url(#g7)"/><rect x="25.2" y="164" width="17.5" height="2" fill="url(#g7)"/><rect x="26.0" y="166" width="16.3" height="2" fill="url(#g7)"/><rect x="23.6" y="168" width="20.3" height="2" fill="url(#g7)"/><rect x="24.2" y="170" width="19.4" height="2" fill="url(#g7)"/><rect x="25.6" y="172" width="16.5" height="2" fill="url(#g7)"/><rect x="24.7" y="174" width="18.3" height="2" fill="url(#g7)"/><rect x="25.0" y="176" width="17.8" height="2" fill="url(#g7)"/><rect x="25.6" y="178" width="16.4" height="2" fill="url(#g7)"/><rect x="22.8" y="180" width="21.5" height="2" fill="url(#g7)"/><rect x="26.4" y="182" width="15.4" height="2" fill="url(#g7)"/><rect x="24.0" y="184" width="19.8" height="2" fill="url(#g7)"/><rect x="25.1" y="186" width="17.7" height="2" fill="url(#g6)"/><rect x="25.6" y="188" width="16.6" height="2" fill="url(#g7)"/></svg>
<path d="M27.5 361.0V172.0H95.5V361.0" fill="none" stroke="#505050" stroke-width="1"/>
<path d="M27.0 361H96.0M27.5 361v3M61.5 361v3M95.5 361v3" stroke="#404040" stroke-width="1.1"/>
<text x="27.5" y="372.8" font-size="9.00" fill="#111" stroke="#111" stroke-width="0.2">-10kb</text>
<text x="61.5" y="372.8" font-size="9.00" text-anchor="middle" fill="#111" stroke="#111" stroke-width="0.2">C</text>
<text x="96.0" y="372.8" font-size="9.00" text-anchor="end" fill="#111" stroke="#111" stroke-width="0.2">10kb</text>
<path d="M101.5 361.0V172.0H169.5V361.0" fill="none" stroke="#505050" stroke-width="1"/>
<path d="M101.0 361H170.0M101.5 361v3M135.5 361v3M169.5 361v3" stroke="#404040" stroke-width="1.1"/>
<text x="101.5" y="372.8" font-size="9.00" fill="#111" stroke="#111" stroke-width="0.2">-10kb</text>
<text x="135.5" y="372.8" font-size="9.00" text-anchor="middle" fill="#111" stroke="#111" stroke-width="0.2">C</text>
<text x="170.0" y="372.8" font-size="9.00" text-anchor="end" fill="#111" stroke="#111" stroke-width="0.2">10kb</text>
<path d="M176.5 361.0V172.0H244.5V361.0" fill="none" stroke="#505050" stroke-width="1"/>
<path d="M176.0 361H245.0M176.5 361v3M210.5 361v3M244.5 361v3" stroke="#404040" stroke-width="1.1"/>
<text x="176.5" y="372.8" font-size="9.00" fill="#111" stroke="#111" stroke-width="0.2">-10kb</text>
<text x="210.5" y="372.8" font-size="9.00" text-anchor="middle" fill="#111" stroke="#111" stroke-width="0.2">C</text>
<text x="245.0" y="372.8" font-size="9.00" text-anchor="end" fill="#111" stroke="#111" stroke-width="0.2">10kb</text>
<path d="M250.5 361.0V172.0H318.5V361.0" fill="none" stroke="#505050" stroke-width="1"/>
<path d="M250.0 361H319.0M250.5 361v3M284.5 361v3M318.5 361v3" stroke="#404040" stroke-width="1.1"/>
<text x="250.5" y="372.8" font-size="9.00" fill="#111" stroke="#111" stroke-width="0.2">-10kb</text>
<text x="284.5" y="372.8" font-size="9.00" text-anchor="middle" fill="#111" stroke="#111" stroke-width="0.2">C</text>
<text x="319.0" y="372.8" font-size="9.00" text-anchor="end" fill="#111" stroke="#111" stroke-width="0.2">10kb</text>
<path d="M372.2 361.0V172.0H440.2V361.0" fill="none" stroke="#505050" stroke-width="1"/>
<path d="M371.7 361H440.7M372.2 361v3M406.2 361v3M440.2 361v3" stroke="#404040" stroke-width="1.1"/>
<text x="372.2" y="372.8" font-size="9.00" fill="#111" stroke="#111" stroke-width="0.2">-10kb</text>
<text x="406.2" y="372.8" font-size="9.00" text-anchor="middle" fill="#111" stroke="#111" stroke-width="0.2">C</text>
<text x="440.7" y="372.8" font-size="9.00" text-anchor="end" fill="#111" stroke="#111" stroke-width="0.2">10kb</text>
<path d="M446.6 361.0V172.0H514.6V361.0" fill="none" stroke="#505050" stroke-width="1"/>
<path d="M446.1 361H515.1M446.6 361v3M480.6 361v3M514.6 361v3" stroke="#404040" stroke-width="1.1"/>
<text x="446.6" y="372.8" font-size="9.00" fill="#111" stroke="#111" stroke-width="0.2">-10kb</text>
<text x="480.6" y="372.8" font-size="9.00" text-anchor="middle" fill="#111" stroke="#111" stroke-width="0.2">C</text>
<text x="515.1" y="372.8" font-size="9.00" text-anchor="end" fill="#111" stroke="#111" stroke-width="0.2">10kb</text>
<path d="M520.6 361.0V172.0H588.6V361.0" fill="none" stroke="#505050" stroke-width="1"/>
<path d="M520.1 361H589.1M520.6 361v3M554.6 361v3M588.6 361v3" stroke="#404040" stroke-width="1.1"/>
<text x="520.6" y="372.8" font-size="9.00" fill="#111" stroke="#111" stroke-width="0.2">-10kb</text>
<text x="554.6" y="372.8" font-size="9.00" text-anchor="middle" fill="#111" stroke="#111" stroke-width="0.2">C</text>
<text x="589.1" y="372.8" font-size="9.00" text-anchor="end" fill="#111" stroke="#111" stroke-width="0.2">10kb</text>
<path d="M594.9 361.0V172.0H662.9V361.0" fill="none" stroke="#505050" stroke-width="1"/>
<path d="M594.4 361H663.4M594.9 361v3M628.9 361v3M662.9 361v3" stroke="#404040" stroke-width="1.1"/>
<text x="594.9" y="372.8" font-size="9.00" fill="#111" stroke="#111" stroke-width="0.2">-10kb</text>
<text x="628.9" y="372.8" font-size="9.00" text-anchor="middle" fill="#111" stroke="#111" stroke-width="0.2">C</text>
<text x="663.4" y="372.8" font-size="9.00" text-anchor="end" fill="#111" stroke="#111" stroke-width="0.2">10kb</text>
<text x="14.0" y="170.0" font-size="12.00" fill="#111" stroke="#111" stroke-width="0.2"></text>
<text x="63.3" y="169.2" font-size="12.00" text-anchor="middle" fill="#111" stroke="#111" stroke-width="0.2">WT-1</text>
<text x="136.0" y="169.2" font-size="12.00" text-anchor="middle" fill="#111" stroke="#111" stroke-width="0.2">WT-2</text>
<text x="210.5" y="169.2" font-size="12.00" text-anchor="middle" fill="#111" stroke="#111" stroke-width="0.2">D5-1</text>
<text x="284.5" y="169.2" font-size="12.00" text-anchor="middle" fill="#111" stroke="#111" stroke-width="0.2">D5-2</text>
<text x="408.0" y="169.2" font-size="12.00" text-anchor="middle" fill="#111" stroke="#111" stroke-width="0.2">WT-1</text>
<text x="481.1" y="169.2" font-size="12.00" text-anchor="middle" fill="#111" stroke="#111" stroke-width="0.2">WT-2</text>
<text x="554.6" y="169.2" font-size="12.00" text-anchor="middle" fill="#111" stroke="#111" stroke-width="0.2">D5-1</text>
<text x="628.9" y="169.2" font-size="12.00" text-anchor="middle" fill="#111" stroke="#111" stroke-width="0.2">D5-2</text>
<text transform="translate(21.9 272.5) rotate(-90)" text-anchor="middle" font-size="12.3" fill="#1a1a1a">MTF2, n = 2317</text>
<text transform="translate(366.6 273.5) rotate(-90)" text-anchor="middle" font-size="12.3" fill="#1a1a1a">H3K27me3, n = 5400</text>
<rect x="321.5" y="253.0" width="9.2" height="108.5" fill="url(#cbp)" stroke="#333" stroke-width="0.9"/>
<path d="M330.7 274.8h2" stroke="#333" stroke-width="0.8"/>
<text x="334.7" y="278.1" font-size="9.50" fill="#111" stroke="#111" stroke-width="0.2">8</text>
<path d="M330.7 296.5h2" stroke="#333" stroke-width="0.8"/>
<text x="334.7" y="299.8" font-size="9.50" fill="#111" stroke="#111" stroke-width="0.2">6</text>
<path d="M330.7 319.0h2" stroke="#333" stroke-width="0.8"/>
<text x="334.7" y="322.3" font-size="9.50" fill="#111" stroke="#111" stroke-width="0.2">4</text>
<path d="M330.7 341.3h2" stroke="#333" stroke-width="0.8"/>
<text x="334.7" y="344.6" font-size="9.50" fill="#111" stroke="#111" stroke-width="0.2">2</text>
<rect x="666.5" y="253.3" width="9.0" height="109.2" fill="url(#cbg)" stroke="#333" stroke-width="0.9"/>
<path d="M675.5 274.4h2" stroke="#333" stroke-width="0.8"/>
<text x="679.5" y="277.7" font-size="9.50" fill="#111" stroke="#111" stroke-width="0.2">4</text>
<path d="M675.5 295.8h2" stroke="#333" stroke-width="0.8"/>
<text x="679.5" y="299.1" font-size="9.50" fill="#111" stroke="#111" stroke-width="0.2">3</text>
<path d="M675.5 317.9h2" stroke="#333" stroke-width="0.8"/>
<text x="679.5" y="321.2" font-size="9.50" fill="#111" stroke="#111" stroke-width="0.2">2</text>
<path d="M675.5 340.4h2" stroke="#333" stroke-width="0.8"/>
<text x="679.5" y="343.7" font-size="9.50" fill="#111" stroke="#111" stroke-width="0.2">1</text>
<g clip-path="url(#cpE1)">
<path d="M26.10 538.06L26.60 538.55L27.10 538.79L27.60 538.33L28.10 538.08L28.60 538.50L29.10 538.61L29.60 538.67L30.10 537.98L30.60 537.93L31.10 538.64L31.60 538.58L32.10 538.61L32.60 538.36L33.10 538.12L33.60 537.98L34.10 538.74L34.60 537.84L35.10 537.74L35.60 537.72L36.10 538.09L36.60 537.99L37.10 538.05L37.60 538.14L38.10 538.24L38.60 538.49L39.10 538.63L39.60 538.61L40.10 538.14L40.60 538.62L41.10 538.06L41.60 538.44L42.10 538.05L42.60 538.25L43.10 537.91L43.60 538.05L44.10 538.95L44.60 538.03L45.10 538.25L45.60 537.63L46.10 537.69L46.60 537.89L47.10 537.45L47.60 537.50L48.10 537.52L48.60 537.12L49.10 537.48L49.60 536.98L50.10 537.94L50.60 537.23L51.10 537.59L51.60 537.40L52.10 537.46L52.60 537.05L53.10 537.42L53.60 537.32L54.10 537.75L54.60 537.61L55.10 537.40L55.60 537.23L56.10 537.80L56.60 537.74L57.10 538.05L57.60 537.39L58.10 537.75L58.60 537.66L59.10 537.57L59.60 537.48L60.10 537.38L60.60 537.24L61.10 536.86L61.60 537.03L62.10 537.52L62.60 537.96L63.10 537.59L63.60 537.51L64.10 537.40L64.60 537.47L65.10 537.43L65.60 537.51L66.10 537.79L66.60 537.25L67.10 537.22L67.60 538.11L68.10 537.68L68.60 537.82L69.10 537.74L69.60 536.87L70.10 537.78L70.60 537.69L71.10 537.27L71.60 537.41L72.10 537.08L72.60 536.73L73.10 536.98L73.60 537.17L74.10 537.29L74.60 537.18L75.10 536.82L75.60 537.06L76.10 536.59L76.60 537.07L77.10 537.14L77.60 536.53L78.10 535.88L78.60 536.00L79.10 536.40L79.60 536.62L80.10 536.67L80.60 535.86L81.10 536.12L81.60 536.52L82.10 536.37L82.60 535.82L83.10 536.76L83.60 537.06L84.10 536.61L84.60 536.10L85.10 536.31L85.60 536.67L86.10 537.30L86.60 536.70L87.10 536.66L87.60 537.29L88.10 536.92L88.60 537.39L89.10 536.40L89.60 536.34L90.10 536.67L90.60 536.76L91.10 536.71L91.60 536.60L92.10 536.04L92.60 536.37L93.10 536.27L93.60 536.47L94.10 536.64L94.60 536.32L95.10 536.51L95.60 536.28L96.10 536.09L96.60 536.28L97.10 536.43L97.60 536.64L98.10 536.25L98.60 536.20L99.10 535.96L99.60 536.68L100.10 536.69L100.60 536.25L101.10 536.02L101.60 535.90L102.10 536.29L102.60 536.35L103.10 536.75L103.60 536.29L104.10 535.92L104.60 535.40L105.10 536.41L105.60 536.15L106.10 535.57L106.60 536.04L107.10 535.56L107.60 536.79L108.10 536.11L108.60 535.97L109.10 535.65L109.60 534.96L110.10 535.41L110.60 534.91L111.10 535.35L111.60 534.64L112.10 534.87L112.60 535.26L113.10 535.09L113.60 534.37L114.10 534.16L114.60 534.83L115.10 534.94L115.60 534.34L116.10 534.18L116.60 534.14L117.10 534.04L117.60 533.98L118.10 534.55L118.60 534.28L119.10 534.58L119.60 533.99L120.10 533.86L120.60 533.59L121.10 533.63L121.60 533.11L122.10 532.67L122.60 533.21L123.10 533.30L123.60 533.11L124.10 533.00L124.60 532.52L125.10 532.14L125.60 532.33L126.10 531.97L126.60 531.68L127.10 531.21L127.60 531.00L128.10 531.32L128.60 531.21L129.10 530.78L129.60 531.20L130.10 530.59L130.60 530.51L131.10 530.16L131.60 529.42L132.10 528.79L132.60 529.42L133.10 528.74L133.60 529.09L134.10 528.60L134.60 528.56L135.10 528.29L135.60 527.24L136.10 527.68L136.60 526.97L137.10 526.51L137.60 526.20L138.10 526.10L138.60 525.71L139.10 525.14L139.60 523.80L140.10 523.45L140.60 522.21L141.10 522.23L141.60 521.45L142.10 520.29L142.60 519.61L143.10 518.52L143.60 517.67L144.10 516.11L144.60 515.05L145.10 513.86L145.60 513.16L146.10 511.81L146.60 510.10L147.10 508.49L147.60 506.77L148.10 505.18L148.60 503.24L149.10 501.24L149.60 498.67L150.10 496.78L150.60 495.28L151.10 492.80L151.60 490.62L152.10 488.36L152.60 486.17L153.10 484.09L153.60 481.57L154.10 479.78L154.60 478.00L155.10 476.29L155.60 474.57L156.10 473.10L156.60 472.14L157.10 472.08L157.60 470.59L158.10 471.08L158.60 470.98L159.10 471.00L159.60 471.76L160.10 472.93L160.60 473.79L161.10 475.22L161.60 476.72L162.10 478.54L162.60 480.30L163.10 481.76L163.60 483.66L164.10 485.77L164.60 488.06L165.10 490.38L165.60 493.29L166.10 495.25L166.60 497.38L167.10 499.75L167.60 501.15L168.10 503.50L168.60 505.28L169.10 506.26L169.60 507.89L170.10 509.80L170.60 512.09L171.10 513.58L171.60 514.13L172.10 515.86L172.60 516.53L173.10 517.38L173.60 518.37L174.10 519.28L174.60 519.89L175.10 520.84L175.60 521.42L176.10 522.61L176.60 523.84L177.10 524.87L177.60 524.55L178.10 524.67L178.60 525.64L179.10 525.96L179.60 527.16L180.10 527.20L180.60 527.24L181.10 528.15L181.60 528.48L182.10 528.24L182.60 528.72L183.10 529.25L183.60 529.70L184.10 529.82L184.60 529.90L185.10 530.33L185.60 530.28L186.10 530.30L186.60 531.08L187.10 531.06L187.60 531.50L188.10 531.21L188.60 531.72L189.10 532.05L189.60 531.52L190.10 532.51L190.60 532.12L191.10 532.50L191.60 532.56L192.10 532.78L192.60 533.09L193.10 532.85L193.60 533.57L194.10 533.17L194.60 533.26L195.10 533.51L195.60 533.20L196.10 533.45L196.60 533.95L197.10 534.11L197.60 533.44L198.10 534.21L198.60 534.64L199.10 534.59L199.60 534.15L200.10 534.11L200.60 534.24L201.10 534.16L201.60 534.49L202.10 534.51L202.60 534.72L203.10 535.10L203.60 534.83L204.10 534.60L204.60 535.42L205.10 534.89L205.60 535.24L206.10 535.32L206.60 535.18L207.10 535.10L207.60 535.50L208.10 536.05L208.60 535.20L209.10 535.37L209.60 535.85L210.10 535.75L210.60 535.66L211.10 535.78L211.60 535.14L212.10 535.49L212.60 535.73L213.10 535.70L213.60 536.07L214.10 536.00L214.60 535.78L215.10 535.98L215.60 536.15L216.10 536.41L216.60 536.37L217.10 536.12L217.60 536.06L218.10 536.09L218.60 536.66L219.10 536.72L219.60 536.77L220.10 536.76L220.60 536.81L221.10 536.61L221.60 536.89L222.10 536.60L222.60 536.86L223.10 536.67L223.60 537.03L224.10 536.68L224.60 536.90L225.10 537.20L225.60 537.55L226.10 536.86L226.60 536.78L227.10 537.24L227.60 536.68L228.10 537.13L228.60 536.71L229.10 536.94L229.60 536.32L230.10 537.03L230.60 536.87L231.10 536.96L231.60 538.08L232.10 537.78L232.60 538.30L233.10 537.46L233.60 537.25L234.10 537.32L234.60 537.94L235.10 537.47L235.60 537.73L236.10 537.75L236.60 537.31L237.10 537.78L237.60 537.51L238.10 537.33L238.60 537.80L239.10 537.75L239.60 537.49L240.10 537.29L240.60 536.99L241.10 537.75L241.60 537.68L242.10 537.05L242.60 537.84L243.10 537.39L243.60 537.88L244.10 537.78L244.60 537.69L245.10 537.59L245.60 537.35L246.10 537.06L246.60 537.19L247.10 537.13L247.60 537.29L248.10 537.56L248.60 537.73L249.10 538.04L249.60 536.82L250.10 537.46L250.60 537.25L251.10 537.99L251.60 537.62L252.10 536.94L252.60 537.63L253.10 537.45L253.60 537.79L254.10 537.18L254.60 537.58L255.10 537.53L255.60 537.39L256.10 537.23L256.60 536.74L257.10 537.35L257.60 537.55L258.10 537.19L258.60 536.68L259.10 537.13L259.60 537.35L260.10 537.04L260.60 537.04L261.10 537.52L261.60 536.70L262.10 536.69L262.60 536.26L263.10 536.67L263.60 536.50L264.10 536.61L264.60 536.77L265.10 537.49L265.60 537.05L266.10 537.17L266.60 537.80L267.10 536.99L267.60 536.66L268.10 537.27L268.60 536.84L269.10 537.71L269.60 537.05L270.10 537.40L270.60 537.06L271.10 537.70L271.60 537.44L272.10 537.77L272.60 537.61L273.10 537.57L273.60 538.16L274.10 538.25L274.60 538.13L275.10 537.90L275.60 538.10L276.10 538.40L276.60 538.94L277.10 537.95L277.60 537.68L278.10 537.86L278.60 537.78L279.10 537.84L279.60 537.86L280.10 538.32L280.60 538.05L281.10 538.02L281.60 537.72L282.10 538.30L282.60 538.22L283.10 537.71L283.60 537.87L284.10 538.32L284.60 538.74L285.10 538.79L285.60 538.73L286.10 538.48L286.60 538.47L287.10 538.59L287.60 539.28L288.10 538.24L288.60 538.38L289.10 538.77L289.60 538.28L290.10 538.75L290.60 538.35" fill="none" stroke="#f9d23c" stroke-width="1.10" stroke-linejoin="round"/>
<path d="M26.10 538.92L26.60 539.40L27.10 539.24L27.60 539.10L28.10 539.66L28.60 539.33L29.10 539.12L29.60 539.70L30.10 539.18L30.60 539.02L31.10 539.21L31.60 539.52L32.10 539.86L32.60 539.99L33.10 539.90L33.60 540.28L34.10 540.21L34.60 539.75L35.10 540.08L35.60 539.70L36.10 539.44L36.60 540.08L37.10 539.81L37.60 539.63L38.10 540.14L38.60 539.80L39.10 539.45L39.60 539.51L40.10 540.15L40.60 539.35L41.10 539.50L41.60 539.54L42.10 539.62L42.60 539.52L43.10 539.14L43.60 539.13L44.10 538.92L44.60 539.04L45.10 539.40L45.60 539.62L46.10 538.81L46.60 539.19L47.10 538.79L47.60 538.80L48.10 539.10L48.60 539.19L49.10 539.01L49.60 538.48L50.10 539.74L50.60 539.22L51.10 539.29L51.60 539.74L52.10 539.12L52.60 538.81L53.10 539.42L53.60 539.55L54.10 539.33L54.60 539.81L55.10 539.65L55.60 539.17L56.10 539.91L56.60 539.35L57.10 538.88L57.60 539.16L58.10 539.26L58.60 539.31L59.10 538.73L59.60 539.47L60.10 539.41L60.60 539.32L61.10 539.19L61.60 539.34L62.10 539.16L62.60 538.94L63.10 538.60L63.60 539.13L64.10 539.11L64.60 539.01L65.10 538.99L65.60 539.08L66.10 538.09L66.60 538.81L67.10 538.11L67.60 538.96L68.10 539.30L68.60 539.55L69.10 538.74L69.60 538.91L70.10 538.91L70.60 538.51L71.10 539.32L71.60 539.07L72.10 538.91L72.60 538.77L73.10 539.01L73.60 539.09L74.10 539.47L74.60 538.93L75.10 539.88L75.60 538.61L76.10 538.67L76.60 538.69L77.10 538.42L77.60 539.00L78.10 538.54L78.60 538.02L79.10 538.48L79.60 538.67L80.10 537.85L80.60 538.29L81.10 538.04L81.60 538.76L82.10 538.37L82.60 538.01L83.10 538.08L83.60 538.74L84.10 538.04L84.60 538.70L85.10 537.77L85.60 538.21L86.10 538.22L86.60 538.00L87.10 538.45L87.60 538.61L88.10 538.28L88.60 538.21L89.10 539.02L89.60 539.06L90.10 538.56L90.60 538.68L91.10 537.66L91.60 538.46L92.10 537.95L92.60 537.81L93.10 538.65L93.60 537.88L94.10 538.09L94.60 537.64L95.10 537.44L95.60 537.43L96.10 537.57L96.60 537.01L97.10 537.27L97.60 537.51L98.10 537.25L98.60 537.06L99.10 538.05L99.60 537.57L100.10 538.25L100.60 537.34L101.10 537.70L101.60 537.02L102.10 536.79L102.60 537.05L103.10 536.98L103.60 537.27L104.10 536.98L104.60 537.18L105.10 537.32L105.60 536.61L106.10 536.40L106.60 536.62L107.10 536.75L107.60 536.50L108.10 536.26L108.60 536.17L109.10 536.30L109.60 536.62L110.10 536.08L110.60 536.65L111.10 536.35L111.60 536.33L112.10 535.93L112.60 536.48L113.10 536.18L113.60 535.72L114.10 536.40L114.60 536.14L115.10 536.52L115.60 536.05L116.10 535.78L116.60 535.93L117.10 535.68L117.60 535.63L118.10 535.89L118.60 536.00L119.10 535.74L119.60 535.78L120.10 535.68L120.60 535.84L121.10 535.36L121.60 535.43L122.10 535.04L122.60 535.45L123.10 534.41L123.60 534.83L124.10 534.91L124.60 534.83L125.10 533.91L125.60 533.86L126.10 533.97L126.60 534.17L127.10 533.95L127.60 533.03L128.10 533.37L128.60 533.75L129.10 533.22L129.60 532.87L130.10 532.69L130.60 532.24L131.10 532.64L131.60 532.07L132.10 531.90L132.60 531.54L133.10 531.51L133.60 531.18L134.10 530.92L134.60 530.91L135.10 530.48L135.60 530.36L136.10 529.93L136.60 529.86L137.10 529.03L137.60 528.76L138.10 528.21L138.60 527.54L139.10 527.69L139.60 526.61L140.10 525.88L140.60 526.13L141.10 525.31L141.60 524.39L142.10 524.12L142.60 523.42L143.10 522.61L143.60 521.42L144.10 520.82L144.60 519.70L145.10 518.78L145.60 517.87L146.10 516.56L146.60 515.74L147.10 514.07L147.60 513.06L148.10 511.50L148.60 509.77L149.10 508.28L149.60 506.99L150.10 505.42L150.60 503.30L151.10 502.11L151.60 500.20L152.10 498.74L152.60 496.27L153.10 494.71L153.60 493.84L154.10 491.84L154.60 490.71L155.10 489.77L155.60 487.90L156.10 487.58L156.60 487.30L157.10 486.15L157.60 485.59L158.10 485.69L158.60 485.37L159.10 485.87L159.60 486.45L160.10 486.94L160.60 487.93L161.10 489.07L161.60 490.27L162.10 491.61L162.60 492.65L163.10 494.70L163.60 496.34L164.10 497.44L164.60 499.59L165.10 501.08L165.60 503.04L166.10 504.92L166.60 506.09L167.10 507.66L167.60 508.98L168.10 510.70L168.60 511.81L169.10 513.26L169.60 515.02L170.10 515.83L170.60 516.85L171.10 518.19L171.60 518.83L172.10 519.99L172.60 520.15L173.10 521.73L173.60 522.12L174.10 522.92L174.60 524.26L175.10 524.60L175.60 525.31L176.10 526.42L176.60 526.71L177.10 527.45L177.60 527.72L178.10 528.31L178.60 528.75L179.10 529.27L179.60 529.69L180.10 530.46L180.60 530.85L181.10 530.36L181.60 530.52L182.10 531.53L182.60 531.06L183.10 531.40L183.60 531.52L184.10 531.94L184.60 532.78L185.10 532.28L185.60 532.58L186.10 532.80L186.60 532.68L187.10 532.59L187.60 532.87L188.10 532.90L188.60 533.07L189.10 532.60L189.60 532.83L190.10 533.95L190.60 533.61L191.10 533.92L191.60 533.69L192.10 533.73L192.60 534.70L193.10 533.87L193.60 534.05L194.10 534.55L194.60 534.63L195.10 534.31L195.60 534.97L196.10 535.27L196.60 534.80L197.10 535.21L197.60 535.78L198.10 536.17L198.60 535.03L199.10 535.51L199.60 535.75L200.10 535.49L200.60 535.80L201.10 535.97L201.60 536.23L202.10 535.84L202.60 536.37L203.10 536.51L203.60 536.78L204.10 536.98L204.60 536.55L205.10 536.63L205.60 536.90L206.10 537.09L206.60 537.04L207.10 536.65L207.60 536.72L208.10 536.33L208.60 536.56L209.10 536.53L209.60 536.76L210.10 536.75L210.60 537.15L211.10 537.12L211.60 536.81L212.10 536.54L212.60 537.01L213.10 537.04L213.60 537.31L214.10 537.22L214.60 537.39L215.10 537.15L215.60 537.45L216.10 537.71L216.60 537.51L217.10 537.28L217.60 537.96L218.10 537.17L218.60 537.59L219.10 537.46L219.60 537.49L220.10 537.58L220.60 537.71L221.10 537.81L221.60 538.25L222.10 538.01L222.60 537.52L223.10 537.94L223.60 538.00L224.10 537.76L224.60 538.49L225.10 537.86L225.60 538.13L226.10 537.63L226.60 537.58L227.10 537.50L227.60 537.33L228.10 537.77L228.60 537.36L229.10 537.85L229.60 537.68L230.10 537.36L230.60 537.56L231.10 537.48L231.60 537.10L232.10 537.52L232.60 538.04L233.10 537.81L233.60 537.63L234.10 537.66L234.60 537.63L235.10 538.05L235.60 537.93L236.10 538.34L236.60 538.34L237.10 538.77L237.60 538.29L238.10 538.23L238.60 539.22L239.10 538.75L239.60 538.61L240.10 538.76L240.60 538.26L241.10 538.36L241.60 538.63L242.10 538.25L242.60 538.32L243.10 538.45L243.60 538.29L244.10 538.26L244.60 538.46L245.10 538.52L245.60 538.38L246.10 537.66L246.60 538.23L247.10 537.37L247.60 537.53L248.10 538.20L248.60 538.29L249.10 538.58L249.60 537.77L250.10 538.60L250.60 538.10L251.10 538.03L251.60 538.18L252.10 538.46L252.60 537.98L253.10 537.71L253.60 538.07L254.10 538.11L254.60 538.56L255.10 538.40L255.60 538.04L256.10 537.89L256.60 537.94L257.10 538.44L257.60 537.88L258.10 538.31L258.60 538.32L259.10 538.89L259.60 538.71L260.10 538.59L260.60 539.02L261.10 539.39L261.60 539.30L262.10 538.76L262.60 539.10L263.10 539.71L263.60 538.95L264.10 539.12L264.60 539.25L265.10 539.46L265.60 539.03L266.10 539.40L266.60 539.46L267.10 539.44L267.60 538.91L268.10 538.67L268.60 538.87L269.10 539.53L269.60 539.67L270.10 539.55L270.60 538.71L271.10 538.73L271.60 539.22L272.10 539.12L272.60 538.76L273.10 539.04L273.60 538.85L274.10 538.96L274.60 539.23L275.10 539.06L275.60 538.92L276.10 538.86L276.60 538.66L277.10 538.69L277.60 538.59L278.10 539.18L278.60 538.75L279.10 539.12L279.60 539.35L280.10 539.58L280.60 538.51L281.10 539.38L281.60 539.73L282.10 539.19L282.60 539.07L283.10 539.12L283.60 539.26L284.10 539.33L284.60 538.78L285.10 539.40L285.60 539.14L286.10 539.21L286.60 538.79L287.10 539.15L287.60 539.08L288.10 538.91L288.60 538.75L289.10 539.12L289.60 539.13L290.10 538.87L290.60 539.14" fill="none" stroke="#f2a23a" stroke-width="1.10" stroke-linejoin="round"/>
<path d="M26.10 537.03L26.60 537.39L27.10 536.77L27.60 536.45L28.10 536.85L28.60 537.02L29.10 536.88L29.60 536.78L30.10 536.54L30.60 536.32L31.10 536.36L31.60 536.54L32.10 536.38L32.60 536.65L33.10 536.68L33.60 536.04L34.10 536.54L34.60 536.20L35.10 536.39L35.60 536.46L36.10 536.07L36.60 535.25L37.10 535.79L37.60 535.19L38.10 536.09L38.60 535.38L39.10 535.40L39.60 535.94L40.10 534.67L40.60 534.94L41.10 534.40L41.60 534.41L42.10 534.34L42.60 534.63L43.10 534.50L43.60 534.55L44.10 534.50L44.60 533.99L45.10 534.69L45.60 534.11L46.10 533.57L46.60 533.83L47.10 534.21L47.60 534.17L48.10 533.62L48.60 533.95L49.10 534.14L49.60 534.15L50.10 533.88L50.60 534.04L51.10 533.54L51.60 533.67L52.10 533.95L52.60 533.92L53.10 533.80L53.60 533.83L54.10 533.71L54.60 533.80L55.10 533.98L55.60 533.76L56.10 533.79L56.60 533.32L57.10 533.35L57.60 532.75L58.10 533.44L58.60 533.19L59.10 533.29L59.60 532.57L60.10 533.05L60.60 532.81L61.10 532.39L61.60 533.08L62.10 533.06L62.60 532.31L63.10 532.77L63.60 533.14L64.10 532.15L64.60 532.72L65.10 532.95L65.60 533.00L66.10 531.88L66.60 531.92L67.10 532.34L67.60 532.45L68.10 531.65L68.60 532.05L69.10 532.03L69.60 532.74L70.10 532.19L70.60 532.37L71.10 532.44L71.60 532.60L72.10 532.12L72.60 531.92L73.10 532.07L73.60 531.93L74.10 531.31L74.60 531.50L75.10 531.84L75.60 531.68L76.10 531.33L76.60 531.31L77.10 532.11L77.60 531.13L78.10 531.26L78.60 531.03L79.10 530.79L79.60 531.36L80.10 531.24L80.60 530.97L81.10 530.28L81.60 531.14L82.10 530.86L82.60 530.66L83.10 529.77L83.60 530.39L84.10 530.04L84.60 530.32L85.10 530.19L85.60 530.06L86.10 530.59L86.60 530.13L87.10 530.32L87.60 529.51L88.10 529.58L88.60 530.02L89.10 529.56L89.60 529.02L90.10 528.92L90.60 528.87L91.10 529.01L91.60 529.10L92.10 528.91L92.60 528.93L93.10 528.95L93.60 528.74L94.10 529.18L94.60 528.88L95.10 528.76L95.60 528.81L96.10 528.80L96.60 528.46L97.10 528.37L97.60 528.57L98.10 528.45L98.60 528.71L99.10 528.33L99.60 528.39L100.10 528.55L100.60 528.42L101.10 528.38L101.60 527.95L102.10 528.03L102.60 528.19L103.10 528.04L103.60 527.98L104.10 527.68L104.60 527.85L105.10 528.23L105.60 526.93L106.10 527.84L106.60 527.58L107.10 527.64L107.60 527.32L108.10 526.50L108.60 527.28L109.10 526.55L109.60 526.69L110.10 526.67L110.60 526.36L111.10 526.36L111.60 526.02L112.10 526.00L112.60 526.19L113.10 525.79L113.60 526.28L114.10 525.84L114.60 526.17L115.10 525.42L115.60 524.95L116.10 524.62L116.60 525.01L117.10 524.61L117.60 525.14L118.10 524.56L118.60 524.53L119.10 525.04L119.60 524.54L120.10 524.76L120.60 524.62L121.10 524.39L121.60 523.79L122.10 523.78L122.60 524.50L123.10 523.79L123.60 523.95L124.10 523.75L124.60 523.44L125.10 523.28L125.60 523.05L126.10 522.92L126.60 522.45L127.10 523.33L127.60 522.55L128.10 522.08L128.60 522.34L129.10 522.16L129.60 521.14L130.10 521.18L130.60 521.32L131.10 520.82L131.60 520.40L132.10 520.28L132.60 519.64L133.10 519.09L133.60 519.06L134.10 518.06L134.60 517.54L135.10 517.28L135.60 516.30L136.10 515.39L136.60 515.61L137.10 514.35L137.60 513.99L138.10 513.03L138.60 511.72L139.10 511.46L139.60 510.01L140.10 508.58L140.60 507.66L141.10 505.84L141.60 505.05L142.10 503.44L142.60 502.10L143.10 500.37L143.60 499.05L144.10 497.09L144.60 495.22L145.10 493.36L145.60 490.62L146.10 487.94L146.60 485.44L147.10 482.36L147.60 479.64L148.10 476.96L148.60 473.21L149.10 469.51L149.60 466.31L150.10 462.78L150.60 459.62L151.10 455.03L151.60 451.09L152.10 447.59L152.60 443.74L153.10 439.88L153.60 436.20L154.10 432.98L154.60 429.35L155.10 426.71L155.60 423.87L156.10 421.81L156.60 419.67L157.10 418.15L157.60 417.68L158.10 417.04L158.60 417.54L159.10 418.06L159.60 419.03L160.10 420.54L160.60 422.46L161.10 424.99L161.60 427.74L162.10 430.74L162.60 433.88L163.10 437.96L163.60 440.75L164.10 445.28L164.60 448.96L165.10 452.88L165.60 456.16L166.10 460.24L166.60 463.24L167.10 467.02L167.60 470.14L168.10 473.58L168.60 476.93L169.10 480.46L169.60 483.30L170.10 485.58L170.60 488.29L171.10 490.66L171.60 492.92L172.10 494.81L172.60 497.15L173.10 499.06L173.60 500.52L174.10 502.67L174.60 503.69L175.10 505.06L175.60 506.63L176.10 508.27L176.60 509.16L177.10 510.67L177.60 511.47L178.10 512.38L178.60 512.85L179.10 513.89L179.60 514.46L180.10 515.78L180.60 516.48L181.10 516.58L181.60 517.77L182.10 518.16L182.60 517.74L183.10 518.67L183.60 519.37L184.10 518.98L184.60 519.62L185.10 520.26L185.60 520.36L186.10 520.88L186.60 521.30L187.10 521.19L187.60 522.33L188.10 521.96L188.60 522.55L189.10 522.20L189.60 522.70L190.10 522.84L190.60 522.94L191.10 523.39L191.60 523.42L192.10 523.76L192.60 523.84L193.10 523.89L193.60 524.15L194.10 524.60L194.60 524.28L195.10 524.86L195.60 524.86L196.10 524.50L196.60 524.79L197.10 524.96L197.60 524.75L198.10 525.08L198.60 524.77L199.10 525.71L199.60 525.59L200.10 526.29L200.60 526.21L201.10 525.81L201.60 526.21L202.10 526.57L202.60 526.39L203.10 526.42L203.60 526.20L204.10 526.45L204.60 526.87L205.10 527.05L205.60 527.71L206.10 527.00L206.60 527.60L207.10 527.74L207.60 528.19L208.10 528.06L208.60 528.09L209.10 528.35L209.60 528.57L210.10 528.42L210.60 528.44L211.10 528.67L211.60 528.60L212.10 528.68L212.60 528.95L213.10 528.70L213.60 528.79L214.10 528.64L214.60 528.54L215.10 528.74L215.60 529.52L216.10 529.43L216.60 529.67L217.10 529.47L217.60 529.32L218.10 529.56L218.60 529.62L219.10 530.07L219.60 530.15L220.10 529.89L220.60 529.49L221.10 529.75L221.60 529.99L222.10 530.36L222.60 530.11L223.10 530.12L223.60 530.32L224.10 530.18L224.60 530.17L225.10 530.11L225.60 530.68L226.10 530.31L226.60 530.21L227.10 530.32L227.60 530.08L228.10 530.14L228.60 530.20L229.10 530.72L229.60 530.17L230.10 530.48L230.60 530.41L231.10 530.26L231.60 530.96L232.10 531.06L232.60 531.17L233.10 532.05L233.60 531.47L234.10 531.40L234.60 532.00L235.10 531.80L235.60 532.32L236.10 531.62L236.60 532.49L237.10 532.05L237.60 532.24L238.10 532.43L238.60 532.19L239.10 531.85L239.60 531.92L240.10 531.91L240.60 531.60L241.10 532.59L241.60 532.12L242.10 532.25L242.60 532.35L243.10 532.35L243.60 532.83L244.10 532.19L244.60 532.66L245.10 532.89L245.60 532.75L246.10 532.81L246.60 532.47L247.10 533.13L247.60 532.98L248.10 533.22L248.60 532.84L249.10 533.08L249.60 533.10L250.10 532.89L250.60 533.69L251.10 533.31L251.60 533.04L252.10 533.58L252.60 533.79L253.10 533.81L253.60 533.73L254.10 534.21L254.60 534.14L255.10 534.07L255.60 534.65L256.10 534.89L256.60 535.02L257.10 535.19L257.60 534.95L258.10 534.34L258.60 534.61L259.10 535.01L259.60 534.62L260.10 534.78L260.60 534.91L261.10 534.90L261.60 534.44L262.10 534.71L262.60 534.68L263.10 534.31L263.60 535.29L264.10 535.30L264.60 534.81L265.10 535.58L265.60 535.13L266.10 535.22L266.60 535.62L267.10 534.42L267.60 534.88L268.10 535.09L268.60 535.28L269.10 534.78L269.60 534.79L270.10 534.80L270.60 534.86L271.10 534.75L271.60 534.18L272.10 534.87L272.60 534.77L273.10 534.96L273.60 534.77L274.10 534.59L274.60 534.97L275.10 535.34L275.60 535.34L276.10 535.23L276.60 535.47L277.10 535.34L277.60 535.36L278.10 535.59L278.60 535.21L279.10 535.06L279.60 534.64L280.10 534.81L280.60 534.37L281.10 535.49L281.60 535.64L282.10 535.04L282.60 534.85L283.10 535.17L283.60 535.13L284.10 534.45L284.60 534.96L285.10 535.11L285.60 535.02L286.10 535.77L286.60 535.73L287.10 535.37L287.60 535.51L288.10 535.44L288.60 535.50L289.10 535.56L289.60 535.98L290.10 535.71L290.60 535.50" fill="none" stroke="#8d2c9e" stroke-width="1.30" stroke-linejoin="round"/>
<path d="M26.10 537.12L26.60 536.93L27.10 536.35L27.60 536.09L28.10 536.42L28.60 536.50L29.10 536.10L29.60 535.88L30.10 535.95L30.60 536.20L31.10 535.30L31.60 535.89L32.10 535.81L32.60 535.91L33.10 535.95L33.60 535.53L34.10 535.74L34.60 536.00L35.10 535.39L35.60 535.45L36.10 535.19L36.60 535.41L37.10 535.42L37.60 535.68L38.10 535.59L38.60 535.67L39.10 535.64L39.60 535.19L40.10 535.26L40.60 534.94L41.10 535.15L41.60 534.63L42.10 534.29L42.60 534.33L43.10 534.62L43.60 534.54L44.10 534.19L44.60 534.30L45.10 534.55L45.60 534.67L46.10 534.71L46.60 534.12L47.10 534.53L47.60 534.51L48.10 534.13L48.60 534.38L49.10 533.80L49.60 533.76L50.10 533.64L50.60 533.33L51.10 533.43L51.60 533.52L52.10 533.39L52.60 533.14L53.10 533.11L53.60 533.15L54.10 532.65L54.60 533.03L55.10 532.64L55.60 532.95L56.10 532.76L56.60 532.98L57.10 532.78L57.60 532.72L58.10 532.52L58.60 532.65L59.10 533.10L59.60 532.16L60.10 532.78L60.60 532.66L61.10 532.42L61.60 532.22L62.10 532.83L62.60 532.54L63.10 532.69L63.60 532.20L64.10 531.95L64.60 532.41L65.10 532.26L65.60 531.94L66.10 531.76L66.60 531.96L67.10 531.45L67.60 531.33L68.10 531.33L68.60 531.53L69.10 531.32L69.60 531.17L70.10 531.41L70.60 530.91L71.10 530.64L71.60 531.40L72.10 530.76L72.60 531.18L73.10 531.13L73.60 531.06L74.10 530.97L74.60 531.09L75.10 531.17L75.60 530.97L76.10 531.09L76.60 531.33L77.10 531.08L77.60 530.69L78.10 530.78L78.60 530.56L79.10 530.43L79.60 530.43L80.10 530.91L80.60 530.18L81.10 529.63L81.60 530.03L82.10 529.72L82.60 529.79L83.10 529.75L83.60 529.35L84.10 529.52L84.60 529.23L85.10 529.64L85.60 529.11L86.10 529.24L86.60 529.87L87.10 528.99L87.60 529.22L88.10 529.23L88.60 529.39L89.10 529.39L89.60 529.60L90.10 529.41L90.60 529.49L91.10 528.76L91.60 529.11L92.10 528.64L92.60 529.36L93.10 529.00L93.60 528.99L94.10 528.47L94.60 528.53L95.10 528.43L95.60 528.33L96.10 528.17L96.60 527.96L97.10 528.03L97.60 527.81L98.10 527.55L98.60 527.53L99.10 527.35L99.60 527.90L100.10 527.17L100.60 526.74L101.10 527.47L101.60 527.25L102.10 527.06L102.60 527.22L103.10 527.48L103.60 526.58L104.10 527.08L104.60 526.74L105.10 526.77L105.60 526.37L106.10 526.78L106.60 526.66L107.10 525.79L107.60 526.71L108.10 526.83L108.60 525.95L109.10 526.32L109.60 526.07L110.10 526.18L110.60 525.82L111.10 526.15L111.60 526.10L112.10 525.83L112.60 525.79L113.10 525.14L113.60 525.75L114.10 524.97L114.60 525.26L115.10 524.88L115.60 525.58L116.10 524.68L116.60 524.88L117.10 524.42L117.60 524.39L118.10 524.42L118.60 524.11L119.10 524.57L119.60 523.90L120.10 524.41L120.60 523.51L121.10 523.35L121.60 523.81L122.10 523.06L122.60 523.77L123.10 523.27L123.60 523.02L124.10 523.39L124.60 522.55L125.10 522.14L125.60 521.48L126.10 521.49L126.60 521.90L127.10 521.15L127.60 521.76L128.10 521.64L128.60 521.28L129.10 520.43L129.60 520.64L130.10 520.21L130.60 520.56L131.10 520.48L131.60 519.83L132.10 519.53L132.60 519.39L133.10 519.12L133.60 518.19L134.10 517.65L134.60 517.50L135.10 516.72L135.60 516.06L136.10 515.29L136.60 514.79L137.10 513.75L137.60 512.70L138.10 512.40L138.60 511.26L139.10 509.70L139.60 508.58L140.10 507.17L140.60 505.67L141.10 504.30L141.60 502.60L142.10 501.37L142.60 499.95L143.10 497.98L143.60 495.69L144.10 493.92L144.60 491.58L145.10 489.02L145.60 487.14L146.10 483.77L146.60 481.63L147.10 477.98L147.60 475.09L148.10 471.41L148.60 468.44L149.10 464.69L149.60 460.37L150.10 456.77L150.60 452.97L151.10 448.79L151.60 444.67L152.10 439.98L152.60 436.55L153.10 431.75L153.60 427.84L154.10 423.73L154.60 420.48L155.10 417.13L155.60 414.76L156.10 411.65L156.60 410.64L157.10 408.83L157.60 407.97L158.10 407.24L158.60 407.08L159.10 407.74L159.60 408.76L160.10 409.87L160.60 412.15L161.10 415.00L161.60 418.16L162.10 420.84L162.60 424.52L163.10 428.06L163.60 432.50L164.10 436.56L164.60 440.17L165.10 444.38L165.60 449.37L166.10 453.32L166.60 457.05L167.10 461.15L167.60 464.65L168.10 468.45L168.60 471.73L169.10 475.55L169.60 478.90L170.10 482.02L170.60 484.79L171.10 487.12L171.60 489.90L172.10 491.83L172.60 494.15L173.10 496.27L173.60 497.92L174.10 500.20L174.60 501.33L175.10 503.88L175.60 505.00L176.10 506.27L176.60 506.99L177.10 508.28L177.60 509.46L178.10 510.18L178.60 511.63L179.10 512.35L179.60 513.87L180.10 514.73L180.60 515.39L181.10 515.22L181.60 515.67L182.10 517.18L182.60 517.61L183.10 518.29L183.60 518.52L184.10 518.96L184.60 519.84L185.10 519.93L185.60 520.28L186.10 520.01L186.60 520.77L187.10 521.28L187.60 521.28L188.10 521.80L188.60 521.66L189.10 522.38L189.60 522.22L190.10 522.44L190.60 523.05L191.10 523.43L191.60 523.16L192.10 523.58L192.60 523.84L193.10 523.83L193.60 524.06L194.10 524.43L194.60 524.47L195.10 524.59L195.60 525.01L196.10 524.74L196.60 525.20L197.10 525.82L197.60 525.16L198.10 525.25L198.60 525.64L199.10 525.92L199.60 525.50L200.10 525.34L200.60 526.25L201.10 525.36L201.60 525.70L202.10 525.77L202.60 525.42L203.10 526.42L203.60 526.64L204.10 525.57L204.60 526.07L205.10 526.14L205.60 526.62L206.10 526.47L206.60 526.71L207.10 526.85L207.60 526.83L208.10 527.02L208.60 527.51L209.10 527.38L209.60 527.63L210.10 527.64L210.60 528.06L211.10 528.34L211.60 528.25L212.10 528.09L212.60 528.26L213.10 528.78L213.60 528.54L214.10 529.08L214.60 529.80L215.10 529.28L215.60 529.83L216.10 529.15L216.60 529.32L217.10 529.75L217.60 529.33L218.10 528.91L218.60 529.75L219.10 529.51L219.60 529.83L220.10 530.51L220.60 530.34L221.10 529.84L221.60 530.58L222.10 530.00L222.60 529.93L223.10 531.24L223.60 530.72L224.10 530.35L224.60 530.84L225.10 530.89L225.60 530.90L226.10 530.78L226.60 530.92L227.10 531.34L227.60 531.03L228.10 530.89L228.60 531.15L229.10 530.74L229.60 531.23L230.10 530.92L230.60 530.85L231.10 530.75L231.60 530.97L232.10 531.19L232.60 530.80L233.10 530.46L233.60 531.24L234.10 530.71L234.60 531.22L235.10 530.93L235.60 531.23L236.10 531.14L236.60 531.11L237.10 531.05L237.60 531.56L238.10 531.72L238.60 531.24L239.10 531.16L239.60 531.92L240.10 532.50L240.60 531.76L241.10 532.03L241.60 531.99L242.10 531.97L242.60 532.93L243.10 532.22L243.60 532.83L244.10 532.50L244.60 532.82L245.10 533.04L245.60 532.67L246.10 532.69L246.60 533.13L247.10 532.87L247.60 532.47L248.10 533.43L248.60 532.95L249.10 533.31L249.60 533.98L250.10 533.36L250.60 533.10L251.10 533.53L251.60 533.02L252.10 533.03L252.60 533.19L253.10 533.54L253.60 533.62L254.10 533.30L254.60 534.15L255.10 533.87L255.60 533.75L256.10 533.66L256.60 533.80L257.10 533.84L257.60 533.78L258.10 534.76L258.60 534.14L259.10 533.84L259.60 533.61L260.10 533.26L260.60 534.28L261.10 533.58L261.60 534.10L262.10 533.88L262.60 533.30L263.10 533.64L263.60 533.64L264.10 533.56L264.60 533.61L265.10 533.70L265.60 533.70L266.10 534.15L266.60 534.08L267.10 533.91L267.60 533.86L268.10 533.53L268.60 533.71L269.10 533.91L269.60 533.95L270.10 534.14L270.60 533.73L271.10 534.08L271.60 533.95L272.10 534.27L272.60 535.04L273.10 534.48L273.60 533.69L274.10 533.85L274.60 534.63L275.10 534.22L275.60 534.08L276.10 534.09L276.60 534.59L277.10 534.62L277.60 534.79L278.10 534.77L278.60 534.99L279.10 534.80L279.60 534.55L280.10 535.07L280.60 535.50L281.10 534.66L281.60 534.71L282.10 535.30L282.60 534.25L283.10 534.37L283.60 534.88L284.10 534.93L284.60 534.50L285.10 534.79L285.60 534.39L286.10 534.34L286.60 534.29L287.10 534.65L287.60 534.51L288.10 534.87L288.60 534.79L289.10 535.25L289.60 534.85L290.10 534.80L290.60 534.84" fill="none" stroke="#5f2a8f" stroke-width="1.30" stroke-linejoin="round"/>
</g>
<rect x="25.6" y="404.3" width="265.4" height="145.1" fill="none" stroke="#333" stroke-width="1.3"/>
<path d="M25.6 525.2h3.5M291.0 525.2h-3.5M25.6 501.0h3.5M291.0 501.0h-3.5M25.6 476.9h3.5M291.0 476.9h-3.5M25.6 452.7h3.5M291.0 452.7h-3.5M25.6 428.5h3.5M291.0 428.5h-3.5M158.3 549.4v-3.5M158.3 404.3v3.5" stroke="#333" stroke-width="1"/>
<text x="22.0" y="553.2" font-size="10.40" text-anchor="end" fill="#222" stroke="#222" stroke-width="0.2" letter-spacing="0.3">0</text>
<text x="22.0" y="529.0" font-size="10.40" text-anchor="end" fill="#222" stroke="#222" stroke-width="0.2" letter-spacing="0.3">2</text>
<text x="22.0" y="504.8" font-size="10.40" text-anchor="end" fill="#222" stroke="#222" stroke-width="0.2" letter-spacing="0.3">4</text>
<text x="22.0" y="480.7" font-size="10.40" text-anchor="end" fill="#222" stroke="#222" stroke-width="0.2" letter-spacing="0.3">6</text>
<text x="22.0" y="456.5" font-size="10.40" text-anchor="end" fill="#222" stroke="#222" stroke-width="0.2" letter-spacing="0.3">8</text>
<text x="22.0" y="432.3" font-size="10.40" text-anchor="end" fill="#222" stroke="#222" stroke-width="0.2" letter-spacing="0.3">10</text>
<text x="22.0" y="408.1" font-size="10.40" text-anchor="end" fill="#222" stroke="#222" stroke-width="0.2" letter-spacing="0.3">12</text>
<text x="25.4" y="561.4" font-size="10.00" fill="#222" stroke="#222" stroke-width="0.2" letter-spacing="0.5">-10.0</text>
<text x="158.6" y="561.4" font-size="10.00" text-anchor="middle" fill="#222" stroke="#222" stroke-width="0.2" letter-spacing="0.5">center</text>
<text x="292.0" y="561.4" font-size="10.00" text-anchor="end" fill="#222" stroke="#222" stroke-width="0.2" letter-spacing="0.5">10.0Kb</text>
<text x="35.5" y="423.1" font-size="12.00" fill="#111" stroke="#111" stroke-width="0.2">MTF2</text>
<path d="M215 414.7H227" stroke="#f9d23c" stroke-width="1.3"/>
<text x="232.6" y="418.0" font-size="9.00" fill="#111" stroke="#111" stroke-width="0.2">WT-1</text>
<path d="M215 426.6H227" stroke="#f2a23a" stroke-width="1.3"/>
<text x="232.6" y="429.9" font-size="9.00" fill="#111" stroke="#111" stroke-width="0.2">WT-2</text>
<path d="M215 438.5H227" stroke="#8d2c9e" stroke-width="1.3"/>
<text x="232.6" y="441.8" font-size="9.00" fill="#111" stroke="#111" stroke-width="0.2">D5-1</text>
<path d="M215 450.0H227" stroke="#5f2a8f" stroke-width="1.3"/>
<text x="232.6" y="453.3" font-size="9.00" fill="#111" stroke="#111" stroke-width="0.2">D5-2</text>
<g clip-path="url(#cpE2)">
<path d="M394.50 532.36L395.00 532.51L395.50 531.96L396.00 531.95L396.50 532.32L397.00 532.60L397.50 532.13L398.00 531.54L398.50 531.65L399.00 531.90L399.50 532.26L400.00 531.83L400.50 531.80L401.00 531.64L401.50 531.84L402.00 531.62L402.50 531.82L403.00 531.86L403.50 532.12L404.00 531.52L404.50 531.87L405.00 531.33L405.50 531.93L406.00 531.81L406.50 531.48L407.00 531.57L407.50 531.78L408.00 531.27L408.50 531.75L409.00 531.70L409.50 531.53L410.00 531.37L410.50 530.46L411.00 531.00L411.50 530.71L412.00 531.21L412.50 530.90L413.00 530.94L413.50 530.73L414.00 530.43L414.50 530.64L415.00 530.49L415.50 531.29L416.00 530.39L416.50 530.54L417.00 529.94L417.50 530.16L418.00 530.11L418.50 530.53L419.00 530.39L419.50 530.08L420.00 529.65L420.50 530.27L421.00 529.49L421.50 529.51L422.00 529.77L422.50 529.25L423.00 529.55L423.50 529.87L424.00 529.44L424.50 529.62L425.00 529.39L425.50 529.21L426.00 528.40L426.50 528.91L427.00 529.23L427.50 528.69L428.00 528.91L428.50 528.98L429.00 529.16L429.50 528.22L430.00 528.30L430.50 528.43L431.00 528.20L431.50 527.53L432.00 528.36L432.50 527.38L433.00 527.78L433.50 527.41L434.00 527.57L434.50 527.86L435.00 527.49L435.50 527.18L436.00 526.74L436.50 526.62L437.00 526.42L437.50 527.36L438.00 526.25L438.50 525.96L439.00 527.07L439.50 527.03L440.00 526.56L440.50 526.96L441.00 526.22L441.50 526.15L442.00 526.40L442.50 526.45L443.00 526.13L443.50 526.67L444.00 526.51L444.50 526.08L445.00 525.73L445.50 525.90L446.00 525.76L446.50 525.87L447.00 525.89L447.50 525.28L448.00 525.48L448.50 525.57L449.00 525.30L449.50 525.84L450.00 524.43L450.50 524.96L451.00 524.58L451.50 524.81L452.00 525.65L452.50 524.23L453.00 524.51L453.50 524.65L454.00 524.49L454.50 524.69L455.00 523.99L455.50 524.60L456.00 523.92L456.50 523.89L457.00 524.26L457.50 524.07L458.00 523.48L458.50 523.44L459.00 523.53L459.50 523.48L460.00 523.28L460.50 522.89L461.00 522.40L461.50 523.26L462.00 522.73L462.50 522.07L463.00 521.76L463.50 521.78L464.00 521.70L464.50 521.12L465.00 522.16L465.50 521.78L466.00 521.27L466.50 521.19L467.00 520.94L467.50 521.20L468.00 520.96L468.50 521.08L469.00 521.05L469.50 520.44L470.00 520.28L470.50 520.04L471.00 520.21L471.50 519.82L472.00 519.75L472.50 519.57L473.00 519.56L473.50 518.85L474.00 519.39L474.50 518.78L475.00 518.54L475.50 518.13L476.00 517.53L476.50 517.95L477.00 517.08L477.50 517.77L478.00 517.12L478.50 517.42L479.00 517.03L479.50 516.80L480.00 516.81L480.50 516.02L481.00 516.33L481.50 515.67L482.00 515.45L482.50 514.97L483.00 515.14L483.50 514.87L484.00 514.42L484.50 513.90L485.00 513.85L485.50 513.84L486.00 513.32L486.50 512.69L487.00 512.43L487.50 512.16L488.00 511.32L488.50 511.56L489.00 511.91L489.50 510.97L490.00 510.79L490.50 511.03L491.00 510.46L491.50 510.11L492.00 509.56L492.50 509.02L493.00 509.86L493.50 508.67L494.00 508.27L494.50 508.45L495.00 507.84L495.50 507.01L496.00 506.48L496.50 506.30L497.00 505.89L497.50 505.42L498.00 504.86L498.50 504.32L499.00 504.04L499.50 503.35L500.00 503.06L500.50 502.87L501.00 502.29L501.50 501.84L502.00 501.85L502.50 501.17L503.00 500.31L503.50 500.02L504.00 499.83L504.50 499.07L505.00 499.14L505.50 498.07L506.00 497.59L506.50 498.17L507.00 497.75L507.50 496.87L508.00 496.98L508.50 496.98L509.00 495.85L509.50 495.53L510.00 495.21L510.50 494.84L511.00 494.25L511.50 494.15L512.00 493.33L512.50 493.46L513.00 493.69L513.50 492.38L514.00 492.50L514.50 492.15L515.00 490.69L515.50 491.13L516.00 490.78L516.50 490.40L517.00 490.57L517.50 490.26L518.00 490.48L518.50 490.15L519.00 490.28L519.50 490.14L520.00 490.98L520.50 490.22L521.00 489.92L521.50 490.82L522.00 490.70L522.50 490.24L523.00 490.10L523.50 490.30L524.00 490.93L524.50 490.39L525.00 490.21L525.50 490.63L526.00 490.37L526.50 490.43L527.00 490.99L527.50 490.71L528.00 490.86L528.50 490.68L529.00 491.22L529.50 490.91L530.00 491.38L530.50 491.61L531.00 491.08L531.50 491.07L532.00 491.82L532.50 491.69L533.00 492.02L533.50 491.72L534.00 492.31L534.50 492.73L535.00 493.34L535.50 493.49L536.00 493.18L536.50 493.41L537.00 493.15L537.50 493.98L538.00 494.06L538.50 494.94L539.00 495.02L539.50 495.41L540.00 496.01L540.50 497.31L541.00 497.67L541.50 498.54L542.00 499.14L542.50 499.10L543.00 500.43L543.50 500.70L544.00 501.68L544.50 502.17L545.00 501.97L545.50 502.97L546.00 503.62L546.50 504.48L547.00 505.24L547.50 505.26L548.00 505.82L548.50 506.49L549.00 506.32L549.50 507.98L550.00 507.62L550.50 508.75L551.00 509.03L551.50 509.90L552.00 510.05L552.50 510.24L553.00 510.07L553.50 510.91L554.00 511.26L554.50 511.65L555.00 511.42L555.50 511.99L556.00 512.40L556.50 512.85L557.00 512.61L557.50 513.21L558.00 513.85L558.50 513.78L559.00 514.71L559.50 514.74L560.00 514.82L560.50 515.51L561.00 515.65L561.50 515.68L562.00 515.77L562.50 516.22L563.00 516.40L563.50 516.89L564.00 516.89L564.50 517.01L565.00 516.92L565.50 517.61L566.00 517.79L566.50 518.03L567.00 517.63L567.50 517.60L568.00 518.37L568.50 518.36L569.00 518.22L569.50 519.38L570.00 519.21L570.50 519.34L571.00 519.69L571.50 519.50L572.00 520.30L572.50 520.00L573.00 520.17L573.50 520.45L574.00 520.68L574.50 521.59L575.00 521.96L575.50 521.86L576.00 521.08L576.50 521.80L577.00 521.86L577.50 522.34L578.00 521.73L578.50 521.69L579.00 522.47L579.50 522.91L580.00 522.70L580.50 523.79L581.00 523.01L581.50 523.29L582.00 523.27L582.50 523.31L583.00 524.08L583.50 523.50L584.00 523.55L584.50 523.93L585.00 524.15L585.50 524.76L586.00 524.48L586.50 524.79L587.00 524.77L587.50 525.48L588.00 525.14L588.50 525.15L589.00 524.71L589.50 525.66L590.00 525.28L590.50 525.98L591.00 526.10L591.50 526.46L592.00 526.73L592.50 526.56L593.00 526.22L593.50 526.66L594.00 526.98L594.50 526.60L595.00 527.12L595.50 527.45L596.00 527.36L596.50 527.41L597.00 527.59L597.50 527.82L598.00 527.48L598.50 527.93L599.00 527.38L599.50 527.80L600.00 527.91L600.50 527.56L601.00 528.29L601.50 528.19L602.00 527.72L602.50 528.27L603.00 528.20L603.50 528.14L604.00 528.62L604.50 528.22L605.00 528.64L605.50 528.17L606.00 528.58L606.50 529.38L607.00 528.99L607.50 528.65L608.00 528.92L608.50 529.16L609.00 528.75L609.50 529.54L610.00 529.24L610.50 529.36L611.00 529.46L611.50 529.35L612.00 529.25L612.50 528.68L613.00 529.27L613.50 529.81L614.00 530.06L614.50 530.00L615.00 529.27L615.50 529.64L616.00 529.80L616.50 529.52L617.00 530.36L617.50 529.58L618.00 529.91L618.50 529.64L619.00 530.20L619.50 529.68L620.00 529.81L620.50 530.32L621.00 529.63L621.50 529.73L622.00 529.93L622.50 529.98L623.00 529.47L623.50 530.27L624.00 529.99L624.50 530.46L625.00 529.65L625.50 530.46L626.00 530.47L626.50 530.28L627.00 530.29L627.50 530.46L628.00 530.25L628.50 530.34L629.00 530.18L629.50 530.54L630.00 530.76L630.50 530.15L631.00 530.57L631.50 530.56L632.00 531.01L632.50 530.59L633.00 531.25L633.50 530.77L634.00 531.00L634.50 531.01L635.00 531.07L635.50 530.78L636.00 530.73L636.50 531.68L637.00 531.64L637.50 531.22L638.00 531.19L638.50 531.28L639.00 531.08L639.50 531.19L640.00 531.52L640.50 531.63L641.00 531.30L641.50 531.37L642.00 531.32L642.50 531.56L643.00 532.23L643.50 531.98L644.00 531.45L644.50 531.74L645.00 532.25L645.50 532.28L646.00 532.62L646.50 532.64L647.00 532.26L647.50 532.16L648.00 532.56L648.50 532.29L649.00 532.35L649.50 533.03L650.00 532.93L650.50 533.00L651.00 533.30L651.50 532.76L652.00 532.93L652.50 532.69L653.00 532.74L653.50 532.89L654.00 532.92L654.50 532.40L655.00 532.36L655.50 532.79L656.00 532.81" fill="none" stroke="#f5a3a0" stroke-width="1.10" stroke-linejoin="round"/>
<path d="M394.50 530.58L395.00 530.44L395.50 531.45L396.00 530.38L396.50 530.20L397.00 530.03L397.50 529.63L398.00 529.43L398.50 529.79L399.00 529.36L399.50 529.74L400.00 529.39L400.50 528.82L401.00 528.93L401.50 529.05L402.00 528.73L402.50 529.13L403.00 528.99L403.50 529.39L404.00 528.88L404.50 529.22L405.00 529.46L405.50 529.41L406.00 528.85L406.50 529.62L407.00 528.82L407.50 529.27L408.00 528.70L408.50 528.59L409.00 528.27L409.50 528.49L410.00 529.29L410.50 528.34L411.00 528.99L411.50 528.81L412.00 528.17L412.50 528.57L413.00 528.72L413.50 528.13L414.00 527.99L414.50 528.29L415.00 528.03L415.50 528.54L416.00 527.93L416.50 527.50L417.00 527.75L417.50 527.30L418.00 527.69L418.50 527.58L419.00 527.06L419.50 526.98L420.00 527.38L420.50 527.03L421.00 527.43L421.50 526.55L422.00 526.99L422.50 526.82L423.00 526.69L423.50 527.79L424.00 527.20L424.50 526.35L425.00 526.71L425.50 526.03L426.00 526.92L426.50 526.88L427.00 526.11L427.50 526.15L428.00 526.05L428.50 526.03L429.00 525.84L429.50 525.55L430.00 525.62L430.50 525.50L431.00 525.71L431.50 525.56L432.00 525.53L432.50 524.95L433.00 525.12L433.50 524.99L434.00 524.92L434.50 525.04L435.00 524.92L435.50 524.57L436.00 525.19L436.50 525.09L437.00 524.48L437.50 524.80L438.00 524.12L438.50 523.98L439.00 524.21L439.50 524.65L440.00 523.97L440.50 523.54L441.00 523.98L441.50 523.56L442.00 523.56L442.50 523.83L443.00 522.98L443.50 522.95L444.00 523.01L444.50 523.79L445.00 523.47L445.50 523.28L446.00 523.22L446.50 523.51L447.00 523.81L447.50 523.09L448.00 523.25L448.50 523.90L449.00 523.15L449.50 522.66L450.00 522.71L450.50 522.65L451.00 522.87L451.50 522.62L452.00 522.18L452.50 522.19L453.00 522.31L453.50 521.87L454.00 522.07L454.50 521.46L455.00 522.01L455.50 521.97L456.00 521.08L456.50 521.72L457.00 521.55L457.50 521.41L458.00 521.20L458.50 521.26L459.00 521.37L459.50 520.50L460.00 521.00L460.50 520.27L461.00 519.87L461.50 520.06L462.00 520.20L462.50 519.88L463.00 520.01L463.50 519.73L464.00 519.36L464.50 519.65L465.00 518.89L465.50 519.33L466.00 518.85L466.50 518.59L467.00 518.44L467.50 518.33L468.00 518.38L468.50 518.25L469.00 518.02L469.50 517.27L470.00 517.10L470.50 517.55L471.00 517.13L471.50 517.06L472.00 516.95L472.50 516.53L473.00 517.14L473.50 516.46L474.00 516.27L474.50 515.85L475.00 516.26L475.50 516.02L476.00 515.94L476.50 515.56L477.00 514.89L477.50 514.46L478.00 515.28L478.50 514.44L479.00 514.37L479.50 514.22L480.00 514.02L480.50 513.93L481.00 513.17L481.50 512.91L482.00 512.45L482.50 512.79L483.00 512.27L483.50 511.59L484.00 512.07L484.50 511.44L485.00 510.91L485.50 510.67L486.00 510.36L486.50 510.23L487.00 509.98L487.50 509.60L488.00 509.48L488.50 508.28L489.00 508.66L489.50 508.62L490.00 508.39L490.50 508.04L491.00 507.12L491.50 506.70L492.00 506.77L492.50 507.06L493.00 505.96L493.50 505.13L494.00 504.43L494.50 504.51L495.00 503.70L495.50 503.51L496.00 502.97L496.50 501.74L497.00 501.76L497.50 501.64L498.00 500.79L498.50 500.03L499.00 499.47L499.50 498.83L500.00 499.42L500.50 498.67L501.00 497.77L501.50 497.89L502.00 496.66L502.50 496.55L503.00 495.96L503.50 495.65L504.00 495.57L504.50 495.70L505.00 494.88L505.50 494.01L506.00 493.61L506.50 493.07L507.00 492.94L507.50 492.11L508.00 492.14L508.50 491.61L509.00 491.38L509.50 490.30L510.00 490.11L510.50 489.68L511.00 488.78L511.50 487.83L512.00 487.65L512.50 487.50L513.00 486.71L513.50 487.04L514.00 486.20L514.50 485.29L515.00 485.29L515.50 485.20L516.00 485.00L516.50 484.46L517.00 484.51L517.50 485.18L518.00 484.46L518.50 484.18L519.00 483.86L519.50 483.36L520.00 483.89L520.50 483.70L521.00 483.87L521.50 483.61L522.00 484.11L522.50 484.01L523.00 483.50L523.50 483.35L524.00 483.95L524.50 484.21L525.00 483.99L525.50 483.80L526.00 483.26L526.50 483.46L527.00 483.91L527.50 483.84L528.00 483.86L528.50 484.07L529.00 484.20L529.50 484.03L530.00 484.14L530.50 484.13L531.00 484.69L531.50 484.75L532.00 485.09L532.50 485.62L533.00 485.39L533.50 485.80L534.00 486.29L534.50 486.06L535.00 486.12L535.50 486.80L536.00 487.50L536.50 487.44L537.00 487.78L537.50 487.58L538.00 488.85L538.50 488.51L539.00 489.44L539.50 490.09L540.00 491.45L540.50 491.67L541.00 491.88L541.50 492.60L542.00 493.64L542.50 493.89L543.00 494.80L543.50 495.43L544.00 496.22L544.50 496.12L545.00 497.34L545.50 496.77L546.00 498.38L546.50 498.16L547.00 498.74L547.50 499.17L548.00 499.83L548.50 500.30L549.00 500.53L549.50 500.82L550.00 501.38L550.50 501.96L551.00 502.39L551.50 502.88L552.00 503.11L552.50 504.06L553.00 504.74L553.50 504.62L554.00 505.60L554.50 505.61L555.00 506.08L555.50 505.92L556.00 507.04L556.50 507.59L557.00 508.34L557.50 507.97L558.00 508.49L558.50 509.05L559.00 509.51L559.50 509.50L560.00 510.06L560.50 510.79L561.00 511.20L561.50 511.20L562.00 511.99L562.50 511.62L563.00 512.52L563.50 512.48L564.00 513.00L564.50 513.64L565.00 514.18L565.50 514.06L566.00 514.33L566.50 514.93L567.00 514.88L567.50 514.26L568.00 514.98L568.50 515.08L569.00 515.56L569.50 515.60L570.00 516.45L570.50 516.62L571.00 517.33L571.50 516.80L572.00 517.18L572.50 517.20L573.00 518.03L573.50 518.42L574.00 518.71L574.50 518.81L575.00 518.58L575.50 519.22L576.00 518.83L576.50 519.06L577.00 519.37L577.50 520.29L578.00 519.65L578.50 519.90L579.00 520.52L579.50 520.93L580.00 520.92L580.50 521.05L581.00 520.71L581.50 521.18L582.00 521.95L582.50 521.77L583.00 521.60L583.50 521.83L584.00 522.44L584.50 522.80L585.00 522.55L585.50 522.26L586.00 523.12L586.50 522.63L587.00 522.99L587.50 523.23L588.00 523.21L588.50 523.27L589.00 523.86L589.50 523.45L590.00 523.09L590.50 523.63L591.00 524.36L591.50 524.13L592.00 523.85L592.50 524.47L593.00 524.42L593.50 524.41L594.00 524.68L594.50 524.51L595.00 524.79L595.50 525.12L596.00 524.92L596.50 525.47L597.00 525.07L597.50 526.09L598.00 525.66L598.50 525.85L599.00 525.34L599.50 526.01L600.00 525.67L600.50 526.19L601.00 526.07L601.50 525.86L602.00 526.62L602.50 526.33L603.00 526.10L603.50 526.18L604.00 526.49L604.50 526.38L605.00 526.76L605.50 526.36L606.00 526.73L606.50 526.67L607.00 526.82L607.50 527.30L608.00 526.92L608.50 526.68L609.00 527.52L609.50 527.37L610.00 527.60L610.50 527.66L611.00 527.79L611.50 527.71L612.00 528.18L612.50 527.32L613.00 527.94L613.50 527.64L614.00 527.76L614.50 527.39L615.00 527.90L615.50 527.76L616.00 527.66L616.50 527.77L617.00 527.84L617.50 527.62L618.00 528.47L618.50 527.93L619.00 527.73L619.50 528.16L620.00 527.97L620.50 527.84L621.00 527.87L621.50 527.59L622.00 528.32L622.50 528.44L623.00 528.02L623.50 527.74L624.00 527.38L624.50 527.60L625.00 528.00L625.50 527.75L626.00 527.94L626.50 527.76L627.00 528.09L627.50 528.23L628.00 528.28L628.50 528.29L629.00 528.27L629.50 528.18L630.00 528.49L630.50 528.36L631.00 528.73L631.50 528.93L632.00 529.16L632.50 528.67L633.00 528.96L633.50 529.15L634.00 529.03L634.50 529.33L635.00 529.26L635.50 529.24L636.00 529.87L636.50 529.29L637.00 529.49L637.50 528.86L638.00 529.51L638.50 529.26L639.00 529.25L639.50 528.62L640.00 529.41L640.50 529.20L641.00 529.47L641.50 529.36L642.00 529.13L642.50 529.26L643.00 529.89L643.50 529.83L644.00 529.20L644.50 529.54L645.00 529.87L645.50 529.57L646.00 529.83L646.50 529.77L647.00 530.31L647.50 530.20L648.00 529.97L648.50 530.48L649.00 530.29L649.50 530.71L650.00 530.13L650.50 529.83L651.00 530.67L651.50 530.43L652.00 529.84L652.50 529.28L653.00 530.56L653.50 530.61L654.00 530.39L654.50 530.53L655.00 530.57L655.50 530.17L656.00 531.00" fill="none" stroke="#e2302f" stroke-width="1.10" stroke-linejoin="round"/>
<path d="M394.50 518.54L395.00 517.42L395.50 517.76L396.00 517.57L396.50 517.29L397.00 517.31L397.50 517.28L398.00 517.31L398.50 517.29L399.00 517.51L399.50 517.18L400.00 517.40L400.50 517.16L401.00 517.13L401.50 516.83L402.00 516.55L402.50 516.38L403.00 516.89L403.50 516.91L404.00 517.05L404.50 517.09L405.00 516.53L405.50 516.65L406.00 516.52L406.50 517.11L407.00 516.77L407.50 516.80L408.00 516.38L408.50 516.13L409.00 516.22L409.50 516.16L410.00 516.29L410.50 515.58L411.00 515.87L411.50 515.52L412.00 515.57L412.50 515.60L413.00 515.51L413.50 515.76L414.00 515.76L414.50 515.49L415.00 515.15L415.50 515.30L416.00 515.23L416.50 515.30L417.00 515.10L417.50 514.49L418.00 514.71L418.50 514.84L419.00 515.09L419.50 514.65L420.00 514.91L420.50 514.62L421.00 513.95L421.50 514.25L422.00 514.35L422.50 514.16L423.00 513.65L423.50 514.16L424.00 513.88L424.50 513.31L425.00 513.57L425.50 512.93L426.00 513.09L426.50 513.79L427.00 513.94L427.50 513.47L428.00 513.37L428.50 513.82L429.00 513.34L429.50 512.83L430.00 512.26L430.50 512.96L431.00 511.97L431.50 511.52L432.00 512.05L432.50 512.26L433.00 512.02L433.50 512.30L434.00 511.85L434.50 511.82L435.00 511.81L435.50 511.28L436.00 511.35L436.50 511.91L437.00 510.87L437.50 511.21L438.00 511.34L438.50 510.84L439.00 511.03L439.50 510.41L440.00 510.59L440.50 510.54L441.00 510.92L441.50 510.75L442.00 510.31L442.50 509.99L443.00 510.78L443.50 510.50L444.00 509.46L444.50 509.83L445.00 509.47L445.50 509.41L446.00 508.97L446.50 509.25L447.00 509.25L447.50 509.37L448.00 509.69L448.50 509.27L449.00 508.75L449.50 508.36L450.00 508.54L450.50 508.87L451.00 508.60L451.50 507.83L452.00 508.20L452.50 507.90L453.00 507.39L453.50 507.67L454.00 507.32L454.50 506.72L455.00 506.80L455.50 506.75L456.00 507.13L456.50 506.21L457.00 506.53L457.50 506.40L458.00 506.29L458.50 505.79L459.00 506.48L459.50 506.31L460.00 506.21L460.50 505.84L461.00 505.71L461.50 505.29L462.00 505.21L462.50 504.51L463.00 504.55L463.50 503.99L464.00 503.67L464.50 503.50L465.00 503.05L465.50 502.75L466.00 502.74L466.50 502.52L467.00 503.05L467.50 502.77L468.00 502.43L468.50 502.24L469.00 501.44L469.50 501.74L470.00 501.16L470.50 501.06L471.00 500.91L471.50 500.63L472.00 500.88L472.50 500.11L473.00 500.82L473.50 499.68L474.00 499.90L474.50 498.92L475.00 499.38L475.50 498.34L476.00 498.63L476.50 498.34L477.00 498.19L477.50 497.64L478.00 497.38L478.50 496.99L479.00 497.36L479.50 496.34L480.00 496.09L480.50 495.69L481.00 495.51L481.50 494.67L482.00 494.46L482.50 494.40L483.00 493.66L483.50 493.43L484.00 492.65L484.50 492.86L485.00 491.98L485.50 492.16L486.00 491.26L486.50 490.54L487.00 490.31L487.50 489.87L488.00 489.38L488.50 488.83L489.00 488.20L489.50 487.09L490.00 487.10L490.50 486.19L491.00 485.84L491.50 485.46L492.00 484.05L492.50 484.18L493.00 483.78L493.50 482.54L494.00 481.69L494.50 481.56L495.00 480.62L495.50 480.26L496.00 479.62L496.50 478.06L497.00 477.83L497.50 476.50L498.00 475.73L498.50 475.38L499.00 474.07L499.50 473.47L500.00 472.67L500.50 471.97L501.00 471.08L501.50 470.02L502.00 468.60L502.50 467.48L503.00 466.73L503.50 465.13L504.00 464.09L504.50 463.52L505.00 461.97L505.50 461.13L506.00 460.64L506.50 459.30L507.00 457.70L507.50 457.09L508.00 457.06L508.50 456.35L509.00 454.51L509.50 453.98L510.00 453.26L510.50 452.18L511.00 450.75L511.50 450.55L512.00 449.39L512.50 448.37L513.00 447.05L513.50 446.48L514.00 445.86L514.50 445.03L515.00 444.36L515.50 443.38L516.00 443.18L516.50 442.51L517.00 441.52L517.50 441.12L518.00 441.14L518.50 440.61L519.00 440.86L519.50 439.94L520.00 439.92L520.50 439.64L521.00 438.66L521.50 439.14L522.00 438.50L522.50 438.21L523.00 438.13L523.50 437.61L524.00 437.56L524.50 438.44L525.00 437.88L525.50 437.72L526.00 437.75L526.50 438.12L527.00 437.69L527.50 437.78L528.00 437.95L528.50 438.38L529.00 438.13L529.50 438.59L530.00 438.09L530.50 438.10L531.00 437.99L531.50 438.66L532.00 439.10L532.50 439.15L533.00 439.66L533.50 439.71L534.00 440.09L534.50 440.72L535.00 441.42L535.50 442.50L536.00 442.77L536.50 443.47L537.00 444.14L537.50 444.35L538.00 445.63L538.50 446.06L539.00 446.52L539.50 447.63L540.00 448.86L540.50 449.36L541.00 451.67L541.50 452.04L542.00 453.28L542.50 453.78L543.00 455.14L543.50 456.25L544.00 456.95L544.50 458.27L545.00 459.18L545.50 460.32L546.00 460.85L546.50 462.47L547.00 463.19L547.50 463.96L548.00 464.63L548.50 466.33L549.00 467.32L549.50 469.23L550.00 468.97L550.50 470.77L551.00 471.72L551.50 472.36L552.00 473.06L552.50 474.06L553.00 474.28L553.50 475.99L554.00 476.34L554.50 477.05L555.00 478.12L555.50 477.98L556.00 479.18L556.50 480.04L557.00 480.67L557.50 482.14L558.00 483.22L558.50 483.47L559.00 484.19L559.50 485.19L560.00 485.49L560.50 486.47L561.00 487.18L561.50 487.50L562.00 488.12L562.50 488.89L563.00 489.58L563.50 490.28L564.00 490.12L564.50 490.72L565.00 491.45L565.50 492.21L566.00 492.09L566.50 493.23L567.00 493.86L567.50 493.76L568.00 494.68L568.50 494.27L569.00 495.24L569.50 495.14L570.00 496.40L570.50 496.75L571.00 497.04L571.50 497.09L572.00 497.25L572.50 498.02L573.00 498.09L573.50 498.95L574.00 498.60L574.50 499.53L575.00 499.87L575.50 499.39L576.00 499.99L576.50 500.73L577.00 501.10L577.50 500.86L578.00 501.69L578.50 501.59L579.00 502.24L579.50 502.00L580.00 502.60L580.50 503.39L581.00 502.87L581.50 503.61L582.00 504.21L582.50 504.31L583.00 503.93L583.50 505.08L584.00 504.33L584.50 505.05L585.00 505.35L585.50 505.15L586.00 505.67L586.50 504.85L587.00 505.94L587.50 506.17L588.00 506.35L588.50 506.61L589.00 507.12L589.50 507.26L590.00 506.92L590.50 507.56L591.00 507.99L591.50 507.82L592.00 508.01L592.50 507.47L593.00 507.96L593.50 508.72L594.00 508.32L594.50 509.32L595.00 509.58L595.50 509.04L596.00 509.18L596.50 509.55L597.00 509.97L597.50 510.44L598.00 510.36L598.50 510.60L599.00 510.47L599.50 510.89L600.00 510.61L600.50 511.15L601.00 511.12L601.50 510.48L602.00 511.03L602.50 510.62L603.00 511.38L603.50 510.87L604.00 511.73L604.50 511.69L605.00 512.10L605.50 511.63L606.00 511.60L606.50 512.06L607.00 511.67L607.50 512.08L608.00 512.21L608.50 512.51L609.00 512.13L609.50 512.27L610.00 512.39L610.50 513.46L611.00 513.15L611.50 513.53L612.00 513.32L612.50 513.22L613.00 513.73L613.50 512.74L614.00 513.42L614.50 513.17L615.00 513.26L615.50 513.14L616.00 513.31L616.50 513.59L617.00 514.42L617.50 513.93L618.00 513.98L618.50 514.02L619.00 514.37L619.50 514.59L620.00 514.33L620.50 514.50L621.00 514.76L621.50 514.42L622.00 514.89L622.50 515.35L623.00 514.66L623.50 514.62L624.00 514.52L624.50 515.08L625.00 515.30L625.50 515.13L626.00 515.23L626.50 515.68L627.00 515.54L627.50 515.95L628.00 515.61L628.50 516.24L629.00 516.07L629.50 515.85L630.00 515.94L630.50 516.97L631.00 515.95L631.50 516.13L632.00 515.79L632.50 516.73L633.00 516.56L633.50 516.64L634.00 516.34L634.50 516.89L635.00 516.63L635.50 516.38L636.00 516.70L636.50 517.04L637.00 517.01L637.50 516.91L638.00 517.36L638.50 517.30L639.00 517.01L639.50 517.24L640.00 517.29L640.50 517.68L641.00 517.71L641.50 517.82L642.00 517.44L642.50 518.20L643.00 518.38L643.50 518.04L644.00 518.69L644.50 518.35L645.00 518.05L645.50 518.25L646.00 517.79L646.50 518.74L647.00 518.12L647.50 518.98L648.00 518.14L648.50 518.35L649.00 518.73L649.50 518.53L650.00 517.94L650.50 518.42L651.00 517.81L651.50 518.55L652.00 518.09L652.50 518.39L653.00 518.55L653.50 518.24L654.00 518.74L654.50 519.17L655.00 518.50L655.50 518.72L656.00 519.12" fill="none" stroke="#2f8f3a" stroke-width="1.10" stroke-linejoin="round"/>
<path d="M394.50 515.99L395.00 515.58L395.50 516.45L396.00 516.86L396.50 516.03L397.00 516.23L397.50 516.11L398.00 515.83L398.50 515.66L399.00 515.53L399.50 515.15L400.00 514.61L400.50 514.55L401.00 515.07L401.50 514.95L402.00 514.72L402.50 513.91L403.00 514.52L403.50 514.53L404.00 514.06L404.50 513.99L405.00 514.93L405.50 514.70L406.00 514.42L406.50 514.17L407.00 513.75L407.50 513.83L408.00 514.01L408.50 513.48L409.00 513.60L409.50 514.06L410.00 512.95L410.50 513.09L411.00 513.80L411.50 513.34L412.00 513.25L412.50 512.87L413.00 512.63L413.50 513.48L414.00 512.20L414.50 513.33L415.00 512.90L415.50 513.00L416.00 512.32L416.50 513.23L417.00 513.15L417.50 513.06L418.00 513.11L418.50 512.51L419.00 512.91L419.50 512.91L420.00 512.63L420.50 511.54L421.00 512.31L421.50 512.23L422.00 511.61L422.50 511.83L423.00 512.09L423.50 511.57L424.00 511.93L424.50 511.11L425.00 510.86L425.50 510.96L426.00 510.61L426.50 510.41L427.00 511.02L427.50 510.82L428.00 510.89L428.50 510.48L429.00 510.61L429.50 510.76L430.00 510.37L430.50 510.46L431.00 510.36L431.50 509.89L432.00 510.17L432.50 509.67L433.00 510.25L433.50 510.71L434.00 509.85L434.50 509.38L435.00 508.85L435.50 508.95L436.00 509.02L436.50 508.73L437.00 509.19L437.50 508.99L438.00 509.06L438.50 508.67L439.00 509.00L439.50 509.07L440.00 508.14L440.50 508.40L441.00 508.42L441.50 508.24L442.00 508.57L442.50 508.03L443.00 507.75L443.50 507.51L444.00 507.44L444.50 507.68L445.00 507.83L445.50 507.34L446.00 506.99L446.50 507.11L447.00 506.72L447.50 507.25L448.00 506.72L448.50 506.98L449.00 506.73L449.50 506.50L450.00 505.72L450.50 506.01L451.00 505.69L451.50 505.48L452.00 505.64L452.50 505.92L453.00 505.50L453.50 505.85L454.00 505.28L454.50 504.51L455.00 504.74L455.50 505.43L456.00 504.73L456.50 504.27L457.00 503.97L457.50 504.24L458.00 504.22L458.50 503.78L459.00 503.78L459.50 503.69L460.00 503.25L460.50 503.30L461.00 503.08L461.50 502.95L462.00 502.86L462.50 502.49L463.00 502.24L463.50 503.03L464.00 502.32L464.50 502.31L465.00 501.75L465.50 501.82L466.00 501.63L466.50 501.68L467.00 501.49L467.50 500.48L468.00 501.05L468.50 500.19L469.00 500.37L469.50 499.68L470.00 499.72L470.50 499.37L471.00 498.61L471.50 498.98L472.00 498.50L472.50 498.13L473.00 498.03L473.50 497.80L474.00 498.19L474.50 496.71L475.00 496.65L475.50 496.12L476.00 496.47L476.50 495.62L477.00 495.14L477.50 495.26L478.00 494.70L478.50 494.65L479.00 493.58L479.50 493.53L480.00 493.36L480.50 492.45L481.00 492.71L481.50 491.91L482.00 491.35L482.50 490.95L483.00 490.75L483.50 490.52L484.00 489.61L484.50 489.48L485.00 488.77L485.50 488.12L486.00 487.50L486.50 487.59L487.00 486.89L487.50 486.70L488.00 486.71L488.50 486.02L489.00 484.90L489.50 484.40L490.00 484.18L490.50 482.88L491.00 483.15L491.50 482.09L492.00 481.94L492.50 480.76L493.00 480.19L493.50 479.90L494.00 479.13L494.50 478.69L495.00 477.10L495.50 476.21L496.00 476.04L496.50 475.14L497.00 473.71L497.50 472.99L498.00 472.47L498.50 471.35L499.00 470.11L499.50 469.73L500.00 468.82L500.50 468.26L501.00 467.32L501.50 466.36L502.00 464.91L502.50 463.82L503.00 462.97L503.50 462.32L504.00 461.14L504.50 459.30L505.00 458.95L505.50 458.03L506.00 457.11L506.50 455.66L507.00 454.59L507.50 453.33L508.00 451.92L508.50 450.65L509.00 449.48L509.50 447.97L510.00 447.30L510.50 446.40L511.00 444.97L511.50 444.40L512.00 442.57L512.50 441.79L513.00 440.17L513.50 439.55L514.00 438.51L514.50 437.52L515.00 436.63L515.50 435.87L516.00 435.24L516.50 434.25L517.00 432.75L517.50 432.73L518.00 432.28L518.50 430.70L519.00 431.24L519.50 430.24L520.00 430.15L520.50 429.37L521.00 429.24L521.50 428.56L522.00 428.55L522.50 427.98L523.00 428.13L523.50 427.91L524.00 427.69L524.50 427.53L525.00 427.39L525.50 427.63L526.00 427.76L526.50 427.67L527.00 428.15L527.50 427.60L528.00 428.02L528.50 427.87L529.00 428.49L529.50 428.93L530.00 428.70L530.50 429.94L531.00 429.51L531.50 430.50L532.00 431.06L532.50 431.36L533.00 432.83L533.50 433.06L534.00 433.42L534.50 434.79L535.00 435.42L535.50 436.00L536.00 436.81L536.50 438.19L537.00 439.13L537.50 439.22L538.00 440.56L538.50 440.34L539.00 441.09L539.50 442.59L540.00 443.33L540.50 444.51L541.00 445.91L541.50 445.99L542.00 447.65L542.50 448.70L543.00 449.20L543.50 450.54L544.00 451.27L544.50 452.70L545.00 454.18L545.50 455.14L546.00 456.12L546.50 457.00L547.00 457.79L547.50 459.68L548.00 460.10L548.50 461.31L549.00 462.45L549.50 463.03L550.00 464.12L550.50 464.89L551.00 466.12L551.50 467.26L552.00 467.55L552.50 468.94L553.00 469.59L553.50 470.62L554.00 471.60L554.50 472.96L555.00 472.70L555.50 474.78L556.00 474.93L556.50 475.81L557.00 476.62L557.50 477.73L558.00 478.62L558.50 478.72L559.00 479.59L559.50 481.24L560.00 481.79L560.50 481.92L561.00 483.10L561.50 483.85L562.00 484.95L562.50 484.69L563.00 485.29L563.50 486.02L564.00 486.69L564.50 487.28L565.00 487.97L565.50 488.78L566.00 488.69L566.50 489.76L567.00 489.67L567.50 490.33L568.00 490.78L568.50 491.59L569.00 490.97L569.50 492.61L570.00 491.90L570.50 492.97L571.00 493.25L571.50 493.67L572.00 494.42L572.50 493.85L573.00 494.45L573.50 495.70L574.00 496.32L574.50 495.80L575.00 496.44L575.50 497.33L576.00 497.65L576.50 497.53L577.00 498.34L577.50 498.53L578.00 498.67L578.50 499.31L579.00 499.50L579.50 499.77L580.00 501.02L580.50 500.51L581.00 500.51L581.50 501.80L582.00 501.31L582.50 501.58L583.00 501.17L583.50 501.82L584.00 502.99L584.50 502.35L585.00 502.68L585.50 503.24L586.00 503.75L586.50 504.65L587.00 503.90L587.50 504.20L588.00 505.35L588.50 505.28L589.00 505.55L589.50 506.07L590.00 505.88L590.50 506.49L591.00 506.82L591.50 507.21L592.00 507.18L592.50 506.99L593.00 507.07L593.50 507.40L594.00 507.55L594.50 508.16L595.00 507.65L595.50 508.54L596.00 508.41L596.50 508.75L597.00 509.41L597.50 509.29L598.00 508.70L598.50 509.09L599.00 509.44L599.50 509.28L600.00 509.72L600.50 510.02L601.00 509.69L601.50 510.16L602.00 510.68L602.50 510.32L603.00 509.94L603.50 510.79L604.00 510.36L604.50 510.28L605.00 510.56L605.50 510.94L606.00 510.61L606.50 511.07L607.00 511.30L607.50 511.64L608.00 511.44L608.50 511.23L609.00 511.65L609.50 511.74L610.00 511.79L610.50 512.20L611.00 512.01L611.50 511.58L612.00 512.27L612.50 512.48L613.00 511.69L613.50 512.50L614.00 512.67L614.50 512.49L615.00 512.44L615.50 512.27L616.00 512.71L616.50 512.64L617.00 512.46L617.50 513.19L618.00 513.21L618.50 512.92L619.00 513.78L619.50 513.40L620.00 513.45L620.50 513.67L621.00 513.74L621.50 513.72L622.00 513.81L622.50 513.46L623.00 513.57L623.50 514.21L624.00 514.84L624.50 514.25L625.00 513.54L625.50 514.55L626.00 514.18L626.50 514.33L627.00 514.78L627.50 514.84L628.00 514.93L628.50 514.67L629.00 514.80L629.50 515.10L630.00 515.46L630.50 515.57L631.00 515.71L631.50 515.73L632.00 515.53L632.50 515.99L633.00 516.03L633.50 515.73L634.00 516.55L634.50 516.40L635.00 515.93L635.50 516.09L636.00 516.42L636.50 516.45L637.00 516.44L637.50 516.40L638.00 517.00L638.50 516.55L639.00 516.30L639.50 516.82L640.00 516.41L640.50 516.39L641.00 516.35L641.50 516.64L642.00 516.52L642.50 516.62L643.00 516.49L643.50 516.52L644.00 515.95L644.50 516.18L645.00 516.29L645.50 516.28L646.00 516.10L646.50 516.31L647.00 516.53L647.50 516.34L648.00 516.40L648.50 517.05L649.00 516.52L649.50 516.45L650.00 516.86L650.50 516.83L651.00 516.37L651.50 517.04L652.00 515.70L652.50 516.69L653.00 516.70L653.50 516.83L654.00 516.63L654.50 515.78L655.00 516.07L655.50 516.63L656.00 516.00" fill="none" stroke="#6cc04a" stroke-width="1.10" stroke-linejoin="round"/>
</g>
<rect x="394.0" y="405.8" width="262.6" height="145.2" fill="none" stroke="#333" stroke-width="1.3"/>
<path d="M394.0 526.8h3.5M656.6 526.8h-3.5M394.0 502.6h3.5M656.6 502.6h-3.5M394.0 478.4h3.5M656.6 478.4h-3.5M394.0 454.2h3.5M656.6 454.2h-3.5M394.0 430.0h3.5M656.6 430.0h-3.5M525.3 551.0v-3.5M525.3 405.8v3.5" stroke="#333" stroke-width="1"/>
<text x="390.6" y="554.8" font-size="10.20" text-anchor="end" fill="#222" stroke="#222" stroke-width="0.2" letter-spacing="0.5">0.5</text>
<text x="390.6" y="530.6" font-size="10.20" text-anchor="end" fill="#222" stroke="#222" stroke-width="0.2" letter-spacing="0.5">1.0</text>
<text x="390.6" y="506.4" font-size="10.20" text-anchor="end" fill="#222" stroke="#222" stroke-width="0.2" letter-spacing="0.5">1.5</text>
<text x="390.6" y="482.2" font-size="10.20" text-anchor="end" fill="#222" stroke="#222" stroke-width="0.2" letter-spacing="0.5">2.0</text>
<text x="390.6" y="458.0" font-size="10.20" text-anchor="end" fill="#222" stroke="#222" stroke-width="0.2" letter-spacing="0.5">2.5</text>
<text x="390.6" y="433.8" font-size="10.20" text-anchor="end" fill="#222" stroke="#222" stroke-width="0.2" letter-spacing="0.5">3.0</text>
<text x="390.6" y="409.6" font-size="10.20" text-anchor="end" fill="#222" stroke="#222" stroke-width="0.2" letter-spacing="0.5">3.5</text>
<text x="394.2" y="563.0" font-size="10.00" fill="#222" stroke="#222" stroke-width="0.2" letter-spacing="0.5">-10.0</text>
<text x="525.5" y="563.0" font-size="10.00" text-anchor="middle" fill="#222" stroke="#222" stroke-width="0.2" letter-spacing="0.5">center</text>
<text x="657.6" y="563.0" font-size="10.00" text-anchor="end" fill="#222" stroke="#222" stroke-width="0.2" letter-spacing="0.5">10.0Kb</text>
<text x="404.4" y="425.4" font-size="12.15" fill="#111" stroke="#111" stroke-width="0.2">H3K27me3</text>
<path d="M556.8 416.6H569" stroke="#e2302f" stroke-width="1.3"/>
<text x="574.1" y="419.9" font-size="9.00" fill="#111" stroke="#111" stroke-width="0.2">WT-1</text>
<path d="M556.8 428.5H569" stroke="#f5a3a0" stroke-width="1.3"/>
<text x="574.1" y="431.8" font-size="9.00" fill="#111" stroke="#111" stroke-width="0.2">WT-2</text>
<path d="M556.8 440.3H569" stroke="#2f8f3a" stroke-width="1.3"/>
<text x="574.1" y="443.6" font-size="9.00" fill="#111" stroke="#111" stroke-width="0.2">D5-1</text>
<path d="M556.8 451.8H569" stroke="#6cc04a" stroke-width="1.3"/>
<text x="574.1" y="455.1" font-size="9.00" fill="#111" stroke="#111" stroke-width="0.2">D5-2</text>
<text x="41.5" y="633.2" font-size="11.60" fill="#111" stroke="#111" stroke-width="0.2">Chr18: 11,041,888-11,086,330</text>
<text x="35.3" y="646.2" font-size="13.70" text-anchor="end" fill="#111" stroke="#111" stroke-width="0.2">72.4</text>
<text x="35.3" y="695.4" font-size="13.70" text-anchor="end" fill="#111" stroke="#111" stroke-width="0.2">0</text>
<path d="M47.8 639.0H42.3V689.1H47.8" fill="none" stroke="#000" stroke-width="1.9"/>
<text x="49.6" y="647.9" font-size="12.00" fill="#111" stroke="#111" stroke-width="0.2">MTF2</text>
<text x="283.8" y="646.6" font-size="11.70" fill="#111" stroke="#111" stroke-width="0.2">5 kb</text>
<path d="M281 652.0H308.8" stroke="#000" stroke-width="1.7"/>
<path d="M58.80 688.84L59.40 688.48L60.00 688.61L60.60 688.74L61.20 688.57L61.80 688.58L62.40 688.79L63.00 689.01L63.60 688.98L64.20 688.77L64.80 688.42L65.40 688.80L66.00 688.54L66.60 688.55L67.20 688.54L67.80 688.56L68.40 688.69L69.00 688.77L69.60 688.67L70.20 688.62L70.80 688.47L71.40 688.81L72.00 688.95L72.60 688.69L73.20 688.70L73.80 689.15L74.40 688.74L75.00 688.69L75.60 688.48L76.20 688.98L76.80 688.98L77.40 688.64L78.00 688.75L78.60 688.61L79.20 688.69L79.80 688.87L80.40 688.74L81.00 688.60L81.60 688.56L82.20 688.80L82.80 688.70L83.40 688.49L84.00 688.84L84.60 688.47L85.20 688.53L85.80 688.66L86.40 688.63L87.00 688.54L87.60 688.48L88.20 688.52L88.80 688.34L89.40 688.59L90.00 688.81L90.60 688.34L91.20 688.47L91.80 687.86L92.40 687.41L93.00 687.31L93.60 686.79L94.20 686.30L94.80 685.89L95.40 685.36L96.00 684.69L96.60 683.84L97.20 683.39L97.80 684.23L98.40 685.32L99.00 686.01L99.60 686.04L100.20 686.35L100.80 686.57L101.40 686.57L102.00 686.01L102.60 686.65L103.20 686.51L103.80 686.21L104.40 686.76L105.00 686.18L105.60 686.27L106.20 686.01L106.80 685.87L107.40 685.27L108.00 684.68L108.60 684.02L109.20 683.89L109.80 683.90L110.40 684.02L111.00 685.02L111.60 684.70L112.20 685.17L112.80 685.10L113.40 685.24L114.00 685.32L114.60 685.24L115.20 684.69L115.80 684.34L116.40 684.05L117.00 683.91L117.60 683.37L118.20 682.96L118.80 682.51L119.40 681.97L120.00 681.70L120.60 680.85L121.20 680.04L121.80 680.33L122.40 680.96L123.00 681.57L123.60 681.86L124.20 681.50L124.80 680.83L125.40 680.29L126.00 679.11L126.60 678.49L127.20 677.66L127.80 676.25L128.40 674.93L129.00 673.83L129.60 672.89L130.20 671.57L130.80 670.70L131.40 669.81L132.00 669.42L132.60 669.85L133.20 670.75L133.80 672.07L134.40 674.11L135.00 676.08L135.60 678.27L136.20 680.34L136.80 681.65L137.40 682.56L138.00 683.65L138.60 684.47L139.20 685.52L139.80 685.82L140.40 686.36L141.00 686.75L141.60 686.74L142.20 687.30L142.80 687.07L143.40 687.35L144.00 687.28L144.60 687.81L145.20 687.78L145.80 687.76L146.40 688.09L147.00 687.88L147.60 688.37L148.20 688.13L148.80 688.63L149.40 688.02L150.00 688.36L150.60 688.07L151.20 687.88L151.80 688.00L152.40 688.00L153.00 687.74L153.60 688.07L154.20 688.12L154.80 687.98L155.40 687.80L156.00 688.15L156.60 687.59L157.20 688.03L157.80 687.64L158.40 687.63L159.00 687.95L159.60 688.18L160.20 688.68L160.80 688.70L161.40 688.57L162.00 688.80L162.60 688.56L163.20 688.44L163.80 688.37L164.40 688.41L165.00 688.57L165.60 688.60L166.20 688.81L166.80 688.38L167.40 688.66L168.00 688.55L168.60 688.48L169.20 688.48L169.80 687.92L170.40 688.19L171.00 688.44L171.60 688.68L172.20 688.94L172.80 689.17L173.40 688.51L174.00 688.51L174.60 688.62L175.20 688.29L175.80 688.72L176.40 688.53L177.00 688.51L177.60 688.73L178.20 688.84L178.80 688.62L179.40 688.46L180.00 688.79L180.60 688.71L181.20 688.61L181.80 688.74L182.40 688.95L183.00 688.86L183.60 688.70L184.20 688.82L184.80 688.85L185.40 689.02L186.00 688.91L186.60 688.41L187.20 688.41L187.80 688.37L188.40 688.70L189.00 688.55L189.60 688.73L190.20 688.55L190.80 688.72L191.40 688.68L192.00 688.70L192.60 689.17L193.20 689.03L193.80 688.81L194.40 688.72L195.00 688.77L195.60 688.63L196.20 688.82L196.80 688.57L197.40 688.89L198.00 688.81L198.60 688.78L199.20 688.79L199.80 688.82L200.40 688.66L201.00 688.87L201.60 688.67L202.20 688.84L202.80 688.61L203.40 688.59L204.00 688.94L204.60 688.68L205.20 688.68L205.80 688.80L206.40 688.74L207.00 688.42L207.60 688.94L208.20 688.83L208.80 688.49L209.40 689.03L210.00 688.46L210.60 688.75L211.20 689.20L211.80 688.81L212.40 688.58L213.00 688.72L213.60 688.78L214.20 688.14L214.80 688.62L215.40 688.67L216.00 688.87L216.60 688.72L217.20 688.59L217.80 688.62L218.40 689.16L219.00 688.82L219.60 689.12L220.20 689.04L220.80 688.71L221.40 688.97L222.00 688.82L222.60 688.89L223.20 688.82L223.80 688.68L224.40 689.13L225.00 689.03L225.60 689.01L226.20 689.15L226.80 689.01L227.40 689.02L228.00 689.02L228.60 688.72L229.20 689.15L229.80 689.02L230.40 688.90L231.00 688.64L231.60 689.08L232.20 688.79L232.80 688.88L233.40 688.77L234.00 688.92L234.60 688.73L235.20 688.71L235.80 689.00L236.40 689.04L237.00 688.77L237.60 688.55L238.20 688.74L238.80 688.73L239.40 688.59L240.00 688.53L240.60 689.00L241.20 688.70L241.80 688.52L242.40 688.74L243.00 688.41L243.60 688.38L244.20 688.46L244.80 688.71L245.40 688.93L246.00 688.72L246.60 689.01L247.20 688.58L247.80 688.49L248.40 689.02L249.00 688.97L249.60 688.80L250.20 688.80L250.80 688.63L251.40 688.99L252.00 688.60L252.60 688.89L253.20 688.75L253.80 688.63L254.40 688.54L255.00 688.79L255.60 688.75L256.20 688.58L256.80 688.55L257.40 688.57L258.00 688.51L258.60 688.98L259.20 688.64L259.80 688.56L260.40 688.89L261.00 688.91L261.60 688.93L262.20 688.96L262.80 688.65L263.40 688.30L264.00 688.67L264.60 688.71L265.20 688.66L265.80 688.71L266.40 689.05L267.00 688.88L267.60 689.16L268.20 688.59L268.80 688.57L269.40 688.91L270.00 688.85L270.60 688.68L271.20 688.92L271.80 688.75L272.40 689.07L273.00 688.88L273.60 688.94L274.20 688.89L274.80 688.72L275.40 689.10L276.00 688.85L276.60 689.08L277.20 688.68L277.80 688.45L278.40 688.80L279.00 688.66L279.60 689.20L280.20 688.78L280.80 688.82L281.40 689.12L282.00 688.90L282.60 688.63L283.20 689.19L283.80 689.04L284.40 688.57L285.00 688.65L285.60 688.66L286.20 688.80L286.80 688.65L287.40 688.82L288.00 688.54L288.60 688.79L289.20 688.71L289.80 689.00L290.40 689.06L291.00 688.72L291.60 689.12L292.20 688.68L292.80 688.47L293.40 688.77L294.00 688.76L294.60 688.87L295.20 688.89L295.80 688.55L296.40 688.71L297.00 688.97L297.60 688.91L298.20 688.63L298.80 688.48L299.40 688.94L300.00 688.75L300.60 688.72L301.20 688.67L301.80 688.45L302.40 688.60L303.00 688.49L303.60 688.69L304.20 688.72L304.80 688.65L305.40 688.17L306.00 688.73L306.60 689.00L307.20 688.80L307.80 689.07L308.40 688.59" fill="none" stroke="#f5a35a" stroke-width="1.00" stroke-linejoin="round"/>
<path d="M58.80 688.28L59.40 688.56L60.00 688.60L60.60 688.51L61.20 688.26L61.80 689.05L62.40 688.41L63.00 688.94L63.60 688.90L64.20 689.02L64.80 689.06L65.40 688.64L66.00 688.58L66.60 688.72L67.20 688.84L67.80 688.74L68.40 688.69L69.00 688.99L69.60 688.47L70.20 688.88L70.80 688.20L71.40 688.23L72.00 688.46L72.60 688.28L73.20 688.56L73.80 688.27L74.40 688.29L75.00 688.32L75.60 688.61L76.20 688.38L76.80 688.39L77.40 688.58L78.00 688.38L78.60 688.42L79.20 688.75L79.80 688.91L80.40 688.42L81.00 688.39L81.60 688.32L82.20 688.18L82.80 688.31L83.40 688.31L84.00 688.64L84.60 687.96L85.20 688.62L85.80 687.93L86.40 688.23L87.00 688.28L87.60 688.46L88.20 688.06L88.80 687.45L89.40 687.88L90.00 687.46L90.60 687.79L91.20 687.62L91.80 687.18L92.40 686.53L93.00 686.02L93.60 685.01L94.20 684.34L94.80 681.29L95.40 678.67L96.00 676.49L96.60 674.48L97.20 674.18L97.80 675.83L98.40 678.78L99.00 680.62L99.60 682.82L100.20 684.07L100.80 684.93L101.40 684.68L102.00 684.63L102.60 684.55L103.20 684.78L103.80 684.57L104.40 684.24L105.00 684.01L105.60 683.79L106.20 683.32L106.80 682.86L107.40 681.97L108.00 681.10L108.60 679.80L109.20 678.16L109.80 677.29L110.40 678.38L111.00 680.00L111.60 680.26L112.20 680.33L112.80 679.84L113.40 678.92L114.00 678.57L114.60 678.57L115.20 679.48L115.80 680.00L116.40 679.38L117.00 679.92L117.60 678.56L118.20 677.69L118.80 676.44L119.40 675.60L120.00 674.31L120.60 673.89L121.20 672.18L121.80 670.55L122.40 670.29L123.00 670.49L123.60 670.90L124.20 670.61L124.80 670.88L125.40 670.90L126.00 671.08L126.60 671.64L127.20 671.89L127.80 669.13L128.40 663.52L129.00 658.08L129.60 653.86L130.20 649.72L130.80 647.43L131.40 646.19L132.00 647.01L132.60 648.37L133.20 649.95L133.80 652.81L134.40 657.97L135.00 664.64L135.60 669.83L136.20 674.27L136.80 677.61L137.40 679.66L138.00 681.41L138.60 682.18L139.20 683.13L139.80 684.12L140.40 684.27L141.00 685.16L141.60 686.04L142.20 686.25L142.80 686.33L143.40 686.61L144.00 686.66L144.60 686.34L145.20 686.39L145.80 686.51L146.40 686.64L147.00 686.79L147.60 686.83L148.20 686.71L148.80 686.91L149.40 686.96L150.00 687.31L150.60 686.75L151.20 686.58L151.80 686.59L152.40 686.73L153.00 686.80L153.60 686.68L154.20 686.37L154.80 685.03L155.40 684.58L156.00 684.17L156.60 683.68L157.20 684.17L157.80 684.85L158.40 686.35L159.00 687.08L159.60 687.78L160.20 687.80L160.80 687.53L161.40 688.23L162.00 687.97L162.60 688.15L163.20 688.34L163.80 688.19L164.40 688.51L165.00 688.21L165.60 688.64L166.20 688.15L166.80 688.28L167.40 688.41L168.00 688.76L168.60 688.87L169.20 688.77L169.80 688.70L170.40 688.38L171.00 688.75L171.60 688.20L172.20 688.90L172.80 688.63L173.40 688.88L174.00 688.94L174.60 688.37L175.20 688.62L175.80 688.69L176.40 688.68L177.00 688.85L177.60 688.73L178.20 688.47L178.80 688.51L179.40 688.64L180.00 688.43L180.60 688.82L181.20 688.34L181.80 688.91L182.40 689.05L183.00 689.06L183.60 688.82L184.20 688.71L184.80 688.73L185.40 688.64L186.00 688.92L186.60 688.53L187.20 688.54L187.80 688.78L188.40 688.67L189.00 688.69L189.60 688.81L190.20 688.74L190.80 689.01L191.40 688.98L192.00 688.91L192.60 688.82L193.20 688.87L193.80 688.53L194.40 688.13L195.00 688.28L195.60 687.67L196.20 688.23L196.80 688.13L197.40 688.14L198.00 688.18L198.60 688.43L199.20 688.32L199.80 688.26L200.40 688.48L201.00 688.54L201.60 688.83L202.20 688.51L202.80 688.36L203.40 688.35L204.00 688.45L204.60 688.31L205.20 688.84L205.80 688.98L206.40 689.07L207.00 688.61L207.60 688.99L208.20 688.91L208.80 688.94L209.40 688.69L210.00 689.19L210.60 688.95L211.20 688.63L211.80 688.02L212.40 687.81L213.00 688.46L213.60 688.60L214.20 688.18L214.80 688.70L215.40 688.74L216.00 688.40L216.60 688.49L217.20 688.49L217.80 688.38L218.40 688.88L219.00 688.36L219.60 688.33L220.20 688.47L220.80 688.63L221.40 688.50L222.00 688.34L222.60 688.74L223.20 688.60L223.80 688.42L224.40 688.91L225.00 688.91L225.60 688.88L226.20 688.76L226.80 689.12L227.40 688.75L228.00 688.57L228.60 688.43L229.20 688.58L229.80 688.26L230.40 688.50L231.00 688.48L231.60 688.45L232.20 688.44L232.80 688.27L233.40 688.52L234.00 688.37L234.60 688.38L235.20 688.37L235.80 688.79L236.40 688.97L237.00 688.46L237.60 688.19L238.20 688.32L238.80 688.21L239.40 688.59L240.00 688.64L240.60 688.64L241.20 688.92L241.80 688.72L242.40 688.96L243.00 688.77L243.60 688.66L244.20 688.94L244.80 688.85L245.40 689.01L246.00 688.64L246.60 688.81L247.20 688.84L247.80 688.55L248.40 688.81L249.00 688.40L249.60 688.36L250.20 688.42L250.80 688.04L251.40 688.14L252.00 688.39L252.60 688.63L253.20 688.73L253.80 688.68L254.40 688.93L255.00 688.59L255.60 688.44L256.20 688.51L256.80 688.40L257.40 688.63L258.00 688.51L258.60 688.46L259.20 688.48L259.80 688.41L260.40 688.52L261.00 688.82L261.60 688.81L262.20 688.91L262.80 689.04L263.40 688.55L264.00 688.79L264.60 688.50L265.20 688.69L265.80 688.60L266.40 688.34L267.00 688.29L267.60 688.52L268.20 688.44L268.80 688.42L269.40 688.34L270.00 688.26L270.60 688.19L271.20 688.49L271.80 688.29L272.40 688.32L273.00 688.37L273.60 688.19L274.20 688.32L274.80 688.55L275.40 688.86L276.00 688.81L276.60 688.90L277.20 689.10L277.80 689.20L278.40 688.82L279.00 689.20L279.60 688.96L280.20 689.03L280.80 688.92L281.40 688.69L282.00 689.04L282.60 688.50L283.20 688.50L283.80 688.46L284.40 688.66L285.00 688.27L285.60 688.18L286.20 688.11L286.80 688.18L287.40 687.93L288.00 688.05L288.60 687.73L289.20 688.59L289.80 688.18L290.40 688.25L291.00 688.19L291.60 688.50L292.20 688.13L292.80 688.63L293.40 688.32L294.00 688.36L294.60 688.58L295.20 688.38L295.80 688.86L296.40 689.20L297.00 689.20L297.60 688.95L298.20 689.06L298.80 688.66L299.40 689.20L300.00 688.93L300.60 688.67L301.20 688.63L301.80 688.44L302.40 688.18L303.00 688.62L303.60 688.27L304.20 688.52L304.80 688.26L305.40 688.68L306.00 688.40L306.60 688.41L307.20 688.63L307.80 688.37L308.40 688.49" fill="none" stroke="#9a5ad8" stroke-width="1.00" stroke-linejoin="round"/>
<rect x="315" y="658.3" width="9.2" height="9.2" fill="#f7b27a"/><rect x="315" y="670.6" width="9.2" height="9.2" fill="#a66ad6"/>
<text x="329.2" y="666.6" font-size="9.60" fill="#111" stroke="#111" stroke-width="0.2">WT</text>
<text x="329.2" y="679.0" font-size="9.60" fill="#111" stroke="#111" stroke-width="0.2">D5</text>
<text x="35.3" y="709.5" font-size="13.70" text-anchor="end" fill="#111" stroke="#111" stroke-width="0.2">12.7</text>
<text x="35.3" y="758.7" font-size="13.70" text-anchor="end" fill="#111" stroke="#111" stroke-width="0.2">0</text>
<path d="M47.8 702.7H42.3V752.4H47.8" fill="none" stroke="#000" stroke-width="1.9"/>
<text x="49.6" y="711.4" font-size="12.20" fill="#111" stroke="#111" stroke-width="0.2">H3K27me3</text>
<path d="M58.8 750.2L59.4 750.1L60.0 749.4L60.6 750.4L61.2 750.1L61.8 749.5L62.4 749.0L63.0 748.8L63.6 748.9L64.2 748.1L64.8 748.3L65.4 748.7L66.0 748.5L66.6 749.3L67.2 748.8L67.8 749.4L68.4 748.5L69.0 748.8L69.6 749.1L70.2 749.0L70.8 749.3L71.4 749.5L72.0 748.8L72.6 749.3L73.2 748.4L73.8 747.4L74.4 748.0L75.0 747.2L75.6 746.9L76.2 747.0L76.8 748.4L77.4 747.2L78.0 746.0L78.6 746.0L79.2 746.1L79.8 745.4L80.4 745.5L81.0 745.6L81.6 744.2L82.2 744.2L82.8 743.8L83.4 743.8L84.0 742.9L84.6 740.3L85.2 740.3L85.8 738.8L86.4 738.1L87.0 737.3L87.6 736.6L88.2 735.3L88.8 734.4L89.4 731.4L90.0 731.1L90.6 731.2L91.2 731.7L91.8 732.0L92.4 733.5L93.0 734.2L93.6 734.1L94.2 733.9L94.8 734.5L95.4 734.3L96.0 735.4L96.6 736.4L97.2 735.8L97.8 734.5L98.4 734.1L99.0 734.2L99.6 734.3L100.2 734.1L100.8 733.7L101.4 734.8L102.0 734.7L102.6 733.1L103.2 731.9L103.8 730.4L104.4 730.7L105.0 730.1L105.6 731.3L106.2 732.0L106.8 733.5L107.4 732.9L108.0 733.9L108.6 733.3L109.2 732.9L109.8 732.7L110.4 733.2L111.0 732.5L111.6 732.5L112.2 733.1L112.8 733.1L113.4 733.6L114.0 733.6L114.6 733.8L115.2 735.2L115.8 735.2L116.4 736.1L117.0 737.6L117.6 739.2L118.2 740.4L118.8 740.3L119.4 738.9L120.0 737.2L120.6 735.2L121.2 733.3L121.8 731.6L122.4 730.5L123.0 729.7L123.6 727.7L124.2 726.1L124.8 726.6L125.4 726.9L126.0 727.0L126.6 728.1L127.2 729.7L127.8 730.0L128.4 731.2L129.0 733.8L129.6 737.4L130.2 740.2L130.8 742.5L131.4 742.0L132.0 740.1L132.6 736.6L133.2 735.0L133.8 735.5L134.4 733.1L135.0 733.8L135.6 732.6L136.2 732.2L136.8 732.1L137.4 732.4L138.0 732.3L138.6 732.4L139.2 733.4L139.8 733.1L140.4 733.1L141.0 733.5L141.6 731.5L142.2 729.6L142.8 731.0L143.4 730.2L144.0 730.6L144.6 732.3L145.2 733.0L145.8 733.5L146.4 735.7L147.0 736.7L147.6 734.8L148.2 735.2L148.8 735.2L149.4 736.1L150.0 736.3L150.6 736.7L151.2 736.4L151.8 738.0L152.4 738.7L153.0 739.7L153.6 739.3L154.2 739.0L154.8 739.8L155.4 741.2L156.0 742.1L156.6 743.2L157.2 744.5L157.8 743.8L158.4 743.0L159.0 742.5L159.6 742.5L160.2 742.5L160.8 742.7L161.4 742.0L162.0 741.1L162.6 740.2L163.2 740.9L163.8 740.1L164.4 739.8L165.0 739.0L165.6 739.4L166.2 739.2L166.8 739.8L167.4 740.4L168.0 742.2L168.6 742.7L169.2 743.2L169.8 743.5L170.4 743.8L171.0 744.5L171.6 745.1L172.2 744.9L172.8 745.5L173.4 746.7L174.0 746.9L174.6 747.5L175.2 747.1L175.8 746.3L176.4 746.9L177.0 746.0L177.6 746.2L178.2 746.5L178.8 745.3L179.4 746.2L180.0 742.9L180.6 742.8L181.2 743.7L181.8 744.3L182.4 746.3L183.0 747.0L183.6 747.8L184.2 748.0L184.8 748.9L185.4 749.2L186.0 748.7L186.6 749.0L187.2 748.9L187.8 749.1L188.4 748.9L189.0 748.2L189.6 748.8L190.2 747.6L190.8 748.3L191.4 747.9L192.0 748.3L192.6 747.7L193.2 748.4L193.8 748.3L194.4 747.7L195.0 748.3L195.6 748.3L196.2 748.0L196.8 746.9L197.4 747.6L198.0 747.1L198.6 747.0L199.2 747.9L199.8 747.3L200.4 748.0L201.0 747.8L201.6 748.8L202.2 748.0L202.8 748.5L203.4 749.1L204.0 749.2L204.6 749.2L205.2 749.9L205.8 748.8L206.4 749.2L207.0 749.6L207.6 749.1L208.2 748.1L208.8 748.8L209.4 748.1L210.0 748.7L210.6 750.0L211.2 749.7L211.8 749.6L212.4 749.8L213.0 750.0L213.6 749.4L214.2 749.6L214.8 750.2L215.4 750.0L216.0 749.6L216.6 750.8L217.2 749.6L217.8 750.4L218.4 750.2L219.0 751.0L219.6 749.4L220.2 749.7L220.8 749.1L221.4 749.6L222.0 748.2L222.6 748.9L223.2 749.1L223.8 749.0L224.4 749.0L225.0 749.7L225.6 748.5L226.2 748.5L226.8 748.7L227.4 748.8L228.0 749.5L228.6 749.3L229.2 750.3L229.8 749.2L230.4 750.4L231.0 749.6L231.6 749.9L232.2 750.8L232.8 750.3L233.4 750.0L234.0 750.4L234.6 750.2L235.2 750.0L235.8 751.1L236.4 749.9L237.0 748.5L237.6 749.7L238.2 749.0L238.8 748.8L239.4 749.9L240.0 749.5L240.6 749.9L241.2 748.1L241.8 748.2L242.4 749.0L243.0 749.1L243.6 749.7L244.2 750.2L244.8 749.7L245.4 750.1L246.0 749.5L246.6 748.4L247.2 749.2L247.8 749.7L248.4 749.2L249.0 749.5L249.6 749.3L250.2 749.7L250.8 748.3L251.4 748.4L252.0 748.9L252.6 749.2L253.2 749.6L253.8 749.4L254.4 747.8L255.0 748.3L255.6 748.7L256.2 748.5L256.8 747.8L257.4 748.8L258.0 747.3L258.6 748.7L259.2 749.1L259.8 749.3L260.4 750.7L261.0 749.9L261.6 750.2L262.2 750.1L262.8 750.0L263.4 750.4L264.0 749.3L264.6 750.2L265.2 749.3L265.8 749.7L266.4 749.3L267.0 749.6L267.6 750.2L268.2 748.3L268.8 749.3L269.4 749.5L270.0 749.2L270.6 748.4L271.2 748.6L271.8 749.5L272.4 749.2L273.0 749.8L273.6 749.4L274.2 748.9L274.8 750.3L275.4 750.2L276.0 749.9L276.6 749.6L277.2 749.9L277.8 749.6L278.4 750.1L279.0 750.9L279.6 750.4L280.2 749.5L280.8 750.2L281.4 749.3L282.0 748.9L282.6 749.4L283.2 749.0L283.8 748.3L284.4 748.0L285.0 749.1L285.6 748.8L286.2 748.5L286.8 749.4L287.4 749.0L288.0 748.7L288.6 749.7L289.2 749.7L289.8 748.8L290.4 748.8L291.0 749.0L291.6 748.8L292.2 748.3L292.8 748.4L293.4 748.5L294.0 749.4L294.6 748.5L295.2 747.9L295.8 748.1L296.4 748.1L297.0 748.6L297.6 749.3L298.2 749.7L298.8 749.3L299.4 749.6L300.0 750.3L300.6 750.6L301.2 749.5L301.8 749.3L302.4 750.1L303.0 749.8L303.6 749.8L304.2 749.8L304.8 749.8L305.4 749.1L306.0 749.3L306.6 750.0L307.2 749.3L307.8 749.9L308.4 749.8L309.0 749.5L309.0 750.6L308.4 751.3L307.8 751.3L307.2 751.1L306.6 751.0L306.0 750.7L305.4 750.5L304.8 751.3L304.2 750.9L303.6 751.2L303.0 751.0L302.4 751.0L301.8 751.2L301.2 751.1L300.6 751.4L300.0 751.5L299.4 750.5L298.8 751.1L298.2 750.7L297.6 750.3L297.0 750.1L296.4 749.7L295.8 750.1L295.2 750.1L294.6 749.7L294.0 750.3L293.4 749.5L292.8 750.0L292.2 749.5L291.6 750.0L291.0 750.9L290.4 749.8L289.8 750.3L289.2 751.1L288.6 750.7L288.0 750.5L287.4 750.0L286.8 750.6L286.2 749.6L285.6 750.5L285.0 750.5L284.4 750.0L283.8 749.5L283.2 750.0L282.6 750.5L282.0 749.8L281.4 750.6L280.8 751.7L280.2 751.1L279.6 751.7L279.0 751.8L278.4 751.4L277.8 751.1L277.2 751.5L276.6 750.5L276.0 750.9L275.4 751.1L274.8 751.3L274.2 750.0L273.6 750.7L273.0 750.8L272.4 750.6L271.8 750.8L271.2 749.8L270.6 750.7L270.0 750.3L269.4 750.8L268.8 750.3L268.2 750.2L267.6 751.2L267.0 750.7L266.4 750.3L265.8 750.8L265.2 750.3L264.6 751.3L264.0 751.1L263.4 751.8L262.8 750.9L262.2 751.6L261.6 751.2L261.0 751.8L260.4 751.7L259.8 750.3L259.2 750.6L258.6 750.1L258.0 748.9L257.4 750.3L256.8 750.3L256.2 750.1L255.6 749.8L255.0 749.4L254.4 749.6L253.8 750.9L253.2 751.2L252.6 750.3L252.0 750.0L251.4 750.1L250.8 750.1L250.2 750.7L249.6 750.4L249.0 750.8L248.4 751.3L247.8 750.6L247.2 750.1L246.6 749.8L246.0 750.5L245.4 751.1L244.8 750.7L244.2 752.0L243.6 750.8L243.0 750.2L242.4 750.4L241.8 749.6L241.2 749.6L240.6 751.1L240.0 751.5L239.4 750.7L238.8 750.0L238.2 750.5L237.6 750.7L237.0 750.1L236.4 751.1L235.8 752.0L235.2 751.0L234.6 751.6L234.0 751.6L233.4 750.8L232.8 752.0L232.2 751.8L231.6 751.1L231.0 751.3L230.4 751.2L229.8 750.1L229.2 751.5L228.6 750.7L228.0 750.5L227.4 749.8L226.8 750.2L226.2 749.5L225.6 749.9L225.0 751.0L224.4 750.9L223.8 750.3L223.2 750.4L222.6 749.9L222.0 750.8L221.4 751.1L220.8 750.0L220.2 751.1L219.6 751.3L219.0 751.8L218.4 751.1L217.8 751.4L217.2 751.5L216.6 751.7L216.0 751.2L215.4 750.8L214.8 751.0L214.2 750.8L213.6 750.5L213.0 751.0L212.4 751.3L211.8 750.7L211.2 750.8L210.6 750.9L210.0 750.2L209.4 749.5L208.8 750.3L208.2 749.9L207.6 750.1L207.0 750.6L206.4 751.0L205.8 750.7L205.2 750.9L204.6 750.1L204.0 750.7L203.4 750.3L202.8 750.1L202.2 750.1L201.6 750.3L201.0 748.8L200.4 749.2L199.8 748.9L199.2 749.1L198.6 749.0L198.0 748.4L197.4 749.6L196.8 749.2L196.2 749.7L195.6 749.9L195.0 749.8L194.4 749.1L193.8 750.2L193.2 749.7L192.6 749.5L192.0 749.4L191.4 749.2L190.8 749.5L190.2 749.6L189.6 749.9L189.0 749.5L188.4 749.9L187.8 750.2L187.2 750.3L186.6 750.8L186.0 749.9L185.4 750.3L184.8 750.3L184.2 749.8L183.6 748.8L183.0 748.4L182.4 747.6L181.8 746.2L181.2 745.4L180.6 744.7L180.0 744.7L179.4 747.9L178.8 747.0L178.2 748.0L177.6 748.0L177.0 747.5L176.4 748.1L175.8 748.2L175.2 748.5L174.6 748.6L174.0 748.5L173.4 747.9L172.8 747.4L172.2 746.4L171.6 746.8L171.0 746.0L170.4 745.5L169.8 745.6L169.2 744.9L168.6 744.3L168.0 743.9L167.4 742.5L166.8 741.9L166.2 742.0L165.6 741.9L165.0 741.6L164.4 742.5L163.8 742.2L163.2 743.3L162.6 743.2L162.0 743.4L161.4 744.2L160.8 744.9L160.2 745.2L159.6 744.3L159.0 744.9L158.4 744.7L157.8 745.5L157.2 746.1L156.6 745.1L156.0 744.8L155.4 743.5L154.8 741.9L154.2 741.5L153.6 741.4L153.0 742.0L152.4 740.9L151.8 740.2L151.2 739.1L150.6 739.1L150.0 738.6L149.4 738.7L148.8 738.4L148.2 738.5L147.6 737.7L147.0 739.9L146.4 738.2L145.8 737.3L145.2 736.8L144.6 736.2L144.0 734.5L143.4 733.6L142.8 734.5L142.2 732.9L141.6 734.5L141.0 736.5L140.4 736.8L139.8 736.2L139.2 736.4L138.6 735.6L138.0 736.1L137.4 735.2L136.8 736.0L136.2 735.7L135.6 735.8L135.0 736.4L134.4 736.1L133.8 738.1L133.2 738.0L132.6 740.2L132.0 742.0L131.4 745.2L130.8 745.6L130.2 743.1L129.6 740.1L129.0 736.7L128.4 734.1L127.8 733.4L127.2 733.3L126.6 731.6L126.0 730.6L125.4 730.8L124.8 730.4L124.2 730.3L123.6 731.1L123.0 733.0L122.4 733.6L121.8 735.0L121.2 736.6L120.6 737.8L120.0 739.7L119.4 741.0L118.8 742.8L118.2 742.8L117.6 741.3L117.0 740.3L116.4 739.0L115.8 737.9L115.2 738.1L114.6 737.4L114.0 736.7L113.4 736.5L112.8 736.1L112.2 736.1L111.6 735.6L111.0 735.5L110.4 736.2L109.8 736.0L109.2 735.8L108.6 736.5L108.0 737.1L107.4 736.1L106.8 736.9L106.2 735.2L105.6 734.4L105.0 733.6L104.4 733.7L103.8 733.9L103.2 735.4L102.6 736.4L102.0 737.9L101.4 737.4L100.8 736.6L100.2 736.7L99.6 737.6L99.0 737.3L98.4 736.8L97.8 738.1L97.2 738.6L96.6 738.9L96.0 738.1L95.4 737.6L94.8 737.5L94.2 737.1L93.6 737.5L93.0 736.9L92.4 737.0L91.8 736.0L91.2 734.6L90.6 734.2L90.0 734.7L89.4 734.8L88.8 737.1L88.2 738.4L87.6 739.5L87.0 740.0L86.4 740.6L85.8 741.2L85.2 742.4L84.6 742.6L84.0 745.3L83.4 745.3L82.8 746.1L82.2 745.8L81.6 746.2L81.0 746.9L80.4 747.7L79.8 747.8L79.2 747.7L78.6 748.5L78.0 747.8L77.4 748.8L76.8 749.7L76.2 748.3L75.6 749.0L75.0 748.7L74.4 749.2L73.8 748.6L73.2 749.5L72.6 750.5L72.0 750.0L71.4 750.6L70.8 750.9L70.2 750.6L69.6 750.4L69.0 750.7L68.4 750.6L67.8 750.5L67.2 750.5L66.6 750.3L66.0 749.9L65.4 750.0L64.8 750.2L64.2 749.7L63.6 750.1L63.0 750.6L62.4 750.9L61.8 750.5L61.2 751.0L60.6 751.2L60.0 751.2L59.4 751.1L58.8 751.6Z" fill="#f8c6c2"/>
<path d="M58.80 750.89L59.40 750.56L60.00 750.32L60.60 750.76L61.20 750.53L61.80 749.99L62.40 749.96L63.00 749.68L63.60 749.51L64.20 748.93L64.80 749.23L65.40 749.35L66.00 749.19L66.60 749.83L67.20 749.64L67.80 749.95L68.40 749.54L69.00 749.77L69.60 749.77L70.20 749.80L70.80 750.13L71.40 750.04L72.00 749.39L72.60 749.93L73.20 748.91L73.80 748.02L74.40 748.58L75.00 747.94L75.60 747.95L76.20 747.64L76.80 749.03L77.40 748.04L78.00 746.90L78.60 747.25L79.20 746.94L79.80 746.57L80.40 746.57L81.00 746.25L81.60 745.20L82.20 744.98L82.80 744.99L83.40 744.54L84.00 744.10L84.60 741.47L85.20 741.32L85.80 740.00L86.40 739.37L87.00 738.64L87.60 738.05L88.20 736.88L88.80 735.76L89.40 733.12L90.00 732.87L90.60 732.71L91.20 733.16L91.80 734.00L92.40 735.25L93.00 735.55L93.60 735.78L94.20 735.46L94.80 735.99L95.40 735.95L96.00 736.77L96.60 737.66L97.20 737.19L97.80 736.30L98.40 735.48L99.00 735.71L99.60 735.95L100.20 735.38L100.80 735.15L101.40 736.11L102.00 736.31L102.60 734.73L103.20 733.61L103.80 732.16L104.40 732.21L105.00 731.83L105.60 732.86L106.20 733.62L106.80 735.21L107.40 734.49L108.00 735.51L108.60 734.87L109.20 734.37L109.80 734.38L110.40 734.69L111.00 734.01L111.60 734.05L112.20 734.58L112.80 734.57L113.40 735.07L114.00 735.15L114.60 735.61L115.20 736.65L115.80 736.56L116.40 737.52L117.00 738.96L117.60 740.27L118.20 741.60L118.80 741.56L119.40 739.95L120.00 738.45L120.60 736.49L121.20 734.94L121.80 733.30L122.40 732.05L123.00 731.33L123.60 729.41L124.20 728.16L124.80 728.48L125.40 728.83L126.00 728.81L126.60 729.80L127.20 731.49L127.80 731.69L128.40 732.67L129.00 735.23L129.60 738.77L130.20 741.62L130.80 744.06L131.40 743.56L132.00 741.03L132.60 738.38L133.20 736.51L133.80 736.82L134.40 734.64L135.00 735.12L135.60 734.18L136.20 733.95L136.80 734.05L137.40 733.80L138.00 734.18L138.60 734.01L139.20 734.91L139.80 734.66L140.40 734.96L141.00 734.97L141.60 732.98L142.20 731.27L142.80 732.76L143.40 731.90L144.00 732.58L144.60 734.21L145.20 734.91L145.80 735.38L146.40 736.96L147.00 738.28L147.60 736.24L148.20 736.88L148.80 736.80L149.40 737.38L150.00 737.44L150.60 737.91L151.20 737.76L151.80 739.12L152.40 739.80L153.00 740.88L153.60 740.37L154.20 740.23L154.80 740.85L155.40 742.35L156.00 743.44L156.60 744.15L157.20 745.31L157.80 744.69L158.40 743.85L159.00 743.66L159.60 743.42L160.20 743.83L160.80 743.80L161.40 743.10L162.00 742.29L162.60 741.71L163.20 742.13L163.80 741.16L164.40 741.13L165.00 740.25L165.60 740.67L166.20 740.61L166.80 740.89L167.40 741.42L168.00 743.08L168.60 743.52L169.20 744.04L169.80 744.57L170.40 744.68L171.00 745.27L171.60 745.94L172.20 745.69L172.80 746.42L173.40 747.29L174.00 747.71L174.60 748.05L175.20 747.79L175.80 747.27L176.40 747.51L177.00 746.76L177.60 747.12L178.20 747.23L178.80 746.18L179.40 747.03L180.00 743.81L180.60 743.74L181.20 744.58L181.80 745.23L182.40 746.97L183.00 747.72L183.60 748.32L184.20 748.88L184.80 749.59L185.40 749.75L186.00 749.26L186.60 749.93L187.20 749.63L187.80 749.64L188.40 749.38L189.00 748.85L189.60 749.35L190.20 748.63L190.80 748.90L191.40 748.55L192.00 748.81L192.60 748.56L193.20 749.00L193.80 749.24L194.40 748.38L195.00 749.01L195.60 749.07L196.20 748.85L196.80 748.02L197.40 748.62L198.00 747.74L198.60 747.98L199.20 748.46L199.80 748.07L200.40 748.61L201.00 748.30L201.60 749.53L202.20 749.01L202.80 749.30L203.40 749.72L204.00 749.94L204.60 749.68L205.20 750.42L205.80 749.73L206.40 750.09L207.00 750.08L207.60 749.63L208.20 748.97L208.80 749.55L209.40 748.82L210.00 749.43L210.60 750.43L211.20 750.24L211.80 750.13L212.40 750.52L213.00 750.50L213.60 749.96L214.20 750.21L214.80 750.62L215.40 750.42L216.00 750.39L216.60 751.27L217.20 750.59L217.80 750.93L218.40 750.65L219.00 751.40L219.60 750.39L220.20 750.40L220.80 749.54L221.40 750.38L222.00 749.46L222.60 749.41L223.20 749.78L223.80 749.67L224.40 749.97L225.00 750.36L225.60 749.19L226.20 749.00L226.80 749.42L227.40 749.30L228.00 749.98L228.60 749.98L229.20 750.91L229.80 749.62L230.40 750.81L231.00 750.45L231.60 750.47L232.20 751.29L232.80 751.20L233.40 750.42L234.00 751.00L234.60 750.91L235.20 750.48L235.80 751.65L236.40 750.49L237.00 749.29L237.60 750.22L238.20 749.79L238.80 749.36L239.40 750.29L240.00 750.48L240.60 750.53L241.20 748.83L241.80 748.92L242.40 749.74L243.00 749.61L243.60 750.22L244.20 751.20L244.80 750.22L245.40 750.58L246.00 750.01L246.60 749.10L247.20 749.65L247.80 750.17L248.40 750.26L249.00 750.15L249.60 749.86L250.20 750.19L250.80 749.20L251.40 749.24L252.00 749.46L252.60 749.73L253.20 750.40L253.80 750.16L254.40 748.73L255.00 748.83L255.60 749.25L256.20 749.28L256.80 749.08L257.40 749.53L258.00 748.13L258.60 749.41L259.20 749.89L259.80 749.81L260.40 751.19L261.00 750.84L261.60 750.71L262.20 750.84L262.80 750.44L263.40 751.09L264.00 750.22L264.60 750.76L265.20 749.85L265.80 750.25L266.40 749.82L267.00 750.14L267.60 750.73L268.20 749.25L268.80 749.81L269.40 750.11L270.00 749.77L270.60 749.56L271.20 749.20L271.80 750.11L272.40 749.88L273.00 750.31L273.60 750.05L274.20 749.48L274.80 750.83L275.40 750.66L276.00 750.40L276.60 750.03L277.20 750.69L277.80 750.37L278.40 750.74L279.00 751.34L279.60 751.05L280.20 750.32L280.80 750.94L281.40 749.96L282.00 749.34L282.60 749.95L283.20 749.48L283.80 748.91L284.40 749.04L285.00 749.81L285.60 749.67L286.20 749.06L286.80 750.02L287.40 749.48L288.00 749.58L288.60 750.16L289.20 750.44L289.80 749.55L290.40 749.29L291.00 749.97L291.60 749.41L292.20 748.92L292.80 749.19L293.40 749.01L294.00 749.87L294.60 749.12L295.20 749.00L295.80 749.09L296.40 748.90L297.00 749.32L297.60 749.81L298.20 750.24L298.80 750.18L299.40 750.03L300.00 750.90L300.60 751.00L301.20 750.29L301.80 750.24L302.40 750.53L303.00 750.44L303.60 750.50L304.20 750.31L304.80 750.51L305.40 749.78L306.00 750.01L306.60 750.50L307.20 750.19L307.80 750.63L308.40 750.56L309.00 750.01" fill="none" stroke="#f08c84" stroke-width="0.90" stroke-linejoin="round"/>
<path d="M58.8 749.9L59.4 749.4L60.0 748.7L60.6 749.7L61.2 748.5L61.8 749.7L62.4 748.1L63.0 747.2L63.6 746.8L64.2 746.1L64.8 746.7L65.4 746.1L66.0 748.4L66.6 748.5L67.2 749.2L67.8 749.9L68.4 749.5L69.0 749.9L69.6 750.3L70.2 751.5L70.8 749.3L71.4 749.5L72.0 748.2L72.6 747.1L73.2 746.7L73.8 746.9L74.4 747.3L75.0 746.2L75.6 745.3L76.2 745.2L76.8 745.5L77.4 744.1L78.0 744.6L78.6 743.4L79.2 743.4L79.8 744.0L80.4 743.2L81.0 743.3L81.6 741.7L82.2 740.0L82.8 739.2L83.4 737.6L84.0 737.1L84.6 735.6L85.2 734.3L85.8 733.3L86.4 731.6L87.0 730.3L87.6 729.1L88.2 727.9L88.8 726.1L89.4 724.2L90.0 723.1L90.6 722.9L91.2 721.2L91.8 721.0L92.4 719.1L93.0 720.3L93.6 719.0L94.2 718.8L94.8 719.1L95.4 717.7L96.0 718.4L96.6 718.8L97.2 717.4L97.8 716.8L98.4 715.1L99.0 713.9L99.6 716.0L100.2 719.8L100.8 719.4L101.4 718.9L102.0 718.0L102.6 716.8L103.2 714.5L103.8 713.4L104.4 714.5L105.0 719.7L105.6 721.2L106.2 722.4L106.8 723.1L107.4 723.0L108.0 721.4L108.6 718.7L109.2 717.2L109.8 717.4L110.4 716.4L111.0 715.0L111.6 714.8L112.2 715.1L112.8 716.2L113.4 717.6L114.0 719.5L114.6 722.5L115.2 724.1L115.8 725.7L116.4 728.3L117.0 729.0L117.6 732.5L118.2 735.4L118.8 737.8L119.4 738.0L120.0 737.7L120.6 734.7L121.2 732.0L121.8 728.9L122.4 725.9L123.0 721.4L123.6 719.9L124.2 717.5L124.8 716.3L125.4 715.1L126.0 714.8L126.6 714.0L127.2 713.4L127.8 715.2L128.4 719.4L129.0 722.7L129.6 728.4L130.2 734.0L130.8 736.2L131.4 733.8L132.0 726.9L132.6 719.3L133.2 718.7L133.8 717.8L134.4 717.4L135.0 717.4L135.6 716.5L136.2 714.8L136.8 714.1L137.4 713.0L138.0 711.6L138.6 709.9L139.2 708.7L139.8 708.5L140.4 710.8L141.0 712.7L141.6 715.0L142.2 715.2L142.8 714.3L143.4 714.9L144.0 717.3L144.6 719.6L145.2 720.5L145.8 721.6L146.4 722.4L147.0 721.7L147.6 723.2L148.2 723.1L148.8 721.0L149.4 721.5L150.0 723.0L150.6 723.5L151.2 725.2L151.8 725.0L152.4 727.1L153.0 728.6L153.6 728.3L154.2 729.9L154.8 730.0L155.4 731.6L156.0 732.4L156.6 733.8L157.2 734.2L157.8 735.4L158.4 735.8L159.0 735.4L159.6 734.6L160.2 734.6L160.8 733.0L161.4 731.6L162.0 730.5L162.6 730.2L163.2 731.7L163.8 733.8L164.4 733.7L165.0 734.4L165.6 734.7L166.2 734.1L166.8 734.1L167.4 732.1L168.0 732.0L168.6 732.7L169.2 734.1L169.8 736.7L170.4 737.1L171.0 738.3L171.6 739.7L172.2 741.0L172.8 742.2L173.4 742.6L174.0 742.8L174.6 743.3L175.2 743.5L175.8 743.6L176.4 742.7L177.0 742.9L177.6 742.7L178.2 741.9L178.8 741.9L179.4 741.0L180.0 742.6L180.6 743.2L181.2 744.6L181.8 745.6L182.4 745.5L183.0 746.7L183.6 748.3L184.2 749.3L184.8 749.1L185.4 750.6L186.0 750.7L186.6 750.3L187.2 750.0L187.8 749.5L188.4 749.4L189.0 749.1L189.6 749.1L190.2 749.3L190.8 749.5L191.4 749.4L192.0 749.6L192.6 749.1L193.2 748.7L193.8 748.1L194.4 748.6L195.0 748.0L195.6 749.3L196.2 749.1L196.8 749.3L197.4 749.3L198.0 748.4L198.6 747.2L199.2 747.8L199.8 747.8L200.4 748.2L201.0 747.9L201.6 748.9L202.2 748.2L202.8 749.0L203.4 748.4L204.0 748.2L204.6 748.6L205.2 749.3L205.8 749.6L206.4 750.3L207.0 749.6L207.6 749.5L208.2 749.0L208.8 749.3L209.4 749.7L210.0 749.0L210.6 750.8L211.2 750.5L211.8 749.8L212.4 749.4L213.0 749.2L213.6 749.2L214.2 748.9L214.8 750.0L215.4 750.0L216.0 749.4L216.6 749.6L217.2 749.9L217.8 749.7L218.4 750.0L219.0 749.0L219.6 749.0L220.2 750.0L220.8 750.2L221.4 750.7L222.0 749.4L222.6 749.0L223.2 748.7L223.8 749.0L224.4 750.0L225.0 749.2L225.6 749.3L226.2 749.1L226.8 749.1L227.4 750.1L228.0 749.0L228.6 748.5L229.2 749.5L229.8 749.8L230.4 749.5L231.0 750.0L231.6 749.8L232.2 749.7L232.8 750.0L233.4 750.8L234.0 749.7L234.6 749.2L235.2 750.0L235.8 749.4L236.4 749.5L237.0 750.0L237.6 750.5L238.2 750.3L238.8 749.9L239.4 750.1L240.0 750.1L240.6 749.8L241.2 749.6L241.8 748.6L242.4 750.8L243.0 749.1L243.6 749.0L244.2 749.3L244.8 749.5L245.4 749.0L246.0 749.0L246.6 749.4L247.2 749.5L247.8 749.1L248.4 748.8L249.0 749.2L249.6 749.9L250.2 750.4L250.8 749.6L251.4 749.8L252.0 748.2L252.6 747.8L253.2 748.6L253.8 748.6L254.4 748.4L255.0 749.3L255.6 747.8L256.2 747.3L256.8 747.1L257.4 747.8L258.0 747.8L258.6 749.4L259.2 748.0L259.8 749.5L260.4 750.9L261.0 750.0L261.6 750.2L262.2 750.3L262.8 750.0L263.4 750.2L264.0 749.6L264.6 748.5L265.2 749.4L265.8 748.9L266.4 748.6L267.0 749.1L267.6 748.3L268.2 749.6L268.8 750.0L269.4 750.4L270.0 749.5L270.6 749.6L271.2 750.2L271.8 750.4L272.4 749.8L273.0 750.1L273.6 750.8L274.2 750.4L274.8 750.1L275.4 749.5L276.0 749.9L276.6 749.4L277.2 749.8L277.8 749.6L278.4 750.5L279.0 751.7L279.6 751.4L280.2 750.8L280.8 750.0L281.4 749.8L282.0 749.9L282.6 749.6L283.2 750.5L283.8 749.1L284.4 749.5L285.0 750.2L285.6 749.0L286.2 750.4L286.8 748.6L287.4 749.4L288.0 749.3L288.6 749.7L289.2 748.3L289.8 748.7L290.4 749.4L291.0 750.0L291.6 749.2L292.2 749.7L292.8 748.7L293.4 748.6L294.0 748.9L294.6 749.4L295.2 749.6L295.8 749.7L296.4 748.6L297.0 748.9L297.6 749.0L298.2 749.3L298.8 749.4L299.4 748.1L300.0 749.6L300.6 748.8L301.2 748.6L301.8 749.3L302.4 750.0L303.0 749.0L303.6 749.7L304.2 749.1L304.8 748.3L305.4 748.2L306.0 748.9L306.6 747.7L307.2 747.6L307.8 747.7L308.4 747.7L309.0 748.3L309.0 749.5L308.4 749.5L307.8 749.0L307.2 748.7L306.6 749.0L306.0 750.0L305.4 749.7L304.8 749.3L304.2 750.9L303.6 751.3L303.0 751.2L302.4 751.6L301.8 750.2L301.2 750.5L300.6 750.5L300.0 750.5L299.4 750.2L298.8 750.4L298.2 750.4L297.6 750.6L297.0 750.6L296.4 750.9L295.8 751.4L295.2 751.0L294.6 750.6L294.0 750.2L293.4 750.3L292.8 750.2L292.2 750.6L291.6 750.4L291.0 750.9L290.4 750.4L289.8 750.2L289.2 749.3L288.6 750.9L288.0 750.7L287.4 751.1L286.8 750.5L286.2 751.2L285.6 750.1L285.0 751.4L284.4 750.8L283.8 750.2L283.2 751.4L282.6 750.5L282.0 751.2L281.4 750.8L280.8 750.9L280.2 751.6L279.6 752.0L279.0 752.0L278.4 751.5L277.8 750.9L277.2 751.1L276.6 750.3L276.0 751.2L275.4 751.6L274.8 751.0L274.2 751.1L273.6 752.0L273.0 751.2L272.4 751.0L271.8 751.5L271.2 751.3L270.6 750.7L270.0 750.8L269.4 751.5L268.8 751.5L268.2 750.6L267.6 750.0L267.0 750.5L266.4 749.7L265.8 750.6L265.2 750.6L264.6 749.8L264.0 750.7L263.4 751.3L262.8 751.2L262.2 751.5L261.6 751.2L261.0 751.3L260.4 751.7L259.8 750.9L259.2 750.3L258.6 751.2L258.0 749.0L257.4 749.2L256.8 748.8L256.2 749.0L255.6 749.4L255.0 750.3L254.4 749.6L253.8 750.3L253.2 749.7L252.6 749.3L252.0 749.9L251.4 751.2L250.8 750.8L250.2 751.6L249.6 751.1L249.0 750.4L248.4 750.1L247.8 750.4L247.2 751.0L246.6 751.3L246.0 750.2L245.4 750.8L244.8 751.2L244.2 750.2L243.6 750.2L243.0 750.1L242.4 752.0L241.8 749.6L241.2 750.6L240.6 750.7L240.0 751.3L239.4 751.1L238.8 751.0L238.2 751.4L237.6 751.7L237.0 750.8L236.4 750.4L235.8 750.5L235.2 751.1L234.6 750.5L234.0 751.4L233.4 751.6L232.8 752.0L232.2 751.3L231.6 751.8L231.0 752.0L230.4 751.8L229.8 750.8L229.2 751.0L228.6 750.0L228.0 750.4L227.4 751.2L226.8 750.8L226.2 750.6L225.6 751.2L225.0 751.0L224.4 751.8L223.8 750.0L223.2 750.8L222.6 750.2L222.0 750.5L221.4 751.5L220.8 751.4L220.2 750.8L219.6 750.8L219.0 750.8L218.4 750.8L217.8 750.9L217.2 751.0L216.6 750.4L216.0 750.6L215.4 751.3L214.8 750.8L214.2 750.2L213.6 751.5L213.0 750.2L212.4 751.1L211.8 751.6L211.2 751.9L210.6 752.0L210.0 750.8L209.4 751.1L208.8 750.3L208.2 750.7L207.6 751.2L207.0 750.6L206.4 751.2L205.8 751.2L205.2 751.1L204.6 750.6L204.0 750.0L203.4 750.2L202.8 750.1L202.2 750.3L201.6 750.2L201.0 749.3L200.4 749.9L199.8 749.0L199.2 749.4L198.6 749.5L198.0 749.5L197.4 750.7L196.8 750.7L196.2 750.5L195.6 750.6L195.0 749.4L194.4 749.9L193.8 749.4L193.2 749.8L192.6 750.0L192.0 751.3L191.4 751.1L190.8 751.0L190.2 751.6L189.6 750.5L189.0 750.2L188.4 750.3L187.8 751.0L187.2 750.9L186.6 752.0L186.0 752.0L185.4 751.9L184.8 750.6L184.2 750.2L183.6 749.3L183.0 748.3L182.4 747.3L181.8 747.1L181.2 746.1L180.6 745.4L180.0 744.4L179.4 743.4L178.8 743.8L178.2 744.3L177.6 744.4L177.0 745.3L176.4 744.5L175.8 745.3L175.2 745.2L174.6 745.0L174.0 745.4L173.4 744.7L172.8 744.3L172.2 743.4L171.6 741.9L171.0 741.4L170.4 740.6L169.8 739.3L169.2 737.0L168.6 735.9L168.0 735.2L167.4 735.3L166.8 737.3L166.2 737.3L165.6 737.4L165.0 738.3L164.4 736.4L163.8 737.3L163.2 735.1L162.6 733.8L162.0 734.3L161.4 734.7L160.8 736.0L160.2 737.2L159.6 737.2L159.0 738.2L158.4 739.1L157.8 737.9L157.2 737.4L156.6 737.4L156.0 735.6L155.4 735.1L154.8 733.3L154.2 733.0L153.6 731.7L153.0 732.1L152.4 730.5L151.8 728.9L151.2 728.9L150.6 727.9L150.0 727.1L149.4 725.7L148.8 726.3L148.2 727.0L147.6 727.1L147.0 726.0L146.4 726.5L145.8 725.8L145.2 724.9L144.6 724.3L144.0 721.9L143.4 720.4L142.8 720.4L142.2 720.0L141.6 720.2L141.0 717.8L140.4 716.9L139.8 714.4L139.2 714.6L138.6 715.6L138.0 717.0L137.4 718.5L136.8 719.5L136.2 720.2L135.6 721.4L135.0 722.3L134.4 721.9L133.8 723.0L133.2 723.4L132.6 724.1L132.0 731.1L131.4 736.6L130.8 738.9L130.2 737.1L129.6 732.0L129.0 726.9L128.4 724.0L127.8 720.7L127.2 718.4L126.6 719.7L126.0 719.7L125.4 720.6L124.8 721.1L124.2 722.4L123.6 724.3L123.0 726.1L122.4 729.8L121.8 733.2L121.2 735.4L120.6 737.9L120.0 739.9L119.4 740.2L118.8 740.1L118.2 738.0L117.6 735.8L117.0 733.4L116.4 731.6L115.8 729.5L115.2 728.1L114.6 726.6L114.0 724.3L113.4 722.0L112.8 721.1L112.2 720.2L111.6 719.7L111.0 719.9L110.4 721.1L109.8 721.9L109.2 722.4L108.6 724.4L108.0 725.6L107.4 727.4L106.8 727.3L106.2 727.1L105.6 725.7L105.0 724.2L104.4 719.7L103.8 718.7L103.2 719.4L102.6 721.7L102.0 722.6L101.4 724.1L100.8 724.1L100.2 724.0L99.6 722.0L99.0 719.1L98.4 720.6L97.8 721.7L97.2 722.3L96.6 723.4L96.0 723.3L95.4 722.7L94.8 723.6L94.2 723.4L93.6 723.6L93.0 724.6L92.4 724.0L91.8 725.4L91.2 725.5L90.6 727.1L90.0 728.2L89.4 729.2L88.8 729.9L88.2 731.8L87.6 732.3L87.0 733.5L86.4 734.8L85.8 736.7L85.2 737.1L84.6 738.4L84.0 739.4L83.4 740.0L82.8 741.2L82.2 742.0L81.6 743.5L81.0 745.1L80.4 745.0L79.8 745.7L79.2 745.4L78.6 745.2L78.0 746.8L77.4 745.6L76.8 746.9L76.2 746.8L75.6 747.9L75.0 747.5L74.4 748.7L73.8 748.1L73.2 748.5L72.6 748.3L72.0 749.3L71.4 750.7L70.8 750.2L70.2 752.0L69.6 751.7L69.0 751.4L68.4 750.8L67.8 751.4L67.2 750.7L66.6 750.6L66.0 749.6L65.4 748.5L64.8 748.0L64.2 748.0L63.6 748.4L63.0 749.0L62.4 749.1L61.8 750.6L61.2 751.4L60.6 751.0L60.0 750.7L59.4 750.8L58.8 750.7Z" fill="#a9dca6"/>
<path d="M58.80 750.33L59.40 750.07L60.00 749.73L60.60 750.37L61.20 749.91L61.80 750.14L62.40 748.58L63.00 748.12L63.60 747.60L64.20 747.08L64.80 747.35L65.40 747.26L66.00 748.98L66.60 749.50L67.20 749.93L67.80 750.66L68.40 750.16L69.00 750.68L69.60 751.03L70.20 751.92L70.80 749.80L71.40 750.11L72.00 748.75L72.60 747.69L73.20 747.59L73.80 747.50L74.40 748.01L75.00 746.82L75.60 746.59L76.20 745.98L76.80 746.22L77.40 744.83L78.00 745.70L78.60 744.31L79.20 744.43L79.80 744.82L80.40 744.07L81.00 744.20L81.60 742.60L82.20 740.99L82.80 740.21L83.40 738.78L84.00 738.27L84.60 737.01L85.20 735.71L85.80 734.99L86.40 733.18L87.00 731.93L87.60 730.69L88.20 729.85L88.80 728.00L89.40 726.74L90.00 725.64L90.60 725.03L91.20 723.34L91.80 723.19L92.40 721.58L93.00 722.47L93.60 721.28L94.20 721.10L94.80 721.35L95.40 720.23L96.00 720.86L96.60 721.10L97.20 719.89L97.80 719.24L98.40 717.85L99.00 716.47L99.60 718.97L100.20 721.91L100.80 721.75L101.40 721.51L102.00 720.34L102.60 719.26L103.20 716.95L103.80 716.07L104.40 717.07L105.00 721.93L105.60 723.45L106.20 724.72L106.80 725.20L107.40 725.21L108.00 723.49L108.60 721.55L109.20 719.76L109.80 719.63L110.40 718.75L111.00 717.44L111.60 717.25L112.20 717.66L112.80 718.65L113.40 719.81L114.00 721.89L114.60 724.54L115.20 726.08L115.80 727.61L116.40 729.92L117.00 731.21L117.60 734.15L118.20 736.71L118.80 738.94L119.40 739.06L120.00 738.76L120.60 736.28L121.20 733.67L121.80 731.04L122.40 727.81L123.00 723.74L123.60 722.10L124.20 719.97L124.80 718.71L125.40 717.82L126.00 717.27L126.60 716.85L127.20 715.91L127.80 717.94L128.40 721.69L129.00 724.76L129.60 730.23L130.20 735.52L130.80 737.54L131.40 735.21L132.00 729.00L132.60 721.70L133.20 721.03L133.80 720.41L134.40 719.66L135.00 719.85L135.60 718.93L136.20 717.50L136.80 716.82L137.40 715.72L138.00 714.34L138.60 712.73L139.20 711.65L139.80 711.49L140.40 713.82L141.00 715.27L141.60 717.57L142.20 717.65L142.80 717.33L143.40 717.62L144.00 719.56L144.60 721.96L145.20 722.72L145.80 723.70L146.40 724.44L147.00 723.85L147.60 725.14L148.20 725.02L148.80 723.64L149.40 723.62L150.00 725.01L150.60 725.73L151.20 727.01L151.80 726.97L152.40 728.81L153.00 730.33L153.60 729.99L154.20 731.44L154.80 731.65L155.40 733.32L156.00 734.01L156.60 735.55L157.20 735.82L157.80 736.66L158.40 737.47L159.00 736.77L159.60 735.90L160.20 735.93L160.80 734.51L161.40 733.17L162.00 732.38L162.60 732.02L163.20 733.42L163.80 735.53L164.40 735.04L165.00 736.39L165.60 736.06L166.20 735.68L166.80 735.66L167.40 733.70L168.00 733.57L168.60 734.30L169.20 735.53L169.80 737.99L170.40 738.85L171.00 739.86L171.60 740.81L172.20 742.23L172.80 743.23L173.40 743.66L174.00 744.10L174.60 744.13L175.20 744.35L175.80 744.47L176.40 743.62L177.00 744.10L177.60 743.53L178.20 743.10L178.80 742.87L179.40 742.20L180.00 743.53L180.60 744.31L181.20 745.31L181.80 746.31L182.40 746.43L183.00 747.51L183.60 748.82L184.20 749.71L184.80 749.84L185.40 751.26L186.00 751.45L186.60 751.19L187.20 750.46L187.80 750.27L188.40 749.87L189.00 749.64L189.60 749.79L190.20 750.44L190.80 750.27L191.40 750.25L192.00 750.48L192.60 749.53L193.20 749.25L193.80 748.74L194.40 749.24L195.00 748.74L195.60 749.93L196.20 749.82L196.80 749.98L197.40 749.99L198.00 748.95L198.60 748.38L199.20 748.59L199.80 748.41L200.40 749.04L201.00 748.59L201.60 749.54L202.20 749.26L202.80 749.55L203.40 749.32L204.00 749.09L204.60 749.62L205.20 750.17L205.80 750.41L206.40 750.74L207.00 750.05L207.60 750.34L208.20 749.88L208.80 749.81L209.40 750.38L210.00 749.86L210.60 751.47L211.20 751.22L211.80 750.74L212.40 750.28L213.00 749.69L213.60 750.35L214.20 749.57L214.80 750.37L215.40 750.62L216.00 750.04L216.60 749.99L217.20 750.42L217.80 750.34L218.40 750.39L219.00 749.92L219.60 749.89L220.20 750.40L220.80 750.80L221.40 751.10L222.00 749.97L222.60 749.58L223.20 749.75L223.80 749.53L224.40 750.88L225.00 750.08L225.60 750.27L226.20 749.81L226.80 749.97L227.40 750.67L228.00 749.69L228.60 749.28L229.20 750.27L229.80 750.26L230.40 750.66L231.00 751.05L231.60 750.78L232.20 750.48L232.80 750.97L233.40 751.19L234.00 750.53L234.60 749.83L235.20 750.56L235.80 749.93L236.40 749.97L237.00 750.38L237.60 751.07L238.20 750.87L238.80 750.43L239.40 750.57L240.00 750.75L240.60 750.26L241.20 750.10L241.80 749.11L242.40 751.54L243.00 749.61L243.60 749.60L244.20 749.74L244.80 750.37L245.40 749.88L246.00 749.61L246.60 750.35L247.20 750.27L247.80 749.78L248.40 749.48L249.00 749.79L249.60 750.47L250.20 751.02L250.80 750.21L251.40 750.48L252.00 749.03L252.60 748.52L253.20 749.13L253.80 749.44L254.40 749.03L255.00 749.80L255.60 748.56L256.20 748.12L256.80 747.93L257.40 748.49L258.00 748.41L258.60 750.27L259.20 749.11L259.80 750.21L260.40 751.31L261.00 750.66L261.60 750.71L262.20 750.91L262.80 750.57L263.40 750.75L264.00 750.14L264.60 749.16L265.20 750.00L265.80 749.73L266.40 749.12L267.00 749.81L267.60 749.17L268.20 750.12L268.80 750.74L269.40 750.96L270.00 750.16L270.60 750.18L271.20 750.70L271.80 750.95L272.40 750.42L273.00 750.63L273.60 751.75L274.20 750.74L274.80 750.54L275.40 750.55L276.00 750.56L276.60 749.82L277.20 750.44L277.80 750.24L278.40 750.98L279.00 752.00L279.60 751.76L280.20 751.16L280.80 750.47L281.40 750.30L282.00 750.56L282.60 750.06L283.20 750.92L283.80 749.67L284.40 750.16L285.00 750.83L285.60 749.51L286.20 750.79L286.80 749.52L287.40 750.23L288.00 750.01L288.60 750.26L289.20 748.82L289.80 749.43L290.40 749.89L291.00 750.41L291.60 749.83L292.20 750.12L292.80 749.46L293.40 749.47L294.00 749.57L294.60 749.98L295.20 750.30L295.80 750.58L296.40 749.73L297.00 749.72L297.60 749.81L298.20 749.83L298.80 749.93L299.40 749.12L300.00 750.09L300.60 749.69L301.20 749.51L301.80 749.72L302.40 750.80L303.00 750.09L303.60 750.51L304.20 750.02L304.80 748.79L305.40 748.97L306.00 749.45L306.60 748.36L307.20 748.14L307.80 748.31L308.40 748.65L309.00 748.91" fill="none" stroke="#46b446" stroke-width="1.00" stroke-linejoin="round"/>
<rect x="315" y="727.6" width="9" height="8.8" fill="#ffb0aa"/><rect x="315" y="739.2" width="9" height="8.8" fill="#80cf78"/>
<text x="329.2" y="735.0" font-size="9.60" fill="#111" stroke="#111" stroke-width="0.2">WT</text>
<text x="329.2" y="746.9" font-size="9.60" fill="#111" stroke="#111" stroke-width="0.2">D5</text>
<text x="74.5" y="781.4" font-size="12.00" font-weight="bold" fill="#000" stroke="#000" stroke-width="0.2">Gata6</text>
<path d="M119.3 776.5H298M119.3 773.8v5.4M156.2 772.5v8M186.7 772.5v8" stroke="#777" stroke-width="1.2"/>
<path d="M177.7 772.5v8" stroke="#aaa" stroke-width="1"/>
<rect x="127.3" y="772" width="6.4" height="9.3" fill="#666"/><rect x="298" y="774.2" width="7" height="4.8" fill="#6a6a6a"/><path d="M298.2 772.5v8" stroke="#666" stroke-width="1"/>
<path d="M128.3 772V764.8H135" fill="none" stroke="#111" stroke-width="1.1"/><path d="M134.5 762.6L138.5 764.8L134.5 767Z" fill="#111"/>
<text x="41.5" y="816.0" font-size="11.60" fill="#111" stroke="#111" stroke-width="0.2">Chr5: 119,652,267-119,686,724</text>
<text x="35.3" y="829.0" font-size="13.70" text-anchor="end" fill="#111" stroke="#111" stroke-width="0.2">20.5</text>
<text x="35.3" y="879.2" font-size="13.70" text-anchor="end" fill="#111" stroke="#111" stroke-width="0.2">0</text>
<path d="M47.8 822.7H42.3V872.3H47.8" fill="none" stroke="#000" stroke-width="1.9"/>
<text x="49.6" y="831.7" font-size="12.00" fill="#111" stroke="#111" stroke-width="0.2">MTF2</text>
<text x="279.4" y="829.4" font-size="11.70" fill="#111" stroke="#111" stroke-width="0.2">5 kb</text>
<path d="M272.6 834.9H309" stroke="#000" stroke-width="1.7"/>
<path d="M58.80 872.10L59.40 871.83L60.00 871.99L60.60 871.60L61.20 872.20L61.80 871.25L62.40 870.65L63.00 871.09L63.60 870.80L64.20 870.36L64.80 870.15L65.40 869.89L66.00 869.92L66.60 869.86L67.20 870.04L67.80 870.39L68.40 871.01L69.00 870.19L69.60 870.99L70.20 870.22L70.80 870.36L71.40 870.88L72.00 870.78L72.60 870.13L73.20 870.22L73.80 870.08L74.40 870.40L75.00 870.86L75.60 871.02L76.20 870.02L76.80 870.28L77.40 870.66L78.00 869.94L78.60 870.36L79.20 870.74L79.80 870.46L80.40 870.39L81.00 869.99L81.60 870.22L82.20 870.13L82.80 870.29L83.40 870.36L84.00 870.38L84.60 870.44L85.20 869.96L85.80 870.14L86.40 870.19L87.00 870.19L87.60 869.98L88.20 869.48L88.80 868.95L89.40 868.32L90.00 868.07L90.60 867.27L91.20 866.49L91.80 865.99L92.40 864.62L93.00 864.12L93.60 863.58L94.20 863.59L94.80 864.44L95.40 864.62L96.00 866.12L96.60 866.20L97.20 866.27L97.80 867.32L98.40 867.05L99.00 867.48L99.60 867.47L100.20 868.09L100.80 868.36L101.40 867.90L102.00 868.41L102.60 868.32L103.20 868.21L103.80 867.96L104.40 868.05L105.00 868.94L105.60 868.90L106.20 869.08L106.80 869.79L107.40 869.65L108.00 868.89L108.60 869.53L109.20 869.25L109.80 869.79L110.40 869.82L111.00 868.99L111.60 869.47L112.20 869.35L112.80 869.31L113.40 869.05L114.00 869.30L114.60 868.76L115.20 867.81L115.80 867.97L116.40 867.83L117.00 867.77L117.60 866.82L118.20 866.01L118.80 865.36L119.40 866.05L120.00 864.93L120.60 865.37L121.20 865.88L121.80 866.64L122.40 867.12L123.00 866.55L123.60 866.64L124.20 865.46L124.80 864.64L125.40 864.21L126.00 863.84L126.60 863.77L127.20 864.75L127.80 865.55L128.40 866.00L129.00 866.20L129.60 866.33L130.20 867.18L130.80 866.72L131.40 865.58L132.00 865.87L132.60 865.51L133.20 865.00L133.80 864.69L134.40 864.40L135.00 863.69L135.60 862.87L136.20 862.16L136.80 862.04L137.40 861.68L138.00 861.25L138.60 861.69L139.20 861.81L139.80 862.22L140.40 862.66L141.00 863.00L141.60 862.81L142.20 862.47L142.80 862.27L143.40 861.37L144.00 861.26L144.60 863.70L145.20 864.31L145.80 865.09L146.40 866.65L147.00 866.56L147.60 867.65L148.20 868.06L148.80 868.52L149.40 868.89L150.00 868.92L150.60 869.08L151.20 869.98L151.80 870.30L152.40 870.36L153.00 870.66L153.60 870.62L154.20 870.49L154.80 871.13L155.40 870.16L156.00 870.70L156.60 870.46L157.20 870.62L157.80 870.78L158.40 869.96L159.00 870.15L159.60 870.53L160.20 870.41L160.80 870.42L161.40 869.96L162.00 869.32L162.60 869.70L163.20 869.78L163.80 869.84L164.40 869.28L165.00 869.15L165.60 868.64L166.20 869.23L166.80 868.91L167.40 868.25L168.00 868.67L168.60 868.41L169.20 868.87L169.80 868.40L170.40 867.95L171.00 867.76L171.60 867.06L172.20 867.15L172.80 866.47L173.40 865.55L174.00 863.55L174.60 862.08L175.20 860.52L175.80 859.41L176.40 858.94L177.00 859.18L177.60 859.89L178.20 861.18L178.80 861.78L179.40 864.21L180.00 864.60L180.60 864.85L181.20 864.60L181.80 863.80L182.40 864.06L183.00 864.34L183.60 863.87L184.20 863.84L184.80 863.96L185.40 863.65L186.00 863.31L186.60 863.68L187.20 863.30L187.80 862.93L188.40 862.95L189.00 864.51L189.60 864.30L190.20 864.58L190.80 864.84L191.40 864.90L192.00 865.52L192.60 865.86L193.20 866.33L193.80 866.31L194.40 866.97L195.00 866.92L195.60 866.58L196.20 866.62L196.80 866.60L197.40 865.43L198.00 865.24L198.60 864.43L199.20 864.48L199.80 863.88L200.40 863.81L201.00 863.39L201.60 864.04L202.20 863.95L202.80 863.58L203.40 862.70L204.00 862.34L204.60 861.99L205.20 862.23L205.80 863.45L206.40 864.20L207.00 864.46L207.60 864.82L208.20 865.21L208.80 864.56L209.40 864.70L210.00 864.89L210.60 865.46L211.20 865.48L211.80 865.51L212.40 865.62L213.00 865.54L213.60 865.17L214.20 865.61L214.80 865.43L215.40 865.81L216.00 865.68L216.60 866.43L217.20 865.91L217.80 866.27L218.40 865.91L219.00 865.86L219.60 866.48L220.20 866.74L220.80 867.23L221.40 867.96L222.00 867.43L222.60 868.16L223.20 866.88L223.80 868.12L224.40 868.00L225.00 868.31L225.60 868.55L226.20 868.41L226.80 869.04L227.40 869.19L228.00 869.30L228.60 869.79L229.20 869.58L229.80 869.88L230.40 869.12L231.00 869.55L231.60 869.49L232.20 868.88L232.80 869.90L233.40 870.40L234.00 869.80L234.60 870.89L235.20 870.28L235.80 870.30L236.40 870.70L237.00 869.94L237.60 870.51L238.20 870.66L238.80 870.56L239.40 870.85L240.00 870.22L240.60 870.48L241.20 870.08L241.80 870.43L242.40 870.53L243.00 870.44L243.60 870.15L244.20 870.75L244.80 870.36L245.40 870.10L246.00 870.59L246.60 870.30L247.20 870.83L247.80 870.52L248.40 870.70L249.00 869.78L249.60 869.55L250.20 870.41L250.80 870.86L251.40 870.09L252.00 870.09L252.60 869.92L253.20 870.37L253.80 870.27L254.40 870.17L255.00 870.04L255.60 870.13L256.20 869.86L256.80 870.05L257.40 870.19L258.00 870.27L258.60 870.19L259.20 870.03L259.80 869.37L260.40 869.10L261.00 869.03L261.60 867.82L262.20 867.16L262.80 867.31L263.40 865.94L264.00 866.40L264.60 865.68L265.20 865.19L265.80 864.93L266.40 864.27L267.00 865.03L267.60 864.98L268.20 865.54L268.80 866.78L269.40 867.24L270.00 866.91L270.60 866.61L271.20 866.41L271.80 866.64L272.40 867.06L273.00 866.68L273.60 866.48L274.20 866.55L274.80 866.53L275.40 866.27L276.00 866.40L276.60 866.42L277.20 866.00L277.80 865.22L278.40 864.73L279.00 865.31L279.60 864.93L280.20 863.86L280.80 863.05L281.40 862.17L282.00 862.45L282.60 863.07L283.20 864.25L283.80 864.72L284.40 865.63L285.00 866.50L285.60 866.43L286.20 867.74L286.80 867.75L287.40 868.40L288.00 867.87L288.60 868.88L289.20 868.48L289.80 868.91L290.40 869.12L291.00 869.56L291.60 869.78L292.20 869.85L292.80 870.33L293.40 870.36L294.00 870.46L294.60 870.45L295.20 870.17L295.80 870.20L296.40 869.82L297.00 869.64L297.60 868.88L298.20 868.48L298.80 868.54L299.40 867.89L300.00 866.60L300.60 866.00L301.20 865.89L301.80 865.70L302.40 865.57L303.00 865.20L303.60 865.03L304.20 863.95L304.80 863.27L305.40 863.62L306.00 864.10L306.60 864.38L307.20 865.30L307.80 865.16L308.40 865.84L309.00 866.38" fill="none" stroke="#f5a35a" stroke-width="1.00" stroke-linejoin="round"/>
<path d="M58.8 871.4L59.4 870.9L60.0 870.3L60.6 870.0L61.2 869.0L61.8 869.0L62.4 869.7L63.0 869.4L63.6 869.7L64.2 869.9L64.8 870.2L65.4 870.3L66.0 870.2L66.6 870.3L67.2 870.3L67.8 869.7L68.4 870.0L69.0 869.8L69.6 870.2L70.2 869.5L70.8 869.4L71.4 869.1L72.0 869.6L72.6 869.5L73.2 869.5L73.8 868.9L74.4 869.6L75.0 869.2L75.6 869.7L76.2 870.0L76.8 870.4L77.4 870.3L78.0 870.2L78.6 869.8L79.2 870.1L79.8 869.7L80.4 869.5L81.0 869.0L81.6 868.9L82.2 868.9L82.8 870.0L83.4 869.5L84.0 869.8L84.6 869.2L85.2 869.3L85.8 869.6L86.4 869.7L87.0 870.1L87.6 868.7L88.2 868.5L88.8 867.8L89.4 866.5L90.0 865.4L90.6 865.2L91.2 864.4L91.8 863.5L92.4 862.1L93.0 859.6L93.6 855.8L94.2 851.9L94.8 849.2L95.4 850.4L96.0 855.2L96.6 859.0L97.2 862.4L97.8 863.6L98.4 864.4L99.0 864.1L99.6 864.8L100.2 864.7L100.8 864.8L101.4 865.6L102.0 865.2L102.6 865.6L103.2 865.4L103.8 864.6L104.4 864.9L105.0 864.4L105.6 865.3L106.2 865.3L106.8 865.5L107.4 865.3L108.0 865.9L108.6 865.7L109.2 866.3L109.8 867.3L110.4 868.1L111.0 867.6L111.6 868.2L112.2 867.1L112.8 865.5L113.4 865.1L114.0 863.9L114.6 863.6L115.2 863.6L115.8 863.8L116.4 863.9L117.0 862.4L117.6 863.1L118.2 862.6L118.8 861.9L119.4 861.9L120.0 860.2L120.6 859.5L121.2 859.1L121.8 858.5L122.4 856.0L123.0 854.1L123.6 852.2L124.2 849.9L124.8 849.3L125.4 849.6L126.0 850.6L126.6 852.6L127.2 854.1L127.8 856.7L128.4 858.3L129.0 859.3L129.6 860.9L130.2 861.9L130.8 862.0L131.4 861.3L132.0 858.7L132.6 857.7L133.2 855.7L133.8 853.8L134.4 851.5L135.0 849.9L135.6 847.6L136.2 846.0L136.8 845.2L137.4 845.1L138.0 843.5L138.6 844.8L139.2 845.5L139.8 846.2L140.4 847.3L141.0 848.8L141.6 849.5L142.2 850.9L142.8 852.3L143.4 854.6L144.0 856.8L144.6 858.2L145.2 858.8L145.8 859.5L146.4 859.6L147.0 858.9L147.6 859.0L148.2 858.7L148.8 860.1L149.4 861.2L150.0 862.9L150.6 864.6L151.2 865.4L151.8 866.8L152.4 867.6L153.0 868.2L153.6 868.4L154.2 869.0L154.8 868.4L155.4 868.1L156.0 867.6L156.6 867.3L157.2 866.4L157.8 865.7L158.4 865.7L159.0 864.7L159.6 865.4L160.2 865.8L160.8 865.2L161.4 866.4L162.0 866.2L162.6 865.4L163.2 865.8L163.8 864.3L164.4 865.0L165.0 864.7L165.6 864.5L166.2 864.5L166.8 864.3L167.4 864.6L168.0 864.1L168.6 863.3L169.2 862.4L169.8 861.7L170.4 860.1L171.0 858.7L171.6 857.7L172.2 856.0L172.8 853.1L173.4 851.0L174.0 847.8L174.6 846.0L175.2 845.6L175.8 843.7L176.4 843.1L177.0 843.7L177.6 844.4L178.2 845.4L178.8 846.5L179.4 846.5L180.0 846.6L180.6 846.9L181.2 845.7L181.8 845.1L182.4 845.9L183.0 847.9L183.6 850.1L184.2 849.9L184.8 848.1L185.4 847.0L186.0 846.8L186.6 847.2L187.2 847.8L187.8 847.8L188.4 848.0L189.0 846.8L189.6 846.3L190.2 845.7L190.8 844.5L191.4 844.7L192.0 845.8L192.6 848.0L193.2 850.4L193.8 852.1L194.4 853.0L195.0 853.5L195.6 855.1L196.2 856.0L196.8 856.8L197.4 857.8L198.0 858.2L198.6 856.8L199.2 854.3L199.8 851.2L200.4 847.7L201.0 844.2L201.6 839.9L202.2 836.3L202.8 832.3L203.4 828.8L204.0 828.6L204.6 830.7L205.2 835.8L205.8 840.3L206.4 844.8L207.0 848.8L207.6 850.8L208.2 851.2L208.8 851.4L209.4 851.5L210.0 851.9L210.6 851.7L211.2 852.8L211.8 852.8L212.4 854.7L213.0 856.5L213.6 857.4L214.2 858.0L214.8 859.4L215.4 859.6L216.0 861.1L216.6 859.2L217.2 859.0L217.8 857.7L218.4 858.7L219.0 859.7L219.6 861.2L220.2 861.8L220.8 863.8L221.4 865.5L222.0 865.6L222.6 865.5L223.2 864.7L223.8 863.2L224.4 863.9L225.0 862.1L225.6 861.8L226.2 860.6L226.8 859.2L227.4 858.8L228.0 859.4L228.6 859.7L229.2 860.7L229.8 861.3L230.4 863.2L231.0 863.9L231.6 865.1L232.2 865.1L232.8 865.1L233.4 865.3L234.0 866.4L234.6 866.3L235.2 867.4L235.8 867.6L236.4 867.6L237.0 868.3L237.6 869.4L238.2 869.6L238.8 869.5L239.4 868.8L240.0 869.3L240.6 868.6L241.2 868.9L241.8 869.1L242.4 869.1L243.0 868.6L243.6 868.7L244.2 867.4L244.8 867.9L245.4 868.6L246.0 868.7L246.6 869.2L247.2 869.7L247.8 870.2L248.4 870.4L249.0 869.2L249.6 869.3L250.2 869.6L250.8 869.0L251.4 868.5L252.0 868.9L252.6 868.7L253.2 869.2L253.8 869.8L254.4 869.7L255.0 870.3L255.6 870.3L256.2 870.0L256.8 870.3L257.4 869.4L258.0 868.9L258.6 870.3L259.2 868.7L259.8 869.3L260.4 867.9L261.0 866.4L261.6 864.2L262.2 861.6L262.8 859.3L263.4 856.8L264.0 854.3L264.6 852.6L265.2 851.0L265.8 849.3L266.4 849.8L267.0 849.9L267.6 851.7L268.2 854.0L268.8 856.1L269.4 862.3L270.0 863.9L270.6 863.6L271.2 863.8L271.8 863.4L272.4 864.4L273.0 864.4L273.6 865.1L274.2 864.5L274.8 864.4L275.4 864.0L276.0 863.8L276.6 863.4L277.2 862.3L277.8 860.4L278.4 857.0L279.0 853.4L279.6 849.6L280.2 845.0L280.8 841.1L281.4 837.7L282.0 836.6L282.6 838.9L283.2 843.4L283.8 847.2L284.4 851.8L285.0 855.5L285.6 857.6L286.2 860.6L286.8 862.4L287.4 864.1L288.0 864.8L288.6 865.1L289.2 866.3L289.8 867.0L290.4 866.7L291.0 866.1L291.6 866.6L292.2 866.8L292.8 866.7L293.4 866.6L294.0 866.0L294.6 866.5L295.2 866.0L295.8 866.2L296.4 865.6L297.0 865.4L297.6 864.6L298.2 863.8L298.8 863.9L299.4 863.2L300.0 861.9L300.6 861.8L301.2 860.0L301.8 859.2L302.4 856.5L303.0 854.7L303.6 852.4L304.2 851.1L304.8 850.3L305.4 850.4L306.0 849.8L306.6 850.1L307.2 851.3L307.8 852.4L308.4 855.3L309.0 863.1L309.0 864.7L308.4 857.4L307.8 855.0L307.2 854.0L306.6 852.8L306.0 852.3L305.4 852.8L304.8 852.7L304.2 853.4L303.6 854.9L303.0 856.9L302.4 858.6L301.8 861.0L301.2 861.7L300.6 863.4L300.0 863.9L299.4 864.7L298.8 865.3L298.2 866.5L297.6 866.3L297.0 866.7L296.4 867.1L295.8 867.4L295.2 867.5L294.6 867.6L294.0 867.6L293.4 868.0L292.8 867.8L292.2 868.0L291.6 868.2L291.0 867.7L290.4 867.8L289.8 868.1L289.2 867.5L288.6 867.2L288.0 866.3L287.4 865.7L286.8 863.7L286.2 862.2L285.6 859.8L285.0 857.7L284.4 854.2L283.8 849.8L283.2 846.5L282.6 842.6L282.0 840.7L281.4 841.6L280.8 844.3L280.2 847.9L279.6 852.1L279.0 855.9L278.4 859.1L277.8 862.2L277.2 864.1L276.6 864.7L276.0 865.1L275.4 865.5L274.8 865.7L274.2 866.0L273.6 866.4L273.0 866.3L272.4 866.1L271.8 865.1L271.2 866.2L270.6 865.6L270.0 865.4L269.4 863.7L268.8 858.9L268.2 856.2L267.6 854.4L267.0 852.7L266.4 852.2L265.8 852.5L265.2 853.3L264.6 855.0L264.0 856.7L263.4 859.1L262.8 861.1L262.2 863.5L261.6 865.5L261.0 867.7L260.4 869.5L259.8 870.5L259.2 869.9L258.6 871.2L258.0 869.9L257.4 870.9L256.8 871.1L256.2 871.4L255.6 871.3L255.0 871.5L254.4 870.9L253.8 870.9L253.2 870.5L252.6 870.0L252.0 870.4L251.4 869.6L250.8 870.4L250.2 870.4L249.6 870.5L249.0 870.7L248.4 871.6L247.8 871.1L247.2 871.1L246.6 870.0L246.0 869.6L245.4 869.6L244.8 869.1L244.2 868.4L243.6 869.8L243.0 869.8L242.4 870.5L241.8 870.2L241.2 870.3L240.6 869.8L240.0 870.1L239.4 870.3L238.8 870.9L238.2 870.6L237.6 870.7L237.0 869.4L236.4 869.1L235.8 868.6L235.2 868.5L234.6 867.5L234.0 867.6L233.4 867.6L232.8 866.5L232.2 866.7L231.6 866.5L231.0 865.5L230.4 864.6L229.8 863.3L229.2 862.8L228.6 861.8L228.0 861.2L227.4 861.5L226.8 861.0L226.2 862.9L225.6 863.5L225.0 863.7L224.4 865.2L223.8 864.7L223.2 866.1L222.6 867.4L222.0 866.8L221.4 866.7L220.8 865.3L220.2 863.8L219.6 862.9L219.0 861.8L218.4 860.4L217.8 859.8L217.2 860.8L216.6 862.1L216.0 862.8L215.4 861.4L214.8 861.2L214.2 860.2L213.6 860.1L213.0 858.7L212.4 856.9L211.8 855.7L211.2 855.2L210.6 854.3L210.0 855.0L209.4 854.2L208.8 853.9L208.2 853.8L207.6 853.4L207.0 851.6L206.4 847.7L205.8 843.6L205.2 839.3L204.6 835.1L204.0 833.1L203.4 833.1L202.8 836.4L202.2 840.7L201.6 843.5L201.0 847.1L200.4 850.2L199.8 853.8L199.2 857.1L198.6 858.7L198.0 860.2L197.4 859.6L196.8 859.1L196.2 858.3L195.6 857.5L195.0 855.6L194.4 855.5L193.8 854.4L193.2 852.8L192.6 850.6L192.0 848.7L191.4 847.5L190.8 847.8L190.2 848.4L189.6 849.2L189.0 849.5L188.4 850.5L187.8 850.5L187.2 850.5L186.6 849.9L186.0 849.7L185.4 850.2L184.8 851.0L184.2 852.6L183.6 852.5L183.0 850.4L182.4 848.8L181.8 848.3L181.2 848.9L180.6 849.7L180.0 849.6L179.4 850.1L178.8 849.4L178.2 848.7L177.6 847.4L177.0 846.8L176.4 846.1L175.8 846.9L175.2 848.5L174.6 849.2L174.0 850.5L173.4 853.4L172.8 855.4L172.2 857.9L171.6 859.7L171.0 861.2L170.4 862.1L169.8 863.8L169.2 863.8L168.6 864.7L168.0 865.7L167.4 865.9L166.8 865.9L166.2 865.9L165.6 865.7L165.0 865.9L164.4 866.3L163.8 866.6L163.2 867.2L162.6 867.0L162.0 867.9L161.4 867.6L160.8 866.9L160.2 866.9L159.6 866.9L159.0 866.0L158.4 867.2L157.8 867.1L157.2 867.9L156.6 868.6L156.0 869.2L155.4 869.0L154.8 869.7L154.2 870.3L153.6 869.5L153.0 869.7L152.4 868.8L151.8 868.1L151.2 867.6L150.6 866.1L150.0 864.8L149.4 863.2L148.8 861.8L148.2 861.1L147.6 860.6L147.0 861.7L146.4 861.3L145.8 861.2L145.2 860.5L144.6 859.9L144.0 858.7L143.4 857.1L142.8 854.9L142.2 854.1L141.6 852.1L141.0 851.3L140.4 850.3L139.8 849.0L139.2 848.3L138.6 847.7L138.0 847.1L137.4 847.9L136.8 848.0L136.2 849.0L135.6 850.4L135.0 852.5L134.4 854.4L133.8 855.9L133.2 858.2L132.6 859.7L132.0 860.7L131.4 863.6L130.8 863.6L130.2 863.4L129.6 862.6L129.0 861.1L128.4 860.1L127.8 858.8L127.2 856.5L126.6 854.8L126.0 853.9L125.4 852.7L124.8 852.3L124.2 852.4L123.6 854.5L123.0 856.8L122.4 858.0L121.8 861.0L121.2 861.0L120.6 861.3L120.0 862.2L119.4 863.8L118.8 863.6L118.2 864.1L117.6 865.0L117.0 864.3L116.4 865.3L115.8 865.3L115.2 865.4L114.6 865.2L114.0 865.6L113.4 866.7L112.8 867.1L112.2 868.6L111.6 869.3L111.0 869.0L110.4 869.1L109.8 868.7L109.2 867.8L108.6 868.2L108.0 867.4L107.4 866.9L106.8 867.4L106.2 866.4L105.6 866.8L105.0 866.0L104.4 866.1L103.8 866.8L103.2 866.6L102.6 867.2L102.0 866.5L101.4 866.9L100.8 866.0L100.2 866.1L99.6 866.0L99.0 865.7L98.4 866.3L97.8 866.0L97.2 864.1L96.6 861.2L96.0 858.0L95.4 852.8L94.8 851.9L94.2 854.3L93.6 859.1L93.0 861.3L92.4 863.5L91.8 864.8L91.2 866.0L90.6 866.4L90.0 866.6L89.4 867.9L88.8 868.9L88.2 869.8L87.6 869.6L87.0 870.9L86.4 870.8L85.8 870.6L85.2 870.5L84.6 870.6L84.0 871.2L83.4 870.6L82.8 870.8L82.2 870.1L81.6 869.9L81.0 870.6L80.4 871.3L79.8 870.8L79.2 871.0L78.6 871.0L78.0 871.1L77.4 871.7L76.8 871.3L76.2 870.9L75.6 870.6L75.0 870.9L74.4 870.7L73.8 870.2L73.2 870.7L72.6 870.3L72.0 870.8L71.4 870.6L70.8 870.7L70.2 870.7L69.6 871.1L69.0 870.7L68.4 870.9L67.8 870.9L67.2 871.6L66.6 871.1L66.0 871.4L65.4 871.7L64.8 871.1L64.2 871.2L63.6 871.1L63.0 870.2L62.4 870.9L61.8 869.9L61.2 870.2L60.6 870.9L60.0 871.2L59.4 871.8L58.8 872.2Z" fill="#cdb0ef"/>
<path d="M58.80 871.95L59.40 871.31L60.00 870.75L60.60 870.42L61.20 869.61L61.80 869.45L62.40 870.28L63.00 869.80L63.60 870.42L64.20 870.53L64.80 870.67L65.40 871.01L66.00 870.79L66.60 870.67L67.20 870.96L67.80 870.31L68.40 870.42L69.00 870.25L69.60 870.66L70.20 870.09L70.80 870.06L71.40 869.83L72.00 870.20L72.60 869.86L73.20 870.10L73.80 869.53L74.40 870.16L75.00 870.05L75.60 870.16L76.20 870.46L76.80 870.86L77.40 871.01L78.00 870.64L78.60 870.44L79.20 870.53L79.80 870.27L80.40 870.37L81.00 869.80L81.60 869.39L82.20 869.46L82.80 870.41L83.40 870.04L84.00 870.53L84.60 869.87L85.20 869.90L85.80 870.09L86.40 870.25L87.00 870.49L87.60 869.17L88.20 869.18L88.80 868.38L89.40 867.18L90.00 865.98L90.60 865.80L91.20 865.19L91.80 864.11L92.40 862.82L93.00 860.46L93.60 857.47L94.20 853.08L94.80 850.53L95.40 851.61L96.00 856.58L96.60 860.12L97.20 863.25L97.80 864.78L98.40 865.31L99.00 864.94L99.60 865.42L100.20 865.40L100.80 865.43L101.40 866.25L102.00 865.82L102.60 866.35L103.20 865.99L103.80 865.70L104.40 865.49L105.00 865.21L105.60 866.02L106.20 865.87L106.80 866.46L107.40 866.09L108.00 866.68L108.60 866.92L109.20 867.07L109.80 868.01L110.40 868.64L111.00 868.33L111.60 868.76L112.20 867.83L112.80 866.31L113.40 865.92L114.00 864.77L114.60 864.37L115.20 864.51L115.80 864.56L116.40 864.57L117.00 863.35L117.60 864.03L118.20 863.35L118.80 862.76L119.40 862.86L120.00 861.22L120.60 860.38L121.20 860.10L121.80 859.75L122.40 857.02L123.00 855.49L123.60 853.34L124.20 851.15L124.80 850.76L125.40 851.12L126.00 852.26L126.60 853.71L127.20 855.29L127.80 857.71L128.40 859.24L129.00 860.21L129.60 861.75L130.20 862.63L130.80 862.80L131.40 862.45L132.00 859.72L132.60 858.71L133.20 856.98L133.80 854.88L134.40 852.95L135.00 851.21L135.60 848.98L136.20 847.46L136.80 846.60L137.40 846.50L138.00 845.30L138.60 846.24L139.20 846.91L139.80 847.61L140.40 848.81L141.00 850.07L141.60 850.84L142.20 852.51L142.80 853.61L143.40 855.87L144.00 857.78L144.60 859.04L145.20 859.68L145.80 860.37L146.40 860.44L147.00 860.31L147.60 859.79L148.20 859.90L148.80 860.94L149.40 862.19L150.00 863.81L150.60 865.34L151.20 866.48L151.80 867.43L152.40 868.20L153.00 868.92L153.60 868.94L154.20 869.66L154.80 869.08L155.40 868.53L156.00 868.41L156.60 867.97L157.20 867.16L157.80 866.36L158.40 866.44L159.00 865.35L159.60 866.13L160.20 866.33L160.80 866.04L161.40 867.03L162.00 867.04L162.60 866.20L163.20 866.49L163.80 865.45L164.40 865.62L165.00 865.32L165.60 865.08L166.20 865.19L166.80 865.07L167.40 865.25L168.00 864.93L168.60 864.01L169.20 863.13L169.80 862.77L170.40 861.13L171.00 859.92L171.60 858.68L172.20 856.95L172.80 854.25L173.40 852.22L174.00 849.14L174.60 847.62L175.20 847.05L175.80 845.28L176.40 844.65L177.00 845.24L177.60 845.90L178.20 847.02L178.80 847.98L179.40 848.27L180.00 848.12L180.60 848.31L181.20 847.32L181.80 846.74L182.40 847.35L183.00 849.15L183.60 851.32L184.20 851.27L184.80 849.51L185.40 848.59L186.00 848.22L186.60 848.57L187.20 849.13L187.80 849.15L188.40 849.25L189.00 848.11L189.60 847.71L190.20 847.05L190.80 846.14L191.40 846.08L192.00 847.25L192.60 849.33L193.20 851.60L193.80 853.23L194.40 854.26L195.00 854.54L195.60 856.35L196.20 857.17L196.80 857.97L197.40 858.66L198.00 859.22L198.60 857.72L199.20 855.72L199.80 852.50L200.40 848.97L201.00 845.63L201.60 841.68L202.20 838.48L202.80 834.37L203.40 830.96L204.00 830.81L204.60 832.90L205.20 837.52L205.80 841.96L206.40 846.26L207.00 850.20L207.60 852.08L208.20 852.47L208.80 852.67L209.40 852.88L210.00 853.45L210.60 853.03L211.20 853.99L211.80 854.24L212.40 855.83L213.00 857.62L213.60 858.75L214.20 859.10L214.80 860.34L215.40 860.51L216.00 861.93L216.60 860.69L217.20 859.94L217.80 858.76L218.40 859.53L219.00 860.75L219.60 862.04L220.20 862.78L220.80 864.51L221.40 866.10L222.00 866.20L222.60 866.43L223.20 865.40L223.80 863.93L224.40 864.56L225.00 862.90L225.60 862.64L226.20 861.71L226.80 860.10L227.40 860.18L228.00 860.30L228.60 860.74L229.20 861.74L229.80 862.32L230.40 863.90L231.00 864.70L231.60 865.79L232.20 865.92L232.80 865.81L233.40 866.43L234.00 866.98L234.60 866.90L235.20 867.91L235.80 868.12L236.40 868.36L237.00 868.83L237.60 870.02L238.20 870.14L238.80 870.17L239.40 869.54L240.00 869.74L240.60 869.16L241.20 869.59L241.80 869.65L242.40 869.77L243.00 869.18L243.60 869.26L244.20 867.92L244.80 868.46L245.40 869.11L246.00 869.13L246.60 869.62L247.20 870.38L247.80 870.69L248.40 870.98L249.00 869.95L249.60 869.91L250.20 870.04L250.80 869.70L251.40 869.04L252.00 869.62L252.60 869.37L253.20 869.82L253.80 870.38L254.40 870.28L255.00 870.90L255.60 870.78L256.20 870.71L256.80 870.70L257.40 870.14L258.00 869.43L258.60 870.78L259.20 869.32L259.80 869.89L260.40 868.71L261.00 867.05L261.60 864.86L262.20 862.57L262.80 860.17L263.40 857.94L264.00 855.49L264.60 853.79L265.20 852.14L265.80 850.91L266.40 850.99L267.00 851.33L267.60 853.03L268.20 855.10L268.80 857.47L269.40 863.03L270.00 864.66L270.60 864.63L271.20 865.01L271.80 864.25L272.40 865.26L273.00 865.37L273.60 865.78L274.20 865.27L274.80 865.09L275.40 864.76L276.00 864.45L276.60 864.04L277.20 863.21L277.80 861.30L278.40 858.08L279.00 854.64L279.60 850.83L280.20 846.45L280.80 842.70L281.40 839.65L282.00 838.68L282.60 840.72L283.20 844.94L283.80 848.52L284.40 853.02L285.00 856.64L285.60 858.71L286.20 861.37L286.80 863.06L287.40 864.91L288.00 865.59L288.60 866.14L289.20 866.88L289.80 867.55L290.40 867.22L291.00 866.88L291.60 867.38L292.20 867.43L292.80 867.28L293.40 867.29L294.00 866.80L294.60 867.07L295.20 866.72L295.80 866.77L296.40 866.35L297.00 866.03L297.60 865.47L298.20 865.14L298.80 864.60L299.40 863.93L300.00 862.92L300.60 862.61L301.20 860.84L301.80 860.06L302.40 857.53L303.00 855.78L303.60 853.63L304.20 852.24L304.80 851.48L305.40 851.59L306.00 851.02L306.60 851.43L307.20 852.65L307.80 853.71L308.40 856.36L309.00 863.92" fill="none" stroke="#9a5ad8" stroke-width="1.00" stroke-linejoin="round"/>
<path d="M308.6 866V872.5" stroke="#9a5ad8" stroke-width="1"/>
<rect x="318.5" y="844" width="8.6" height="8.6" fill="#f7b27a"/><rect x="318.5" y="856" width="8.6" height="8.6" fill="#a66ad6"/>
<text x="330.7" y="852.0" font-size="9.60" fill="#111" stroke="#111" stroke-width="0.2">WT</text>
<text x="330.7" y="864.2" font-size="9.60" fill="#111" stroke="#111" stroke-width="0.2">D5</text>
<text x="35.3" y="896.9" font-size="13.70" text-anchor="end" fill="#111" stroke="#111" stroke-width="0.2">8.7</text>
<text x="35.3" y="946.6" font-size="13.70" text-anchor="end" fill="#111" stroke="#111" stroke-width="0.2">0</text>
<path d="M47.8 890.1H42.3V939.7H47.8" fill="none" stroke="#000" stroke-width="1.9"/>
<text x="49.6" y="899.2" font-size="12.20" fill="#111" stroke="#111" stroke-width="0.2">H3K27me3</text>
<path d="M58.8 938.2L59.4 937.8L60.0 937.9L60.6 937.2L61.2 937.4L61.8 936.8L62.4 935.6L63.0 935.5L63.6 936.2L64.2 936.0L64.8 935.4L65.4 936.1L66.0 936.3L66.6 935.3L67.2 934.1L67.8 933.8L68.4 933.3L69.0 933.5L69.6 933.3L70.2 932.8L70.8 933.5L71.4 933.1L72.0 933.5L72.6 933.9L73.2 934.1L73.8 933.6L74.4 933.1L75.0 934.6L75.6 934.2L76.2 934.1L76.8 934.4L77.4 934.1L78.0 934.8L78.6 934.0L79.2 935.0L79.8 934.3L80.4 934.3L81.0 934.1L81.6 933.6L82.2 933.5L82.8 933.5L83.4 933.2L84.0 933.2L84.6 933.0L85.2 932.2L85.8 932.2L86.4 929.5L87.0 930.2L87.6 929.6L88.2 928.7L88.8 928.7L89.4 929.0L90.0 927.4L90.6 927.2L91.2 927.1L91.8 926.7L92.4 927.1L93.0 926.4L93.6 925.1L94.2 924.4L94.8 923.4L95.4 924.1L96.0 924.3L96.6 925.5L97.2 926.8L97.8 926.8L98.4 928.4L99.0 927.5L99.6 926.9L100.2 926.5L100.8 925.7L101.4 925.5L102.0 923.9L102.6 924.3L103.2 925.1L103.8 926.1L104.4 925.9L105.0 926.9L105.6 926.8L106.2 927.5L106.8 929.1L107.4 929.1L108.0 928.4L108.6 929.5L109.2 928.8L109.8 927.7L110.4 927.4L111.0 930.5L111.6 933.5L112.2 932.1L112.8 932.3L113.4 930.8L114.0 930.2L114.6 928.2L115.2 926.4L115.8 926.0L116.4 925.2L117.0 924.4L117.6 924.8L118.2 925.2L118.8 925.4L119.4 925.8L120.0 925.6L120.6 925.3L121.2 923.5L121.8 921.7L122.4 922.1L123.0 920.8L123.6 918.9L124.2 918.0L124.8 915.2L125.4 915.4L126.0 916.7L126.6 916.5L127.2 918.5L127.8 919.7L128.4 920.5L129.0 920.7L129.6 920.5L130.2 921.9L130.8 921.8L131.4 922.5L132.0 921.2L132.6 921.2L133.2 920.1L133.8 918.0L134.4 917.7L135.0 917.8L135.6 919.2L136.2 921.3L136.8 920.6L137.4 920.3L138.0 917.5L138.6 917.1L139.2 915.6L139.8 914.9L140.4 914.8L141.0 913.5L141.6 913.3L142.2 915.0L142.8 916.2L143.4 916.2L144.0 916.4L144.6 916.0L145.2 916.0L145.8 915.2L146.4 916.3L147.0 917.9L147.6 918.7L148.2 919.1L148.8 919.9L149.4 920.6L150.0 920.3L150.6 923.9L151.2 924.5L151.8 926.5L152.4 927.3L153.0 927.5L153.6 927.7L154.2 927.5L154.8 927.5L155.4 926.3L156.0 926.2L156.6 925.4L157.2 925.3L157.8 923.4L158.4 922.3L159.0 921.1L159.6 921.4L160.2 920.3L160.8 919.8L161.4 919.5L162.0 918.4L162.6 916.7L163.2 916.9L163.8 915.2L164.4 914.1L165.0 914.5L165.6 914.2L166.2 913.4L166.8 913.1L167.4 913.5L168.0 911.3L168.6 910.6L169.2 911.0L169.8 912.4L170.4 914.9L171.0 915.3L171.6 915.0L172.2 917.5L172.8 916.3L173.4 918.2L174.0 919.9L174.6 920.4L175.2 919.7L175.8 919.8L176.4 919.7L177.0 918.8L177.6 919.0L178.2 918.6L178.8 918.3L179.4 918.4L180.0 920.1L180.6 919.1L181.2 918.7L181.8 920.2L182.4 920.5L183.0 920.3L183.6 922.3L184.2 922.7L184.8 924.7L185.4 924.9L186.0 925.2L186.6 927.1L187.2 928.9L187.8 930.4L188.4 931.0L189.0 931.9L189.6 932.5L190.2 933.1L190.8 934.4L191.4 934.6L192.0 936.0L192.6 935.7L193.2 935.9L193.8 937.1L194.4 937.3L195.0 938.3L195.6 937.1L196.2 937.5L196.8 936.6L197.4 936.5L198.0 936.2L198.6 934.5L199.2 934.0L199.8 932.7L200.4 931.0L201.0 930.9L201.6 930.3L202.2 929.9L202.8 928.9L203.4 927.8L204.0 926.9L204.6 926.8L205.2 926.2L205.8 925.7L206.4 926.2L207.0 925.3L207.6 924.4L208.2 923.1L208.8 924.0L209.4 924.6L210.0 926.0L210.6 926.6L211.2 925.7L211.8 924.7L212.4 925.7L213.0 924.3L213.6 924.2L214.2 925.6L214.8 927.2L215.4 927.5L216.0 928.0L216.6 928.7L217.2 927.4L217.8 926.7L218.4 927.4L219.0 927.8L219.6 929.5L220.2 929.6L220.8 928.6L221.4 928.7L222.0 928.7L222.6 928.6L223.2 927.3L223.8 927.8L224.4 929.4L225.0 929.3L225.6 930.6L226.2 929.3L226.8 929.1L227.4 928.6L228.0 929.4L228.6 928.3L229.2 928.5L229.8 928.3L230.4 928.4L231.0 929.4L231.6 929.9L232.2 929.8L232.8 929.5L233.4 931.0L234.0 930.8L234.6 931.6L235.2 933.0L235.8 933.2L236.4 933.1L237.0 933.6L237.6 934.1L238.2 933.5L238.8 933.6L239.4 932.5L240.0 930.8L240.6 931.5L241.2 930.8L241.8 929.9L242.4 930.2L243.0 929.3L243.6 929.6L244.2 930.2L244.8 930.2L245.4 930.2L246.0 931.0L246.6 932.6L247.2 931.1L247.8 931.9L248.4 932.3L249.0 931.8L249.6 932.8L250.2 934.2L250.8 933.7L251.4 933.6L252.0 935.2L252.6 933.4L253.2 934.8L253.8 934.7L254.4 935.1L255.0 935.7L255.6 936.4L256.2 936.3L256.8 936.5L257.4 935.2L258.0 936.4L258.6 936.0L259.2 937.5L259.8 937.6L260.4 937.1L261.0 938.1L261.6 937.8L262.2 936.4L262.8 935.5L263.4 935.5L264.0 936.0L264.6 934.2L265.2 935.7L265.8 934.0L266.4 933.9L267.0 934.0L267.6 933.3L268.2 932.4L268.8 930.7L269.4 930.7L270.0 930.2L270.6 929.0L271.2 927.8L271.8 930.0L272.4 930.0L273.0 931.9L273.6 932.5L274.2 931.0L274.8 930.1L275.4 928.7L276.0 928.2L276.6 927.1L277.2 926.3L277.8 926.9L278.4 925.7L279.0 925.5L279.6 924.8L280.2 926.2L280.8 926.5L281.4 925.8L282.0 925.0L282.6 923.7L283.2 922.4L283.8 922.5L284.4 922.1L285.0 922.4L285.6 921.5L286.2 921.2L286.8 920.4L287.4 920.6L288.0 920.2L288.6 920.8L289.2 921.3L289.8 922.0L290.4 923.7L291.0 925.1L291.6 925.1L292.2 927.6L292.8 928.7L293.4 930.7L294.0 931.5L294.6 930.4L295.2 929.5L295.8 928.4L296.4 927.6L297.0 926.8L297.6 927.3L298.2 926.4L298.8 925.3L299.4 925.6L300.0 925.5L300.6 925.0L301.2 925.3L301.8 924.7L302.4 924.4L303.0 923.4L303.6 923.2L304.2 923.7L304.8 923.2L305.4 924.4L306.0 924.9L306.6 925.6L307.2 924.9L307.8 926.9L308.4 928.2L309.0 928.9L309.0 931.1L308.4 930.4L307.8 929.0L307.2 927.9L306.6 928.1L306.0 927.3L305.4 927.1L304.8 926.8L304.2 926.3L303.6 925.9L303.0 926.2L302.4 927.0L301.8 927.5L301.2 928.0L300.6 928.0L300.0 928.2L299.4 928.0L298.8 927.6L298.2 929.3L297.6 929.5L297.0 929.8L296.4 930.1L295.8 930.7L295.2 931.7L294.6 932.2L294.0 933.7L293.4 932.9L292.8 931.5L292.2 930.2L291.6 927.6L291.0 927.7L290.4 926.8L289.8 925.4L289.2 924.3L288.6 923.7L288.0 923.2L287.4 923.5L286.8 923.5L286.2 924.1L285.6 924.4L285.0 925.4L284.4 925.1L283.8 925.4L283.2 925.1L282.6 927.2L282.0 927.6L281.4 928.5L280.8 928.7L280.2 928.6L279.6 927.5L279.0 927.8L278.4 928.6L277.8 929.7L277.2 929.5L276.6 929.6L276.0 930.2L275.4 930.9L274.8 931.8L274.2 933.0L273.6 934.3L273.0 933.6L272.4 932.1L271.8 931.8L271.2 930.0L270.6 931.1L270.0 932.6L269.4 933.4L268.8 933.7L268.2 935.0L267.6 934.9L267.0 935.7L266.4 935.2L265.8 936.1L265.2 936.8L264.6 936.3L264.0 937.7L263.4 937.4L262.8 937.4L262.2 938.2L261.6 939.4L261.0 938.9L260.4 939.6L259.8 939.2L259.2 938.5L258.6 938.7L258.0 937.8L257.4 937.6L256.8 938.7L256.2 937.9L255.6 937.9L255.0 937.0L254.4 937.0L253.8 936.2L253.2 936.6L252.6 935.5L252.0 936.8L251.4 936.2L250.8 935.2L250.2 935.6L249.6 934.7L249.0 934.0L248.4 933.9L247.8 934.4L247.2 932.9L246.6 934.0L246.0 932.7L245.4 931.9L244.8 932.1L244.2 931.9L243.6 931.5L243.0 931.6L242.4 933.0L241.8 932.7L241.2 932.9L240.6 933.3L240.0 933.5L239.4 934.4L238.8 935.2L238.2 935.9L237.6 935.6L237.0 935.6L236.4 934.7L235.8 935.8L235.2 934.7L234.6 934.4L234.0 933.1L233.4 933.4L232.8 932.4L232.2 932.6L231.6 931.7L231.0 931.3L230.4 931.6L229.8 931.1L229.2 930.9L228.6 931.7L228.0 931.3L227.4 931.5L226.8 931.8L226.2 931.3L225.6 932.5L225.0 931.2L224.4 931.7L223.8 930.7L223.2 930.0L222.6 930.7L222.0 930.8L221.4 931.2L220.8 931.0L220.2 932.3L219.6 931.9L219.0 930.7L218.4 930.1L217.8 929.3L217.2 930.0L216.6 930.7L216.0 930.4L215.4 929.8L214.8 929.5L214.2 928.0L213.6 927.1L213.0 926.9L212.4 928.2L211.8 928.2L211.2 928.6L210.6 928.8L210.0 928.2L209.4 927.2L208.8 927.5L208.2 927.0L207.6 927.3L207.0 928.1L206.4 928.7L205.8 929.0L205.2 928.8L204.6 929.5L204.0 929.5L203.4 930.3L202.8 930.9L202.2 931.7L201.6 932.2L201.0 932.9L200.4 933.4L199.8 934.5L199.2 935.7L198.6 935.9L198.0 937.3L197.4 938.1L196.8 938.2L196.2 938.6L195.6 938.7L195.0 939.3L194.4 938.4L193.8 938.2L193.2 937.6L192.6 937.5L192.0 937.4L191.4 936.3L190.8 936.0L190.2 935.5L189.6 934.1L189.0 933.9L188.4 932.9L187.8 932.3L187.2 930.9L186.6 929.6L186.0 927.6L185.4 928.1L184.8 927.3L184.2 926.0L183.6 925.4L183.0 923.2L182.4 923.4L181.8 923.7L181.2 923.1L180.6 922.6L180.0 923.0L179.4 922.0L178.8 922.4L178.2 922.1L177.6 922.0L177.0 923.3L176.4 923.2L175.8 923.3L175.2 923.4L174.6 923.5L174.0 923.3L173.4 921.5L172.8 920.1L172.2 920.8L171.6 919.5L171.0 919.2L170.4 918.7L169.8 916.9L169.2 915.6L168.6 915.1L168.0 915.7L167.4 917.2L166.8 917.4L166.2 917.5L165.6 918.3L165.0 918.5L164.4 918.5L163.8 918.7L163.2 920.6L162.6 921.3L162.0 921.6L161.4 922.9L160.8 923.3L160.2 923.3L159.6 924.2L159.0 924.5L158.4 924.9L157.8 926.8L157.2 927.6L156.6 928.5L156.0 929.1L155.4 929.4L154.8 930.0L154.2 929.7L153.6 930.3L153.0 929.9L152.4 929.9L151.8 929.2L151.2 927.9L150.6 926.4L150.0 924.2L149.4 923.6L148.8 923.3L148.2 922.6L147.6 921.8L147.0 921.8L146.4 919.9L145.8 919.4L145.2 919.6L144.6 920.0L144.0 920.1L143.4 919.7L142.8 920.2L142.2 919.1L141.6 917.9L141.0 917.3L140.4 918.4L139.8 918.7L139.2 919.5L138.6 920.5L138.0 921.4L137.4 923.2L136.8 923.4L136.2 924.4L135.6 923.2L135.0 921.8L134.4 920.9L133.8 921.4L133.2 923.0L132.6 924.6L132.0 924.5L131.4 925.8L130.8 924.6L130.2 924.8L129.6 923.7L129.0 923.7L128.4 923.4L127.8 922.9L127.2 922.3L126.6 920.5L126.0 920.3L125.4 918.8L124.8 919.1L124.2 921.2L123.6 922.6L123.0 924.2L122.4 924.8L121.8 925.6L121.2 926.2L120.6 927.7L120.0 928.1L119.4 928.2L118.8 928.1L118.2 927.6L117.6 927.2L117.0 927.4L116.4 928.5L115.8 928.8L115.2 929.3L114.6 930.3L114.0 932.3L113.4 932.7L112.8 934.2L112.2 933.9L111.6 935.0L111.0 932.6L110.4 930.1L109.8 930.8L109.2 930.8L108.6 931.7L108.0 930.9L107.4 931.0L106.8 931.6L106.2 930.0L105.6 929.1L105.0 929.3L104.4 929.6L103.8 929.1L103.2 928.2L102.6 928.6L102.0 927.0L101.4 927.8L100.8 928.5L100.2 929.1L99.6 930.0L99.0 930.6L98.4 930.4L97.8 929.0L97.2 929.4L96.6 928.1L96.0 927.8L95.4 927.0L94.8 926.3L94.2 927.0L93.6 927.5L93.0 928.6L92.4 929.4L91.8 929.4L91.2 929.8L90.6 929.3L90.0 930.4L89.4 930.9L88.8 930.9L88.2 930.8L87.6 931.7L87.0 933.0L86.4 933.1L85.8 934.2L85.2 934.3L84.6 934.5L84.0 934.8L83.4 935.2L82.8 935.7L82.2 935.1L81.6 935.2L81.0 935.9L80.4 936.0L79.8 936.3L79.2 936.5L78.6 936.3L78.0 936.9L77.4 935.9L76.8 936.0L76.2 935.6L75.6 936.3L75.0 936.0L74.4 935.0L73.8 935.7L73.2 936.1L72.6 935.6L72.0 936.0L71.4 934.8L70.8 935.5L70.2 934.7L69.6 935.0L69.0 935.0L68.4 934.9L67.8 935.9L67.2 936.2L66.6 937.0L66.0 937.5L65.4 937.4L64.8 937.7L64.2 937.4L63.6 937.8L63.0 937.0L62.4 937.1L61.8 938.1L61.2 938.8L60.6 938.2L60.0 939.2L59.4 938.8L58.8 939.5Z" fill="#f8c6c2"/>
<path d="M58.80 938.85L59.40 938.32L60.00 938.55L60.60 937.70L61.20 938.12L61.80 937.46L62.40 936.39L63.00 936.22L63.60 936.99L64.20 936.73L64.80 936.53L65.40 936.77L66.00 936.90L66.60 936.13L67.20 935.11L67.80 934.85L68.40 934.15L69.00 934.27L69.60 934.13L70.20 933.76L70.80 934.50L71.40 933.95L72.00 934.75L72.60 934.76L73.20 935.10L73.80 934.64L74.40 934.06L75.00 935.32L75.60 935.29L76.20 934.86L76.80 935.22L77.40 935.01L78.00 935.86L78.60 935.15L79.20 935.75L79.80 935.32L80.40 935.17L81.00 935.03L81.60 934.43L82.20 934.32L82.80 934.61L83.40 934.19L84.00 934.01L84.60 933.73L85.20 933.23L85.80 933.16L86.40 931.28L87.00 931.56L87.60 930.63L88.20 929.74L88.80 929.81L89.40 929.93L90.00 928.91L90.60 928.22L91.20 928.46L91.80 928.07L92.40 928.25L93.00 927.54L93.60 926.31L94.20 925.73L94.80 924.86L95.40 925.59L96.00 926.03L96.60 926.79L97.20 928.11L97.80 927.93L98.40 929.41L99.00 929.06L99.60 928.45L100.20 927.81L100.80 927.08L101.40 926.67L102.00 925.46L102.60 926.46L103.20 926.62L103.80 927.60L104.40 927.72L105.00 928.11L105.60 927.91L106.20 928.78L106.80 930.38L107.40 930.06L108.00 929.66L108.60 930.59L109.20 929.79L109.80 929.21L110.40 928.75L111.00 931.58L111.60 934.27L112.20 933.01L112.80 933.26L113.40 931.75L114.00 931.24L114.60 929.23L115.20 927.85L115.80 927.40L116.40 926.83L117.00 925.91L117.60 925.98L118.20 926.43L118.80 926.76L119.40 926.98L120.00 926.86L120.60 926.51L121.20 924.83L121.80 923.69L122.40 923.44L123.00 922.51L123.60 920.74L124.20 919.63L124.80 917.18L125.40 917.14L126.00 918.47L126.60 918.47L127.20 920.43L127.80 921.31L128.40 921.95L129.00 922.18L129.60 922.10L130.20 923.35L130.80 923.20L131.40 924.19L132.00 922.84L132.60 922.90L133.20 921.53L133.80 919.66L134.40 919.31L135.00 919.81L135.60 921.20L136.20 922.83L136.80 922.01L137.40 921.78L138.00 919.43L138.60 918.80L139.20 917.58L139.80 916.84L140.40 916.58L141.00 915.43L141.60 915.61L142.20 917.02L142.80 918.18L143.40 917.95L144.00 918.22L144.60 918.01L145.20 917.80L145.80 917.28L146.40 918.09L147.00 919.87L147.60 920.25L148.20 920.84L148.80 921.62L149.40 922.08L150.00 922.21L150.60 925.13L151.20 926.20L151.80 927.85L152.40 928.64L153.00 928.69L153.60 929.02L154.20 928.57L154.80 928.78L155.40 927.84L156.00 927.64L156.60 926.94L157.20 926.46L157.80 925.08L158.40 923.63L159.00 922.83L159.60 922.77L160.20 921.78L160.80 921.58L161.40 921.20L162.00 920.00L162.60 919.01L163.20 918.73L163.80 916.94L164.40 916.32L165.00 916.52L165.60 916.22L166.20 915.46L166.80 915.24L167.40 915.35L168.00 913.50L168.60 912.82L169.20 913.32L169.80 914.63L170.40 916.78L171.00 917.25L171.60 917.27L172.20 919.14L172.80 918.22L173.40 919.85L174.00 921.60L174.60 921.95L175.20 921.53L175.80 921.54L176.40 921.44L177.00 921.07L177.60 920.54L178.20 920.35L178.80 920.35L179.40 920.24L180.00 921.59L180.60 920.88L181.20 920.89L181.80 921.96L182.40 921.96L183.00 921.72L183.60 923.84L184.20 924.37L184.80 925.97L185.40 926.49L186.00 926.36L186.60 928.35L187.20 929.90L187.80 931.35L188.40 931.95L189.00 932.90L189.60 933.29L190.20 934.29L190.80 935.19L191.40 935.46L192.00 936.67L192.60 936.57L193.20 936.75L193.80 937.65L194.40 937.85L195.00 938.80L195.60 937.86L196.20 938.04L196.80 937.42L197.40 937.27L198.00 936.75L198.60 935.18L199.20 934.83L199.80 933.56L200.40 932.18L201.00 931.94L201.60 931.23L202.20 930.79L202.80 929.91L203.40 929.05L204.00 928.20L204.60 928.16L205.20 927.48L205.80 927.32L206.40 927.46L207.00 926.71L207.60 925.86L208.20 925.06L208.80 925.76L209.40 925.89L210.00 927.13L210.60 927.71L211.20 927.18L211.80 926.44L212.40 926.93L213.00 925.61L213.60 925.66L214.20 926.78L214.80 928.32L215.40 928.64L216.00 929.21L216.60 929.71L217.20 928.71L217.80 928.01L218.40 928.72L219.00 929.23L219.60 930.72L220.20 930.95L220.80 929.80L221.40 929.95L222.00 929.71L222.60 929.66L223.20 928.68L223.80 929.26L224.40 930.55L225.00 930.24L225.60 931.57L226.20 930.28L226.80 930.45L227.40 930.08L228.00 930.35L228.60 930.03L229.20 929.70L229.80 929.69L230.40 929.98L231.00 930.38L231.60 930.80L232.20 931.23L232.80 930.96L233.40 932.19L234.00 931.97L234.60 933.02L235.20 933.85L235.80 934.51L236.40 933.93L237.00 934.61L237.60 934.83L238.20 934.70L238.80 934.37L239.40 933.43L240.00 932.12L240.60 932.40L241.20 931.86L241.80 931.32L242.40 931.60L243.00 930.44L243.60 930.58L244.20 931.04L244.80 931.14L245.40 931.06L246.00 931.83L246.60 933.31L247.20 932.00L247.80 933.14L248.40 933.09L249.00 932.91L249.60 933.74L250.20 934.92L250.80 934.47L251.40 934.89L252.00 935.99L252.60 934.48L253.20 935.71L253.80 935.49L254.40 936.04L255.00 936.36L255.60 937.10L256.20 937.12L256.80 937.58L257.40 936.42L258.00 937.12L258.60 937.37L259.20 937.99L259.80 938.40L260.40 938.38L261.00 938.48L261.60 938.63L262.20 937.29L262.80 936.46L263.40 936.45L264.00 936.86L264.60 935.25L265.20 936.24L265.80 935.07L266.40 934.56L267.00 934.89L267.60 934.09L268.20 933.67L268.80 932.20L269.40 932.05L270.00 931.41L270.60 930.06L271.20 928.94L271.80 930.88L272.40 931.02L273.00 932.73L273.60 933.40L274.20 932.00L274.80 930.95L275.40 929.82L276.00 929.17L276.60 928.36L277.20 927.89L277.80 928.30L278.40 927.16L279.00 926.64L279.60 926.16L280.20 927.37L280.80 927.62L281.40 927.12L282.00 926.30L282.60 925.50L283.20 923.77L283.80 923.92L284.40 923.59L285.00 923.91L285.60 922.94L286.20 922.68L286.80 921.96L287.40 922.05L288.00 921.67L288.60 922.24L289.20 922.77L289.80 923.66L290.40 925.27L291.00 926.42L291.60 926.32L292.20 928.87L292.80 930.14L293.40 931.80L294.00 932.62L294.60 931.31L295.20 930.59L295.80 929.55L296.40 928.86L297.00 928.30L297.60 928.41L298.20 927.89L298.80 926.42L299.40 926.83L300.00 926.83L300.60 926.50L301.20 926.61L301.80 926.11L302.40 925.69L303.00 924.81L303.60 924.56L304.20 925.04L304.80 924.96L305.40 925.74L306.00 926.08L306.60 926.86L307.20 926.36L307.80 927.95L308.40 929.29L309.00 930.02" fill="none" stroke="#f08c84" stroke-width="0.90" stroke-linejoin="round"/>
<path d="M58.8 938.2L59.4 938.2L60.0 937.6L60.6 936.7L61.2 936.0L61.8 935.1L62.4 935.6L63.0 936.2L63.6 936.5L64.2 936.1L64.8 935.5L65.4 935.2L66.0 935.2L66.6 933.9L67.2 934.1L67.8 934.9L68.4 935.4L69.0 936.0L69.6 935.0L70.2 934.4L70.8 934.4L71.4 934.2L72.0 934.2L72.6 934.2L73.2 933.6L73.8 933.0L74.4 934.2L75.0 934.2L75.6 935.0L76.2 934.7L76.8 935.2L77.4 934.6L78.0 934.2L78.6 934.0L79.2 932.3L79.8 933.5L80.4 930.2L81.0 930.0L81.6 929.5L82.2 928.9L82.8 928.9L83.4 929.1L84.0 928.2L84.6 927.4L85.2 926.5L85.8 925.4L86.4 926.0L87.0 924.8L87.6 924.5L88.2 922.2L88.8 920.8L89.4 920.3L90.0 919.5L90.6 918.7L91.2 919.2L91.8 919.2L92.4 919.0L93.0 919.7L93.6 918.8L94.2 917.0L94.8 915.7L95.4 917.2L96.0 917.9L96.6 918.5L97.2 918.1L97.8 917.4L98.4 917.0L99.0 916.5L99.6 918.8L100.2 919.4L100.8 919.8L101.4 918.3L102.0 917.1L102.6 916.4L103.2 918.2L103.8 919.3L104.4 919.9L105.0 922.9L105.6 923.6L106.2 924.0L106.8 924.1L107.4 920.9L108.0 920.1L108.6 919.1L109.2 917.4L109.8 917.4L110.4 916.8L111.0 918.3L111.6 919.4L112.2 921.3L112.8 921.4L113.4 921.4L114.0 922.2L114.6 921.7L115.2 919.7L115.8 918.5L116.4 917.2L117.0 916.2L117.6 914.1L118.2 916.3L118.8 917.8L119.4 918.8L120.0 918.5L120.6 917.7L121.2 916.2L121.8 915.9L122.4 914.5L123.0 912.1L123.6 910.3L124.2 907.6L124.8 904.0L125.4 904.9L126.0 905.5L126.6 906.2L127.2 908.4L127.8 909.6L128.4 912.7L129.0 914.8L129.6 914.9L130.2 914.6L130.8 915.0L131.4 914.4L132.0 914.9L132.6 911.6L133.2 910.4L133.8 909.2L134.4 908.1L135.0 905.7L135.6 905.2L136.2 904.0L136.8 903.4L137.4 903.0L138.0 902.5L138.6 903.3L139.2 902.3L139.8 901.4L140.4 900.8L141.0 899.2L141.6 899.1L142.2 897.2L142.8 899.3L143.4 899.8L144.0 901.1L144.6 900.2L145.2 900.4L145.8 901.9L146.4 903.6L147.0 905.1L147.6 905.8L148.2 905.9L148.8 906.7L149.4 907.5L150.0 908.6L150.6 909.2L151.2 911.0L151.8 914.6L152.4 918.4L153.0 922.1L153.6 924.1L154.2 922.9L154.8 919.9L155.4 917.0L156.0 913.5L156.6 911.8L157.2 910.6L157.8 908.4L158.4 906.9L159.0 906.5L159.6 905.7L160.2 905.8L160.8 905.6L161.4 905.4L162.0 904.9L162.6 904.4L163.2 904.1L163.8 903.0L164.4 902.1L165.0 901.2L165.6 901.8L166.2 902.1L166.8 903.0L167.4 902.1L168.0 901.7L168.6 900.9L169.2 900.9L169.8 899.8L170.4 898.5L171.0 899.5L171.6 901.1L172.2 901.4L172.8 902.4L173.4 903.3L174.0 903.1L174.6 905.7L175.2 905.1L175.8 906.0L176.4 906.1L177.0 907.7L177.6 906.7L178.2 904.7L178.8 903.3L179.4 901.6L180.0 899.7L180.6 900.3L181.2 900.8L181.8 901.7L182.4 903.1L183.0 906.7L183.6 908.6L184.2 911.6L184.8 912.0L185.4 913.8L186.0 914.3L186.6 915.6L187.2 918.4L187.8 919.5L188.4 922.5L189.0 923.1L189.6 925.5L190.2 927.1L190.8 930.1L191.4 931.7L192.0 933.6L192.6 935.2L193.2 935.3L193.8 934.5L194.4 935.5L195.0 935.5L195.6 935.0L196.2 934.6L196.8 934.0L197.4 932.9L198.0 931.4L198.6 929.9L199.2 928.2L199.8 926.1L200.4 923.9L201.0 921.7L201.6 918.7L202.2 916.0L202.8 914.8L203.4 912.1L204.0 909.6L204.6 908.1L205.2 907.0L205.8 907.5L206.4 907.3L207.0 908.6L207.6 907.8L208.2 908.7L208.8 909.2L209.4 908.8L210.0 907.9L210.6 907.0L211.2 908.1L211.8 908.3L212.4 909.5L213.0 909.1L213.6 909.4L214.2 908.2L214.8 907.7L215.4 907.5L216.0 904.8L216.6 905.5L217.2 907.0L217.8 908.8L218.4 909.2L219.0 908.9L219.6 909.4L220.2 908.1L220.8 908.5L221.4 909.8L222.0 908.9L222.6 911.5L223.2 910.6L223.8 911.2L224.4 912.7L225.0 912.7L225.6 913.4L226.2 913.0L226.8 913.4L227.4 913.2L228.0 913.7L228.6 914.0L229.2 914.7L229.8 915.5L230.4 915.1L231.0 916.9L231.6 918.7L232.2 920.2L232.8 919.2L233.4 919.0L234.0 918.3L234.6 919.7L235.2 921.1L235.8 922.5L236.4 923.7L237.0 924.1L237.6 925.5L238.2 925.5L238.8 925.0L239.4 925.1L240.0 924.6L240.6 925.5L241.2 925.9L241.8 926.5L242.4 925.4L243.0 924.8L243.6 924.3L244.2 923.9L244.8 925.0L245.4 924.8L246.0 923.6L246.6 922.1L247.2 921.0L247.8 921.2L248.4 922.0L249.0 922.7L249.6 924.1L250.2 924.0L250.8 924.1L251.4 924.7L252.0 925.0L252.6 925.6L253.2 926.7L253.8 927.7L254.4 928.4L255.0 928.7L255.6 930.3L256.2 931.5L256.8 932.7L257.4 933.8L258.0 935.0L258.6 935.4L259.2 937.6L259.8 936.8L260.4 936.3L261.0 937.5L261.6 936.4L262.2 935.2L262.8 933.6L263.4 933.1L264.0 930.7L264.6 928.6L265.2 926.2L265.8 924.2L266.4 923.3L267.0 921.2L267.6 920.5L268.2 920.0L268.8 919.6L269.4 917.6L270.0 917.9L270.6 917.2L271.2 916.8L271.8 918.3L272.4 919.9L273.0 920.3L273.6 920.1L274.2 916.4L274.8 914.4L275.4 911.5L276.0 909.5L276.6 907.5L277.2 908.9L277.8 911.4L278.4 914.0L279.0 914.4L279.6 914.8L280.2 915.7L280.8 915.2L281.4 913.2L282.0 909.4L282.6 908.4L283.2 906.3L283.8 905.2L284.4 907.5L285.0 908.9L285.6 911.1L286.2 914.4L286.8 918.9L287.4 919.8L288.0 920.3L288.6 921.0L289.2 921.6L289.8 921.1L290.4 921.9L291.0 922.4L291.6 922.5L292.2 924.6L292.8 925.2L293.4 925.8L294.0 926.0L294.6 927.2L295.2 925.6L295.8 922.4L296.4 919.3L297.0 918.2L297.6 918.4L298.2 917.4L298.8 917.3L299.4 915.2L300.0 913.8L300.6 912.2L301.2 910.7L301.8 909.5L302.4 910.3L303.0 910.8L303.6 911.6L304.2 912.5L304.8 912.6L305.4 913.7L306.0 912.9L306.6 914.0L307.2 914.8L307.8 915.5L308.4 916.8L309.0 919.0L309.0 922.4L308.4 920.7L307.8 919.8L307.2 918.8L306.6 917.7L306.0 917.2L305.4 917.8L304.8 916.8L304.2 916.3L303.6 915.9L303.0 914.8L302.4 914.6L301.8 914.0L301.2 915.1L300.6 916.6L300.0 918.1L299.4 919.6L298.8 920.8L298.2 921.6L297.6 921.7L297.0 921.9L296.4 922.5L295.8 925.9L295.2 928.7L294.6 929.6L294.0 928.6L293.4 928.3L292.8 927.8L292.2 927.4L291.6 926.0L291.0 925.4L290.4 924.8L289.8 924.8L289.2 925.3L288.6 924.1L288.0 923.7L287.4 923.2L286.8 922.1L286.2 918.8L285.6 915.3L285.0 913.4L284.4 912.3L283.8 910.1L283.2 911.0L282.6 912.8L282.0 914.5L281.4 917.6L280.8 918.8L280.2 919.5L279.6 918.5L279.0 918.0L278.4 918.4L277.8 915.4L277.2 913.8L276.6 911.9L276.0 913.6L275.4 915.7L274.8 918.9L274.2 920.1L273.6 923.0L273.0 923.9L272.4 923.2L271.8 922.0L271.2 920.6L270.6 920.6L270.0 921.4L269.4 921.6L268.8 922.9L268.2 923.3L267.6 923.7L267.0 924.0L266.4 926.2L265.8 927.1L265.2 928.6L264.6 930.7L264.0 932.9L263.4 934.8L262.8 935.5L262.2 937.0L261.6 937.4L261.0 938.5L260.4 937.7L259.8 938.5L259.2 938.5L258.6 936.6L258.0 936.9L257.4 935.2L256.8 934.5L256.2 933.3L255.6 932.2L255.0 931.7L254.4 930.6L253.8 930.0L253.2 929.4L252.6 928.3L252.0 927.5L251.4 927.6L250.8 927.5L250.2 926.7L249.6 926.7L249.0 925.3L248.4 925.9L247.8 924.1L247.2 923.9L246.6 925.1L246.0 926.2L245.4 927.2L244.8 927.3L244.2 926.7L243.6 926.8L243.0 928.3L242.4 927.7L241.8 929.0L241.2 929.1L240.6 927.8L240.0 927.0L239.4 927.5L238.8 927.5L238.2 928.0L237.6 927.8L237.0 926.9L236.4 927.4L235.8 925.6L235.2 925.3L234.6 923.0L234.0 922.0L233.4 922.9L232.8 922.8L232.2 923.4L231.6 922.1L231.0 920.4L230.4 918.6L229.8 919.4L229.2 918.6L228.6 918.1L228.0 918.2L227.4 917.1L226.8 917.7L226.2 916.7L225.6 918.1L225.0 917.2L224.4 916.5L223.8 915.7L223.2 915.5L222.6 915.8L222.0 913.6L221.4 913.8L220.8 913.6L220.2 913.0L219.6 913.8L219.0 913.4L218.4 913.7L217.8 913.7L217.2 911.6L216.6 910.4L216.0 909.6L215.4 911.9L214.8 912.4L214.2 913.2L213.6 913.8L213.0 913.5L212.4 913.9L211.8 913.9L211.2 912.8L210.6 912.0L210.0 912.4L209.4 913.2L208.8 913.4L208.2 913.3L207.6 912.8L207.0 912.8L206.4 912.1L205.8 912.0L205.2 911.7L204.6 914.1L204.0 914.0L203.4 916.2L202.8 918.9L202.2 920.0L201.6 922.0L201.0 924.7L200.4 926.7L199.8 928.8L199.2 930.3L198.6 932.5L198.0 933.2L197.4 934.5L196.8 936.0L196.2 936.1L195.6 936.4L195.0 937.4L194.4 936.9L193.8 936.1L193.2 936.7L192.6 936.9L192.0 935.0L191.4 934.5L190.8 931.9L190.2 930.0L189.6 928.9L189.0 926.4L188.4 925.3L187.8 922.8L187.2 921.9L186.6 919.4L186.0 918.2L185.4 917.7L184.8 916.5L184.2 915.8L183.6 913.8L183.0 911.4L182.4 908.4L181.8 906.9L181.2 906.2L180.6 905.6L180.0 904.9L179.4 906.7L178.8 908.8L178.2 910.0L177.6 911.3L177.0 912.1L176.4 911.1L175.8 911.0L175.2 910.3L174.6 910.4L174.0 908.5L173.4 908.5L172.8 907.3L172.2 906.9L171.6 906.5L171.0 905.1L170.4 904.4L169.8 906.0L169.2 906.0L168.6 906.4L168.0 907.6L167.4 908.3L166.8 907.9L166.2 907.6L165.6 907.6L165.0 906.2L164.4 907.8L163.8 908.1L163.2 908.8L162.6 909.1L162.0 909.6L161.4 910.4L160.8 910.3L160.2 910.3L159.6 910.3L159.0 911.0L158.4 911.4L157.8 913.3L157.2 914.7L156.6 915.7L156.0 918.6L155.4 920.7L154.8 922.9L154.2 926.8L153.6 926.8L153.0 925.0L152.4 921.6L151.8 918.5L151.2 915.1L150.6 913.8L150.0 912.9L149.4 912.2L148.8 912.3L148.2 911.3L147.6 911.2L147.0 909.8L146.4 908.4L145.8 907.1L145.2 905.6L144.6 906.2L144.0 907.0L143.4 906.8L142.8 905.3L142.2 903.6L141.6 904.4L141.0 905.1L140.4 906.6L139.8 907.6L139.2 907.3L138.6 908.3L138.0 908.0L137.4 908.4L136.8 908.4L136.2 908.8L135.6 910.4L135.0 911.3L134.4 912.5L133.8 913.4L133.2 914.7L132.6 916.2L132.0 918.3L131.4 918.3L130.8 919.3L130.2 918.7L129.6 918.4L129.0 918.4L128.4 916.7L127.8 914.5L127.2 913.0L126.6 910.8L126.0 910.3L125.4 909.7L124.8 909.6L124.2 912.0L123.6 914.3L123.0 916.4L122.4 918.2L121.8 919.7L121.2 920.5L120.6 921.2L120.0 922.1L119.4 921.8L118.8 921.0L118.2 920.2L117.6 918.3L117.0 919.6L116.4 920.5L115.8 921.6L115.2 922.8L114.6 924.8L114.0 925.0L113.4 924.7L112.8 924.6L112.2 924.3L111.6 922.5L111.0 922.2L110.4 920.0L109.8 921.1L109.2 920.8L108.6 922.3L108.0 923.3L107.4 924.6L106.8 926.9L106.2 926.8L105.6 926.6L105.0 926.2L104.4 924.6L103.8 922.8L103.2 921.8L102.6 919.9L102.0 921.1L101.4 922.9L100.8 923.4L100.2 922.6L99.6 922.0L99.0 920.7L98.4 920.7L97.8 921.1L97.2 921.6L96.6 922.1L96.0 921.4L95.4 920.9L94.8 919.9L94.2 920.7L93.6 922.5L93.0 922.7L92.4 922.9L91.8 922.8L91.2 922.2L90.6 922.5L90.0 923.9L89.4 923.3L88.8 923.7L88.2 925.4L87.6 927.0L87.0 927.8L86.4 928.3L85.8 928.2L85.2 928.9L84.6 929.8L84.0 930.2L83.4 931.4L82.8 931.4L82.2 930.8L81.6 932.2L81.0 932.1L80.4 932.3L79.8 934.9L79.2 934.6L78.6 935.7L78.0 937.0L77.4 936.4L76.8 936.7L76.2 936.1L75.6 936.6L75.0 935.9L74.4 935.7L73.8 935.3L73.2 935.1L72.6 936.4L72.0 935.9L71.4 936.0L70.8 935.8L70.2 935.7L69.6 936.4L69.0 937.4L68.4 936.6L67.8 936.8L67.2 935.9L66.6 935.7L66.0 936.8L65.4 936.8L64.8 937.0L64.2 937.3L63.6 937.7L63.0 937.7L62.4 937.7L61.8 936.4L61.2 937.7L60.6 938.8L60.0 938.7L59.4 939.3L58.8 939.4Z" fill="#a9dca6"/>
<path d="M58.80 938.78L59.40 938.75L60.00 938.18L60.60 937.76L61.20 936.88L61.80 935.72L62.40 936.61L63.00 936.94L63.60 937.06L64.20 936.70L64.80 936.27L65.40 935.97L66.00 936.00L66.60 934.81L67.20 934.99L67.80 935.87L68.40 936.01L69.00 936.70L69.60 935.67L70.20 935.08L70.80 935.08L71.40 935.09L72.00 935.01L72.60 935.29L73.20 934.37L73.80 934.12L74.40 934.93L75.00 935.05L75.60 935.81L76.20 935.40L76.80 935.96L77.40 935.50L78.00 935.61L78.60 934.83L79.20 933.45L79.80 934.19L80.40 931.24L81.00 931.06L81.60 930.87L82.20 929.84L82.80 930.16L83.40 930.28L84.00 929.18L84.60 928.64L85.20 927.71L85.80 926.84L86.40 927.16L87.00 926.26L87.60 925.75L88.20 923.81L88.80 922.23L89.40 921.78L90.00 921.66L90.60 920.63L91.20 920.74L91.80 920.99L92.40 920.93L93.00 921.23L93.60 920.65L94.20 918.84L94.80 917.81L95.40 919.02L96.00 919.63L96.60 920.33L97.20 919.84L97.80 919.22L98.40 918.85L99.00 918.59L99.60 920.41L100.20 920.98L100.80 921.64L101.40 920.62L102.00 919.08L102.60 918.13L103.20 920.03L103.80 921.06L104.40 922.27L105.00 924.58L105.60 925.11L106.20 925.43L106.80 925.50L107.40 922.75L108.00 921.70L108.60 920.69L109.20 919.13L109.80 919.24L110.40 918.40L111.00 920.25L111.60 920.95L112.20 922.80L112.80 923.02L113.40 923.02L114.00 923.58L114.60 923.27L115.20 921.28L115.80 920.03L116.40 918.83L117.00 917.92L117.60 916.24L118.20 918.22L118.80 919.41L119.40 920.32L120.00 920.30L120.60 919.45L121.20 918.37L121.80 917.76L122.40 916.34L123.00 914.26L123.60 912.32L124.20 909.76L124.80 906.76L125.40 907.30L126.00 907.87L126.60 908.48L127.20 910.71L127.80 912.03L128.40 914.72L129.00 916.58L129.60 916.65L130.20 916.69L130.80 917.11L131.40 916.35L132.00 916.60L132.60 913.92L133.20 912.58L133.80 911.32L134.40 910.31L135.00 908.50L135.60 907.81L136.20 906.41L136.80 905.92L137.40 905.68L138.00 905.27L138.60 905.78L139.20 904.81L139.80 904.51L140.40 903.69L141.00 902.15L141.60 901.78L142.20 900.43L142.80 902.33L143.40 903.30L144.00 904.05L144.60 903.23L145.20 902.98L145.80 904.50L146.40 905.98L147.00 907.44L147.60 908.48L148.20 908.61L148.80 909.53L149.40 909.83L150.00 910.74L150.60 911.50L151.20 913.01L151.80 916.54L152.40 919.99L153.00 923.51L153.60 925.43L154.20 924.80L154.80 921.44L155.40 918.83L156.00 916.03L156.60 913.79L157.20 912.67L157.80 910.84L158.40 909.19L159.00 908.74L159.60 907.97L160.20 908.06L160.80 907.92L161.40 907.92L162.00 907.30L162.60 906.76L163.20 906.45L163.80 905.56L164.40 904.96L165.00 903.70L165.60 904.68L166.20 904.82L166.80 905.45L167.40 905.23L168.00 904.65L168.60 903.62L169.20 903.44L169.80 902.86L170.40 901.45L171.00 902.29L171.60 903.80L172.20 904.16L172.80 904.84L173.40 905.94L174.00 905.80L174.60 908.06L175.20 907.67L175.80 908.53L176.40 908.63L177.00 909.87L177.60 908.99L178.20 907.35L178.80 906.02L179.40 904.15L180.00 902.30L180.60 902.96L181.20 903.54L181.80 904.29L182.40 905.77L183.00 909.04L183.60 911.20L184.20 913.70L184.80 914.24L185.40 915.72L186.00 916.25L186.60 917.52L187.20 920.16L187.80 921.15L188.40 923.90L189.00 924.73L189.60 927.17L190.20 928.54L190.80 931.01L191.40 933.12L192.00 934.27L192.60 936.05L193.20 935.99L193.80 935.28L194.40 936.21L195.00 936.44L195.60 935.71L196.20 935.36L196.80 935.00L197.40 933.72L198.00 932.28L198.60 931.20L199.20 929.24L199.80 927.42L200.40 925.27L201.00 923.22L201.60 920.37L202.20 917.96L202.80 916.84L203.40 914.13L204.00 911.76L204.60 911.07L205.20 909.34L205.80 909.75L206.40 909.71L207.00 910.68L207.60 910.32L208.20 911.02L208.80 911.31L209.40 911.01L210.00 910.17L210.60 909.52L211.20 910.43L211.80 911.14L212.40 911.72L213.00 911.30L213.60 911.57L214.20 910.71L214.80 910.06L215.40 909.75L216.00 907.19L216.60 907.93L217.20 909.31L217.80 911.24L218.40 911.46L219.00 911.19L219.60 911.65L220.20 910.57L220.80 911.06L221.40 911.81L222.00 911.22L222.60 913.67L223.20 913.09L223.80 913.46L224.40 914.62L225.00 914.92L225.60 915.71L226.20 914.85L226.80 915.54L227.40 915.14L228.00 915.95L228.60 916.02L229.20 916.67L229.80 917.43L230.40 916.88L231.00 918.66L231.60 920.41L232.20 921.79L232.80 921.01L233.40 920.96L234.00 920.16L234.60 921.37L235.20 923.21L235.80 924.04L236.40 925.58L237.00 925.50L237.60 926.63L238.20 926.75L238.80 926.24L239.40 926.32L240.00 925.82L240.60 926.68L241.20 927.48L241.80 927.76L242.40 926.56L243.00 926.56L243.60 925.56L244.20 925.32L244.80 926.17L245.40 925.99L246.00 924.92L246.60 923.61L247.20 922.46L247.80 922.65L248.40 923.96L249.00 923.99L249.60 925.41L250.20 925.37L250.80 925.83L251.40 926.14L252.00 926.24L252.60 926.94L253.20 928.05L253.80 928.86L254.40 929.50L255.00 930.23L255.60 931.28L256.20 932.39L256.80 933.62L257.40 934.47L258.00 935.93L258.60 936.02L259.20 938.07L259.80 937.65L260.40 937.01L261.00 937.97L261.60 936.88L262.20 936.08L262.80 934.54L263.40 933.97L264.00 931.81L264.60 929.64L265.20 927.40L265.80 925.64L266.40 924.75L267.00 922.60L267.60 922.07L268.20 921.65L268.80 921.26L269.40 919.57L270.00 919.64L270.60 918.89L271.20 918.70L271.80 920.15L272.40 921.52L273.00 922.07L273.60 921.54L274.20 918.27L274.80 916.69L275.40 913.59L276.00 911.51L276.60 909.71L277.20 911.33L277.80 913.40L278.40 916.23L279.00 916.22L279.60 916.67L280.20 917.61L280.80 917.00L281.40 915.37L282.00 911.96L282.60 910.60L283.20 908.67L283.80 907.66L284.40 909.86L285.00 911.13L285.60 913.22L286.20 916.58L286.80 920.49L287.40 921.51L288.00 922.00L288.60 922.55L289.20 923.45L289.80 922.93L290.40 923.33L291.00 923.90L291.60 924.23L292.20 925.97L292.80 926.49L293.40 927.04L294.00 927.30L294.60 928.40L295.20 927.14L295.80 924.15L296.40 920.89L297.00 920.08L297.60 920.06L298.20 919.49L298.80 919.01L299.40 917.39L300.00 915.97L300.60 914.36L301.20 912.87L301.80 911.76L302.40 912.46L303.00 912.79L303.60 913.71L304.20 914.42L304.80 914.71L305.40 915.76L306.00 915.04L306.60 915.83L307.20 916.79L307.80 917.64L308.40 918.72L309.00 920.67" fill="none" stroke="#46b446" stroke-width="1.00" stroke-linejoin="round"/>
<path d="M308.3 918V940.5" stroke="#46b446" stroke-width="1"/>
<rect x="318.7" y="912.3" width="8.4" height="8.6" fill="#ffb0aa"/><rect x="318.7" y="924.3" width="8.4" height="8.6" fill="#80cf78"/>
<text x="330.7" y="920.3" font-size="9.60" fill="#111" stroke="#111" stroke-width="0.2">WT</text>
<text x="330.7" y="932.6" font-size="9.60" fill="#111" stroke="#111" stroke-width="0.2">D5</text>
<text x="155.3" y="970.8" font-size="12.00" font-weight="bold" fill="#000" stroke="#000" stroke-width="0.2">Tbx3</text>
<path d="M192.7 965.8H294" stroke="#7a7a7a" stroke-width="1.2"/>
<rect x="192.7" y="963.2" width="20.8" height="5.2" fill="#6a6a6a"/><rect x="202" y="961.4" width="2.8" height="9.4" fill="#666"/>
<rect x="216.8" y="961.4" width="2.2" height="9.4" fill="#666"/><rect x="263.4" y="961.4" width="4.4" height="9.4" fill="#666"/><rect x="279.2" y="961.4" width="3.4" height="9.4" fill="#666"/><rect x="282.5" y="963.2" width="11.6" height="5.2" fill="#6a6a6a"/>
<path d="M251.2 961.4v9.4" stroke="#666" stroke-width="1.1"/><path d="M225.8 961.8v8.6M228.2 961.8v8.6M242 961.8v8.6" stroke="#aaa" stroke-width="0.9"/>
<path d="M202.5 961V953.3H209.5" fill="none" stroke="#111" stroke-width="1.1"/><path d="M209 951.1L213 953.3L209 955.5Z" fill="#111"/>
<path d="M470.6 580.5V746.2H602.1" fill="none" stroke="#444" stroke-width="1.1"/>
<path d="M502.3 746.2v2M536.4 746.2v2M571.1 746.2v2M470.6 707.3h-2M470.6 663.8h-2M470.6 620.4h-2" stroke="#444" stroke-width="0.9"/>
<text x="502.3" y="755.8" font-size="8.00" text-anchor="middle" fill="#222" stroke="#222" stroke-width="0.2">4</text>
<text x="536.4" y="755.8" font-size="8.00" text-anchor="middle" fill="#222" stroke="#222" stroke-width="0.2">8</text>
<text x="571.1" y="755.8" font-size="8.00" text-anchor="middle" fill="#222" stroke="#222" stroke-width="0.2">12</text>
<text x="467.4" y="710.2" font-size="8.00" text-anchor="end" fill="#222" stroke="#222" stroke-width="0.2">4</text>
<text x="467.4" y="666.7" font-size="8.00" text-anchor="end" fill="#222" stroke="#222" stroke-width="0.2">8</text>
<text x="467.4" y="623.3" font-size="8.00" text-anchor="end" fill="#222" stroke="#222" stroke-width="0.2">12</text>
<text transform="translate(451.9 742.8) rotate(-90)" font-size="12.15" fill="#111">Mean read concentration (D5)</text>
<text x="455.7" y="768.6" font-size="12.40" fill="#111" stroke="#111" stroke-width="0.2">Mean read concentration (WT)</text>
<text x="524.0" y="737.2" font-size="12.50" fill="#111" stroke="#111" stroke-width="0.2">MTF2</text>
<path d="M476.5 739.8L596.9 587.8" stroke="#444" stroke-width="0.8" stroke-dasharray="1.6 1.7"/>
<path d="M500.8 701.7h0.9M505.4 706.7h0.9M505.5 702.4h0.9M496.8 707.5h0.9M506.2 702.9h0.9M495.7 710.6h0.9M509.7 696.4h0.9M507.1 703.8h0.9M495.7 710.3h0.9M504.1 704.1h0.9M507.7 700.5h0.9M499.3 706.0h0.9M502.7 704.1h0.9M505.0 704.7h0.9M498.4 709.9h0.9M508.2 699.7h0.9M506.0 698.2h0.9M497.6 701.1h0.9M505.5 701.9h0.9M507.7 700.2h0.9M500.0 705.4h0.9M497.8 710.5h0.9M499.8 705.4h0.9M502.2 702.7h0.9M501.8 695.2h0.9M497.1 700.0h0.9M499.2 706.1h0.9M497.3 709.9h0.9M500.1 702.0h0.9M502.1 703.0h0.9M500.7 705.0h0.9M500.3 714.3h0.9M511.6 700.0h0.9M503.7 698.3h0.9M505.4 701.1h0.9M500.3 703.8h0.9M501.9 705.1h0.9M501.7 696.8h0.9M504.5 697.7h0.9M500.3 704.8h0.9M496.9 710.0h0.9M501.1 703.6h0.9M502.9 702.6h0.9M502.4 702.2h0.9M500.3 708.2h0.9" stroke="#a8a8a8" stroke-width="0.9" stroke-linecap="round"/>
<polygon points="494.5,702.2 499.6,698.0 505.4,693.9 511.3,688.1 517.1,681.1 523.0,673.5 530.0,664.5 540.0,650.5 540.5,652.5 536.0,660.5 530.0,670.0 523.0,681.0 517.1,689.0 511.3,695.0 505.4,699.5 500.0,703.5 496.0,705.0" fill="#0a0a0a" filter="url(#bl08)"/>
<path d="M507.9 707.1h0.9M514.3 694.9h0.9M509.5 699.1h0.9M512.6 701.3h0.9M509.8 697.3h0.9M512.1 691.8h0.9M511.2 694.0h0.9M506.1 697.1h0.9M498.4 704.3h0.9M509.5 693.8h0.9M510.2 697.1h0.9M507.0 697.6h0.9M518.2 690.0h0.9M510.8 694.1h0.9M507.0 694.6h0.9M519.1 689.6h0.9M512.5 694.3h0.9M510.5 687.9h0.9M500.2 709.4h0.9M501.8 702.3h0.9M507.9 701.1h0.9M515.5 687.7h0.9M503.3 706.8h0.9M508.0 692.2h0.9M508.6 706.5h0.9M508.5 697.9h0.9M505.3 700.0h0.9M513.8 693.8h0.9M505.3 699.3h0.9M517.3 690.5h0.9M508.8 703.2h0.9M510.5 695.1h0.9M509.9 696.5h0.9M514.9 691.9h0.9M515.1 685.8h0.9M507.7 697.4h0.9M510.8 694.2h0.9M509.7 697.3h0.9M523.5 683.3h0.9M511.5 696.8h0.9M504.8 707.4h0.9M510.1 695.5h0.9M503.9 709.7h0.9M508.9 700.9h0.9M500.8 702.0h0.9M511.9 691.6h0.9M506.0 698.2h0.9M512.8 695.4h0.9M513.2 695.7h0.9M512.4 701.0h0.9M516.5 693.0h0.9M519.7 684.7h0.9M511.2 695.6h0.9M504.2 702.5h0.9M503.7 700.3h0.9M507.9 701.6h0.9M509.0 695.5h0.9M507.5 703.6h0.9M507.5 701.5h0.9M522.1 688.4h0.9M512.4 700.3h0.9M504.1 704.3h0.9M507.8 695.1h0.9M518.3 683.6h0.9M506.5 696.0h0.9M513.0 694.7h0.9M512.5 691.4h0.9M507.6 701.5h0.9M511.7 702.7h0.9M509.1 696.3h0.9" stroke="#2a2a2a" stroke-width="0.9" stroke-linecap="round"/>
<path d="M506.6 700.1h0.9M504.9 701.0h0.9M510.9 695.1h0.9M501.7 704.8h0.9M506.7 699.1h0.9M503.2 703.4h0.9M507.0 701.5h0.9M505.7 702.0h0.9M505.3 704.0h0.9M503.0 708.0h0.9M503.6 700.6h0.9M502.0 705.8h0.9M503.7 702.6h0.9M501.2 705.8h0.9M508.2 703.7h0.9M503.1 702.4h0.9M501.3 704.6h0.9M500.0 705.8h0.9M508.7 697.4h0.9M504.9 702.9h0.9M502.1 700.3h0.9M507.2 701.4h0.9M505.6 704.8h0.9M506.1 699.7h0.9M507.8 698.6h0.9M501.9 712.6h0.9M508.8 695.3h0.9M504.9 705.4h0.9M499.9 705.8h0.9M500.9 703.1h0.9M512.7 699.2h0.9M500.7 711.3h0.9M510.6 698.1h0.9M506.7 701.3h0.9M504.8 701.5h0.9M504.1 701.4h0.9M502.2 708.1h0.9M504.3 700.6h0.9M503.1 707.8h0.9M501.3 707.4h0.9" stroke="#777" stroke-width="0.9" stroke-linecap="round"/>
<polygon points="493.5,702.5 496.7,699.2 498.4,694.5 504.3,685.8 510.1,678.2 515.4,672.9 520.0,668.5 525.4,660.2 533.0,651.4 537.7,646.2 543.0,640.5 549.0,631.5 555.0,623.5 561.0,616.0 566.5,612.0 567.5,613.5 566.0,615.5 560.0,624.0 552.0,635.0 543.0,650.3 533.0,664.3 524.3,675.4 518.0,682.5 512.0,689.5 505.5,694.8 500.0,698.7 494.5,702.6" fill="#ff0b0b"/>
<path d="M502.3 687.3h1.2M504.4 684.1h1.2M503.3 688.9h1.2M503.5 686.8h1.2M499.2 689.3h1.2M504.8 687.7h1.2M501.5 690.8h1.2M502.5 686.7h1.2M504.2 687.6h1.2M504.2 685.5h1.2M502.5 686.8h1.2M500.6 686.4h1.2M502.0 689.4h1.2M503.5 687.2h1.2" stroke="#ff0b0b" stroke-width="1.2" stroke-linecap="round"/>
<path d="M513.0 677.8h1.2M512.9 674.3h1.2M513.2 674.5h1.2M509.3 679.9h1.2M514.6 670.8h1.2M513.0 675.0h1.2M512.4 675.9h1.2M510.9 678.3h1.2M511.8 677.0h1.2M510.8 679.6h1.2M512.2 676.1h1.2M512.1 674.8h1.2M510.7 677.8h1.2M510.4 676.5h1.2" stroke="#ff0b0b" stroke-width="1.2" stroke-linecap="round"/>
<path d="M523.6 662.3h1.2M520.7 669.8h1.2M524.3 661.9h1.2M519.8 662.2h1.2M524.8 661.9h1.2M521.6 663.2h1.2M524.1 661.7h1.2M524.7 662.3h1.2M522.5 664.8h1.2M522.6 664.0h1.2M521.6 664.5h1.2M524.1 663.2h1.2" stroke="#ff0b0b" stroke-width="1.2" stroke-linecap="round"/>
<path d="M534.5 649.4h1.2M536.9 644.4h1.2M535.0 645.6h1.2M537.3 645.8h1.2M531.3 646.3h1.2M534.9 647.4h1.2M534.0 647.1h1.2M535.2 647.1h1.2M534.1 646.1h1.2M536.5 643.8h1.2" stroke="#ff0b0b" stroke-width="1.2" stroke-linecap="round"/>
<path d="M544.8 635.2h1.2M546.2 634.2h1.2M547.7 630.5h1.2M544.7 635.5h1.2M542.4 637.0h1.2M544.2 633.9h1.2M543.5 633.6h1.2M543.9 634.7h1.2" stroke="#ff0b0b" stroke-width="1.2" stroke-linecap="round"/>
<path d="M557.3 619.9h1.2M553.6 620.9h1.2M556.5 618.6h1.2M556.2 620.3h1.2M553.7 622.1h1.2M557.6 621.4h1.2" stroke="#ff0b0b" stroke-width="1.2" stroke-linecap="round"/>
<path d="M494.1 701.8L499.6 698.0L505.4 693.9L511.3 688.1L517.1 681.1L523.0 673.5L530.0 664.5L539.4 650.0L549.6 635.0L559.1 623.4L565.7 613.9L575.9 600.4" fill="none" stroke="#f7a21b" stroke-width="0.9"/>
<circle cx="575.9" cy="600.4" r="0.9" fill="#ff3a1a"/>
<path d="M472.0 787.9V953.8H604.0" fill="none" stroke="#444" stroke-width="1.1"/>
<path d="M503.0 953.8v2M537.7 953.8v2M571.9 953.8v2M472.0 915.2h-2M472.0 871.0h-2M472.0 827.8h-2" stroke="#444" stroke-width="0.9"/>
<text x="503.0" y="963.4" font-size="8.00" text-anchor="middle" fill="#222" stroke="#222" stroke-width="0.2">4</text>
<text x="537.7" y="963.4" font-size="8.00" text-anchor="middle" fill="#222" stroke="#222" stroke-width="0.2">8</text>
<text x="571.9" y="963.4" font-size="8.00" text-anchor="middle" fill="#222" stroke="#222" stroke-width="0.2">12</text>
<text x="468.8" y="918.1" font-size="8.00" text-anchor="end" fill="#222" stroke="#222" stroke-width="0.2">4</text>
<text x="468.8" y="873.9" font-size="8.00" text-anchor="end" fill="#222" stroke="#222" stroke-width="0.2">8</text>
<text x="468.8" y="830.7" font-size="8.00" text-anchor="end" fill="#222" stroke="#222" stroke-width="0.2">12</text>
<text transform="translate(453.9 950.4) rotate(-90)" font-size="12.15" fill="#111">Mean read concentration (D5)</text>
<text x="461.5" y="975.8" font-size="12.40" fill="#111" stroke="#111" stroke-width="0.2">Mean read concentration (WT)</text>
<text x="518.0" y="944.6" font-size="12.50" fill="#111" stroke="#111" stroke-width="0.2">H3K27me3</text>
<path d="M477.8 946.2L598.2 794.5" stroke="#444" stroke-width="0.8" stroke-dasharray="1.6 1.7"/>
<path d="M506.8 912.6h0.9M505.9 913.1h0.9M500.2 912.4h0.9M502.7 916.1h0.9M506.2 907.8h0.9M504.1 917.1h0.9M501.6 908.9h0.9M501.3 909.0h0.9M508.6 919.2h0.9M512.0 905.7h0.9M503.9 920.1h0.9M501.5 914.9h0.9M504.6 911.7h0.9M505.6 912.1h0.9M504.3 915.2h0.9M498.1 911.7h0.9M503.7 913.1h0.9M496.9 912.9h0.9M503.6 910.2h0.9M511.6 916.5h0.9M508.2 920.3h0.9M507.0 907.9h0.9M500.4 911.9h0.9M501.6 906.9h0.9M501.7 913.8h0.9M497.3 912.0h0.9M502.4 923.5h0.9M507.7 905.4h0.9M515.8 909.8h0.9M508.6 906.8h0.9M498.8 911.2h0.9M500.9 916.5h0.9M502.4 916.6h0.9M498.4 910.0h0.9M497.7 908.8h0.9M498.7 918.6h0.9M506.7 910.1h0.9M497.5 916.6h0.9M504.7 910.3h0.9M497.5 916.1h0.9M510.1 915.1h0.9M504.3 915.7h0.9M500.1 911.3h0.9M503.9 909.3h0.9M504.1 914.1h0.9M497.1 915.4h0.9M495.4 902.4h0.9M506.3 909.0h0.9M499.2 911.7h0.9M503.5 908.4h0.9M502.0 919.0h0.9M500.8 908.3h0.9M506.0 919.3h0.9M503.6 908.6h0.9M504.0 914.8h0.9M495.2 909.5h0.9M492.9 921.4h0.9M501.9 919.5h0.9M499.4 909.3h0.9M500.2 914.9h0.9M498.1 919.3h0.9M495.1 913.1h0.9M509.8 908.8h0.9M498.0 920.3h0.9M488.2 914.5h0.9M501.7 917.2h0.9M514.1 908.0h0.9M500.5 917.6h0.9M502.8 909.1h0.9M506.3 908.1h0.9M499.5 911.3h0.9M504.0 913.4h0.9M501.6 917.4h0.9M510.1 909.0h0.9M506.5 915.2h0.9M504.1 917.8h0.9M499.8 905.6h0.9M499.7 917.3h0.9M494.2 920.2h0.9M496.2 914.4h0.9" stroke="#a8a8a8" stroke-width="0.9" stroke-linecap="round"/>
<polygon points="501.1,904.8 507.7,901.5 514.3,896.9 520.9,891.0 527.4,883.5 533.0,876.5 541.3,863.5 551.2,849.8 561.2,835.6 557.0,842.0 555.9,846.9 551.2,853.5 544.6,864.8 534.6,880.0 533.0,883.1 528.7,889.7 524.8,896.3 520.9,902.9 516.9,909.4 513.0,915.3 509.0,918.0 503.0,916.0 498.0,911.5 496.0,908.5" fill="#050505" filter="url(#bl05)"/>
<polygon points="492.5,907.5 492.6,906.8 496.5,900.9 503.1,895.0 507.7,889.7 514.3,883.8 519.5,878.5 524.8,872.6 528.0,869.4 534.6,861.4 541.3,854.8 547.9,846.2 554.5,838.2 561.2,830.9 567.8,822.3 571.1,819.0 573.0,818.5 573.0,820.5 569.1,824.6 561.2,836.6 551.2,850.8 541.3,864.5 533.0,877.5 527.4,884.5 520.9,892.0 514.3,897.9 507.7,902.5 501.1,905.8 493.3,908.5" fill="#ff0b0b"/>
<polygon points="509.0,925.0 511.0,922.6 514.3,917.3 519.5,910.7 524.8,905.5 528.7,900.2 533.0,892.0 537.0,884.0 541.0,875.0 546.0,866.0 551.0,857.5 556.0,849.0 558.0,845.0 555.9,846.9 551.2,853.5 544.6,864.8 534.6,880.0 533.0,883.1 528.7,889.7 524.8,896.3 520.9,902.9 516.9,909.4 513.0,915.3 510.0,919.0" fill="#ff0b0b"/>
<path d="M500.5 898.6h1.2M495.4 896.1h1.2M498.8 899.8h1.2M498.6 899.9h1.2M499.8 890.5h1.2M502.5 891.2h1.2M501.1 895.7h1.2M501.3 893.8h1.2M502.3 896.2h1.2M500.4 895.2h1.2M499.2 898.3h1.2M500.6 895.4h1.2" stroke="#ff0b0b" stroke-width="1.2" stroke-linecap="round"/>
<path d="M509.8 887.4h1.2M509.8 886.8h1.2M511.9 884.3h1.2M509.9 888.5h1.2M507.4 888.3h1.2M508.5 886.4h1.2M507.5 889.2h1.2M508.0 886.1h1.2M511.2 890.2h1.2M508.7 885.7h1.2M507.1 887.2h1.2M510.9 885.7h1.2M509.1 887.1h1.2M511.1 885.5h1.2" stroke="#ff0b0b" stroke-width="1.2" stroke-linecap="round"/>
<path d="M521.3 874.2h1.2M526.8 866.9h1.2M519.9 871.3h1.2M523.5 869.3h1.2M520.7 875.4h1.2M519.4 877.5h1.2M521.6 870.5h1.2M522.7 873.1h1.2M520.7 875.9h1.2M521.2 877.6h1.2M518.3 876.9h1.2M523.6 871.5h1.2" stroke="#ff0b0b" stroke-width="1.2" stroke-linecap="round"/>
<path d="M528.6 861.4h1.2M531.3 860.0h1.2M534.4 855.7h1.2M536.4 858.8h1.2M536.0 858.5h1.2M540.9 851.2h1.2M536.0 856.1h1.2M536.7 857.3h1.2M535.5 858.6h1.2M535.1 859.9h1.2" stroke="#ff0b0b" stroke-width="1.2" stroke-linecap="round"/>
<path d="M550.4 839.8h1.2M548.4 839.7h1.2M549.0 839.0h1.2M550.3 838.9h1.2M546.0 844.8h1.2M549.1 836.7h1.2M545.6 839.3h1.2M552.9 840.1h1.2" stroke="#ff0b0b" stroke-width="1.2" stroke-linecap="round"/>
<path d="M563.0 824.9h1.2M557.8 828.5h1.2M564.1 819.4h1.2M563.7 828.1h1.2M562.5 827.7h1.2M563.0 824.3h1.2" stroke="#ff0b0b" stroke-width="1.2" stroke-linecap="round"/>
<path d="M512.2 924.2h1.2M509.0 921.9h1.2M508.7 916.4h1.2M510.6 923.9h1.2M513.8 918.3h1.2M512.8 919.3h1.2M510.8 922.5h1.2M506.1 922.6h1.2M509.8 921.7h1.2M512.3 915.8h1.2" stroke="#ff0b0b" stroke-width="1.2" stroke-linecap="round"/>
<path d="M522.1 912.7h1.2M524.4 904.8h1.2M518.7 912.5h1.2M520.7 911.7h1.2M524.4 909.4h1.2M523.3 907.4h1.2M522.9 912.6h1.2M518.3 912.2h1.2M521.9 910.2h1.2M524.3 907.9h1.2" stroke="#ff0b0b" stroke-width="1.2" stroke-linecap="round"/>
<path d="M530.7 898.3h1.2M532.1 898.1h1.2M533.5 896.1h1.2M534.4 897.0h1.2M532.9 898.6h1.2M532.3 896.4h1.2M530.0 896.4h1.2M530.3 900.5h1.2" stroke="#ff0b0b" stroke-width="1.2" stroke-linecap="round"/>
<path d="M544.2 879.2h1.2M542.2 880.7h1.2M542.0 877.6h1.2M539.6 878.2h1.2M540.9 877.4h1.2M541.4 876.1h1.2" stroke="#ff0b0b" stroke-width="1.2" stroke-linecap="round"/>
<circle cx="507.6" cy="885.7" r="0.7" fill="#ff0b0b"/>
<circle cx="505.8" cy="890.5" r="0.7" fill="#ff0b0b"/>
<circle cx="517.4" cy="876.4" r="0.7" fill="#ff0b0b"/>
<circle cx="531.3" cy="858.0" r="0.7" fill="#ff0b0b"/>
<circle cx="520.5" cy="923.2" r="0.7" fill="#ff0b0b"/>
<circle cx="527.5" cy="916.6" r="0.7" fill="#ff0b0b"/>
<circle cx="547.2" cy="876.2" r="0.7" fill="#ff0b0b"/>
<circle cx="554.0" cy="859.2" r="0.7" fill="#ff0b0b"/>
<circle cx="535.0" cy="905.7" r="0.7" fill="#ff0b0b"/>
<circle cx="563.8" cy="831.0" r="0.7" fill="#ff0b0b"/>
<circle cx="569.9" cy="841.5" r="0.7" fill="#ff0b0b"/>
<path d="M493.3 907.5L501.1 904.8L507.7 901.5L514.3 896.9L520.9 891.0L527.4 883.5L533.0 876.5L541.3 863.5L551.2 849.8L561.2 835.6L569.1 823.6L575.0 815.5L581.0 808.0L587.2 800.9" fill="none" stroke="#f7a21b" stroke-width="0.9"/>
<circle cx="587.2" cy="800.9" r="0.9" fill="#ff3a1a"/></svg></body></html>
